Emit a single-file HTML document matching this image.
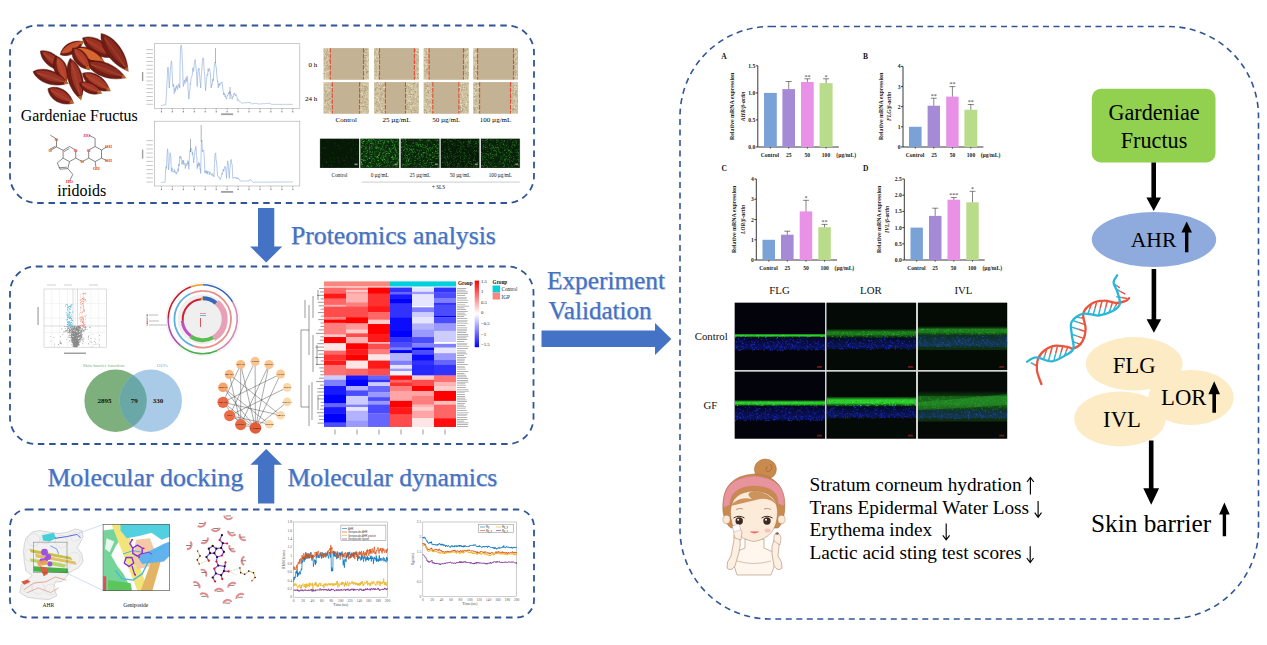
<!DOCTYPE html>
<html><head><meta charset="utf-8">
<style>
html,body{margin:0;padding:0;background:#fff;width:1267px;height:645px;overflow:hidden}
svg{display:block}
text{font-family:"Liberation Serif",serif}
</style></head><body>
<svg width="1267" height="645" viewBox="0 0 1267 645">
<g fill="none" stroke="#2F5597" stroke-width="1.8" stroke-dasharray="6.5 4.8">
<rect x="10" y="25.5" width="524" height="177.5" rx="27"/>
<rect x="10" y="266.5" width="523.5" height="177.5" rx="26"/>
<rect x="10" y="509.5" width="524" height="108" rx="17"/>
</g>
<rect x="680" y="26.5" width="578.5" height="592.5" rx="90" fill="none" stroke="#2F5597" stroke-width="1.6" stroke-dasharray="6 4.5"/>
<g fill="#4472C4">
<path d="M258,208 H274.3 V246.5 H282.3 L266.2,262.5 L250.1,246.5 H258 Z"/>
<path d="M258,503.5 H274.3 V464.8 H282 L266.2,448.9 L250.4,464.8 H258 Z"/>
<path d="M541.5,330.4 H655 V323 L671.4,339 L655,355.1 V347.1 H541.5 Z"/>
</g>
<g fill="#7A8AA8" opacity="0.35">
<text x="291.8" y="245.2" font-size="25.7">Proteomics analysis</text>
<text x="48.199999999999996" y="486.8" font-size="25.85">Molecular docking</text>
<text x="288.40000000000003" y="486.9" font-size="25.6">Molecular dynamics</text>
<text x="547.8" y="289.7" font-size="25.3">Experiment</text>
<text x="549.3" y="320.2" font-size="25.1">Validation</text>
</g><g fill="#4472C4" stroke="#4472C4" stroke-width="0.25">
<text x="291" y="244.2" font-size="25.7">Proteomics analysis</text>
<text x="47.4" y="485.8" font-size="25.85">Molecular docking</text>
<text x="287.6" y="485.9" font-size="25.6">Molecular dynamics</text>
<text x="547" y="288.7" font-size="25.3">Experiment</text>
<text x="548.5" y="319.2" font-size="25.1">Validation</text>
</g>
<g>
<path d="M82.6,37.9 C84.3,50.4 99.2,59.6 113.6,57.2 C109.4,43.1 94.5,33.9 82.6,37.9Z" fill="#6E1C14" stroke="#4A120A" stroke-width="0.5"/>
<path d="M85.1,38.1 C88.0,47.0 101.2,55.2 112.7,55.2 C107.5,45.0 94.3,36.8 85.1,38.1Z" fill="#9A3224"/>
<path d="M86.3,40.2 Q99.5,45.4 110.5,55.2" fill="none" stroke="#D8683A" stroke-width="0.45" opacity="0.6"/>
<path d="M86.3,40.2 Q97.7,48.1 110.5,55.2" fill="none" stroke="#D8683A" stroke-width="0.45" opacity="0.6"/>
<path d="M109.5,57.2 L114.9,57.9 L111.8,53.4Z" fill="#C07030" opacity="0.85"/>
<path d="M101.2,33.6 C99.2,47.4 112.0,65.3 127.9,70.8 C127.8,54.0 115.0,36.1 101.2,33.6Z" fill="#6E1C14" stroke="#4A120A" stroke-width="0.5"/>
<path d="M103.7,35.2 C104.1,45.9 115.5,61.8 127.5,68.3 C125.2,54.8 113.8,38.9 103.7,35.2Z" fill="#8A2C20"/>
<path d="M104.4,38.0 Q116.6,50.7 125.2,67.1" fill="none" stroke="#D8683A" stroke-width="0.45" opacity="0.6"/>
<path d="M104.4,38.0 Q114.0,52.6 125.2,67.1" fill="none" stroke="#D8683A" stroke-width="0.45" opacity="0.6"/>
<path d="M124.0,69.2 L128.7,72.0 L127.6,66.7Z" fill="#C07030" opacity="0.85"/>
<path d="M60.3,54.7 C68.9,58.2 80.0,52.0 83.2,41.6 C72.7,39.1 61.7,45.4 60.3,54.7Z" fill="#6E1C14" stroke="#4A120A" stroke-width="0.5"/>
<path d="M61.2,53.1 C68.0,54.6 77.8,49.0 81.6,41.5 C73.3,41.0 63.4,46.6 61.2,53.1Z" fill="#C2502C"/>
<path d="M63.0,53.1 Q70.8,46.5 80.9,43.0" fill="none" stroke="#D8683A" stroke-width="0.45" opacity="0.6"/>
<path d="M63.0,53.1 Q72.0,48.6 80.9,43.0" fill="none" stroke="#D8683A" stroke-width="0.45" opacity="0.6"/>
<path d="M81.3,45.3 L84.5,40.9 L79.1,41.5Z" fill="#C07030" opacity="0.85"/>
<path d="M75.1,48.5 C77.6,59.6 91.6,66.5 104.3,62.7 C99.5,50.4 85.5,43.6 75.1,48.5Z" fill="#6E1C14" stroke="#4A120A" stroke-width="0.5"/>
<path d="M77.4,48.4 C80.6,56.1 93.1,62.2 103.3,61.1 C98.0,52.3 85.5,46.2 77.4,48.4Z" fill="#D8662E"/>
<path d="M78.6,50.2 Q90.8,53.5 101.4,61.3" fill="none" stroke="#D8683A" stroke-width="0.45" opacity="0.6"/>
<path d="M78.6,50.2 Q89.4,56.2 101.4,61.3" fill="none" stroke="#D8683A" stroke-width="0.45" opacity="0.6"/>
<path d="M100.2,63.2 L105.7,63.4 L102.1,59.2Z" fill="#C07030" opacity="0.85"/>
<path d="M40.4,51.0 C40.8,61.7 52.7,71.2 65.2,70.8 C62.9,58.5 51.0,49.0 40.4,51.0Z" fill="#6E1C14" stroke="#4A120A" stroke-width="0.5"/>
<path d="M42.5,51.4 C44.2,59.2 54.8,67.7 64.6,69.1 C61.1,59.8 50.5,51.3 42.5,51.4Z" fill="#9E3628"/>
<path d="M43.4,53.3 Q54.2,59.2 62.7,68.8" fill="none" stroke="#D8683A" stroke-width="0.45" opacity="0.6"/>
<path d="M43.4,53.3 Q52.4,61.3 62.7,68.8" fill="none" stroke="#D8683A" stroke-width="0.45" opacity="0.6"/>
<path d="M61.1,70.3 L66.4,71.7 L63.9,66.9Z" fill="#C07030" opacity="0.85"/>
<path d="M86.3,62.7 C91.6,74.7 110.4,81.9 125.4,77.6 C117.0,64.5 98.2,57.3 86.3,62.7Z" fill="#6E1C14" stroke="#4A120A" stroke-width="0.5"/>
<path d="M89.0,62.6 C94.6,70.9 111.3,77.3 123.8,75.9 C115.5,66.5 98.8,60.1 89.0,62.6Z" fill="#8E2E22"/>
<path d="M91.0,64.5 Q106.7,67.9 121.5,76.1" fill="none" stroke="#D8683A" stroke-width="0.45" opacity="0.6"/>
<path d="M91.0,64.5 Q105.6,70.8 121.5,76.1" fill="none" stroke="#D8683A" stroke-width="0.45" opacity="0.6"/>
<path d="M121.3,78.4 L126.8,78.2 L122.9,74.3Z" fill="#C07030" opacity="0.85"/>
<path d="M55.9,55.9 C50.1,64.8 54.8,77.9 65.8,83.2 C70.9,72.1 66.1,59.0 55.9,55.9Z" fill="#6E1C14" stroke="#4A120A" stroke-width="0.5"/>
<path d="M57.5,57.2 C54.4,64.4 58.7,76.0 66.3,81.5 C68.6,72.4 64.4,60.7 57.5,57.2Z" fill="#B2422C"/>
<path d="M57.1,59.2 Q63.0,68.8 64.8,80.5" fill="none" stroke="#D8683A" stroke-width="0.45" opacity="0.6"/>
<path d="M57.1,59.2 Q60.3,69.8 64.8,80.5" fill="none" stroke="#D8683A" stroke-width="0.45" opacity="0.6"/>
<path d="M62.6,80.7 L66.4,84.6 L66.7,79.2Z" fill="#C07030" opacity="0.85"/>
<path d="M72.7,47.9 C69.6,57.8 77.6,68.3 89.4,69.6 C91.1,57.8 83.1,47.4 72.7,47.9Z" fill="#6E1C14" stroke="#4A120A" stroke-width="0.5"/>
<path d="M74.5,48.5 C73.6,56.0 80.7,65.3 89.4,67.9 C89.1,58.8 81.9,49.6 74.5,48.5Z" fill="#AE3E2A"/>
<path d="M74.7,50.5 Q82.8,57.3 87.7,67.4" fill="none" stroke="#D8683A" stroke-width="0.45" opacity="0.6"/>
<path d="M74.7,50.5 Q80.5,59.1 87.7,67.4" fill="none" stroke="#D8683A" stroke-width="0.45" opacity="0.6"/>
<path d="M85.5,68.1 L90.3,70.8 L89.0,65.4Z" fill="#C07030" opacity="0.85"/>
<path d="M82.6,73.3 C83.8,84.6 96.9,93.0 109.9,90.7 C106.5,77.9 93.4,69.6 82.6,73.3Z" fill="#6E1C14" stroke="#4A120A" stroke-width="0.5"/>
<path d="M84.8,73.4 C87.2,81.5 98.8,88.9 109.1,88.9 C104.8,79.6 93.1,72.2 84.8,73.4Z" fill="#A63A2A"/>
<path d="M85.9,75.4 Q97.5,80.0 107.2,88.9" fill="none" stroke="#D8683A" stroke-width="0.45" opacity="0.6"/>
<path d="M85.9,75.4 Q95.9,82.5 107.2,88.9" fill="none" stroke="#D8683A" stroke-width="0.45" opacity="0.6"/>
<path d="M105.8,90.6 L111.2,91.5 L108.1,86.9Z" fill="#C07030" opacity="0.85"/>
<path d="M33.0,71.7 C37.8,82.7 54.5,88.2 67.7,83.2 C60.1,71.3 43.4,65.7 33.0,71.7Z" fill="#6E1C14" stroke="#4A120A" stroke-width="0.5"/>
<path d="M35.4,71.4 C40.4,78.9 55.3,83.8 66.3,81.6 C58.8,73.3 43.9,68.4 35.4,71.4Z" fill="#963226"/>
<path d="M37.1,73.1 Q51.1,75.2 64.2,82.1" fill="none" stroke="#D8683A" stroke-width="0.45" opacity="0.6"/>
<path d="M37.1,73.1 Q50.1,78.1 64.2,82.1" fill="none" stroke="#D8683A" stroke-width="0.45" opacity="0.6"/>
<path d="M63.7,84.2 L69.1,83.7 L65.1,80.0Z" fill="#C07030" opacity="0.85"/>
<path d="M70.2,58.4 C63.1,69.8 68.2,89.5 80.7,99.3 C87.0,84.6 81.9,65.0 70.2,58.4Z" fill="#6E1C14" stroke="#4A120A" stroke-width="0.5"/>
<path d="M71.9,60.6 C68.2,70.1 72.7,87.6 81.3,97.0 C84.3,84.6 79.8,67.1 71.9,60.6Z" fill="#9C3426"/>
<path d="M71.4,63.3 Q77.9,78.2 79.7,95.2" fill="none" stroke="#D8683A" stroke-width="0.45" opacity="0.6"/>
<path d="M71.4,63.3 Q74.8,79.0 79.7,95.2" fill="none" stroke="#D8683A" stroke-width="0.45" opacity="0.6"/>
<path d="M77.7,96.5 L81.1,100.8 L82.0,95.4Z" fill="#C07030" opacity="0.85"/>
<path d="M79.5,83.2 C81.4,91.7 91.8,96.5 101.2,93.1 C97.6,83.8 87.2,79.0 79.5,83.2Z" fill="#6E1C14" stroke="#4A120A" stroke-width="0.5"/>
<path d="M81.1,83.1 C83.6,88.9 92.9,93.2 100.5,91.9 C96.5,85.3 87.2,81.1 81.1,83.1Z" fill="#A23628"/>
<path d="M82.1,84.4 Q91.1,86.5 99.0,92.1" fill="none" stroke="#D8683A" stroke-width="0.45" opacity="0.6"/>
<path d="M82.1,84.4 Q90.1,88.6 99.0,92.1" fill="none" stroke="#D8683A" stroke-width="0.45" opacity="0.6"/>
<path d="M97.1,93.7 L102.6,93.8 L98.9,89.7Z" fill="#C07030" opacity="0.85"/>
<path d="M47.9,88.8 C49.1,99.7 61.3,106.6 73.3,103.1 C70.0,91.0 57.8,84.1 47.9,88.8Z" fill="#6E1C14" stroke="#4A120A" stroke-width="0.5"/>
<path d="M49.9,88.7 C52.2,96.4 63.0,102.4 72.5,101.4 C68.4,92.8 57.6,86.7 49.9,88.7Z" fill="#A0342A"/>
<path d="M50.9,90.5 Q61.7,93.9 70.7,101.6" fill="none" stroke="#D8683A" stroke-width="0.45" opacity="0.6"/>
<path d="M50.9,90.5 Q60.2,96.5 70.7,101.6" fill="none" stroke="#D8683A" stroke-width="0.45" opacity="0.6"/>
<path d="M69.2,103.3 L74.6,103.8 L71.3,99.4Z" fill="#C07030" opacity="0.85"/>
</g>
<text x="20.8" y="121.2" font-size="15.9" fill="#000">Gardeniae Fructus</text>
<text x="57.3" y="196.3" font-size="16" fill="#000">iridoids</text>
<g stroke="#555" stroke-width="0.7" fill="none">
<line x1="50.3" y1="135.2" x2="56.5" y2="139"/>
<line x1="56.5" y1="139" x2="56.5" y2="146.9"/>
<line x1="56.5" y1="146.9" x2="50.3" y2="150.3"/>
<line x1="56.5" y1="146.9" x2="63.1" y2="150.3"/>
<line x1="63.1" y1="150.3" x2="69.5" y2="146.5"/>
<line x1="69.5" y1="146.5" x2="75.7" y2="150"/>
<line x1="75.7" y1="150" x2="75.7" y2="158.1"/>
<line x1="75.7" y1="158.1" x2="69.5" y2="161.6"/>
<line x1="69.5" y1="161.6" x2="63.1" y2="158.1"/>
<line x1="63.1" y1="158.1" x2="63.1" y2="150.3"/>
<line x1="63.1" y1="158.1" x2="57.3" y2="162.8"/>
<line x1="57.3" y1="162.8" x2="60" y2="169.2"/>
<line x1="60" y1="169.2" x2="67.8" y2="168.6"/>
<line x1="67.8" y1="168.6" x2="69.5" y2="161.6"/>
<line x1="67.8" y1="168.6" x2="72.8" y2="174.4"/>
<line x1="72.8" y1="174.4" x2="69.5" y2="181"/>
<line x1="75.7" y1="158.1" x2="82.3" y2="161.6"/>
<line x1="82.3" y1="161.6" x2="88.7" y2="158.1"/>
<line x1="88.7" y1="158.1" x2="88.7" y2="150"/>
<line x1="88.7" y1="150" x2="95.1" y2="146.5"/>
<line x1="95.1" y1="146.5" x2="95.1" y2="138.4"/>
<line x1="95.1" y1="138.4" x2="89" y2="135.2"/>
<line x1="95.1" y1="146.5" x2="101.5" y2="150"/>
<line x1="101.5" y1="150" x2="107.5" y2="146.5"/>
<line x1="101.5" y1="150" x2="101.5" y2="158.1"/>
<line x1="101.5" y1="158.1" x2="107.5" y2="161"/>
<line x1="101.5" y1="158.1" x2="95.1" y2="161.6"/>
<line x1="95.1" y1="161.6" x2="88.7" y2="158.1"/>
<line x1="95.1" y1="161.6" x2="96" y2="167.5"/>
<line x1="64" y1="151.6" x2="69.3" y2="148.5"/><line x1="58.8" y1="167.8" x2="66.8" y2="167.2"/><line x1="55.5" y1="146.2" x2="50.1" y2="149.1"/>
</g>
<g fill="#F03030" font-size="4.4" font-weight="bold" style="font-family:'Liberation Sans',sans-serif">
<text x="56.5" y="140.5" text-anchor="middle">O</text>
<text x="50.3" y="151.8" text-anchor="middle">O</text>
<text x="75.7" y="151.5" text-anchor="middle">O</text>
<text x="82.3" y="163.2" text-anchor="middle">O</text>
<text x="88.7" y="151.5" text-anchor="middle">O</text>
<text x="87" y="136.6" text-anchor="middle">HO</text>
<text x="108.5" y="147.6" text-anchor="middle">OH</text>
<text x="108.5" y="162.4" text-anchor="middle">OH</text>
<text x="96.3" y="169.8" text-anchor="middle">OH</text>
<text x="69.5" y="182.6" text-anchor="middle">HO</text>
</g>
<rect x="154.4" y="43.7" width="145.4" height="64.6" fill="#fff" stroke="#a8a8a8" stroke-width="0.6"/>
<polyline points="160.9,105.5 161.3,105.4 161.6,105.4 162.0,105.3 162.3,105.3 162.7,105.2 163.0,105.2 163.4,105.1 163.7,105.1 164.1,105.0 164.4,105.0 164.8,104.9 165.1,104.9 165.5,104.8 165.8,104.8 166.2,97.4 166.5,93.6 166.9,84.6 167.2,79.4 167.6,69.0 167.9,67.1 168.3,67.8 168.6,75.5 169.0,82.3 169.3,88.0 169.7,80.6 170.0,76.2 170.4,70.1 170.7,66.6 171.1,62.5 171.4,60.8 171.8,63.7 172.1,70.9 172.4,78.9 172.8,85.2 173.1,87.0 173.5,84.2 173.8,86.8 174.2,93.6 174.5,91.7 174.9,88.1 175.2,89.5 175.6,91.4 175.9,86.7 176.3,87.8 176.6,85.5 177.0,86.5 177.3,89.3 177.7,89.4 178.0,85.7 178.4,84.6 178.7,83.7 179.1,86.7 179.4,85.3 179.8,88.0 180.1,63.9 180.5,47.6 180.8,47.7 181.2,44.9 181.5,46.3 181.9,51.7 182.2,60.2 182.6,65.9 182.9,75.9 183.3,86.6 183.6,85.1 184.0,82.3 184.3,79.8 184.7,81.7 185.0,83.7 185.4,81.1 185.7,79.0 186.1,77.6 186.4,78.5 186.8,81.8 187.1,76.1 187.5,81.1 187.8,82.2 188.2,89.7 188.5,94.1 188.8,99.2 189.2,96.1 189.5,90.4 189.9,90.0 190.2,83.5 190.6,84.6 190.9,79.5 191.3,77.2 191.6,76.9 192.0,75.7 192.3,75.0 192.7,69.0 193.0,67.7 193.4,71.5 193.7,71.3 194.1,65.5 194.5,62.4 194.8,61.2 195.2,59.6 195.5,62.9 196.0,67.0 196.4,70.8 196.8,77.9 197.2,86.6 197.6,77.2 197.9,74.3 198.3,69.4 198.6,69.9 199.0,68.1 199.3,73.8 199.7,75.0 200.0,81.5 200.4,83.9 200.7,88.0 201.1,77.8 201.4,75.8 201.8,69.2 202.1,64.8 202.5,61.6 202.8,58.0 203.2,57.8 203.5,59.0 203.9,67.1 204.3,71.2 204.8,77.0 205.2,83.9 205.6,90.8 205.9,87.3 206.3,81.1 206.6,79.2 207.0,75.2 207.3,74.3 207.7,75.5 208.1,68.7 208.4,71.4 208.8,70.2 209.1,68.7 209.5,68.5 209.9,71.2 210.3,72.7 210.8,81.9 211.2,88.0 211.5,84.3 211.9,85.4 212.2,84.4 212.6,80.3 212.9,78.8 213.3,81.1 213.6,75.1 214.0,69.7 214.3,66.8 214.7,63.2 215.0,62.1 215.4,62.2 215.7,64.1 216.1,68.1 216.4,67.9 216.8,75.5 217.1,77.8 217.5,81.7 217.8,81.0 218.2,88.0 218.5,86.9 218.9,83.6 219.2,85.4 219.6,83.7 219.9,85.5 220.3,83.0 220.6,82.8 220.9,82.7 221.3,82.9 221.6,83.2 222.0,81.9 222.3,83.2 222.7,88.0 223.0,90.8 223.4,91.7 223.7,95.0 224.1,92.8 224.4,95.0 224.8,94.3 225.1,96.9 225.5,95.5 225.8,97.8 226.2,98.1 226.5,99.2 226.9,96.6 227.2,96.4 227.6,95.0 227.9,95.4 228.3,93.1 228.6,93.8 229.0,92.1 229.3,93.6 229.7,92.3 230.0,91.2 230.4,92.8 230.7,94.4 231.1,94.3 231.4,96.0 231.8,96.6 232.1,99.2 232.5,97.4 232.8,96.5 233.2,97.0 233.5,94.1 233.9,94.3 234.2,93.0 234.6,93.1 234.9,95.0 235.3,95.6 235.6,96.0 236.0,94.2 236.3,95.7 236.7,96.1 237.0,97.1 237.3,99.4 237.7,100.6 238.0,99.3 238.4,100.2 238.7,100.3 239.1,100.9 239.4,101.5 239.8,101.5 240.1,101.8 240.5,102.2 240.8,102.4 241.2,102.6 241.5,103.0 241.9,103.4 242.2,103.3 242.6,103.0 242.9,103.1 243.3,103.1 243.6,102.8 244.0,102.9 244.3,102.9 244.7,103.0 245.0,102.7 245.4,103.0 245.7,102.8 246.1,102.8 246.4,102.4 246.8,102.8 247.1,102.6 247.5,102.6 247.8,102.9 248.2,102.7 248.5,102.2 248.9,102.3 249.2,102.6 249.6,102.6 249.9,102.0 250.3,102.7 250.6,102.7 251.0,103.1 251.3,103.5 251.7,104.1 252.0,104.0 252.4,103.9 252.7,103.7 253.0,103.8 253.4,103.7 253.7,103.5 254.1,103.4 254.4,103.4 254.8,103.5 255.1,103.2 255.5,103.3 255.8,103.4 256.2,103.2 256.5,103.5 256.9,103.6 257.2,103.5 257.6,103.7 257.9,103.8 258.3,103.9 258.6,104.1 259.0,104.0 259.3,104.0 259.7,103.9 260.0,104.0 260.4,103.9 260.7,103.9 261.1,103.8 261.4,103.9 261.8,103.8 262.1,103.8 262.5,103.7 262.8,103.7 263.2,103.7 263.5,103.7 263.9,103.5 264.2,103.7 264.6,103.7 264.9,103.6 265.3,103.7 265.6,103.4 266.0,103.4 266.3,103.6 266.7,103.4 267.0,103.5 267.4,103.3 267.7,103.4 268.1,103.5 268.4,103.3 268.8,103.5 269.1,103.1 269.4,103.1 269.8,103.2 270.1,103.3 270.5,103.4 270.8,103.7 271.2,104.4 271.5,104.4 271.9,104.4 272.2,104.4 272.6,104.4 272.9,104.4 273.3,104.4 273.6,104.4 274.0,104.4 274.3,104.4 274.7,104.4 275.0,104.4 275.4,104.4 275.7,104.4 276.1,104.4 276.4,104.4 276.8,104.4 277.1,104.4 277.5,104.4 277.8,104.4 278.2,104.4 278.5,104.4 278.9,104.4 279.2,104.4 279.6,104.4 279.9,104.4 280.3,104.4 280.6,104.4 281.0,104.4 281.3,104.4 281.7,104.4 282.0,104.4 282.4,104.4 282.7,104.4 283.1,104.4 283.4,104.4 283.8,104.4 284.1,104.4 284.5,104.4 284.8,104.4 285.2,104.4 285.5,104.4 285.8,104.4 286.2,104.4 286.5,104.4 286.9,104.4 287.2,104.4 287.6,104.4 287.9,104.4 288.3,104.4 288.6,104.4 289.0,104.4 289.3,104.4 289.7,104.4 290.0,104.4 290.4,104.4 290.7,104.4 291.1,104.4 291.4,104.4 291.8,104.4 292.1,104.4 292.5,104.4 292.8,104.4" fill="none" stroke="#86A8D8" stroke-width="0.6"/>
<g stroke="#666" stroke-width="0.5">
<line x1="161.4" y1="108.3" x2="161.4" y2="109.8"/>
<line x1="172.3" y1="108.3" x2="172.3" y2="109.8"/>
<line x1="183.3" y1="108.3" x2="183.3" y2="109.8"/>
<line x1="194.2" y1="108.3" x2="194.2" y2="109.8"/>
<line x1="205.2" y1="108.3" x2="205.2" y2="109.8"/>
<line x1="216.2" y1="108.3" x2="216.2" y2="109.8"/>
<line x1="227.1" y1="108.3" x2="227.1" y2="109.8"/>
<line x1="238.1" y1="108.3" x2="238.1" y2="109.8"/>
<line x1="249.0" y1="108.3" x2="249.0" y2="109.8"/>
<line x1="260.0" y1="108.3" x2="260.0" y2="109.8"/>
<line x1="270.9" y1="108.3" x2="270.9" y2="109.8"/>
<line x1="281.9" y1="108.3" x2="281.9" y2="109.8"/>
<line x1="292.8" y1="108.3" x2="292.8" y2="109.8"/>
</g>
<g fill="#777">
<rect x="160.9" y="110.8" width="1" height="1.6"/>
<rect x="171.8" y="110.8" width="1" height="1.6"/>
<rect x="182.8" y="110.8" width="1" height="1.6"/>
<rect x="193.8" y="110.8" width="1" height="1.6"/>
<rect x="204.7" y="110.8" width="1" height="1.6"/>
<rect x="215.7" y="110.8" width="1" height="1.6"/>
<rect x="226.6" y="110.8" width="1" height="1.6"/>
<rect x="237.6" y="110.8" width="1" height="1.6"/>
<rect x="248.5" y="110.8" width="1" height="1.6"/>
<rect x="259.5" y="110.8" width="1" height="1.6"/>
<rect x="270.4" y="110.8" width="1" height="1.6"/>
<rect x="281.4" y="110.8" width="1" height="1.6"/>
<rect x="292.3" y="110.8" width="1" height="1.6"/>
<rect x="146.4" y="49.2" width="6.5" height="0.9" opacity="0.45"/>
<rect x="146.4" y="53.1" width="6.5" height="0.9" opacity="0.45"/>
<rect x="146.4" y="57.0" width="6.5" height="0.9" opacity="0.45"/>
<rect x="146.4" y="61.0" width="6.5" height="0.9" opacity="0.45"/>
<rect x="146.4" y="64.8" width="6.5" height="0.9" opacity="0.45"/>
<rect x="146.4" y="68.8" width="6.5" height="0.9" opacity="0.45"/>
<rect x="146.4" y="72.6" width="6.5" height="0.9" opacity="0.45"/>
<rect x="146.4" y="76.5" width="6.5" height="0.9" opacity="0.45"/>
<rect x="146.4" y="80.5" width="6.5" height="0.9" opacity="0.45"/>
<rect x="146.4" y="84.4" width="6.5" height="0.9" opacity="0.45"/>
<rect x="146.4" y="88.2" width="6.5" height="0.9" opacity="0.45"/>
<rect x="146.4" y="92.1" width="6.5" height="0.9" opacity="0.45"/>
<rect x="146.4" y="96.0" width="6.5" height="0.9" opacity="0.45"/>
<rect x="146.4" y="100.0" width="6.5" height="0.9" opacity="0.45"/>
<rect x="146.4" y="103.8" width="6.5" height="0.9" opacity="0.45"/>
<rect x="221.10000000000002" y="113.3" width="12" height="1.8" opacity="0.7"/>
<rect x="141.9" y="72.0" width="1.4" height="9" opacity="0.7"/>
</g>
<line x1="215.5" y1="48" x2="215.5" y2="63" stroke="#444" stroke-width="0.4"/><line x1="230" y1="87" x2="230" y2="99" stroke="#444" stroke-width="0.4"/>
<rect x="154.4" y="121.2" width="145.4" height="64.8" fill="#fff" stroke="#a8a8a8" stroke-width="0.6"/>
<polyline points="160.9,182.3 161.3,182.3 161.6,182.3 162.0,182.3 162.3,182.3 162.7,182.3 163.0,182.3 163.4,182.3 163.7,182.3 164.1,182.3 164.4,182.3 164.8,182.3 165.1,182.3 165.4,174.2 165.8,168.2 166.1,166.3 166.5,168.6 167.0,155.3 167.5,148.8 167.9,151.4 168.2,162.8 168.6,170.0 169.1,163.4 169.6,161.6 170.0,152.7 170.4,153.3 170.9,158.1 171.4,171.4 171.9,167.6 172.4,168.6 172.8,172.1 173.1,171.3 173.5,171.1 173.8,171.0 174.2,172.5 174.5,169.5 174.9,170.9 175.2,171.6 175.6,173.1 175.9,172.8 176.3,174.2 176.6,172.2 177.0,172.7 177.3,171.4 177.7,170.8 178.0,168.6 178.4,171.4 178.7,163.8 179.1,166.2 179.4,163.0 179.8,156.4 180.1,158.6 180.5,156.1 180.8,156.7 181.2,157.1 181.5,159.4 181.9,164.4 182.2,163.2 182.6,160.2 182.9,160.5 183.3,164.4 183.6,160.5 184.0,164.4 184.3,163.4 184.7,163.8 185.0,164.4 185.4,168.6 185.7,164.5 186.1,163.1 186.4,166.0 186.8,165.5 187.1,164.9 187.5,164.5 187.8,160.5 188.2,164.4 188.5,162.1 188.8,169.3 189.2,160.7 189.5,156.1 190.0,150.1 190.5,151.9 190.9,148.0 191.2,148.2 191.6,149.2 192.0,150.9 192.3,154.7 192.7,152.3 193.0,157.0 193.4,157.6 193.7,163.0 194.1,158.7 194.4,155.2 194.8,152.5 195.1,149.1 195.5,149.1 195.8,146.3 196.2,149.4 196.5,154.7 196.9,158.0 197.2,168.6 197.6,164.2 197.9,166.8 198.3,165.0 198.6,162.5 199.0,165.8 199.3,165.8 199.7,162.9 200.0,169.4 200.4,168.5 200.7,173.5 201.1,154.6 201.4,142.1 201.8,140.0 202.2,146.6 202.5,151.9 202.9,150.1 203.2,150.9 203.6,150.3 203.9,151.9 204.4,160.6 204.9,172.8 205.2,170.7 205.6,172.2 205.9,172.8 206.3,170.6 206.6,173.7 207.0,174.2 207.3,171.0 207.7,173.5 208.0,171.9 208.4,172.1 208.7,171.5 209.1,172.2 209.4,174.8 209.8,172.5 210.1,172.0 210.5,172.7 210.8,173.6 211.2,175.1 211.5,175.3 211.9,174.7 212.2,173.4 212.6,175.6 212.9,175.5 213.3,174.9 213.6,174.9 214.0,177.0 214.3,168.3 214.7,161.1 215.0,154.7 215.4,153.3 215.7,152.9 216.1,160.7 216.4,160.7 216.8,164.9 217.1,168.2 217.5,175.6 217.8,175.5 218.2,176.3 218.5,177.1 218.9,176.8 219.2,177.9 219.6,177.6 219.9,178.6 220.3,179.8 220.6,178.5 220.9,177.5 221.3,177.1 221.6,176.1 222.0,173.1 222.3,174.2 222.7,172.0 223.0,170.8 223.4,169.0 223.7,171.4 224.2,169.3 224.6,166.8 225.0,167.0 225.4,166.5 225.8,169.9 226.2,173.2 226.5,178.4 226.9,170.4 227.3,165.0 227.6,160.9 228.1,163.1 228.5,166.6 228.9,173.9 229.3,178.4 229.7,169.6 230.1,167.6 230.4,162.3 230.9,160.6 231.3,159.4 231.7,163.9 232.1,164.4 232.5,170.7 232.8,178.4 233.2,178.4 233.5,178.3 233.9,177.6 234.2,177.5 234.6,177.2 234.9,177.9 235.3,177.4 235.6,178.1 236.0,178.0 236.3,177.5 236.7,178.8 237.0,177.7 237.3,178.6 237.7,178.4 238.0,177.8 238.4,179.1 238.7,179.0 239.1,178.9 239.4,179.6 239.8,180.4 240.1,180.4 240.5,181.2 240.8,181.2 241.2,181.0 241.5,181.1 241.9,180.9 242.2,181.1 242.6,181.1 242.9,181.1 243.3,181.0 243.6,181.1 244.0,181.0 244.3,180.9 244.7,181.0 245.0,180.9 245.4,181.1 245.7,181.2 246.1,181.0 246.4,181.1 246.8,180.9 247.1,181.0 247.5,181.0 247.8,181.1 248.2,181.1 248.5,180.9 248.9,181.2 249.2,180.5 249.6,180.3 249.9,179.7 250.3,179.8 250.6,179.7 251.0,179.9 251.3,180.4 251.7,181.0 252.0,181.3 252.4,181.6 252.7,182.0 253.0,182.3 253.4,182.3 253.7,182.3 254.1,182.3 254.4,182.3 254.8,182.3 255.1,182.3 255.5,182.3 255.8,182.3 256.2,182.3 256.5,182.3 256.9,182.3 257.2,182.3 257.6,182.2 257.9,182.2 258.3,182.2 258.6,182.2 259.0,182.2 259.3,182.2 259.7,182.2 260.0,182.2 260.4,182.2 260.7,182.2 261.1,182.2 261.4,182.2 261.8,182.2 262.1,182.2 262.5,182.2 262.8,182.2 263.2,182.2 263.5,182.2 263.9,182.2 264.2,182.2 264.6,182.2 264.9,182.2 265.3,182.2 265.6,182.2 266.0,182.2 266.3,182.2 266.7,182.2 267.0,182.1 267.4,182.1 267.7,182.1 268.1,182.1 268.4,182.1 268.8,182.1 269.1,182.1 269.4,182.1 269.8,182.1 270.1,182.1 270.5,182.1 270.8,182.1 271.2,182.1 271.5,182.1 271.9,182.1 272.2,182.1 272.6,182.1 272.9,182.1 273.3,182.1 273.6,182.1 274.0,182.1 274.3,182.1 274.7,182.1 275.0,182.1 275.4,182.1 275.7,182.1 276.1,182.1 276.4,182.0 276.8,182.0 277.1,182.0 277.5,182.0 277.8,182.0 278.2,182.0 278.5,182.0 278.9,182.0 279.2,182.0 279.6,182.0 279.9,182.0 280.3,182.0 280.6,182.0 281.0,182.0 281.3,182.0 281.7,182.0 282.0,182.0 282.4,182.0 282.7,182.0 283.1,182.0 283.4,182.0 283.8,182.0 284.1,182.0 284.5,182.0 284.8,182.0 285.2,182.0 285.5,182.0 285.8,182.0 286.2,181.9 286.5,181.9 286.9,181.9 287.2,181.9 287.6,181.9 287.9,181.9 288.3,181.9 288.6,181.9 289.0,181.9 289.3,181.9 289.7,181.9 290.0,181.9 290.4,181.9 290.7,181.9 291.1,181.9 291.4,181.9 291.8,181.9 292.1,181.9 292.5,181.9 292.8,181.9" fill="none" stroke="#86A8D8" stroke-width="0.6"/>
<g stroke="#666" stroke-width="0.5">
<line x1="161.4" y1="186" x2="161.4" y2="187.5"/>
<line x1="172.3" y1="186" x2="172.3" y2="187.5"/>
<line x1="183.3" y1="186" x2="183.3" y2="187.5"/>
<line x1="194.2" y1="186" x2="194.2" y2="187.5"/>
<line x1="205.2" y1="186" x2="205.2" y2="187.5"/>
<line x1="216.2" y1="186" x2="216.2" y2="187.5"/>
<line x1="227.1" y1="186" x2="227.1" y2="187.5"/>
<line x1="238.1" y1="186" x2="238.1" y2="187.5"/>
<line x1="249.0" y1="186" x2="249.0" y2="187.5"/>
<line x1="260.0" y1="186" x2="260.0" y2="187.5"/>
<line x1="270.9" y1="186" x2="270.9" y2="187.5"/>
<line x1="281.9" y1="186" x2="281.9" y2="187.5"/>
<line x1="292.8" y1="186" x2="292.8" y2="187.5"/>
</g>
<g fill="#777">
<rect x="160.9" y="188.5" width="1" height="1.6"/>
<rect x="171.8" y="188.5" width="1" height="1.6"/>
<rect x="182.8" y="188.5" width="1" height="1.6"/>
<rect x="193.8" y="188.5" width="1" height="1.6"/>
<rect x="204.7" y="188.5" width="1" height="1.6"/>
<rect x="215.7" y="188.5" width="1" height="1.6"/>
<rect x="226.6" y="188.5" width="1" height="1.6"/>
<rect x="237.6" y="188.5" width="1" height="1.6"/>
<rect x="248.5" y="188.5" width="1" height="1.6"/>
<rect x="259.5" y="188.5" width="1" height="1.6"/>
<rect x="270.4" y="188.5" width="1" height="1.6"/>
<rect x="281.4" y="188.5" width="1" height="1.6"/>
<rect x="292.3" y="188.5" width="1" height="1.6"/>
<rect x="146.4" y="140.2" width="6.5" height="0.9" opacity="0.45"/>
<rect x="146.4" y="144.4" width="6.5" height="0.9" opacity="0.45"/>
<rect x="146.4" y="148.5" width="6.5" height="0.9" opacity="0.45"/>
<rect x="146.4" y="152.6" width="6.5" height="0.9" opacity="0.45"/>
<rect x="146.4" y="156.8" width="6.5" height="0.9" opacity="0.45"/>
<rect x="146.4" y="160.9" width="6.5" height="0.9" opacity="0.45"/>
<rect x="146.4" y="165.0" width="6.5" height="0.9" opacity="0.45"/>
<rect x="146.4" y="169.2" width="6.5" height="0.9" opacity="0.45"/>
<rect x="146.4" y="173.3" width="6.5" height="0.9" opacity="0.45"/>
<rect x="146.4" y="177.4" width="6.5" height="0.9" opacity="0.45"/>
<rect x="146.4" y="181.6" width="6.5" height="0.9" opacity="0.45"/>
<rect x="221.10000000000002" y="191" width="12" height="1.8" opacity="0.7"/>
<rect x="141.9" y="149.6" width="1.4" height="9" opacity="0.7"/>
</g>
<line x1="201.2" y1="125" x2="201.2" y2="142" stroke="#444" stroke-width="0.4"/><line x1="190.5" y1="139" x2="190.5" y2="152" stroke="#444" stroke-width="0.4"/>
<rect x="323.5" y="48.2" width="45.3" height="31.4" fill="#CDBF9E"/>
<rect x="330.3" y="48.2" width="33.2" height="31.4" fill="#C3B293"/>
<rect x="323.5" y="82.2" width="45.3" height="31.4" fill="#CDBF9E"/>
<rect x="332.3" y="82.2" width="27.3" height="31.4" fill="#C3B293"/>
<rect x="374.1" y="48.2" width="44.8" height="31.4" fill="#CDBF9E"/>
<rect x="379.5" y="48.2" width="34.9" height="31.4" fill="#C3B293"/>
<rect x="374.1" y="82.2" width="44.8" height="31.4" fill="#CDBF9E"/>
<rect x="385.4" y="82.2" width="20.1" height="31.4" fill="#C3B293"/>
<rect x="423.6" y="48.2" width="45.2" height="31.4" fill="#CDBF9E"/>
<rect x="429.1" y="48.2" width="34.4" height="31.4" fill="#C3B293"/>
<rect x="423.6" y="82.2" width="45.2" height="31.4" fill="#CDBF9E"/>
<rect x="432.8" y="82.2" width="26.1" height="31.4" fill="#C3B293"/>
<rect x="473.2" y="48.2" width="44.8" height="31.4" fill="#CDBF9E"/>
<rect x="477.6" y="48.2" width="35.9" height="31.4" fill="#C3B293"/>
<rect x="473.2" y="82.2" width="44.8" height="31.4" fill="#CDBF9E"/>
<rect x="479.6" y="82.2" width="30.9" height="31.4" fill="#C3B293"/>
<path fill="#E9E1C6"  d="M328.3 63.9h0.9v0.9h-0.9zM324.9 48.3h0.9v0.9h-0.9zM324.9 55.3h0.9v0.9h-0.9zM327.2 49.2h0.9v0.9h-0.9zM324.2 76.6h0.9v0.9h-0.9zM326.8 58.7h0.9v0.9h-0.9zM324.9 72.1h0.9v0.9h-0.9zM326.0 59.4h0.9v0.9h-0.9zM325.8 78.6h0.9v0.9h-0.9zM329.5 63.4h0.9v0.9h-0.9zM326.8 71.1h0.9v0.9h-0.9zM324.6 53.4h0.9v0.9h-0.9zM325.3 51.4h0.9v0.9h-0.9zM328.4 72.0h0.9v0.9h-0.9zM326.4 59.7h0.9v0.9h-0.9zM328.8 53.2h0.9v0.9h-0.9zM328.3 71.9h0.9v0.9h-0.9zM328.5 49.8h0.9v0.9h-0.9zM325.2 61.0h0.9v0.9h-0.9zM329.4 71.0h0.9v0.9h-0.9zM325.0 77.5h0.9v0.9h-0.9zM327.9 49.1h0.9v0.9h-0.9zM328.6 57.6h0.9v0.9h-0.9zM325.2 71.7h0.9v0.9h-0.9zM327.6 77.4h0.9v0.9h-0.9zM327.0 56.1h0.9v0.9h-0.9zM329.3 75.9h0.9v0.9h-0.9zM324.1 51.1h0.9v0.9h-0.9zM327.4 52.1h0.9v0.9h-0.9zM325.4 63.3h0.9v0.9h-0.9zM324.5 53.8h0.9v0.9h-0.9zM327.8 65.0h0.9v0.9h-0.9zM328.2 48.4h0.9v0.9h-0.9zM323.9 71.6h0.9v0.9h-0.9zM325.4 49.5h0.9v0.9h-0.9zM325.4 75.8h0.9v0.9h-0.9zM324.1 66.6h0.9v0.9h-0.9zM327.9 77.8h0.9v0.9h-0.9zM324.1 50.5h0.9v0.9h-0.9zM328.4 71.5h0.9v0.9h-0.9zM326.2 64.0h0.9v0.9h-0.9zM325.9 55.1h0.9v0.9h-0.9zM328.4 70.3h0.9v0.9h-0.9zM324.9 60.0h0.9v0.9h-0.9zM327.3 77.7h0.9v0.9h-0.9zM327.7 69.1h0.9v0.9h-0.9zM323.5 57.8h0.9v0.9h-0.9zM328.0 62.3h0.9v0.9h-0.9zM329.2 69.7h0.9v0.9h-0.9zM325.1 77.3h0.9v0.9h-0.9zM325.0 74.1h0.9v0.9h-0.9zM325.2 53.5h0.9v0.9h-0.9zM327.7 48.8h0.9v0.9h-0.9zM364.6 48.4h0.9v0.9h-0.9zM363.9 57.7h0.9v0.9h-0.9zM367.5 59.5h0.9v0.9h-0.9zM367.1 73.4h0.9v0.9h-0.9zM363.7 53.9h0.9v0.9h-0.9zM363.6 66.0h0.9v0.9h-0.9zM366.2 67.2h0.9v0.9h-0.9zM367.1 58.5h0.9v0.9h-0.9zM367.5 50.4h0.9v0.9h-0.9zM365.8 68.9h0.9v0.9h-0.9zM364.7 50.0h0.9v0.9h-0.9zM366.8 64.3h0.9v0.9h-0.9zM367.2 54.7h0.9v0.9h-0.9zM364.3 69.9h0.9v0.9h-0.9zM367.6 69.0h0.9v0.9h-0.9zM367.0 75.8h0.9v0.9h-0.9zM367.6 77.9h0.9v0.9h-0.9zM364.2 76.7h0.9v0.9h-0.9zM367.5 59.3h0.9v0.9h-0.9zM365.3 53.7h0.9v0.9h-0.9zM367.2 59.3h0.9v0.9h-0.9zM363.6 68.6h0.9v0.9h-0.9zM364.0 76.6h0.9v0.9h-0.9zM367.5 63.9h0.9v0.9h-0.9zM364.6 61.4h0.9v0.9h-0.9zM365.7 56.3h0.9v0.9h-0.9zM366.8 78.6h0.9v0.9h-0.9zM367.2 63.0h0.9v0.9h-0.9zM365.2 73.5h0.9v0.9h-0.9zM366.9 59.7h0.9v0.9h-0.9zM364.2 73.6h0.9v0.9h-0.9zM366.6 57.3h0.9v0.9h-0.9zM364.5 69.2h0.9v0.9h-0.9zM366.4 59.5h0.9v0.9h-0.9zM366.2 61.8h0.9v0.9h-0.9zM366.4 59.4h0.9v0.9h-0.9zM366.9 67.7h0.9v0.9h-0.9zM363.6 67.9h0.9v0.9h-0.9zM324.2 97.2h0.9v0.9h-0.9zM329.9 92.2h0.9v0.9h-0.9zM325.2 83.7h0.9v0.9h-0.9zM325.3 85.6h0.9v0.9h-0.9zM325.1 103.6h0.9v0.9h-0.9zM323.6 91.5h0.9v0.9h-0.9zM329.7 99.9h0.9v0.9h-0.9zM329.7 104.2h0.9v0.9h-0.9zM323.9 91.0h0.9v0.9h-0.9zM324.7 91.6h0.9v0.9h-0.9zM328.8 95.7h0.9v0.9h-0.9zM326.5 108.7h0.9v0.9h-0.9zM329.0 101.4h0.9v0.9h-0.9zM328.0 93.3h0.9v0.9h-0.9zM327.5 91.5h0.9v0.9h-0.9zM325.0 110.1h0.9v0.9h-0.9zM325.1 83.2h0.9v0.9h-0.9zM325.3 102.1h0.9v0.9h-0.9zM329.4 98.4h0.9v0.9h-0.9zM329.0 96.9h0.9v0.9h-0.9zM330.6 108.1h0.9v0.9h-0.9zM331.2 109.1h0.9v0.9h-0.9zM331.5 92.2h0.9v0.9h-0.9zM331.3 87.3h0.9v0.9h-0.9zM328.5 90.6h0.9v0.9h-0.9zM330.1 112.1h0.9v0.9h-0.9zM325.9 86.2h0.9v0.9h-0.9zM324.6 82.3h0.9v0.9h-0.9zM327.1 105.6h0.9v0.9h-0.9zM328.6 85.6h0.9v0.9h-0.9zM330.2 112.2h0.9v0.9h-0.9zM330.3 86.3h0.9v0.9h-0.9zM323.5 92.6h0.9v0.9h-0.9zM326.3 88.7h0.9v0.9h-0.9zM324.3 110.6h0.9v0.9h-0.9zM325.5 88.8h0.9v0.9h-0.9zM329.3 89.7h0.9v0.9h-0.9zM324.2 104.1h0.9v0.9h-0.9zM330.8 87.3h0.9v0.9h-0.9zM323.7 91.7h0.9v0.9h-0.9zM328.6 101.5h0.9v0.9h-0.9zM331.1 111.7h0.9v0.9h-0.9zM324.8 94.8h0.9v0.9h-0.9zM325.6 93.0h0.9v0.9h-0.9zM324.4 98.5h0.9v0.9h-0.9zM324.1 88.4h0.9v0.9h-0.9zM328.6 110.6h0.9v0.9h-0.9zM328.9 112.1h0.9v0.9h-0.9zM325.6 105.2h0.9v0.9h-0.9zM327.8 89.8h0.9v0.9h-0.9zM329.8 89.5h0.9v0.9h-0.9zM325.6 103.4h0.9v0.9h-0.9zM323.6 91.1h0.9v0.9h-0.9zM324.0 93.3h0.9v0.9h-0.9zM326.2 95.3h0.9v0.9h-0.9zM328.9 111.5h0.9v0.9h-0.9zM325.3 105.8h0.9v0.9h-0.9zM327.2 83.5h0.9v0.9h-0.9zM326.2 102.8h0.9v0.9h-0.9zM327.6 87.7h0.9v0.9h-0.9zM326.2 85.7h0.9v0.9h-0.9zM327.7 89.9h0.9v0.9h-0.9zM327.5 92.0h0.9v0.9h-0.9zM363.1 101.9h0.9v0.9h-0.9zM366.3 103.9h0.9v0.9h-0.9zM366.1 93.8h0.9v0.9h-0.9zM367.5 109.9h0.9v0.9h-0.9zM367.2 111.2h0.9v0.9h-0.9zM366.2 112.0h0.9v0.9h-0.9zM361.3 101.4h0.9v0.9h-0.9zM367.7 97.9h0.9v0.9h-0.9zM367.2 105.2h0.9v0.9h-0.9zM367.7 97.3h0.9v0.9h-0.9zM361.5 90.7h0.9v0.9h-0.9zM361.0 104.5h0.9v0.9h-0.9zM364.4 110.6h0.9v0.9h-0.9zM360.4 100.0h0.9v0.9h-0.9zM366.6 89.7h0.9v0.9h-0.9zM362.8 92.8h0.9v0.9h-0.9zM363.6 102.2h0.9v0.9h-0.9zM364.2 100.2h0.9v0.9h-0.9zM360.0 105.0h0.9v0.9h-0.9zM361.0 83.3h0.9v0.9h-0.9zM366.7 94.1h0.9v0.9h-0.9zM366.2 112.1h0.9v0.9h-0.9zM361.4 87.0h0.9v0.9h-0.9zM361.0 98.4h0.9v0.9h-0.9zM361.8 110.3h0.9v0.9h-0.9zM360.7 92.8h0.9v0.9h-0.9zM367.6 91.3h0.9v0.9h-0.9zM361.3 107.3h0.9v0.9h-0.9zM366.7 92.6h0.9v0.9h-0.9zM367.0 90.4h0.9v0.9h-0.9zM364.9 99.9h0.9v0.9h-0.9zM365.0 91.8h0.9v0.9h-0.9zM360.8 108.9h0.9v0.9h-0.9zM367.8 95.2h0.9v0.9h-0.9zM367.5 90.9h0.9v0.9h-0.9zM363.3 103.5h0.9v0.9h-0.9zM366.4 104.3h0.9v0.9h-0.9zM364.7 93.7h0.9v0.9h-0.9zM363.6 112.2h0.9v0.9h-0.9zM364.0 106.4h0.9v0.9h-0.9zM359.8 102.3h0.9v0.9h-0.9zM361.0 104.2h0.9v0.9h-0.9zM360.2 101.0h0.9v0.9h-0.9zM364.8 84.6h0.9v0.9h-0.9zM360.3 109.5h0.9v0.9h-0.9zM367.9 106.3h0.9v0.9h-0.9zM361.1 93.1h0.9v0.9h-0.9zM363.2 112.2h0.9v0.9h-0.9zM367.2 101.7h0.9v0.9h-0.9zM362.5 104.0h0.9v0.9h-0.9zM360.4 108.5h0.9v0.9h-0.9zM360.9 99.1h0.9v0.9h-0.9zM366.4 92.8h0.9v0.9h-0.9zM360.5 92.9h0.9v0.9h-0.9zM364.6 95.9h0.9v0.9h-0.9zM363.4 99.5h0.9v0.9h-0.9zM367.8 93.2h0.9v0.9h-0.9zM362.0 93.6h0.9v0.9h-0.9zM366.8 84.4h0.9v0.9h-0.9zM364.6 96.9h0.9v0.9h-0.9zM363.7 84.1h0.9v0.9h-0.9zM363.3 105.7h0.9v0.9h-0.9zM363.1 102.2h0.9v0.9h-0.9zM366.3 112.4h0.9v0.9h-0.9zM367.6 95.8h0.9v0.9h-0.9zM366.4 91.4h0.9v0.9h-0.9zM362.4 83.5h0.9v0.9h-0.9zM360.4 107.1h0.9v0.9h-0.9zM364.7 110.6h0.9v0.9h-0.9zM378.6 52.2h0.9v0.9h-0.9zM377.9 55.8h0.9v0.9h-0.9zM376.3 78.0h0.9v0.9h-0.9zM378.0 63.2h0.9v0.9h-0.9zM376.7 74.2h0.9v0.9h-0.9zM377.9 61.9h0.9v0.9h-0.9zM375.8 55.2h0.9v0.9h-0.9zM375.4 56.5h0.9v0.9h-0.9zM376.6 78.2h0.9v0.9h-0.9zM375.2 75.6h0.9v0.9h-0.9zM377.2 70.3h0.9v0.9h-0.9zM377.3 62.5h0.9v0.9h-0.9zM376.5 51.6h0.9v0.9h-0.9zM374.3 64.0h0.9v0.9h-0.9zM375.4 55.0h0.9v0.9h-0.9zM374.3 70.1h0.9v0.9h-0.9zM377.8 60.6h0.9v0.9h-0.9zM376.9 65.6h0.9v0.9h-0.9zM376.8 51.0h0.9v0.9h-0.9zM375.7 55.0h0.9v0.9h-0.9zM375.9 77.0h0.9v0.9h-0.9zM374.7 64.9h0.9v0.9h-0.9zM377.0 55.3h0.9v0.9h-0.9zM378.5 61.9h0.9v0.9h-0.9zM376.4 77.7h0.9v0.9h-0.9zM377.6 72.1h0.9v0.9h-0.9zM376.9 52.7h0.9v0.9h-0.9zM374.1 72.7h0.9v0.9h-0.9zM378.2 66.8h0.9v0.9h-0.9zM378.2 68.6h0.9v0.9h-0.9zM377.6 54.4h0.9v0.9h-0.9zM374.5 58.5h0.9v0.9h-0.9zM375.5 72.5h0.9v0.9h-0.9zM375.2 57.1h0.9v0.9h-0.9zM376.9 76.5h0.9v0.9h-0.9zM374.5 73.4h0.9v0.9h-0.9zM377.9 60.9h0.9v0.9h-0.9zM377.7 56.0h0.9v0.9h-0.9zM375.7 58.7h0.9v0.9h-0.9zM377.9 49.7h0.9v0.9h-0.9zM374.4 55.9h0.9v0.9h-0.9zM377.3 59.1h0.9v0.9h-0.9zM377.3 75.7h0.9v0.9h-0.9zM377.6 62.0h0.9v0.9h-0.9zM376.6 51.2h0.9v0.9h-0.9zM374.4 76.9h0.9v0.9h-0.9zM376.3 73.3h0.9v0.9h-0.9zM417.4 77.7h0.9v0.9h-0.9zM414.6 63.6h0.9v0.9h-0.9zM418.0 57.1h0.9v0.9h-0.9zM415.7 76.1h0.9v0.9h-0.9zM417.9 67.4h0.9v0.9h-0.9zM418.0 77.0h0.9v0.9h-0.9zM414.8 51.4h0.9v0.9h-0.9zM414.9 76.7h0.9v0.9h-0.9zM416.3 74.3h0.9v0.9h-0.9zM418.1 53.7h0.9v0.9h-0.9zM417.3 61.8h0.9v0.9h-0.9zM416.9 72.5h0.9v0.9h-0.9zM415.8 52.2h0.9v0.9h-0.9zM417.8 74.0h0.9v0.9h-0.9zM416.1 52.2h0.9v0.9h-0.9zM417.4 54.0h0.9v0.9h-0.9zM414.6 62.1h0.9v0.9h-0.9zM415.0 67.7h0.9v0.9h-0.9zM415.8 75.0h0.9v0.9h-0.9zM415.4 66.3h0.9v0.9h-0.9zM416.5 77.1h0.9v0.9h-0.9zM417.0 53.0h0.9v0.9h-0.9zM417.5 65.9h0.9v0.9h-0.9zM417.6 70.6h0.9v0.9h-0.9zM417.9 64.7h0.9v0.9h-0.9zM416.2 50.0h0.9v0.9h-0.9zM417.8 72.0h0.9v0.9h-0.9zM416.5 49.0h0.9v0.9h-0.9zM415.9 49.8h0.9v0.9h-0.9zM416.3 53.1h0.9v0.9h-0.9zM382.5 106.6h0.9v0.9h-0.9zM374.6 87.4h0.9v0.9h-0.9zM377.6 100.5h0.9v0.9h-0.9zM384.6 103.7h0.9v0.9h-0.9zM381.4 106.7h0.9v0.9h-0.9zM380.8 108.6h0.9v0.9h-0.9zM382.8 95.8h0.9v0.9h-0.9zM377.4 97.1h0.9v0.9h-0.9zM375.6 98.9h0.9v0.9h-0.9zM384.5 88.4h0.9v0.9h-0.9zM374.8 103.8h0.9v0.9h-0.9zM376.4 84.3h0.9v0.9h-0.9zM381.9 101.6h0.9v0.9h-0.9zM379.6 93.2h0.9v0.9h-0.9zM378.7 82.9h0.9v0.9h-0.9zM377.5 84.1h0.9v0.9h-0.9zM376.9 89.3h0.9v0.9h-0.9zM376.2 97.7h0.9v0.9h-0.9zM383.6 85.3h0.9v0.9h-0.9zM380.3 91.9h0.9v0.9h-0.9zM374.6 109.5h0.9v0.9h-0.9zM374.8 91.1h0.9v0.9h-0.9zM379.8 83.7h0.9v0.9h-0.9zM377.1 107.5h0.9v0.9h-0.9zM377.0 93.4h0.9v0.9h-0.9zM381.4 107.6h0.9v0.9h-0.9zM377.1 103.2h0.9v0.9h-0.9zM374.6 96.0h0.9v0.9h-0.9zM378.2 99.4h0.9v0.9h-0.9zM383.1 106.5h0.9v0.9h-0.9zM382.9 110.5h0.9v0.9h-0.9zM383.6 88.9h0.9v0.9h-0.9zM378.4 102.0h0.9v0.9h-0.9zM382.8 87.0h0.9v0.9h-0.9zM380.5 111.9h0.9v0.9h-0.9zM375.3 85.2h0.9v0.9h-0.9zM381.2 90.2h0.9v0.9h-0.9zM383.8 112.6h0.9v0.9h-0.9zM376.0 96.5h0.9v0.9h-0.9zM379.2 107.2h0.9v0.9h-0.9zM374.9 85.8h0.9v0.9h-0.9zM378.5 109.9h0.9v0.9h-0.9zM382.9 105.2h0.9v0.9h-0.9zM378.6 86.9h0.9v0.9h-0.9zM375.1 99.4h0.9v0.9h-0.9zM383.9 86.8h0.9v0.9h-0.9zM379.0 83.2h0.9v0.9h-0.9zM377.5 95.0h0.9v0.9h-0.9zM374.6 101.5h0.9v0.9h-0.9zM379.9 83.2h0.9v0.9h-0.9zM379.3 94.1h0.9v0.9h-0.9zM375.5 105.4h0.9v0.9h-0.9zM378.2 112.0h0.9v0.9h-0.9zM380.7 107.6h0.9v0.9h-0.9zM374.6 103.4h0.9v0.9h-0.9zM376.4 97.3h0.9v0.9h-0.9zM376.9 88.4h0.9v0.9h-0.9zM378.7 110.4h0.9v0.9h-0.9zM379.9 82.9h0.9v0.9h-0.9zM374.9 106.8h0.9v0.9h-0.9zM379.2 102.3h0.9v0.9h-0.9zM382.0 98.7h0.9v0.9h-0.9zM382.5 111.0h0.9v0.9h-0.9zM376.8 112.6h0.9v0.9h-0.9zM378.0 98.9h0.9v0.9h-0.9zM378.9 90.6h0.9v0.9h-0.9zM381.4 101.3h0.9v0.9h-0.9zM375.2 93.2h0.9v0.9h-0.9zM381.7 96.2h0.9v0.9h-0.9zM377.6 97.0h0.9v0.9h-0.9zM379.3 101.3h0.9v0.9h-0.9zM380.3 104.6h0.9v0.9h-0.9zM383.7 105.7h0.9v0.9h-0.9zM380.1 106.8h0.9v0.9h-0.9zM377.1 97.5h0.9v0.9h-0.9zM374.5 106.6h0.9v0.9h-0.9zM381.1 83.0h0.9v0.9h-0.9zM378.8 83.7h0.9v0.9h-0.9zM377.0 86.1h0.9v0.9h-0.9zM381.1 111.5h0.9v0.9h-0.9zM379.0 111.8h0.9v0.9h-0.9zM377.7 91.2h0.9v0.9h-0.9zM378.6 97.7h0.9v0.9h-0.9zM379.4 110.6h0.9v0.9h-0.9zM410.8 87.8h0.9v0.9h-0.9zM414.7 97.3h0.9v0.9h-0.9zM413.7 110.9h0.9v0.9h-0.9zM406.7 105.7h0.9v0.9h-0.9zM417.3 107.9h0.9v0.9h-0.9zM417.0 98.8h0.9v0.9h-0.9zM413.2 105.4h0.9v0.9h-0.9zM413.5 90.0h0.9v0.9h-0.9zM406.5 87.7h0.9v0.9h-0.9zM410.3 87.7h0.9v0.9h-0.9zM410.3 107.7h0.9v0.9h-0.9zM406.2 84.3h0.9v0.9h-0.9zM415.3 95.6h0.9v0.9h-0.9zM407.2 100.7h0.9v0.9h-0.9zM405.6 111.8h0.9v0.9h-0.9zM410.1 100.6h0.9v0.9h-0.9zM411.5 110.3h0.9v0.9h-0.9zM405.6 84.9h0.9v0.9h-0.9zM408.3 89.3h0.9v0.9h-0.9zM410.0 97.5h0.9v0.9h-0.9zM413.1 104.5h0.9v0.9h-0.9zM405.7 91.9h0.9v0.9h-0.9zM407.6 99.7h0.9v0.9h-0.9zM413.9 88.4h0.9v0.9h-0.9zM417.4 105.2h0.9v0.9h-0.9zM415.4 95.6h0.9v0.9h-0.9zM405.8 82.6h0.9v0.9h-0.9zM411.0 95.6h0.9v0.9h-0.9zM417.2 105.4h0.9v0.9h-0.9zM411.3 87.6h0.9v0.9h-0.9zM408.7 101.4h0.9v0.9h-0.9zM412.9 90.4h0.9v0.9h-0.9zM411.2 91.2h0.9v0.9h-0.9zM410.3 105.1h0.9v0.9h-0.9zM406.6 103.3h0.9v0.9h-0.9zM415.6 82.9h0.9v0.9h-0.9zM408.0 85.5h0.9v0.9h-0.9zM407.7 90.9h0.9v0.9h-0.9zM405.7 94.5h0.9v0.9h-0.9zM409.5 86.0h0.9v0.9h-0.9zM408.1 104.7h0.9v0.9h-0.9zM406.5 99.1h0.9v0.9h-0.9zM414.8 105.0h0.9v0.9h-0.9zM412.5 100.9h0.9v0.9h-0.9zM411.0 91.9h0.9v0.9h-0.9zM409.1 92.1h0.9v0.9h-0.9zM406.6 108.7h0.9v0.9h-0.9zM417.6 89.7h0.9v0.9h-0.9zM415.3 94.1h0.9v0.9h-0.9zM411.6 85.3h0.9v0.9h-0.9zM418.0 110.4h0.9v0.9h-0.9zM416.2 93.9h0.9v0.9h-0.9zM406.3 102.0h0.9v0.9h-0.9zM409.9 106.1h0.9v0.9h-0.9zM407.9 94.8h0.9v0.9h-0.9zM415.8 88.5h0.9v0.9h-0.9zM415.3 96.4h0.9v0.9h-0.9zM407.4 93.0h0.9v0.9h-0.9zM415.3 112.7h0.9v0.9h-0.9zM411.8 105.4h0.9v0.9h-0.9zM408.3 108.5h0.9v0.9h-0.9zM411.6 92.8h0.9v0.9h-0.9zM415.6 109.3h0.9v0.9h-0.9zM411.2 107.9h0.9v0.9h-0.9zM411.2 111.8h0.9v0.9h-0.9zM411.0 95.2h0.9v0.9h-0.9zM415.2 85.5h0.9v0.9h-0.9zM405.7 103.6h0.9v0.9h-0.9zM413.5 89.0h0.9v0.9h-0.9zM416.3 90.7h0.9v0.9h-0.9zM417.2 108.6h0.9v0.9h-0.9zM414.1 101.1h0.9v0.9h-0.9zM409.2 94.9h0.9v0.9h-0.9zM405.5 92.0h0.9v0.9h-0.9zM406.8 110.6h0.9v0.9h-0.9zM409.6 101.2h0.9v0.9h-0.9zM408.4 100.2h0.9v0.9h-0.9zM413.9 99.2h0.9v0.9h-0.9zM408.1 84.6h0.9v0.9h-0.9zM414.5 92.3h0.9v0.9h-0.9zM415.3 90.3h0.9v0.9h-0.9zM417.0 102.7h0.9v0.9h-0.9zM410.2 111.9h0.9v0.9h-0.9zM414.7 99.2h0.9v0.9h-0.9zM410.2 86.2h0.9v0.9h-0.9zM411.9 86.2h0.9v0.9h-0.9zM411.4 84.9h0.9v0.9h-0.9zM409.2 109.9h0.9v0.9h-0.9zM415.7 101.9h0.9v0.9h-0.9zM413.0 84.2h0.9v0.9h-0.9zM415.9 91.9h0.9v0.9h-0.9zM408.8 84.2h0.9v0.9h-0.9zM406.2 88.9h0.9v0.9h-0.9zM417.2 89.4h0.9v0.9h-0.9zM414.7 102.5h0.9v0.9h-0.9zM411.8 104.2h0.9v0.9h-0.9zM415.7 95.7h0.9v0.9h-0.9zM415.5 100.1h0.9v0.9h-0.9zM411.6 102.5h0.9v0.9h-0.9zM410.2 106.6h0.9v0.9h-0.9zM405.7 89.0h0.9v0.9h-0.9zM409.0 98.2h0.9v0.9h-0.9zM427.4 54.5h0.9v0.9h-0.9zM424.2 62.1h0.9v0.9h-0.9zM426.3 66.2h0.9v0.9h-0.9zM426.0 75.7h0.9v0.9h-0.9zM427.4 74.0h0.9v0.9h-0.9zM423.7 52.9h0.9v0.9h-0.9zM427.7 62.5h0.9v0.9h-0.9zM426.0 54.6h0.9v0.9h-0.9zM423.8 75.6h0.9v0.9h-0.9zM426.7 51.6h0.9v0.9h-0.9zM424.6 51.8h0.9v0.9h-0.9zM426.9 56.9h0.9v0.9h-0.9zM424.0 57.7h0.9v0.9h-0.9zM424.3 78.6h0.9v0.9h-0.9zM427.5 49.9h0.9v0.9h-0.9zM425.4 64.2h0.9v0.9h-0.9zM425.2 67.8h0.9v0.9h-0.9zM424.5 58.5h0.9v0.9h-0.9zM424.9 62.7h0.9v0.9h-0.9zM424.3 64.8h0.9v0.9h-0.9zM424.1 55.1h0.9v0.9h-0.9zM427.0 49.7h0.9v0.9h-0.9zM426.3 74.1h0.9v0.9h-0.9zM427.3 58.5h0.9v0.9h-0.9zM426.1 69.4h0.9v0.9h-0.9zM425.0 60.3h0.9v0.9h-0.9zM426.0 64.1h0.9v0.9h-0.9zM427.1 70.8h0.9v0.9h-0.9zM424.1 52.4h0.9v0.9h-0.9zM425.6 69.6h0.9v0.9h-0.9zM424.8 63.4h0.9v0.9h-0.9zM427.8 60.8h0.9v0.9h-0.9zM425.0 76.6h0.9v0.9h-0.9zM424.8 56.3h0.9v0.9h-0.9zM426.7 48.4h0.9v0.9h-0.9zM425.2 53.9h0.9v0.9h-0.9zM425.2 49.0h0.9v0.9h-0.9zM425.6 67.1h0.9v0.9h-0.9zM426.6 77.0h0.9v0.9h-0.9zM426.3 76.0h0.9v0.9h-0.9zM424.4 51.8h0.9v0.9h-0.9zM427.8 75.2h0.9v0.9h-0.9zM427.0 57.1h0.9v0.9h-0.9zM426.5 56.6h0.9v0.9h-0.9zM464.3 56.9h0.9v0.9h-0.9zM466.8 67.9h0.9v0.9h-0.9zM466.9 55.8h0.9v0.9h-0.9zM467.1 55.0h0.9v0.9h-0.9zM464.5 65.4h0.9v0.9h-0.9zM467.3 51.1h0.9v0.9h-0.9zM465.7 52.0h0.9v0.9h-0.9zM464.2 76.7h0.9v0.9h-0.9zM467.7 51.0h0.9v0.9h-0.9zM466.4 70.3h0.9v0.9h-0.9zM465.8 58.2h0.9v0.9h-0.9zM467.9 78.6h0.9v0.9h-0.9zM465.3 65.6h0.9v0.9h-0.9zM463.6 57.8h0.9v0.9h-0.9zM464.3 76.8h0.9v0.9h-0.9zM467.0 63.0h0.9v0.9h-0.9zM467.0 65.6h0.9v0.9h-0.9zM463.9 75.1h0.9v0.9h-0.9zM467.6 68.0h0.9v0.9h-0.9zM465.4 60.5h0.9v0.9h-0.9zM466.6 67.8h0.9v0.9h-0.9zM465.7 59.1h0.9v0.9h-0.9zM466.7 62.6h0.9v0.9h-0.9zM466.3 58.1h0.9v0.9h-0.9zM464.8 53.8h0.9v0.9h-0.9zM466.9 59.9h0.9v0.9h-0.9zM466.6 56.1h0.9v0.9h-0.9zM464.0 57.0h0.9v0.9h-0.9zM465.7 68.9h0.9v0.9h-0.9zM465.6 72.4h0.9v0.9h-0.9zM464.1 77.2h0.9v0.9h-0.9zM468.0 71.1h0.9v0.9h-0.9zM464.8 56.5h0.9v0.9h-0.9zM464.5 53.4h0.9v0.9h-0.9zM466.8 58.7h0.9v0.9h-0.9zM463.6 77.2h0.9v0.9h-0.9zM464.5 60.3h0.9v0.9h-0.9zM427.3 97.5h0.9v0.9h-0.9zM428.1 110.2h0.9v0.9h-0.9zM427.8 87.0h0.9v0.9h-0.9zM427.2 86.4h0.9v0.9h-0.9zM430.2 96.9h0.9v0.9h-0.9zM431.9 97.5h0.9v0.9h-0.9zM429.6 83.3h0.9v0.9h-0.9zM425.3 97.8h0.9v0.9h-0.9zM430.1 105.6h0.9v0.9h-0.9zM431.3 97.0h0.9v0.9h-0.9zM424.4 94.7h0.9v0.9h-0.9zM429.6 107.6h0.9v0.9h-0.9zM428.0 98.4h0.9v0.9h-0.9zM427.4 111.8h0.9v0.9h-0.9zM428.8 112.2h0.9v0.9h-0.9zM432.0 98.5h0.9v0.9h-0.9zM428.1 102.0h0.9v0.9h-0.9zM429.5 104.6h0.9v0.9h-0.9zM426.1 103.5h0.9v0.9h-0.9zM431.2 104.6h0.9v0.9h-0.9zM425.6 103.2h0.9v0.9h-0.9zM423.9 110.4h0.9v0.9h-0.9zM424.3 105.2h0.9v0.9h-0.9zM424.8 108.7h0.9v0.9h-0.9zM429.4 97.5h0.9v0.9h-0.9zM425.6 99.2h0.9v0.9h-0.9zM431.8 110.6h0.9v0.9h-0.9zM424.8 97.7h0.9v0.9h-0.9zM426.7 88.1h0.9v0.9h-0.9zM427.8 84.6h0.9v0.9h-0.9zM424.2 99.3h0.9v0.9h-0.9zM431.3 109.2h0.9v0.9h-0.9zM430.9 89.9h0.9v0.9h-0.9zM429.6 91.4h0.9v0.9h-0.9zM426.0 96.7h0.9v0.9h-0.9zM429.9 102.9h0.9v0.9h-0.9zM427.0 93.4h0.9v0.9h-0.9zM426.2 104.1h0.9v0.9h-0.9zM427.4 97.8h0.9v0.9h-0.9zM424.4 106.7h0.9v0.9h-0.9zM428.8 108.2h0.9v0.9h-0.9zM431.9 85.7h0.9v0.9h-0.9zM426.0 108.6h0.9v0.9h-0.9zM431.8 107.0h0.9v0.9h-0.9zM427.3 88.1h0.9v0.9h-0.9zM430.5 93.2h0.9v0.9h-0.9zM427.0 94.5h0.9v0.9h-0.9zM425.5 111.9h0.9v0.9h-0.9zM429.4 104.5h0.9v0.9h-0.9zM430.1 109.4h0.9v0.9h-0.9zM429.4 88.9h0.9v0.9h-0.9zM426.7 111.2h0.9v0.9h-0.9zM427.3 109.1h0.9v0.9h-0.9zM424.8 101.4h0.9v0.9h-0.9zM424.3 103.0h0.9v0.9h-0.9zM429.2 109.9h0.9v0.9h-0.9zM431.6 102.2h0.9v0.9h-0.9zM425.8 90.6h0.9v0.9h-0.9zM429.8 94.3h0.9v0.9h-0.9zM428.9 92.6h0.9v0.9h-0.9zM429.7 103.8h0.9v0.9h-0.9zM426.2 89.8h0.9v0.9h-0.9zM427.5 82.5h0.9v0.9h-0.9zM426.3 110.1h0.9v0.9h-0.9zM427.2 97.9h0.9v0.9h-0.9zM426.6 106.2h0.9v0.9h-0.9zM427.3 83.2h0.9v0.9h-0.9zM429.7 107.2h0.9v0.9h-0.9zM431.3 100.4h0.9v0.9h-0.9zM427.6 102.0h0.9v0.9h-0.9zM425.4 106.8h0.9v0.9h-0.9zM427.5 98.3h0.9v0.9h-0.9zM426.0 83.4h0.9v0.9h-0.9zM462.4 104.1h0.9v0.9h-0.9zM463.4 105.5h0.9v0.9h-0.9zM460.8 103.6h0.9v0.9h-0.9zM465.3 98.3h0.9v0.9h-0.9zM467.5 88.5h0.9v0.9h-0.9zM460.9 105.5h0.9v0.9h-0.9zM463.4 108.0h0.9v0.9h-0.9zM460.5 88.3h0.9v0.9h-0.9zM459.9 104.0h0.9v0.9h-0.9zM462.2 90.0h0.9v0.9h-0.9zM461.2 112.0h0.9v0.9h-0.9zM465.3 82.5h0.9v0.9h-0.9zM459.6 109.9h0.9v0.9h-0.9zM465.8 93.7h0.9v0.9h-0.9zM465.7 111.3h0.9v0.9h-0.9zM462.1 94.5h0.9v0.9h-0.9zM461.3 100.8h0.9v0.9h-0.9zM461.0 82.6h0.9v0.9h-0.9zM464.9 86.3h0.9v0.9h-0.9zM461.9 83.4h0.9v0.9h-0.9zM467.2 84.8h0.9v0.9h-0.9zM461.9 110.2h0.9v0.9h-0.9zM459.2 92.9h0.9v0.9h-0.9zM459.4 92.2h0.9v0.9h-0.9zM462.8 111.4h0.9v0.9h-0.9zM461.7 104.0h0.9v0.9h-0.9zM461.7 89.6h0.9v0.9h-0.9zM466.6 103.1h0.9v0.9h-0.9zM467.9 88.7h0.9v0.9h-0.9zM462.3 87.5h0.9v0.9h-0.9zM461.0 109.2h0.9v0.9h-0.9zM463.1 106.9h0.9v0.9h-0.9zM463.9 106.5h0.9v0.9h-0.9zM466.5 102.2h0.9v0.9h-0.9zM466.5 90.8h0.9v0.9h-0.9zM459.3 86.1h0.9v0.9h-0.9zM459.1 86.7h0.9v0.9h-0.9zM460.4 97.0h0.9v0.9h-0.9zM460.1 101.4h0.9v0.9h-0.9zM465.4 88.5h0.9v0.9h-0.9zM460.4 99.8h0.9v0.9h-0.9zM464.4 107.3h0.9v0.9h-0.9zM463.3 87.9h0.9v0.9h-0.9zM465.4 90.5h0.9v0.9h-0.9zM466.4 92.2h0.9v0.9h-0.9zM464.8 108.7h0.9v0.9h-0.9zM461.7 106.5h0.9v0.9h-0.9zM461.7 112.5h0.9v0.9h-0.9zM461.6 83.7h0.9v0.9h-0.9zM463.3 96.6h0.9v0.9h-0.9zM467.4 82.3h0.9v0.9h-0.9zM459.9 89.8h0.9v0.9h-0.9zM464.7 104.4h0.9v0.9h-0.9zM467.3 96.7h0.9v0.9h-0.9zM465.8 102.6h0.9v0.9h-0.9zM465.6 95.8h0.9v0.9h-0.9zM465.2 103.6h0.9v0.9h-0.9zM462.9 82.9h0.9v0.9h-0.9zM461.8 92.3h0.9v0.9h-0.9zM465.4 95.3h0.9v0.9h-0.9zM465.4 100.6h0.9v0.9h-0.9zM459.3 83.2h0.9v0.9h-0.9zM459.5 112.6h0.9v0.9h-0.9zM464.0 91.3h0.9v0.9h-0.9zM466.8 99.2h0.9v0.9h-0.9zM463.7 107.6h0.9v0.9h-0.9zM461.5 92.5h0.9v0.9h-0.9zM460.7 91.7h0.9v0.9h-0.9zM465.8 82.4h0.9v0.9h-0.9zM460.0 108.2h0.9v0.9h-0.9zM463.0 96.7h0.9v0.9h-0.9zM459.4 112.4h0.9v0.9h-0.9zM467.8 86.8h0.9v0.9h-0.9zM462.9 86.5h0.9v0.9h-0.9zM461.3 85.5h0.9v0.9h-0.9zM459.2 90.7h0.9v0.9h-0.9zM466.1 104.4h0.9v0.9h-0.9zM459.8 87.6h0.9v0.9h-0.9zM464.7 112.7h0.9v0.9h-0.9zM466.0 95.4h0.9v0.9h-0.9zM462.2 97.2h0.9v0.9h-0.9zM476.4 62.7h0.9v0.9h-0.9zM474.5 58.4h0.9v0.9h-0.9zM476.8 77.8h0.9v0.9h-0.9zM476.5 66.2h0.9v0.9h-0.9zM474.4 48.9h0.9v0.9h-0.9zM475.5 65.9h0.9v0.9h-0.9zM473.5 49.3h0.9v0.9h-0.9zM475.5 55.7h0.9v0.9h-0.9zM473.4 61.9h0.9v0.9h-0.9zM475.7 65.6h0.9v0.9h-0.9zM473.6 56.9h0.9v0.9h-0.9zM473.4 52.7h0.9v0.9h-0.9zM475.9 52.6h0.9v0.9h-0.9zM473.6 78.4h0.9v0.9h-0.9zM475.0 53.0h0.9v0.9h-0.9zM475.2 54.0h0.9v0.9h-0.9zM474.6 56.8h0.9v0.9h-0.9zM475.1 73.1h0.9v0.9h-0.9zM476.7 77.8h0.9v0.9h-0.9zM474.4 75.2h0.9v0.9h-0.9zM475.2 69.8h0.9v0.9h-0.9zM476.4 73.6h0.9v0.9h-0.9zM474.7 56.7h0.9v0.9h-0.9zM475.5 71.8h0.9v0.9h-0.9zM473.8 62.1h0.9v0.9h-0.9zM474.3 66.8h0.9v0.9h-0.9zM473.6 63.5h0.9v0.9h-0.9zM474.8 50.6h0.9v0.9h-0.9zM473.7 58.7h0.9v0.9h-0.9zM474.0 54.6h0.9v0.9h-0.9zM475.7 61.5h0.9v0.9h-0.9zM475.7 59.5h0.9v0.9h-0.9zM476.8 72.7h0.9v0.9h-0.9zM475.0 48.4h0.9v0.9h-0.9zM473.9 53.4h0.9v0.9h-0.9zM476.3 75.8h0.9v0.9h-0.9zM473.6 48.8h0.9v0.9h-0.9zM476.7 69.4h0.9v0.9h-0.9zM517.0 48.4h0.9v0.9h-0.9zM516.8 65.5h0.9v0.9h-0.9zM513.9 56.0h0.9v0.9h-0.9zM513.7 60.0h0.9v0.9h-0.9zM516.0 75.3h0.9v0.9h-0.9zM515.4 56.6h0.9v0.9h-0.9zM516.2 60.8h0.9v0.9h-0.9zM516.1 75.9h0.9v0.9h-0.9zM517.1 49.4h0.9v0.9h-0.9zM513.8 68.6h0.9v0.9h-0.9zM515.8 71.3h0.9v0.9h-0.9zM516.5 65.5h0.9v0.9h-0.9zM515.9 51.0h0.9v0.9h-0.9zM515.4 58.2h0.9v0.9h-0.9zM514.8 49.7h0.9v0.9h-0.9zM514.2 68.3h0.9v0.9h-0.9zM513.7 48.3h0.9v0.9h-0.9zM515.1 65.5h0.9v0.9h-0.9zM513.9 58.6h0.9v0.9h-0.9zM516.5 76.8h0.9v0.9h-0.9zM516.2 66.0h0.9v0.9h-0.9zM513.6 49.0h0.9v0.9h-0.9zM515.4 57.8h0.9v0.9h-0.9zM516.5 68.9h0.9v0.9h-0.9zM516.4 72.6h0.9v0.9h-0.9zM514.1 75.7h0.9v0.9h-0.9zM516.9 72.1h0.9v0.9h-0.9zM514.8 51.6h0.9v0.9h-0.9zM516.9 52.9h0.9v0.9h-0.9zM516.2 68.0h0.9v0.9h-0.9zM515.9 63.3h0.9v0.9h-0.9zM515.9 54.6h0.9v0.9h-0.9zM515.2 56.3h0.9v0.9h-0.9zM473.9 92.4h0.9v0.9h-0.9zM477.2 109.7h0.9v0.9h-0.9zM478.7 97.4h0.9v0.9h-0.9zM475.2 105.6h0.9v0.9h-0.9zM476.2 99.2h0.9v0.9h-0.9zM476.7 93.7h0.9v0.9h-0.9zM477.8 85.1h0.9v0.9h-0.9zM476.9 92.0h0.9v0.9h-0.9zM477.8 112.7h0.9v0.9h-0.9zM473.5 95.7h0.9v0.9h-0.9zM478.0 86.8h0.9v0.9h-0.9zM477.3 87.1h0.9v0.9h-0.9zM475.8 92.5h0.9v0.9h-0.9zM474.4 98.6h0.9v0.9h-0.9zM478.3 110.0h0.9v0.9h-0.9zM474.5 97.3h0.9v0.9h-0.9zM476.5 87.9h0.9v0.9h-0.9zM478.5 85.4h0.9v0.9h-0.9zM476.7 108.4h0.9v0.9h-0.9zM475.5 91.6h0.9v0.9h-0.9zM473.4 104.1h0.9v0.9h-0.9zM474.5 91.1h0.9v0.9h-0.9zM478.0 108.7h0.9v0.9h-0.9zM473.6 96.6h0.9v0.9h-0.9zM474.7 87.8h0.9v0.9h-0.9zM473.8 94.6h0.9v0.9h-0.9zM474.0 86.8h0.9v0.9h-0.9zM476.6 101.3h0.9v0.9h-0.9zM476.1 105.2h0.9v0.9h-0.9zM473.8 106.5h0.9v0.9h-0.9zM473.7 97.9h0.9v0.9h-0.9zM473.9 90.2h0.9v0.9h-0.9zM474.0 98.6h0.9v0.9h-0.9zM474.7 93.8h0.9v0.9h-0.9zM477.0 111.2h0.9v0.9h-0.9zM475.0 85.6h0.9v0.9h-0.9zM477.3 82.7h0.9v0.9h-0.9zM477.1 105.6h0.9v0.9h-0.9zM476.2 108.1h0.9v0.9h-0.9zM473.3 83.4h0.9v0.9h-0.9zM474.1 94.5h0.9v0.9h-0.9zM478.7 99.5h0.9v0.9h-0.9zM477.6 110.7h0.9v0.9h-0.9zM475.0 96.0h0.9v0.9h-0.9zM475.1 92.6h0.9v0.9h-0.9zM476.1 100.1h0.9v0.9h-0.9zM477.6 99.5h0.9v0.9h-0.9zM475.6 107.2h0.9v0.9h-0.9zM473.5 88.9h0.9v0.9h-0.9zM473.6 91.5h0.9v0.9h-0.9zM474.2 105.5h0.9v0.9h-0.9zM513.7 90.0h0.9v0.9h-0.9zM515.4 102.3h0.9v0.9h-0.9zM513.7 109.8h0.9v0.9h-0.9zM510.5 90.2h0.9v0.9h-0.9zM512.9 100.1h0.9v0.9h-0.9zM516.3 89.1h0.9v0.9h-0.9zM516.7 103.3h0.9v0.9h-0.9zM511.4 100.8h0.9v0.9h-0.9zM514.4 85.3h0.9v0.9h-0.9zM515.4 107.7h0.9v0.9h-0.9zM514.7 97.7h0.9v0.9h-0.9zM511.2 92.5h0.9v0.9h-0.9zM516.5 86.8h0.9v0.9h-0.9zM516.9 93.2h0.9v0.9h-0.9zM513.8 96.3h0.9v0.9h-0.9zM515.5 87.0h0.9v0.9h-0.9zM513.2 109.7h0.9v0.9h-0.9zM513.9 107.0h0.9v0.9h-0.9zM515.2 111.7h0.9v0.9h-0.9zM515.8 83.8h0.9v0.9h-0.9zM514.9 104.7h0.9v0.9h-0.9zM514.0 86.9h0.9v0.9h-0.9zM511.5 103.8h0.9v0.9h-0.9zM516.0 96.6h0.9v0.9h-0.9zM511.2 112.6h0.9v0.9h-0.9zM513.9 91.8h0.9v0.9h-0.9zM511.8 96.2h0.9v0.9h-0.9zM512.4 104.0h0.9v0.9h-0.9zM514.4 83.1h0.9v0.9h-0.9zM513.6 86.4h0.9v0.9h-0.9zM514.2 96.7h0.9v0.9h-0.9zM512.5 85.9h0.9v0.9h-0.9zM514.5 97.7h0.9v0.9h-0.9zM512.8 82.3h0.9v0.9h-0.9zM516.5 103.4h0.9v0.9h-0.9zM511.0 106.1h0.9v0.9h-0.9zM515.7 98.6h0.9v0.9h-0.9zM516.7 83.8h0.9v0.9h-0.9zM516.4 100.1h0.9v0.9h-0.9zM515.7 107.2h0.9v0.9h-0.9zM513.4 91.2h0.9v0.9h-0.9zM515.7 87.4h0.9v0.9h-0.9zM513.5 99.5h0.9v0.9h-0.9zM511.6 83.4h0.9v0.9h-0.9zM514.5 108.4h0.9v0.9h-0.9zM513.3 97.4h0.9v0.9h-0.9zM511.8 101.2h0.9v0.9h-0.9zM511.5 84.0h0.9v0.9h-0.9zM515.4 89.2h0.9v0.9h-0.9zM513.9 106.1h0.9v0.9h-0.9zM515.7 102.0h0.9v0.9h-0.9zM511.1 92.5h0.9v0.9h-0.9zM510.7 90.8h0.9v0.9h-0.9zM515.4 86.1h0.9v0.9h-0.9zM515.8 96.3h0.9v0.9h-0.9zM511.5 91.5h0.9v0.9h-0.9zM516.4 97.6h0.9v0.9h-0.9zM512.0 94.1h0.9v0.9h-0.9zM510.8 111.8h0.9v0.9h-0.9zM516.1 96.6h0.9v0.9h-0.9z"/>
<path fill="#A99A7A"  d="M324.5 69.3h0.9v0.9h-0.9zM326.4 54.8h0.9v0.9h-0.9zM327.0 50.3h0.9v0.9h-0.9zM329.5 70.8h0.9v0.9h-0.9zM326.5 51.7h0.9v0.9h-0.9zM325.7 52.9h0.9v0.9h-0.9zM324.6 49.3h0.9v0.9h-0.9zM329.3 75.6h0.9v0.9h-0.9zM328.1 66.0h0.9v0.9h-0.9zM324.2 62.8h0.9v0.9h-0.9zM324.7 76.4h0.9v0.9h-0.9zM323.7 51.1h0.9v0.9h-0.9zM327.2 65.2h0.9v0.9h-0.9zM329.1 58.8h0.9v0.9h-0.9zM327.6 68.9h0.9v0.9h-0.9zM329.2 60.7h0.9v0.9h-0.9zM329.3 66.3h0.9v0.9h-0.9zM323.9 58.5h0.9v0.9h-0.9zM328.5 72.5h0.9v0.9h-0.9zM327.1 61.2h0.9v0.9h-0.9zM327.1 67.9h0.9v0.9h-0.9zM326.2 52.5h0.9v0.9h-0.9zM327.8 74.9h0.9v0.9h-0.9zM327.8 55.9h0.9v0.9h-0.9zM326.5 65.0h0.9v0.9h-0.9zM327.7 64.3h0.9v0.9h-0.9zM323.9 73.1h0.9v0.9h-0.9zM325.6 57.9h0.9v0.9h-0.9zM327.2 48.8h0.9v0.9h-0.9zM326.1 55.8h0.9v0.9h-0.9zM326.4 63.3h0.9v0.9h-0.9zM328.8 72.1h0.9v0.9h-0.9zM328.1 68.6h0.9v0.9h-0.9zM329.0 60.0h0.9v0.9h-0.9zM328.4 77.7h0.9v0.9h-0.9zM325.8 52.6h0.9v0.9h-0.9zM324.0 57.5h0.9v0.9h-0.9zM325.5 67.8h0.9v0.9h-0.9zM327.6 54.3h0.9v0.9h-0.9zM325.2 59.8h0.9v0.9h-0.9zM326.3 61.6h0.9v0.9h-0.9zM325.1 54.0h0.9v0.9h-0.9zM323.7 73.0h0.9v0.9h-0.9zM363.7 66.8h0.9v0.9h-0.9zM366.0 55.1h0.9v0.9h-0.9zM367.3 76.5h0.9v0.9h-0.9zM367.5 71.1h0.9v0.9h-0.9zM364.3 50.0h0.9v0.9h-0.9zM365.1 57.3h0.9v0.9h-0.9zM365.7 69.0h0.9v0.9h-0.9zM364.2 51.4h0.9v0.9h-0.9zM365.9 60.7h0.9v0.9h-0.9zM365.1 64.5h0.9v0.9h-0.9zM364.2 74.2h0.9v0.9h-0.9zM367.7 76.9h0.9v0.9h-0.9zM363.6 59.0h0.9v0.9h-0.9zM366.2 71.3h0.9v0.9h-0.9zM367.5 54.5h0.9v0.9h-0.9zM366.0 71.9h0.9v0.9h-0.9zM363.6 61.1h0.9v0.9h-0.9zM364.6 61.2h0.9v0.9h-0.9zM367.0 71.2h0.9v0.9h-0.9zM365.6 49.3h0.9v0.9h-0.9zM366.1 72.8h0.9v0.9h-0.9zM365.3 48.3h0.9v0.9h-0.9zM366.1 65.8h0.9v0.9h-0.9zM364.4 55.2h0.9v0.9h-0.9zM365.6 60.1h0.9v0.9h-0.9zM366.2 69.4h0.9v0.9h-0.9zM367.0 72.5h0.9v0.9h-0.9zM364.4 74.1h0.9v0.9h-0.9zM363.8 57.6h0.9v0.9h-0.9zM364.4 63.4h0.9v0.9h-0.9zM364.1 50.0h0.9v0.9h-0.9zM365.4 52.0h0.9v0.9h-0.9zM366.4 48.8h0.9v0.9h-0.9zM367.8 59.6h0.9v0.9h-0.9zM365.8 55.0h0.9v0.9h-0.9zM364.5 66.2h0.9v0.9h-0.9zM324.7 101.3h0.9v0.9h-0.9zM324.4 94.6h0.9v0.9h-0.9zM324.2 89.6h0.9v0.9h-0.9zM324.3 88.4h0.9v0.9h-0.9zM330.0 98.1h0.9v0.9h-0.9zM330.8 93.1h0.9v0.9h-0.9zM323.8 97.5h0.9v0.9h-0.9zM330.9 84.6h0.9v0.9h-0.9zM324.8 92.6h0.9v0.9h-0.9zM328.7 94.1h0.9v0.9h-0.9zM326.1 106.5h0.9v0.9h-0.9zM330.4 92.5h0.9v0.9h-0.9zM325.7 100.4h0.9v0.9h-0.9zM328.9 105.8h0.9v0.9h-0.9zM329.9 100.9h0.9v0.9h-0.9zM329.8 108.9h0.9v0.9h-0.9zM329.1 97.9h0.9v0.9h-0.9zM328.7 95.4h0.9v0.9h-0.9zM325.9 95.8h0.9v0.9h-0.9zM326.8 94.2h0.9v0.9h-0.9zM324.4 92.9h0.9v0.9h-0.9zM328.5 91.8h0.9v0.9h-0.9zM331.0 93.0h0.9v0.9h-0.9zM330.0 90.7h0.9v0.9h-0.9zM329.9 87.5h0.9v0.9h-0.9zM327.9 108.2h0.9v0.9h-0.9zM328.5 87.4h0.9v0.9h-0.9zM329.8 108.4h0.9v0.9h-0.9zM325.9 95.5h0.9v0.9h-0.9zM331.5 84.8h0.9v0.9h-0.9zM330.8 96.3h0.9v0.9h-0.9zM329.8 87.9h0.9v0.9h-0.9zM331.4 109.1h0.9v0.9h-0.9zM324.5 106.8h0.9v0.9h-0.9zM328.1 93.3h0.9v0.9h-0.9zM326.7 95.7h0.9v0.9h-0.9zM325.0 91.3h0.9v0.9h-0.9zM325.3 84.3h0.9v0.9h-0.9zM326.2 91.1h0.9v0.9h-0.9zM328.8 96.7h0.9v0.9h-0.9zM329.0 91.9h0.9v0.9h-0.9zM329.5 98.6h0.9v0.9h-0.9zM330.7 85.1h0.9v0.9h-0.9zM330.4 101.9h0.9v0.9h-0.9zM324.4 91.2h0.9v0.9h-0.9zM325.1 98.7h0.9v0.9h-0.9zM327.6 99.2h0.9v0.9h-0.9zM326.9 103.1h0.9v0.9h-0.9zM325.1 102.7h0.9v0.9h-0.9zM331.0 101.5h0.9v0.9h-0.9zM327.4 100.2h0.9v0.9h-0.9zM325.0 92.4h0.9v0.9h-0.9zM328.3 104.3h0.9v0.9h-0.9zM324.2 111.5h0.9v0.9h-0.9zM327.3 108.5h0.9v0.9h-0.9zM324.8 94.3h0.9v0.9h-0.9zM325.0 100.1h0.9v0.9h-0.9zM327.1 94.6h0.9v0.9h-0.9zM328.7 99.0h0.9v0.9h-0.9zM327.3 84.8h0.9v0.9h-0.9zM326.7 105.2h0.9v0.9h-0.9zM362.9 102.3h0.9v0.9h-0.9zM366.0 109.3h0.9v0.9h-0.9zM363.6 90.5h0.9v0.9h-0.9zM363.2 106.1h0.9v0.9h-0.9zM362.6 106.3h0.9v0.9h-0.9zM362.0 95.9h0.9v0.9h-0.9zM360.4 90.6h0.9v0.9h-0.9zM361.5 90.1h0.9v0.9h-0.9zM360.8 98.9h0.9v0.9h-0.9zM366.4 94.4h0.9v0.9h-0.9zM364.6 100.5h0.9v0.9h-0.9zM367.9 110.4h0.9v0.9h-0.9zM364.1 86.1h0.9v0.9h-0.9zM365.5 103.9h0.9v0.9h-0.9zM364.5 90.5h0.9v0.9h-0.9zM365.6 86.2h0.9v0.9h-0.9zM365.4 106.1h0.9v0.9h-0.9zM362.5 96.7h0.9v0.9h-0.9zM361.7 97.1h0.9v0.9h-0.9zM366.8 89.7h0.9v0.9h-0.9zM365.0 101.8h0.9v0.9h-0.9zM361.8 83.4h0.9v0.9h-0.9zM365.1 89.0h0.9v0.9h-0.9zM364.9 88.4h0.9v0.9h-0.9zM366.8 91.8h0.9v0.9h-0.9zM359.7 100.7h0.9v0.9h-0.9zM366.3 87.0h0.9v0.9h-0.9zM363.4 98.3h0.9v0.9h-0.9zM364.0 95.5h0.9v0.9h-0.9zM360.0 96.9h0.9v0.9h-0.9zM361.7 96.6h0.9v0.9h-0.9zM360.2 92.4h0.9v0.9h-0.9zM362.5 87.6h0.9v0.9h-0.9zM366.4 97.9h0.9v0.9h-0.9zM367.0 106.9h0.9v0.9h-0.9zM366.8 99.1h0.9v0.9h-0.9zM362.8 99.7h0.9v0.9h-0.9zM365.3 106.6h0.9v0.9h-0.9zM362.1 85.7h0.9v0.9h-0.9zM361.3 103.5h0.9v0.9h-0.9zM364.7 86.3h0.9v0.9h-0.9zM367.2 88.3h0.9v0.9h-0.9zM366.7 112.6h0.9v0.9h-0.9zM365.0 92.8h0.9v0.9h-0.9zM362.2 101.3h0.9v0.9h-0.9zM365.6 90.1h0.9v0.9h-0.9zM363.4 91.5h0.9v0.9h-0.9zM360.3 102.0h0.9v0.9h-0.9zM363.6 105.5h0.9v0.9h-0.9zM366.8 93.4h0.9v0.9h-0.9zM366.9 104.3h0.9v0.9h-0.9zM365.7 86.2h0.9v0.9h-0.9zM364.2 88.2h0.9v0.9h-0.9zM364.1 102.2h0.9v0.9h-0.9zM363.4 110.4h0.9v0.9h-0.9zM361.3 102.8h0.9v0.9h-0.9zM360.2 82.3h0.9v0.9h-0.9zM361.4 106.3h0.9v0.9h-0.9zM363.3 93.1h0.9v0.9h-0.9zM367.5 111.2h0.9v0.9h-0.9zM374.7 54.4h0.9v0.9h-0.9zM377.9 52.5h0.9v0.9h-0.9zM375.8 70.5h0.9v0.9h-0.9zM378.5 66.3h0.9v0.9h-0.9zM374.9 59.5h0.9v0.9h-0.9zM375.9 48.5h0.9v0.9h-0.9zM374.7 68.4h0.9v0.9h-0.9zM374.2 71.4h0.9v0.9h-0.9zM374.2 52.1h0.9v0.9h-0.9zM376.8 57.5h0.9v0.9h-0.9zM378.3 53.0h0.9v0.9h-0.9zM377.4 61.1h0.9v0.9h-0.9zM376.5 61.1h0.9v0.9h-0.9zM378.6 51.3h0.9v0.9h-0.9zM376.5 57.3h0.9v0.9h-0.9zM376.5 55.2h0.9v0.9h-0.9zM375.1 74.4h0.9v0.9h-0.9zM378.5 66.2h0.9v0.9h-0.9zM376.9 58.7h0.9v0.9h-0.9zM376.6 74.7h0.9v0.9h-0.9zM378.3 76.4h0.9v0.9h-0.9zM378.2 53.9h0.9v0.9h-0.9zM376.3 66.7h0.9v0.9h-0.9zM378.1 75.2h0.9v0.9h-0.9zM374.2 62.2h0.9v0.9h-0.9zM374.4 60.7h0.9v0.9h-0.9zM374.4 52.4h0.9v0.9h-0.9zM375.9 72.5h0.9v0.9h-0.9zM375.0 64.6h0.9v0.9h-0.9zM417.6 61.2h0.9v0.9h-0.9zM415.0 61.8h0.9v0.9h-0.9zM416.1 53.9h0.9v0.9h-0.9zM417.5 52.0h0.9v0.9h-0.9zM418.0 77.8h0.9v0.9h-0.9zM415.2 50.9h0.9v0.9h-0.9zM414.9 50.1h0.9v0.9h-0.9zM417.9 56.5h0.9v0.9h-0.9zM414.9 77.4h0.9v0.9h-0.9zM415.0 53.7h0.9v0.9h-0.9zM416.5 59.6h0.9v0.9h-0.9zM415.0 75.6h0.9v0.9h-0.9zM415.8 66.7h0.9v0.9h-0.9zM415.4 49.1h0.9v0.9h-0.9zM415.2 70.2h0.9v0.9h-0.9zM417.5 59.0h0.9v0.9h-0.9zM415.7 62.8h0.9v0.9h-0.9zM418.1 68.7h0.9v0.9h-0.9zM415.1 61.6h0.9v0.9h-0.9zM414.7 65.7h0.9v0.9h-0.9zM414.5 54.4h0.9v0.9h-0.9zM417.7 73.3h0.9v0.9h-0.9zM414.8 58.4h0.9v0.9h-0.9zM417.1 69.2h0.9v0.9h-0.9zM416.6 51.6h0.9v0.9h-0.9zM415.6 61.8h0.9v0.9h-0.9zM417.0 67.6h0.9v0.9h-0.9zM416.4 54.5h0.9v0.9h-0.9zM417.0 74.6h0.9v0.9h-0.9zM416.8 73.6h0.9v0.9h-0.9zM417.2 77.0h0.9v0.9h-0.9zM414.6 76.5h0.9v0.9h-0.9zM414.7 62.2h0.9v0.9h-0.9zM378.8 103.8h0.9v0.9h-0.9zM377.1 87.3h0.9v0.9h-0.9zM381.5 87.4h0.9v0.9h-0.9zM380.1 88.0h0.9v0.9h-0.9zM381.6 112.6h0.9v0.9h-0.9zM379.1 107.6h0.9v0.9h-0.9zM376.4 101.7h0.9v0.9h-0.9zM382.0 111.5h0.9v0.9h-0.9zM379.6 88.9h0.9v0.9h-0.9zM375.4 87.5h0.9v0.9h-0.9zM379.3 98.8h0.9v0.9h-0.9zM380.1 108.8h0.9v0.9h-0.9zM376.7 87.6h0.9v0.9h-0.9zM380.5 106.8h0.9v0.9h-0.9zM380.4 89.1h0.9v0.9h-0.9zM375.5 85.6h0.9v0.9h-0.9zM375.0 111.9h0.9v0.9h-0.9zM381.9 85.6h0.9v0.9h-0.9zM380.2 98.3h0.9v0.9h-0.9zM375.0 93.5h0.9v0.9h-0.9zM380.9 98.6h0.9v0.9h-0.9zM376.6 94.2h0.9v0.9h-0.9zM379.1 109.7h0.9v0.9h-0.9zM382.0 93.4h0.9v0.9h-0.9zM374.9 90.3h0.9v0.9h-0.9zM381.1 95.5h0.9v0.9h-0.9zM379.9 93.6h0.9v0.9h-0.9zM380.9 111.8h0.9v0.9h-0.9zM376.7 93.5h0.9v0.9h-0.9zM384.6 90.3h0.9v0.9h-0.9zM379.1 85.0h0.9v0.9h-0.9zM376.1 83.5h0.9v0.9h-0.9zM379.0 105.3h0.9v0.9h-0.9zM378.1 84.4h0.9v0.9h-0.9zM380.7 110.7h0.9v0.9h-0.9zM382.7 90.0h0.9v0.9h-0.9zM380.2 82.9h0.9v0.9h-0.9zM382.3 100.6h0.9v0.9h-0.9zM379.5 95.4h0.9v0.9h-0.9zM375.9 110.1h0.9v0.9h-0.9zM379.3 96.9h0.9v0.9h-0.9zM383.7 84.4h0.9v0.9h-0.9zM379.5 88.6h0.9v0.9h-0.9zM376.3 102.6h0.9v0.9h-0.9zM374.9 103.1h0.9v0.9h-0.9zM384.5 83.5h0.9v0.9h-0.9zM383.1 85.3h0.9v0.9h-0.9zM375.2 89.3h0.9v0.9h-0.9zM382.7 105.8h0.9v0.9h-0.9zM382.7 108.0h0.9v0.9h-0.9zM376.4 102.3h0.9v0.9h-0.9zM380.7 92.0h0.9v0.9h-0.9zM384.2 105.3h0.9v0.9h-0.9zM382.5 105.6h0.9v0.9h-0.9zM383.9 90.4h0.9v0.9h-0.9zM383.8 99.4h0.9v0.9h-0.9zM376.4 98.3h0.9v0.9h-0.9zM374.6 97.6h0.9v0.9h-0.9zM383.2 98.7h0.9v0.9h-0.9zM378.0 84.4h0.9v0.9h-0.9zM379.8 100.9h0.9v0.9h-0.9zM384.3 91.4h0.9v0.9h-0.9zM381.8 103.2h0.9v0.9h-0.9zM377.4 93.0h0.9v0.9h-0.9zM383.4 99.2h0.9v0.9h-0.9zM378.0 102.4h0.9v0.9h-0.9zM377.4 106.3h0.9v0.9h-0.9zM375.2 88.3h0.9v0.9h-0.9zM375.6 101.4h0.9v0.9h-0.9zM382.6 106.0h0.9v0.9h-0.9zM375.5 104.3h0.9v0.9h-0.9zM376.7 110.3h0.9v0.9h-0.9zM382.4 110.2h0.9v0.9h-0.9zM377.3 82.2h0.9v0.9h-0.9zM381.0 94.1h0.9v0.9h-0.9zM415.6 99.7h0.9v0.9h-0.9zM412.7 97.7h0.9v0.9h-0.9zM413.6 94.4h0.9v0.9h-0.9zM414.7 91.1h0.9v0.9h-0.9zM405.5 99.6h0.9v0.9h-0.9zM407.2 106.1h0.9v0.9h-0.9zM416.5 107.8h0.9v0.9h-0.9zM409.8 109.7h0.9v0.9h-0.9zM410.1 88.7h0.9v0.9h-0.9zM415.9 98.5h0.9v0.9h-0.9zM412.5 103.9h0.9v0.9h-0.9zM406.1 104.3h0.9v0.9h-0.9zM414.8 102.8h0.9v0.9h-0.9zM413.7 109.4h0.9v0.9h-0.9zM414.1 111.8h0.9v0.9h-0.9zM414.2 99.6h0.9v0.9h-0.9zM411.3 88.9h0.9v0.9h-0.9zM409.7 90.4h0.9v0.9h-0.9zM405.7 87.9h0.9v0.9h-0.9zM414.0 107.7h0.9v0.9h-0.9zM413.6 90.5h0.9v0.9h-0.9zM406.4 109.0h0.9v0.9h-0.9zM406.6 107.6h0.9v0.9h-0.9zM416.3 101.6h0.9v0.9h-0.9zM411.2 112.3h0.9v0.9h-0.9zM412.0 102.5h0.9v0.9h-0.9zM415.1 91.5h0.9v0.9h-0.9zM414.2 98.4h0.9v0.9h-0.9zM408.2 88.5h0.9v0.9h-0.9zM413.0 89.0h0.9v0.9h-0.9zM406.1 94.6h0.9v0.9h-0.9zM408.3 108.8h0.9v0.9h-0.9zM407.0 102.4h0.9v0.9h-0.9zM410.3 104.2h0.9v0.9h-0.9zM416.8 95.8h0.9v0.9h-0.9zM405.6 108.6h0.9v0.9h-0.9zM415.4 112.2h0.9v0.9h-0.9zM413.0 85.6h0.9v0.9h-0.9zM409.9 93.6h0.9v0.9h-0.9zM412.8 83.5h0.9v0.9h-0.9zM406.3 100.2h0.9v0.9h-0.9zM408.7 103.5h0.9v0.9h-0.9zM407.9 93.7h0.9v0.9h-0.9zM411.4 99.3h0.9v0.9h-0.9zM416.8 86.0h0.9v0.9h-0.9zM417.6 100.8h0.9v0.9h-0.9zM410.9 111.6h0.9v0.9h-0.9zM409.2 91.9h0.9v0.9h-0.9zM409.2 102.0h0.9v0.9h-0.9zM412.5 108.4h0.9v0.9h-0.9zM415.5 92.5h0.9v0.9h-0.9zM416.8 84.5h0.9v0.9h-0.9zM411.3 94.0h0.9v0.9h-0.9zM415.7 109.9h0.9v0.9h-0.9zM414.2 110.2h0.9v0.9h-0.9zM406.4 94.4h0.9v0.9h-0.9zM405.8 85.6h0.9v0.9h-0.9zM414.1 82.8h0.9v0.9h-0.9zM413.2 93.9h0.9v0.9h-0.9zM406.7 86.5h0.9v0.9h-0.9zM408.0 86.1h0.9v0.9h-0.9zM409.2 90.5h0.9v0.9h-0.9zM416.4 101.7h0.9v0.9h-0.9zM413.1 83.1h0.9v0.9h-0.9zM417.5 109.2h0.9v0.9h-0.9zM407.1 104.0h0.9v0.9h-0.9zM408.6 91.1h0.9v0.9h-0.9zM408.5 86.9h0.9v0.9h-0.9zM405.9 108.4h0.9v0.9h-0.9zM408.2 106.4h0.9v0.9h-0.9zM406.2 87.8h0.9v0.9h-0.9zM409.7 93.9h0.9v0.9h-0.9zM412.8 101.6h0.9v0.9h-0.9zM405.9 102.7h0.9v0.9h-0.9zM413.5 101.7h0.9v0.9h-0.9zM414.4 83.4h0.9v0.9h-0.9zM416.9 111.7h0.9v0.9h-0.9zM410.3 96.9h0.9v0.9h-0.9zM410.1 96.5h0.9v0.9h-0.9zM411.2 104.3h0.9v0.9h-0.9zM416.8 90.7h0.9v0.9h-0.9zM417.9 96.4h0.9v0.9h-0.9zM410.9 102.4h0.9v0.9h-0.9zM415.1 110.3h0.9v0.9h-0.9zM410.2 87.5h0.9v0.9h-0.9zM411.0 111.5h0.9v0.9h-0.9zM411.0 110.3h0.9v0.9h-0.9zM427.2 61.7h0.9v0.9h-0.9zM426.8 59.3h0.9v0.9h-0.9zM425.6 52.0h0.9v0.9h-0.9zM425.1 56.9h0.9v0.9h-0.9zM425.6 51.5h0.9v0.9h-0.9zM425.5 60.0h0.9v0.9h-0.9zM426.4 72.4h0.9v0.9h-0.9zM426.2 54.1h0.9v0.9h-0.9zM427.7 56.8h0.9v0.9h-0.9zM426.3 48.3h0.9v0.9h-0.9zM428.2 53.8h0.9v0.9h-0.9zM426.5 71.1h0.9v0.9h-0.9zM427.8 53.7h0.9v0.9h-0.9zM424.2 57.2h0.9v0.9h-0.9zM423.8 64.5h0.9v0.9h-0.9zM427.6 59.4h0.9v0.9h-0.9zM425.4 76.3h0.9v0.9h-0.9zM426.8 70.0h0.9v0.9h-0.9zM424.8 69.7h0.9v0.9h-0.9zM424.2 59.4h0.9v0.9h-0.9zM424.6 70.9h0.9v0.9h-0.9zM424.8 65.2h0.9v0.9h-0.9zM428.0 55.7h0.9v0.9h-0.9zM428.2 61.6h0.9v0.9h-0.9zM424.6 75.3h0.9v0.9h-0.9zM425.7 57.2h0.9v0.9h-0.9zM427.4 69.2h0.9v0.9h-0.9zM426.6 73.8h0.9v0.9h-0.9zM426.1 69.4h0.9v0.9h-0.9zM425.5 51.6h0.9v0.9h-0.9zM426.8 67.9h0.9v0.9h-0.9zM426.1 69.0h0.9v0.9h-0.9zM424.6 48.6h0.9v0.9h-0.9zM466.8 48.3h0.9v0.9h-0.9zM464.9 64.7h0.9v0.9h-0.9zM465.5 73.0h0.9v0.9h-0.9zM465.4 66.8h0.9v0.9h-0.9zM464.5 50.4h0.9v0.9h-0.9zM467.4 67.5h0.9v0.9h-0.9zM465.1 54.4h0.9v0.9h-0.9zM464.3 50.2h0.9v0.9h-0.9zM463.9 50.1h0.9v0.9h-0.9zM467.1 77.6h0.9v0.9h-0.9zM465.3 49.2h0.9v0.9h-0.9zM467.9 65.7h0.9v0.9h-0.9zM467.0 55.1h0.9v0.9h-0.9zM464.7 66.6h0.9v0.9h-0.9zM467.4 62.9h0.9v0.9h-0.9zM466.3 66.2h0.9v0.9h-0.9zM465.1 56.5h0.9v0.9h-0.9zM463.8 54.6h0.9v0.9h-0.9zM465.5 49.7h0.9v0.9h-0.9zM464.6 75.6h0.9v0.9h-0.9zM464.8 72.7h0.9v0.9h-0.9zM467.5 62.5h0.9v0.9h-0.9zM466.1 56.4h0.9v0.9h-0.9zM468.0 74.5h0.9v0.9h-0.9zM467.8 71.9h0.9v0.9h-0.9zM466.9 48.9h0.9v0.9h-0.9zM464.6 57.6h0.9v0.9h-0.9zM465.3 65.8h0.9v0.9h-0.9zM464.2 70.7h0.9v0.9h-0.9zM466.9 74.4h0.9v0.9h-0.9zM465.4 67.7h0.9v0.9h-0.9zM466.6 71.8h0.9v0.9h-0.9zM467.3 61.9h0.9v0.9h-0.9zM463.7 48.6h0.9v0.9h-0.9zM466.6 55.4h0.9v0.9h-0.9zM464.4 50.3h0.9v0.9h-0.9zM466.1 73.2h0.9v0.9h-0.9zM424.7 84.1h0.9v0.9h-0.9zM425.7 110.2h0.9v0.9h-0.9zM426.4 95.1h0.9v0.9h-0.9zM430.3 92.2h0.9v0.9h-0.9zM426.0 86.2h0.9v0.9h-0.9zM426.7 111.7h0.9v0.9h-0.9zM427.7 92.9h0.9v0.9h-0.9zM427.0 99.4h0.9v0.9h-0.9zM430.2 107.4h0.9v0.9h-0.9zM428.2 92.1h0.9v0.9h-0.9zM427.4 102.6h0.9v0.9h-0.9zM426.1 112.3h0.9v0.9h-0.9zM431.4 89.0h0.9v0.9h-0.9zM431.6 98.5h0.9v0.9h-0.9zM425.4 83.8h0.9v0.9h-0.9zM430.1 108.8h0.9v0.9h-0.9zM425.8 88.1h0.9v0.9h-0.9zM428.1 85.9h0.9v0.9h-0.9zM426.9 103.9h0.9v0.9h-0.9zM431.4 82.3h0.9v0.9h-0.9zM429.3 111.0h0.9v0.9h-0.9zM431.9 111.8h0.9v0.9h-0.9zM424.8 98.3h0.9v0.9h-0.9zM426.0 106.7h0.9v0.9h-0.9zM424.3 110.0h0.9v0.9h-0.9zM426.0 111.9h0.9v0.9h-0.9zM430.8 94.0h0.9v0.9h-0.9zM424.1 94.4h0.9v0.9h-0.9zM425.9 99.5h0.9v0.9h-0.9zM427.1 90.6h0.9v0.9h-0.9zM431.8 103.4h0.9v0.9h-0.9zM424.1 111.9h0.9v0.9h-0.9zM424.1 109.1h0.9v0.9h-0.9zM427.5 85.3h0.9v0.9h-0.9zM423.8 106.2h0.9v0.9h-0.9zM426.7 92.2h0.9v0.9h-0.9zM424.4 89.7h0.9v0.9h-0.9zM426.0 101.7h0.9v0.9h-0.9zM429.3 106.1h0.9v0.9h-0.9zM424.8 85.9h0.9v0.9h-0.9zM430.4 101.8h0.9v0.9h-0.9zM429.0 83.4h0.9v0.9h-0.9zM424.6 87.7h0.9v0.9h-0.9zM425.6 109.8h0.9v0.9h-0.9zM427.3 86.1h0.9v0.9h-0.9zM429.8 110.2h0.9v0.9h-0.9zM427.4 99.3h0.9v0.9h-0.9zM424.6 99.9h0.9v0.9h-0.9zM428.5 102.7h0.9v0.9h-0.9zM427.2 84.5h0.9v0.9h-0.9zM427.0 82.3h0.9v0.9h-0.9zM428.0 91.0h0.9v0.9h-0.9zM428.5 101.3h0.9v0.9h-0.9zM430.6 102.7h0.9v0.9h-0.9zM429.8 90.1h0.9v0.9h-0.9zM428.2 102.7h0.9v0.9h-0.9zM465.6 107.6h0.9v0.9h-0.9zM462.0 84.0h0.9v0.9h-0.9zM467.5 102.2h0.9v0.9h-0.9zM459.2 108.2h0.9v0.9h-0.9zM467.5 83.0h0.9v0.9h-0.9zM459.6 111.8h0.9v0.9h-0.9zM465.0 97.1h0.9v0.9h-0.9zM462.5 89.5h0.9v0.9h-0.9zM461.0 88.8h0.9v0.9h-0.9zM461.4 86.2h0.9v0.9h-0.9zM460.5 92.5h0.9v0.9h-0.9zM467.6 95.2h0.9v0.9h-0.9zM466.5 90.2h0.9v0.9h-0.9zM459.7 97.6h0.9v0.9h-0.9zM459.1 88.3h0.9v0.9h-0.9zM464.2 90.4h0.9v0.9h-0.9zM462.0 100.1h0.9v0.9h-0.9zM462.6 108.9h0.9v0.9h-0.9zM465.6 82.7h0.9v0.9h-0.9zM463.9 87.0h0.9v0.9h-0.9zM462.6 111.6h0.9v0.9h-0.9zM461.1 90.3h0.9v0.9h-0.9zM467.3 101.4h0.9v0.9h-0.9zM465.9 88.5h0.9v0.9h-0.9zM460.8 111.1h0.9v0.9h-0.9zM462.5 108.1h0.9v0.9h-0.9zM459.8 85.0h0.9v0.9h-0.9zM461.8 86.8h0.9v0.9h-0.9zM465.7 92.4h0.9v0.9h-0.9zM460.1 108.5h0.9v0.9h-0.9zM464.1 104.1h0.9v0.9h-0.9zM462.2 88.9h0.9v0.9h-0.9zM464.3 107.4h0.9v0.9h-0.9zM460.6 112.2h0.9v0.9h-0.9zM466.6 88.7h0.9v0.9h-0.9zM463.1 106.3h0.9v0.9h-0.9zM462.1 110.0h0.9v0.9h-0.9zM464.2 106.3h0.9v0.9h-0.9zM463.1 97.9h0.9v0.9h-0.9zM465.6 94.3h0.9v0.9h-0.9zM461.4 101.7h0.9v0.9h-0.9zM462.7 104.2h0.9v0.9h-0.9zM467.0 94.8h0.9v0.9h-0.9zM459.2 88.0h0.9v0.9h-0.9zM462.3 100.0h0.9v0.9h-0.9zM465.7 86.4h0.9v0.9h-0.9zM465.8 98.9h0.9v0.9h-0.9zM464.6 84.1h0.9v0.9h-0.9zM466.7 110.0h0.9v0.9h-0.9zM461.5 102.9h0.9v0.9h-0.9zM466.3 106.9h0.9v0.9h-0.9zM459.9 93.7h0.9v0.9h-0.9zM460.0 110.5h0.9v0.9h-0.9zM460.1 107.0h0.9v0.9h-0.9zM461.2 96.9h0.9v0.9h-0.9zM462.0 105.5h0.9v0.9h-0.9zM467.3 95.6h0.9v0.9h-0.9zM462.0 110.2h0.9v0.9h-0.9zM475.5 56.7h0.9v0.9h-0.9zM473.7 57.6h0.9v0.9h-0.9zM475.4 60.6h0.9v0.9h-0.9zM476.2 70.8h0.9v0.9h-0.9zM474.2 68.3h0.9v0.9h-0.9zM474.1 66.1h0.9v0.9h-0.9zM474.9 50.2h0.9v0.9h-0.9zM474.1 66.8h0.9v0.9h-0.9zM473.3 52.7h0.9v0.9h-0.9zM473.5 56.7h0.9v0.9h-0.9zM475.0 75.3h0.9v0.9h-0.9zM473.6 72.6h0.9v0.9h-0.9zM475.9 72.3h0.9v0.9h-0.9zM475.3 71.1h0.9v0.9h-0.9zM473.9 76.0h0.9v0.9h-0.9zM475.5 49.7h0.9v0.9h-0.9zM476.7 51.6h0.9v0.9h-0.9zM476.4 60.1h0.9v0.9h-0.9zM473.7 58.2h0.9v0.9h-0.9zM474.4 77.9h0.9v0.9h-0.9zM473.3 68.7h0.9v0.9h-0.9zM476.0 51.3h0.9v0.9h-0.9zM475.5 48.8h0.9v0.9h-0.9zM476.3 77.5h0.9v0.9h-0.9zM514.5 64.4h0.9v0.9h-0.9zM514.7 53.5h0.9v0.9h-0.9zM515.9 70.7h0.9v0.9h-0.9zM516.7 56.8h0.9v0.9h-0.9zM516.3 71.9h0.9v0.9h-0.9zM517.0 74.6h0.9v0.9h-0.9zM515.7 50.2h0.9v0.9h-0.9zM514.7 69.9h0.9v0.9h-0.9zM514.4 65.7h0.9v0.9h-0.9zM514.5 70.9h0.9v0.9h-0.9zM515.1 48.8h0.9v0.9h-0.9zM514.1 55.9h0.9v0.9h-0.9zM515.0 72.6h0.9v0.9h-0.9zM516.9 50.8h0.9v0.9h-0.9zM515.2 59.1h0.9v0.9h-0.9zM513.9 68.3h0.9v0.9h-0.9zM514.4 49.5h0.9v0.9h-0.9zM515.3 58.2h0.9v0.9h-0.9zM514.3 77.7h0.9v0.9h-0.9zM513.9 62.0h0.9v0.9h-0.9zM515.0 74.5h0.9v0.9h-0.9zM513.9 66.4h0.9v0.9h-0.9zM513.5 66.9h0.9v0.9h-0.9zM516.9 52.7h0.9v0.9h-0.9zM516.0 71.9h0.9v0.9h-0.9zM515.7 49.2h0.9v0.9h-0.9zM514.4 54.2h0.9v0.9h-0.9zM515.6 63.6h0.9v0.9h-0.9zM513.8 53.9h0.9v0.9h-0.9zM515.8 62.9h0.9v0.9h-0.9zM474.1 96.5h0.9v0.9h-0.9zM474.7 88.5h0.9v0.9h-0.9zM474.5 84.6h0.9v0.9h-0.9zM474.8 99.3h0.9v0.9h-0.9zM473.4 106.9h0.9v0.9h-0.9zM473.7 88.2h0.9v0.9h-0.9zM474.8 91.1h0.9v0.9h-0.9zM476.4 101.1h0.9v0.9h-0.9zM475.8 84.0h0.9v0.9h-0.9zM473.7 112.3h0.9v0.9h-0.9zM474.4 108.1h0.9v0.9h-0.9zM476.6 92.7h0.9v0.9h-0.9zM473.8 84.4h0.9v0.9h-0.9zM476.5 90.2h0.9v0.9h-0.9zM473.7 108.8h0.9v0.9h-0.9zM478.6 95.1h0.9v0.9h-0.9zM474.1 96.1h0.9v0.9h-0.9zM475.2 95.8h0.9v0.9h-0.9zM478.0 83.9h0.9v0.9h-0.9zM474.7 107.5h0.9v0.9h-0.9zM478.4 98.7h0.9v0.9h-0.9zM473.6 96.6h0.9v0.9h-0.9zM473.9 93.2h0.9v0.9h-0.9zM476.8 107.2h0.9v0.9h-0.9zM476.9 107.7h0.9v0.9h-0.9zM476.1 99.4h0.9v0.9h-0.9zM478.2 108.6h0.9v0.9h-0.9zM475.1 90.7h0.9v0.9h-0.9zM476.4 83.1h0.9v0.9h-0.9zM475.7 100.0h0.9v0.9h-0.9zM476.6 95.7h0.9v0.9h-0.9zM474.2 110.1h0.9v0.9h-0.9zM474.2 109.3h0.9v0.9h-0.9zM478.1 89.5h0.9v0.9h-0.9zM475.0 104.4h0.9v0.9h-0.9zM477.8 83.4h0.9v0.9h-0.9zM473.5 107.0h0.9v0.9h-0.9zM473.9 93.2h0.9v0.9h-0.9zM476.2 89.5h0.9v0.9h-0.9zM512.0 101.4h0.9v0.9h-0.9zM511.0 83.3h0.9v0.9h-0.9zM515.2 93.8h0.9v0.9h-0.9zM511.4 90.2h0.9v0.9h-0.9zM510.6 100.7h0.9v0.9h-0.9zM512.5 100.1h0.9v0.9h-0.9zM516.9 100.4h0.9v0.9h-0.9zM516.1 93.5h0.9v0.9h-0.9zM511.1 100.2h0.9v0.9h-0.9zM512.0 103.3h0.9v0.9h-0.9zM515.9 90.3h0.9v0.9h-0.9zM513.1 90.9h0.9v0.9h-0.9zM512.3 108.9h0.9v0.9h-0.9zM514.2 100.5h0.9v0.9h-0.9zM513.3 109.3h0.9v0.9h-0.9zM512.4 96.7h0.9v0.9h-0.9zM511.5 86.3h0.9v0.9h-0.9zM513.0 90.3h0.9v0.9h-0.9zM515.5 106.0h0.9v0.9h-0.9zM515.1 105.7h0.9v0.9h-0.9zM510.5 92.5h0.9v0.9h-0.9zM513.7 93.0h0.9v0.9h-0.9zM514.6 109.4h0.9v0.9h-0.9zM511.7 86.2h0.9v0.9h-0.9zM511.9 92.9h0.9v0.9h-0.9zM510.5 96.4h0.9v0.9h-0.9zM513.7 84.9h0.9v0.9h-0.9zM512.0 109.6h0.9v0.9h-0.9zM516.3 96.7h0.9v0.9h-0.9zM513.0 86.5h0.9v0.9h-0.9zM515.9 85.3h0.9v0.9h-0.9zM512.2 93.8h0.9v0.9h-0.9zM515.7 95.6h0.9v0.9h-0.9zM516.0 85.7h0.9v0.9h-0.9zM511.1 90.3h0.9v0.9h-0.9zM510.7 97.5h0.9v0.9h-0.9zM512.4 82.8h0.9v0.9h-0.9zM512.1 96.7h0.9v0.9h-0.9zM515.3 91.9h0.9v0.9h-0.9zM514.2 109.0h0.9v0.9h-0.9zM511.1 83.3h0.9v0.9h-0.9zM513.4 95.6h0.9v0.9h-0.9zM513.2 108.1h0.9v0.9h-0.9zM516.9 101.7h0.9v0.9h-0.9zM511.7 86.3h0.9v0.9h-0.9z"/>
<g stroke="#E24A38" stroke-width="1.1" stroke-dasharray="4.5 1.2"><line x1="330.3" y1="48.2" x2="330.3" y2="79.6"/><line x1="363.5" y1="48.2" x2="363.5" y2="79.6"/></g>
<g stroke="#E24A38" stroke-width="1.1" stroke-dasharray="4.5 1.2"><line x1="332.3" y1="82.2" x2="332.3" y2="113.6"/><line x1="359.6" y1="82.2" x2="359.6" y2="113.6"/></g>
<g stroke="#E24A38" stroke-width="1.1" stroke-dasharray="4.5 1.2"><line x1="379.5" y1="48.2" x2="379.5" y2="79.6"/><line x1="414.4" y1="48.2" x2="414.4" y2="79.6"/></g>
<g stroke="#E24A38" stroke-width="1.1" stroke-dasharray="4.5 1.2"><line x1="385.4" y1="82.2" x2="385.4" y2="113.6"/><line x1="405.5" y1="82.2" x2="405.5" y2="113.6"/></g>
<g stroke="#E24A38" stroke-width="1.1" stroke-dasharray="4.5 1.2"><line x1="429.1" y1="48.2" x2="429.1" y2="79.6"/><line x1="463.5" y1="48.2" x2="463.5" y2="79.6"/></g>
<g stroke="#E24A38" stroke-width="1.1" stroke-dasharray="4.5 1.2"><line x1="432.8" y1="82.2" x2="432.8" y2="113.6"/><line x1="458.9" y1="82.2" x2="458.9" y2="113.6"/></g>
<g stroke="#E24A38" stroke-width="1.1" stroke-dasharray="4.5 1.2"><line x1="477.6" y1="48.2" x2="477.6" y2="79.6"/><line x1="513.5" y1="48.2" x2="513.5" y2="79.6"/></g>
<g stroke="#E24A38" stroke-width="1.1" stroke-dasharray="4.5 1.2"><line x1="479.6" y1="82.2" x2="479.6" y2="113.6"/><line x1="510.5" y1="82.2" x2="510.5" y2="113.6"/></g>
<g font-size="7" fill="#000" text-anchor="end"><text x="317.2" y="66.5">0 h</text><text x="317.2" y="100.8">24 h</text></g>
<g font-size="7" fill="#000" text-anchor="middle">
<text x="346.2" y="121.8">Control</text>
<text x="396.5" y="121.8">25 µg/mL</text>
<text x="446.2" y="121.8">50 µg/mL</text>
<text x="495.6" y="121.8">100 µg/mL</text>
</g>
<rect x="319.5" y="138.7" width="200.8" height="29.200000000000017" fill="#d8d8d8"/>
<rect x="320.1" y="138.7" width="38.9" height="29.2" fill="#061806"/>
<rect x="360.4" y="138.7" width="38.7" height="29.2" fill="#0B2A0B"/>
<rect x="400.8" y="138.7" width="38.6" height="29.2" fill="#0A240A"/>
<rect x="440.8" y="138.7" width="38.5" height="29.2" fill="#071A07"/>
<rect x="481" y="138.7" width="38.8" height="29.2" fill="#092009"/>
<path fill="#1A4C1A"  d="M343.7 159.6h0.8v0.8h-0.8zM355.8 159.6h0.8v0.8h-0.8zM321.2 151.8h0.8v0.8h-0.8zM344.7 164.1h0.8v0.8h-0.8zM337.9 145.7h0.8v0.8h-0.8zM341.9 139.1h0.8v0.8h-0.8zM330.7 164.5h0.8v0.8h-0.8zM326.1 161.2h0.8v0.8h-0.8zM343.5 142.3h0.8v0.8h-0.8zM353.1 144.6h0.8v0.8h-0.8zM357.3 163.3h0.8v0.8h-0.8zM356.5 153.9h0.8v0.8h-0.8zM327.9 165.2h0.8v0.8h-0.8zM356.7 163.9h0.8v0.8h-0.8zM333.8 143.4h0.8v0.8h-0.8zM322.6 147.2h0.8v0.8h-0.8zM320.2 157.8h0.8v0.8h-0.8zM331.8 161.8h0.8v0.8h-0.8zM332.1 152.3h0.8v0.8h-0.8zM322.3 166.2h0.8v0.8h-0.8zM348.5 162.5h0.8v0.8h-0.8zM350.0 149.0h0.8v0.8h-0.8zM320.4 140.0h0.8v0.8h-0.8zM356.3 144.2h0.8v0.8h-0.8zM355.3 165.3h0.8v0.8h-0.8zM333.5 153.5h0.8v0.8h-0.8zM324.2 159.8h0.8v0.8h-0.8zM352.7 139.7h0.8v0.8h-0.8zM323.6 148.3h0.8v0.8h-0.8zM354.9 148.3h0.8v0.8h-0.8zM340.8 147.5h0.8v0.8h-0.8zM326.8 140.9h0.8v0.8h-0.8zM346.2 166.8h0.8v0.8h-0.8zM321.9 166.5h0.8v0.8h-0.8zM335.5 145.4h0.8v0.8h-0.8zM351.4 151.5h0.8v0.8h-0.8zM322.2 164.5h0.8v0.8h-0.8zM338.8 162.3h0.8v0.8h-0.8zM347.8 165.5h0.8v0.8h-0.8zM350.0 141.7h0.8v0.8h-0.8zM325.8 162.5h0.8v0.8h-0.8zM337.3 166.9h0.8v0.8h-0.8zM357.1 151.5h0.8v0.8h-0.8zM347.7 152.2h0.8v0.8h-0.8zM335.4 142.8h0.8v0.8h-0.8zM357.6 165.8h0.8v0.8h-0.8zM339.0 148.2h0.8v0.8h-0.8zM330.4 160.8h0.8v0.8h-0.8zM333.8 160.9h0.8v0.8h-0.8zM346.4 157.4h0.8v0.8h-0.8zM333.9 158.6h0.8v0.8h-0.8zM338.5 160.4h0.8v0.8h-0.8zM331.2 165.4h0.8v0.8h-0.8zM342.1 139.0h0.8v0.8h-0.8zM329.6 157.6h0.8v0.8h-0.8zM351.1 157.0h0.8v0.8h-0.8zM333.3 156.9h0.8v0.8h-0.8zM351.5 148.6h0.8v0.8h-0.8zM353.1 158.1h0.8v0.8h-0.8zM356.4 153.3h0.8v0.8h-0.8zM326.4 162.3h0.8v0.8h-0.8zM338.2 158.2h0.8v0.8h-0.8zM347.8 143.5h0.8v0.8h-0.8zM342.1 157.5h0.8v0.8h-0.8zM343.7 160.5h0.8v0.8h-0.8zM347.4 139.5h0.8v0.8h-0.8zM336.8 157.0h0.8v0.8h-0.8zM346.1 156.5h0.8v0.8h-0.8zM338.0 145.1h0.8v0.8h-0.8zM325.2 147.6h0.8v0.8h-0.8zM369.4 164.2h0.8v0.8h-0.8zM361.8 156.0h0.8v0.8h-0.8zM373.6 163.9h0.8v0.8h-0.8zM374.6 150.9h0.8v0.8h-0.8zM360.9 153.7h0.8v0.8h-0.8zM395.7 160.7h0.8v0.8h-0.8zM388.5 155.4h0.8v0.8h-0.8zM393.9 154.1h0.8v0.8h-0.8zM389.8 164.4h0.8v0.8h-0.8zM391.0 140.6h0.8v0.8h-0.8zM398.0 158.5h0.8v0.8h-0.8zM396.3 158.8h0.8v0.8h-0.8zM371.4 164.6h0.8v0.8h-0.8zM383.4 150.4h0.8v0.8h-0.8zM383.9 139.9h0.8v0.8h-0.8zM374.7 140.7h0.8v0.8h-0.8zM370.3 154.3h0.8v0.8h-0.8zM388.7 153.3h0.8v0.8h-0.8zM363.6 157.5h0.8v0.8h-0.8zM365.1 155.5h0.8v0.8h-0.8zM386.1 145.0h0.8v0.8h-0.8zM373.5 149.6h0.8v0.8h-0.8zM375.3 141.4h0.8v0.8h-0.8zM378.5 160.1h0.8v0.8h-0.8zM376.6 151.8h0.8v0.8h-0.8zM374.9 163.5h0.8v0.8h-0.8zM370.0 146.5h0.8v0.8h-0.8zM378.2 165.4h0.8v0.8h-0.8zM387.9 143.3h0.8v0.8h-0.8zM361.3 145.2h0.8v0.8h-0.8zM388.0 158.9h0.8v0.8h-0.8zM378.9 165.1h0.8v0.8h-0.8zM371.9 140.1h0.8v0.8h-0.8zM375.6 153.7h0.8v0.8h-0.8zM372.2 142.4h0.8v0.8h-0.8zM382.2 145.6h0.8v0.8h-0.8zM386.8 140.1h0.8v0.8h-0.8zM371.2 149.2h0.8v0.8h-0.8zM387.8 158.5h0.8v0.8h-0.8zM391.0 149.5h0.8v0.8h-0.8zM362.9 143.5h0.8v0.8h-0.8zM385.9 146.8h0.8v0.8h-0.8zM389.2 154.4h0.8v0.8h-0.8zM391.6 159.2h0.8v0.8h-0.8zM397.0 155.5h0.8v0.8h-0.8zM391.1 150.5h0.8v0.8h-0.8zM368.5 146.5h0.8v0.8h-0.8zM369.5 148.6h0.8v0.8h-0.8zM383.7 150.0h0.8v0.8h-0.8zM391.8 152.5h0.8v0.8h-0.8zM372.0 164.9h0.8v0.8h-0.8zM380.9 149.8h0.8v0.8h-0.8zM383.2 166.0h0.8v0.8h-0.8zM383.1 143.9h0.8v0.8h-0.8zM378.4 141.5h0.8v0.8h-0.8zM366.3 141.3h0.8v0.8h-0.8zM384.0 165.9h0.8v0.8h-0.8zM364.3 140.5h0.8v0.8h-0.8zM380.9 149.3h0.8v0.8h-0.8zM369.4 157.5h0.8v0.8h-0.8zM374.0 139.2h0.8v0.8h-0.8zM377.1 152.0h0.8v0.8h-0.8zM388.9 163.8h0.8v0.8h-0.8zM385.5 142.2h0.8v0.8h-0.8zM394.2 163.7h0.8v0.8h-0.8zM383.0 142.5h0.8v0.8h-0.8zM395.1 165.1h0.8v0.8h-0.8zM367.4 150.8h0.8v0.8h-0.8zM386.9 141.2h0.8v0.8h-0.8zM369.5 154.7h0.8v0.8h-0.8zM381.0 159.3h0.8v0.8h-0.8zM378.5 158.6h0.8v0.8h-0.8zM383.4 161.1h0.8v0.8h-0.8zM365.8 166.0h0.8v0.8h-0.8zM375.1 156.4h0.8v0.8h-0.8zM394.2 143.7h0.8v0.8h-0.8zM379.0 163.3h0.8v0.8h-0.8zM383.4 156.0h0.8v0.8h-0.8zM396.2 141.8h0.8v0.8h-0.8zM386.2 141.3h0.8v0.8h-0.8zM370.2 147.1h0.8v0.8h-0.8zM378.0 143.1h0.8v0.8h-0.8zM370.3 165.4h0.8v0.8h-0.8zM363.7 148.6h0.8v0.8h-0.8zM394.8 142.8h0.8v0.8h-0.8zM384.6 165.7h0.8v0.8h-0.8zM389.4 148.2h0.8v0.8h-0.8zM384.4 159.1h0.8v0.8h-0.8zM375.8 148.0h0.8v0.8h-0.8zM394.2 153.0h0.8v0.8h-0.8zM376.1 145.1h0.8v0.8h-0.8zM381.7 146.9h0.8v0.8h-0.8zM364.7 153.9h0.8v0.8h-0.8zM380.3 142.6h0.8v0.8h-0.8zM371.1 159.7h0.8v0.8h-0.8zM365.4 143.4h0.8v0.8h-0.8zM366.6 158.4h0.8v0.8h-0.8zM362.4 159.0h0.8v0.8h-0.8zM376.0 166.2h0.8v0.8h-0.8zM383.6 161.1h0.8v0.8h-0.8zM389.5 162.3h0.8v0.8h-0.8zM380.6 152.2h0.8v0.8h-0.8zM374.9 156.9h0.8v0.8h-0.8zM377.2 158.0h0.8v0.8h-0.8zM370.2 162.4h0.8v0.8h-0.8zM364.2 149.1h0.8v0.8h-0.8zM377.4 150.2h0.8v0.8h-0.8zM367.6 147.9h0.8v0.8h-0.8zM386.1 160.4h0.8v0.8h-0.8zM365.8 146.8h0.8v0.8h-0.8zM366.0 150.7h0.8v0.8h-0.8zM363.4 142.9h0.8v0.8h-0.8zM372.1 157.8h0.8v0.8h-0.8zM394.9 156.6h0.8v0.8h-0.8zM363.1 157.7h0.8v0.8h-0.8zM395.5 146.9h0.8v0.8h-0.8zM373.4 165.4h0.8v0.8h-0.8zM393.3 140.3h0.8v0.8h-0.8zM383.1 155.4h0.8v0.8h-0.8zM377.2 159.4h0.8v0.8h-0.8zM371.1 157.2h0.8v0.8h-0.8zM362.1 152.8h0.8v0.8h-0.8zM380.2 140.0h0.8v0.8h-0.8zM397.7 160.9h0.8v0.8h-0.8zM377.6 139.6h0.8v0.8h-0.8zM369.7 140.5h0.8v0.8h-0.8zM391.9 160.8h0.8v0.8h-0.8zM366.8 146.3h0.8v0.8h-0.8zM382.0 146.7h0.8v0.8h-0.8zM370.2 151.6h0.8v0.8h-0.8zM368.2 164.7h0.8v0.8h-0.8zM386.4 140.9h0.8v0.8h-0.8zM378.0 154.1h0.8v0.8h-0.8zM383.1 156.9h0.8v0.8h-0.8zM377.2 154.5h0.8v0.8h-0.8zM364.3 164.9h0.8v0.8h-0.8zM379.2 147.0h0.8v0.8h-0.8zM386.6 156.3h0.8v0.8h-0.8zM390.7 162.1h0.8v0.8h-0.8zM372.4 152.8h0.8v0.8h-0.8zM367.6 164.9h0.8v0.8h-0.8zM371.7 161.6h0.8v0.8h-0.8zM378.4 148.0h0.8v0.8h-0.8zM374.1 138.7h0.8v0.8h-0.8zM395.9 148.7h0.8v0.8h-0.8zM364.8 153.5h0.8v0.8h-0.8zM365.8 160.8h0.8v0.8h-0.8zM394.7 164.3h0.8v0.8h-0.8zM369.6 150.6h0.8v0.8h-0.8zM380.1 149.0h0.8v0.8h-0.8zM391.9 155.4h0.8v0.8h-0.8zM419.0 163.7h0.8v0.8h-0.8zM435.0 157.9h0.8v0.8h-0.8zM413.9 148.4h0.8v0.8h-0.8zM402.0 163.5h0.8v0.8h-0.8zM416.9 144.2h0.8v0.8h-0.8zM402.5 151.6h0.8v0.8h-0.8zM424.8 148.8h0.8v0.8h-0.8zM430.5 158.8h0.8v0.8h-0.8zM416.5 143.1h0.8v0.8h-0.8zM426.6 148.0h0.8v0.8h-0.8zM434.9 158.5h0.8v0.8h-0.8zM423.7 158.7h0.8v0.8h-0.8zM428.5 147.8h0.8v0.8h-0.8zM410.7 140.8h0.8v0.8h-0.8zM422.5 141.9h0.8v0.8h-0.8zM428.3 148.6h0.8v0.8h-0.8zM422.6 147.2h0.8v0.8h-0.8zM424.4 150.2h0.8v0.8h-0.8zM426.5 149.6h0.8v0.8h-0.8zM420.8 165.1h0.8v0.8h-0.8zM413.6 149.7h0.8v0.8h-0.8zM434.8 155.4h0.8v0.8h-0.8zM410.5 152.6h0.8v0.8h-0.8zM421.8 157.8h0.8v0.8h-0.8zM431.7 141.4h0.8v0.8h-0.8zM433.4 162.2h0.8v0.8h-0.8zM427.2 149.3h0.8v0.8h-0.8zM437.6 143.7h0.8v0.8h-0.8zM416.9 163.9h0.8v0.8h-0.8zM411.7 145.9h0.8v0.8h-0.8zM405.1 151.1h0.8v0.8h-0.8zM416.9 139.6h0.8v0.8h-0.8zM421.5 155.6h0.8v0.8h-0.8zM431.9 154.4h0.8v0.8h-0.8zM404.6 145.8h0.8v0.8h-0.8zM406.2 159.7h0.8v0.8h-0.8zM407.1 156.2h0.8v0.8h-0.8zM428.1 159.3h0.8v0.8h-0.8zM424.5 141.0h0.8v0.8h-0.8zM422.5 161.0h0.8v0.8h-0.8zM406.8 149.8h0.8v0.8h-0.8zM432.2 156.8h0.8v0.8h-0.8zM406.3 157.9h0.8v0.8h-0.8zM419.3 151.4h0.8v0.8h-0.8zM407.4 165.7h0.8v0.8h-0.8zM427.3 143.0h0.8v0.8h-0.8zM427.5 165.1h0.8v0.8h-0.8zM426.1 166.5h0.8v0.8h-0.8zM421.2 154.1h0.8v0.8h-0.8zM412.0 143.5h0.8v0.8h-0.8zM432.8 145.6h0.8v0.8h-0.8zM419.5 142.4h0.8v0.8h-0.8zM415.7 142.1h0.8v0.8h-0.8zM437.0 157.6h0.8v0.8h-0.8zM402.2 146.7h0.8v0.8h-0.8zM417.4 163.3h0.8v0.8h-0.8zM406.3 161.9h0.8v0.8h-0.8zM438.3 145.6h0.8v0.8h-0.8zM419.5 165.7h0.8v0.8h-0.8zM408.2 152.5h0.8v0.8h-0.8zM408.5 165.5h0.8v0.8h-0.8zM413.7 158.3h0.8v0.8h-0.8zM418.5 146.9h0.8v0.8h-0.8zM417.2 145.4h0.8v0.8h-0.8zM413.3 142.2h0.8v0.8h-0.8zM436.4 147.6h0.8v0.8h-0.8zM408.2 152.3h0.8v0.8h-0.8zM416.0 155.1h0.8v0.8h-0.8zM413.9 156.7h0.8v0.8h-0.8zM419.0 152.6h0.8v0.8h-0.8zM437.1 144.2h0.8v0.8h-0.8zM406.0 161.1h0.8v0.8h-0.8zM418.6 153.7h0.8v0.8h-0.8zM435.4 139.7h0.8v0.8h-0.8zM422.7 164.7h0.8v0.8h-0.8zM411.8 146.2h0.8v0.8h-0.8zM413.3 143.0h0.8v0.8h-0.8zM431.7 162.3h0.8v0.8h-0.8zM412.3 146.1h0.8v0.8h-0.8zM411.6 153.9h0.8v0.8h-0.8zM415.4 151.8h0.8v0.8h-0.8zM429.9 147.1h0.8v0.8h-0.8zM424.9 159.5h0.8v0.8h-0.8zM416.1 142.4h0.8v0.8h-0.8zM437.2 150.2h0.8v0.8h-0.8zM413.6 149.0h0.8v0.8h-0.8zM407.1 147.2h0.8v0.8h-0.8zM433.7 153.7h0.8v0.8h-0.8zM412.1 163.9h0.8v0.8h-0.8zM428.6 152.7h0.8v0.8h-0.8zM419.3 150.8h0.8v0.8h-0.8zM413.6 156.0h0.8v0.8h-0.8zM408.0 146.9h0.8v0.8h-0.8zM412.1 154.0h0.8v0.8h-0.8zM405.3 163.9h0.8v0.8h-0.8zM413.4 152.8h0.8v0.8h-0.8zM411.8 154.6h0.8v0.8h-0.8zM436.0 153.1h0.8v0.8h-0.8zM437.8 156.2h0.8v0.8h-0.8zM433.8 147.6h0.8v0.8h-0.8zM418.7 144.3h0.8v0.8h-0.8zM422.9 162.0h0.8v0.8h-0.8zM412.5 162.5h0.8v0.8h-0.8zM430.1 150.3h0.8v0.8h-0.8zM437.0 142.9h0.8v0.8h-0.8zM401.9 148.6h0.8v0.8h-0.8zM406.6 165.2h0.8v0.8h-0.8zM427.7 144.7h0.8v0.8h-0.8zM418.0 145.7h0.8v0.8h-0.8zM424.9 147.6h0.8v0.8h-0.8zM407.6 148.3h0.8v0.8h-0.8zM408.5 163.0h0.8v0.8h-0.8zM418.4 159.7h0.8v0.8h-0.8zM423.5 161.6h0.8v0.8h-0.8zM429.4 140.5h0.8v0.8h-0.8zM435.2 146.8h0.8v0.8h-0.8zM436.1 139.3h0.8v0.8h-0.8zM430.6 151.2h0.8v0.8h-0.8zM410.5 160.6h0.8v0.8h-0.8zM404.4 156.5h0.8v0.8h-0.8zM406.4 144.9h0.8v0.8h-0.8zM427.1 145.4h0.8v0.8h-0.8zM413.2 163.5h0.8v0.8h-0.8zM410.5 151.5h0.8v0.8h-0.8zM407.3 148.6h0.8v0.8h-0.8zM426.8 160.9h0.8v0.8h-0.8zM413.3 156.0h0.8v0.8h-0.8zM437.8 141.7h0.8v0.8h-0.8zM425.8 166.6h0.8v0.8h-0.8zM446.2 153.0h0.8v0.8h-0.8zM442.8 150.6h0.8v0.8h-0.8zM461.3 153.3h0.8v0.8h-0.8zM448.2 158.1h0.8v0.8h-0.8zM457.7 162.6h0.8v0.8h-0.8zM449.6 155.8h0.8v0.8h-0.8zM462.8 141.1h0.8v0.8h-0.8zM455.2 155.8h0.8v0.8h-0.8zM460.9 146.2h0.8v0.8h-0.8zM476.7 163.7h0.8v0.8h-0.8zM445.3 163.1h0.8v0.8h-0.8zM450.5 140.8h0.8v0.8h-0.8zM477.2 144.0h0.8v0.8h-0.8zM451.9 141.2h0.8v0.8h-0.8zM447.2 156.2h0.8v0.8h-0.8zM442.4 144.0h0.8v0.8h-0.8zM454.3 160.1h0.8v0.8h-0.8zM469.0 142.1h0.8v0.8h-0.8zM454.4 145.5h0.8v0.8h-0.8zM442.1 150.8h0.8v0.8h-0.8zM448.4 147.8h0.8v0.8h-0.8zM453.3 155.8h0.8v0.8h-0.8zM462.2 144.8h0.8v0.8h-0.8zM472.2 152.4h0.8v0.8h-0.8zM455.0 143.7h0.8v0.8h-0.8zM447.1 139.2h0.8v0.8h-0.8zM454.8 156.7h0.8v0.8h-0.8zM448.3 157.8h0.8v0.8h-0.8zM446.7 166.8h0.8v0.8h-0.8zM464.7 139.4h0.8v0.8h-0.8zM460.4 152.1h0.8v0.8h-0.8zM454.1 141.9h0.8v0.8h-0.8zM465.9 159.7h0.8v0.8h-0.8zM458.9 166.0h0.8v0.8h-0.8zM460.4 139.5h0.8v0.8h-0.8zM448.1 144.0h0.8v0.8h-0.8zM459.2 154.5h0.8v0.8h-0.8zM473.3 159.4h0.8v0.8h-0.8zM441.6 138.7h0.8v0.8h-0.8zM468.0 139.6h0.8v0.8h-0.8zM460.2 149.2h0.8v0.8h-0.8zM449.5 142.7h0.8v0.8h-0.8zM448.6 141.0h0.8v0.8h-0.8zM449.5 154.0h0.8v0.8h-0.8zM447.9 138.9h0.8v0.8h-0.8zM473.9 156.6h0.8v0.8h-0.8zM442.3 142.5h0.8v0.8h-0.8zM453.3 154.3h0.8v0.8h-0.8zM447.6 143.5h0.8v0.8h-0.8zM458.5 142.1h0.8v0.8h-0.8zM467.7 139.3h0.8v0.8h-0.8zM470.8 149.7h0.8v0.8h-0.8zM461.1 144.2h0.8v0.8h-0.8zM475.7 146.8h0.8v0.8h-0.8zM466.0 165.0h0.8v0.8h-0.8zM462.9 157.4h0.8v0.8h-0.8zM444.6 148.1h0.8v0.8h-0.8zM470.1 148.5h0.8v0.8h-0.8zM447.4 142.1h0.8v0.8h-0.8zM473.0 166.5h0.8v0.8h-0.8zM447.4 164.0h0.8v0.8h-0.8zM460.1 162.5h0.8v0.8h-0.8zM450.9 157.1h0.8v0.8h-0.8zM442.2 154.6h0.8v0.8h-0.8zM464.7 148.6h0.8v0.8h-0.8zM468.1 156.4h0.8v0.8h-0.8zM456.8 165.7h0.8v0.8h-0.8zM445.0 149.7h0.8v0.8h-0.8zM462.1 153.8h0.8v0.8h-0.8zM451.0 141.0h0.8v0.8h-0.8zM460.0 156.2h0.8v0.8h-0.8zM467.8 162.3h0.8v0.8h-0.8zM456.9 151.6h0.8v0.8h-0.8zM473.4 165.6h0.8v0.8h-0.8zM464.0 162.6h0.8v0.8h-0.8zM459.7 166.0h0.8v0.8h-0.8zM464.2 149.3h0.8v0.8h-0.8zM452.1 165.9h0.8v0.8h-0.8zM458.6 163.1h0.8v0.8h-0.8zM476.1 151.0h0.8v0.8h-0.8zM477.1 166.7h0.8v0.8h-0.8zM473.0 160.2h0.8v0.8h-0.8zM450.9 151.1h0.8v0.8h-0.8zM468.3 142.0h0.8v0.8h-0.8zM464.2 146.0h0.8v0.8h-0.8zM443.7 160.3h0.8v0.8h-0.8zM442.8 161.9h0.8v0.8h-0.8zM447.1 154.6h0.8v0.8h-0.8zM448.7 150.5h0.8v0.8h-0.8zM475.8 142.9h0.8v0.8h-0.8zM459.4 141.3h0.8v0.8h-0.8zM469.5 142.6h0.8v0.8h-0.8zM457.3 151.9h0.8v0.8h-0.8zM449.1 162.2h0.8v0.8h-0.8zM473.3 151.1h0.8v0.8h-0.8zM452.7 164.3h0.8v0.8h-0.8zM473.5 162.7h0.8v0.8h-0.8zM448.5 156.5h0.8v0.8h-0.8zM444.7 158.1h0.8v0.8h-0.8zM462.4 159.1h0.8v0.8h-0.8zM474.2 139.5h0.8v0.8h-0.8zM453.9 163.6h0.8v0.8h-0.8zM453.1 143.2h0.8v0.8h-0.8zM474.1 150.2h0.8v0.8h-0.8zM468.8 143.9h0.8v0.8h-0.8zM471.5 143.0h0.8v0.8h-0.8zM456.8 158.9h0.8v0.8h-0.8zM454.0 158.2h0.8v0.8h-0.8zM467.5 141.1h0.8v0.8h-0.8zM467.7 144.8h0.8v0.8h-0.8zM477.0 162.7h0.8v0.8h-0.8zM450.0 152.8h0.8v0.8h-0.8zM465.8 141.2h0.8v0.8h-0.8zM444.2 142.2h0.8v0.8h-0.8zM461.1 161.0h0.8v0.8h-0.8zM453.3 147.8h0.8v0.8h-0.8zM459.4 160.3h0.8v0.8h-0.8zM475.7 140.8h0.8v0.8h-0.8zM478.1 140.5h0.8v0.8h-0.8zM443.4 157.2h0.8v0.8h-0.8zM467.9 146.7h0.8v0.8h-0.8zM441.1 150.9h0.8v0.8h-0.8zM458.9 150.8h0.8v0.8h-0.8zM463.6 159.6h0.8v0.8h-0.8zM445.5 158.5h0.8v0.8h-0.8zM469.2 154.3h0.8v0.8h-0.8zM470.2 163.3h0.8v0.8h-0.8zM466.4 157.9h0.8v0.8h-0.8zM451.2 155.7h0.8v0.8h-0.8zM473.7 155.5h0.8v0.8h-0.8zM444.8 146.3h0.8v0.8h-0.8zM464.0 161.1h0.8v0.8h-0.8zM457.7 145.3h0.8v0.8h-0.8zM464.1 160.9h0.8v0.8h-0.8zM447.4 146.8h0.8v0.8h-0.8zM452.5 158.0h0.8v0.8h-0.8zM474.9 150.8h0.8v0.8h-0.8zM483.7 164.4h0.8v0.8h-0.8zM487.2 149.3h0.8v0.8h-0.8zM509.6 161.7h0.8v0.8h-0.8zM496.7 163.0h0.8v0.8h-0.8zM500.9 163.5h0.8v0.8h-0.8zM504.2 149.4h0.8v0.8h-0.8zM505.9 153.2h0.8v0.8h-0.8zM492.5 139.4h0.8v0.8h-0.8zM488.7 162.4h0.8v0.8h-0.8zM518.7 153.2h0.8v0.8h-0.8zM482.7 152.9h0.8v0.8h-0.8zM496.2 153.6h0.8v0.8h-0.8zM499.2 144.7h0.8v0.8h-0.8zM518.1 139.9h0.8v0.8h-0.8zM506.6 157.7h0.8v0.8h-0.8zM497.8 149.1h0.8v0.8h-0.8zM507.8 149.9h0.8v0.8h-0.8zM503.9 147.5h0.8v0.8h-0.8zM518.7 159.9h0.8v0.8h-0.8zM512.3 160.8h0.8v0.8h-0.8zM491.7 144.2h0.8v0.8h-0.8zM504.9 166.2h0.8v0.8h-0.8zM501.7 166.1h0.8v0.8h-0.8zM503.1 163.1h0.8v0.8h-0.8zM482.1 156.6h0.8v0.8h-0.8zM486.9 143.1h0.8v0.8h-0.8zM504.0 160.6h0.8v0.8h-0.8zM488.2 161.9h0.8v0.8h-0.8zM503.0 141.2h0.8v0.8h-0.8zM506.3 145.4h0.8v0.8h-0.8zM496.0 139.3h0.8v0.8h-0.8zM512.2 166.2h0.8v0.8h-0.8zM503.6 139.9h0.8v0.8h-0.8zM486.2 155.2h0.8v0.8h-0.8zM484.7 145.4h0.8v0.8h-0.8zM498.4 148.0h0.8v0.8h-0.8zM487.1 166.7h0.8v0.8h-0.8zM509.7 159.7h0.8v0.8h-0.8zM518.7 158.4h0.8v0.8h-0.8zM491.9 154.0h0.8v0.8h-0.8zM507.1 163.9h0.8v0.8h-0.8zM514.0 144.9h0.8v0.8h-0.8zM505.9 145.6h0.8v0.8h-0.8zM490.2 139.3h0.8v0.8h-0.8zM503.6 160.8h0.8v0.8h-0.8zM486.3 147.1h0.8v0.8h-0.8zM494.3 159.8h0.8v0.8h-0.8zM503.3 166.1h0.8v0.8h-0.8zM501.7 144.3h0.8v0.8h-0.8zM498.3 148.6h0.8v0.8h-0.8zM498.6 165.8h0.8v0.8h-0.8zM482.5 145.8h0.8v0.8h-0.8zM491.0 156.6h0.8v0.8h-0.8zM503.2 143.6h0.8v0.8h-0.8zM510.1 166.6h0.8v0.8h-0.8zM515.1 139.9h0.8v0.8h-0.8zM512.7 151.9h0.8v0.8h-0.8zM510.2 138.7h0.8v0.8h-0.8zM504.0 155.5h0.8v0.8h-0.8zM494.3 156.2h0.8v0.8h-0.8zM497.9 149.8h0.8v0.8h-0.8zM495.7 149.3h0.8v0.8h-0.8zM503.4 154.1h0.8v0.8h-0.8zM496.8 144.5h0.8v0.8h-0.8zM514.8 143.3h0.8v0.8h-0.8zM489.7 138.8h0.8v0.8h-0.8zM504.2 158.5h0.8v0.8h-0.8zM506.9 160.0h0.8v0.8h-0.8zM518.1 144.1h0.8v0.8h-0.8zM499.1 148.8h0.8v0.8h-0.8zM498.3 156.7h0.8v0.8h-0.8zM504.4 147.6h0.8v0.8h-0.8zM502.4 157.6h0.8v0.8h-0.8zM492.1 166.1h0.8v0.8h-0.8zM514.0 139.5h0.8v0.8h-0.8zM507.4 143.6h0.8v0.8h-0.8zM492.4 158.5h0.8v0.8h-0.8zM491.8 149.7h0.8v0.8h-0.8zM509.0 162.3h0.8v0.8h-0.8zM509.9 152.3h0.8v0.8h-0.8zM506.3 158.6h0.8v0.8h-0.8zM508.0 165.6h0.8v0.8h-0.8zM493.8 139.4h0.8v0.8h-0.8zM514.9 159.4h0.8v0.8h-0.8zM500.3 155.6h0.8v0.8h-0.8zM510.8 150.1h0.8v0.8h-0.8zM507.1 144.7h0.8v0.8h-0.8zM518.4 143.6h0.8v0.8h-0.8zM508.5 152.7h0.8v0.8h-0.8zM486.0 156.4h0.8v0.8h-0.8zM514.0 145.0h0.8v0.8h-0.8zM496.5 151.1h0.8v0.8h-0.8zM485.9 159.0h0.8v0.8h-0.8zM507.4 155.8h0.8v0.8h-0.8zM497.7 150.4h0.8v0.8h-0.8zM483.2 148.5h0.8v0.8h-0.8zM485.1 156.7h0.8v0.8h-0.8zM516.6 164.4h0.8v0.8h-0.8zM515.1 140.2h0.8v0.8h-0.8zM497.6 152.4h0.8v0.8h-0.8zM516.0 159.8h0.8v0.8h-0.8zM502.6 153.3h0.8v0.8h-0.8zM516.6 163.5h0.8v0.8h-0.8zM483.6 165.3h0.8v0.8h-0.8zM492.7 148.4h0.8v0.8h-0.8zM494.5 144.7h0.8v0.8h-0.8zM498.2 162.9h0.8v0.8h-0.8zM483.1 166.5h0.8v0.8h-0.8zM482.6 144.9h0.8v0.8h-0.8zM512.5 166.0h0.8v0.8h-0.8zM498.9 142.4h0.8v0.8h-0.8zM506.9 155.8h0.8v0.8h-0.8zM486.2 139.2h0.8v0.8h-0.8zM484.6 156.3h0.8v0.8h-0.8zM499.1 152.3h0.8v0.8h-0.8zM512.0 161.4h0.8v0.8h-0.8zM515.8 141.2h0.8v0.8h-0.8zM496.3 141.6h0.8v0.8h-0.8zM511.1 160.1h0.8v0.8h-0.8zM487.1 139.1h0.8v0.8h-0.8zM504.2 146.3h0.8v0.8h-0.8zM498.9 142.3h0.8v0.8h-0.8zM499.8 159.1h0.8v0.8h-0.8zM507.0 147.7h0.8v0.8h-0.8zM509.1 153.1h0.8v0.8h-0.8zM495.5 164.6h0.8v0.8h-0.8zM499.2 163.2h0.8v0.8h-0.8zM501.5 146.4h0.8v0.8h-0.8zM511.3 151.2h0.8v0.8h-0.8zM493.8 147.9h0.8v0.8h-0.8zM492.5 152.0h0.8v0.8h-0.8zM485.9 164.3h0.8v0.8h-0.8zM481.6 160.1h0.8v0.8h-0.8zM504.0 159.1h0.8v0.8h-0.8zM512.0 143.9h0.8v0.8h-0.8zM512.5 145.4h0.8v0.8h-0.8zM511.2 166.3h0.8v0.8h-0.8zM485.2 145.0h0.8v0.8h-0.8zM483.4 140.1h0.8v0.8h-0.8zM509.4 164.8h0.8v0.8h-0.8zM498.1 149.5h0.8v0.8h-0.8zM502.1 162.7h0.8v0.8h-0.8zM518.8 156.7h0.8v0.8h-0.8zM485.8 144.3h0.8v0.8h-0.8zM513.9 144.0h0.8v0.8h-0.8zM499.8 151.7h0.8v0.8h-0.8zM513.2 160.0h0.8v0.8h-0.8zM513.0 140.6h0.8v0.8h-0.8zM504.2 163.6h0.8v0.8h-0.8z"/>
<path fill="#247424"  d="M367.7 139.7h0.8v0.8h-0.8zM375.7 146.6h0.8v0.8h-0.8zM364.7 162.1h0.8v0.8h-0.8zM396.5 161.8h0.8v0.8h-0.8zM391.0 156.8h0.8v0.8h-0.8zM371.4 166.1h0.8v0.8h-0.8zM370.2 166.4h0.8v0.8h-0.8zM378.9 146.8h0.8v0.8h-0.8zM365.0 156.2h0.8v0.8h-0.8zM371.5 155.8h0.8v0.8h-0.8zM364.9 160.1h0.8v0.8h-0.8zM380.5 148.2h0.8v0.8h-0.8zM380.4 151.8h0.8v0.8h-0.8zM387.1 156.5h0.8v0.8h-0.8zM394.8 149.6h0.8v0.8h-0.8zM392.5 144.2h0.8v0.8h-0.8zM386.6 150.9h0.8v0.8h-0.8zM378.4 154.2h0.8v0.8h-0.8zM365.5 150.9h0.8v0.8h-0.8zM366.1 156.5h0.8v0.8h-0.8zM393.5 152.2h0.8v0.8h-0.8zM365.7 156.3h0.8v0.8h-0.8zM376.7 162.7h0.8v0.8h-0.8zM366.2 143.2h0.8v0.8h-0.8zM371.2 145.3h0.8v0.8h-0.8zM361.6 164.8h0.8v0.8h-0.8zM375.5 166.2h0.8v0.8h-0.8zM372.2 151.9h0.8v0.8h-0.8zM375.9 140.0h0.8v0.8h-0.8zM397.7 153.3h0.8v0.8h-0.8zM369.6 140.1h0.8v0.8h-0.8zM362.7 145.9h0.8v0.8h-0.8zM397.0 143.8h0.8v0.8h-0.8zM372.2 141.7h0.8v0.8h-0.8zM368.5 139.2h0.8v0.8h-0.8zM378.7 154.8h0.8v0.8h-0.8zM368.8 142.0h0.8v0.8h-0.8zM369.6 141.1h0.8v0.8h-0.8zM389.0 154.9h0.8v0.8h-0.8zM362.3 142.4h0.8v0.8h-0.8zM369.1 150.8h0.8v0.8h-0.8zM377.8 150.9h0.8v0.8h-0.8zM389.3 165.1h0.8v0.8h-0.8zM378.6 163.6h0.8v0.8h-0.8zM383.9 161.3h0.8v0.8h-0.8zM367.4 149.7h0.8v0.8h-0.8zM361.4 147.5h0.8v0.8h-0.8zM378.3 158.5h0.8v0.8h-0.8zM386.5 157.6h0.8v0.8h-0.8zM386.0 153.4h0.8v0.8h-0.8zM363.3 141.2h0.8v0.8h-0.8zM383.4 144.6h0.8v0.8h-0.8zM381.3 158.9h0.8v0.8h-0.8zM393.8 144.7h0.8v0.8h-0.8zM376.1 150.7h0.8v0.8h-0.8zM394.5 147.2h0.8v0.8h-0.8zM387.9 140.4h0.8v0.8h-0.8zM391.9 165.7h0.8v0.8h-0.8zM388.4 141.1h0.8v0.8h-0.8zM371.6 142.0h0.8v0.8h-0.8zM374.8 146.9h0.8v0.8h-0.8zM380.0 140.1h0.8v0.8h-0.8zM370.6 141.4h0.8v0.8h-0.8zM397.5 154.0h0.8v0.8h-0.8zM395.6 141.3h0.8v0.8h-0.8zM377.7 149.5h0.8v0.8h-0.8zM379.5 140.2h0.8v0.8h-0.8zM397.9 144.8h0.8v0.8h-0.8zM370.6 151.9h0.8v0.8h-0.8zM377.7 140.8h0.8v0.8h-0.8zM384.7 149.3h0.8v0.8h-0.8zM389.5 150.5h0.8v0.8h-0.8zM379.3 139.8h0.8v0.8h-0.8zM373.4 139.3h0.8v0.8h-0.8zM365.6 148.6h0.8v0.8h-0.8zM381.7 144.5h0.8v0.8h-0.8zM362.7 141.2h0.8v0.8h-0.8zM370.3 163.4h0.8v0.8h-0.8zM367.0 142.6h0.8v0.8h-0.8zM381.3 157.4h0.8v0.8h-0.8zM390.0 162.3h0.8v0.8h-0.8zM364.5 146.0h0.8v0.8h-0.8zM362.3 166.1h0.8v0.8h-0.8zM362.8 158.9h0.8v0.8h-0.8zM393.2 140.5h0.8v0.8h-0.8zM397.6 154.0h0.8v0.8h-0.8zM376.5 144.6h0.8v0.8h-0.8zM395.8 151.8h0.8v0.8h-0.8zM395.0 154.9h0.8v0.8h-0.8zM382.3 145.8h0.8v0.8h-0.8zM395.1 146.7h0.8v0.8h-0.8zM393.5 142.4h0.8v0.8h-0.8zM360.4 165.3h0.8v0.8h-0.8zM392.6 157.3h0.8v0.8h-0.8zM392.0 157.8h0.8v0.8h-0.8zM382.3 159.7h0.8v0.8h-0.8zM364.4 151.6h0.8v0.8h-0.8zM390.7 152.1h0.8v0.8h-0.8zM368.0 140.6h0.8v0.8h-0.8zM368.7 138.8h0.8v0.8h-0.8zM371.7 159.3h0.8v0.8h-0.8zM386.4 144.8h0.8v0.8h-0.8zM393.7 158.8h0.8v0.8h-0.8zM380.5 162.4h0.8v0.8h-0.8zM364.0 155.8h0.8v0.8h-0.8zM378.4 161.4h0.8v0.8h-0.8zM395.0 155.8h0.8v0.8h-0.8zM366.8 150.7h0.8v0.8h-0.8zM391.4 145.2h0.8v0.8h-0.8zM391.2 140.7h0.8v0.8h-0.8zM364.0 159.3h0.8v0.8h-0.8zM379.7 151.9h0.8v0.8h-0.8zM366.1 146.5h0.8v0.8h-0.8zM371.3 141.3h0.8v0.8h-0.8zM372.8 158.0h0.8v0.8h-0.8zM379.3 148.5h0.8v0.8h-0.8zM392.3 154.8h0.8v0.8h-0.8zM385.2 156.0h0.8v0.8h-0.8zM376.5 142.4h0.8v0.8h-0.8zM393.5 147.3h0.8v0.8h-0.8zM377.6 143.3h0.8v0.8h-0.8zM367.1 152.1h0.8v0.8h-0.8zM387.8 151.6h0.8v0.8h-0.8zM376.9 156.0h0.8v0.8h-0.8zM385.2 145.6h0.8v0.8h-0.8zM389.8 147.3h0.8v0.8h-0.8zM367.6 166.5h0.8v0.8h-0.8zM367.0 159.0h0.8v0.8h-0.8zM394.8 154.4h0.8v0.8h-0.8zM363.4 145.7h0.8v0.8h-0.8zM388.5 155.4h0.8v0.8h-0.8zM392.6 161.0h0.8v0.8h-0.8zM369.0 138.9h0.8v0.8h-0.8zM388.4 148.5h0.8v0.8h-0.8zM380.1 162.4h0.8v0.8h-0.8zM372.2 146.6h0.8v0.8h-0.8zM370.6 143.3h0.8v0.8h-0.8zM394.7 140.9h0.8v0.8h-0.8zM377.1 146.0h0.8v0.8h-0.8zM387.6 152.2h0.8v0.8h-0.8zM372.9 158.0h0.8v0.8h-0.8zM368.9 152.6h0.8v0.8h-0.8zM387.6 160.3h0.8v0.8h-0.8zM392.8 142.8h0.8v0.8h-0.8zM371.5 156.4h0.8v0.8h-0.8zM377.0 160.3h0.8v0.8h-0.8zM362.0 163.9h0.8v0.8h-0.8zM360.6 147.4h0.8v0.8h-0.8zM397.6 154.3h0.8v0.8h-0.8zM363.5 150.7h0.8v0.8h-0.8zM361.5 142.1h0.8v0.8h-0.8zM360.8 157.7h0.8v0.8h-0.8zM369.2 147.5h0.8v0.8h-0.8zM368.3 162.7h0.8v0.8h-0.8zM385.4 140.1h0.8v0.8h-0.8zM369.2 140.5h0.8v0.8h-0.8zM403.6 146.6h0.8v0.8h-0.8zM409.3 153.3h0.8v0.8h-0.8zM436.5 148.5h0.8v0.8h-0.8zM411.3 160.7h0.8v0.8h-0.8zM412.2 155.8h0.8v0.8h-0.8zM419.1 157.9h0.8v0.8h-0.8zM435.8 156.2h0.8v0.8h-0.8zM438.0 143.9h0.8v0.8h-0.8zM432.1 146.8h0.8v0.8h-0.8zM413.2 166.3h0.8v0.8h-0.8zM418.5 154.5h0.8v0.8h-0.8zM419.5 150.6h0.8v0.8h-0.8zM414.8 160.1h0.8v0.8h-0.8zM405.4 165.6h0.8v0.8h-0.8zM429.0 154.1h0.8v0.8h-0.8zM411.1 138.8h0.8v0.8h-0.8zM409.4 159.3h0.8v0.8h-0.8zM423.5 152.8h0.8v0.8h-0.8zM419.5 160.0h0.8v0.8h-0.8zM423.7 165.7h0.8v0.8h-0.8zM406.4 144.4h0.8v0.8h-0.8zM402.6 138.7h0.8v0.8h-0.8zM422.5 156.7h0.8v0.8h-0.8zM429.6 158.7h0.8v0.8h-0.8zM428.2 149.6h0.8v0.8h-0.8zM426.5 146.4h0.8v0.8h-0.8zM408.5 144.9h0.8v0.8h-0.8zM435.3 146.1h0.8v0.8h-0.8zM427.0 143.9h0.8v0.8h-0.8zM407.1 145.7h0.8v0.8h-0.8zM407.0 157.9h0.8v0.8h-0.8zM418.5 163.6h0.8v0.8h-0.8zM416.5 149.1h0.8v0.8h-0.8zM402.4 140.8h0.8v0.8h-0.8zM416.7 149.4h0.8v0.8h-0.8zM410.2 149.3h0.8v0.8h-0.8zM416.6 164.8h0.8v0.8h-0.8zM411.3 148.4h0.8v0.8h-0.8zM423.3 149.5h0.8v0.8h-0.8zM421.7 143.7h0.8v0.8h-0.8zM419.5 144.3h0.8v0.8h-0.8zM409.8 156.5h0.8v0.8h-0.8zM412.0 152.0h0.8v0.8h-0.8zM424.4 163.5h0.8v0.8h-0.8zM406.2 159.5h0.8v0.8h-0.8zM408.6 158.6h0.8v0.8h-0.8zM425.7 142.4h0.8v0.8h-0.8zM438.1 164.7h0.8v0.8h-0.8zM430.2 158.9h0.8v0.8h-0.8zM424.6 164.8h0.8v0.8h-0.8zM404.8 158.0h0.8v0.8h-0.8zM430.2 159.2h0.8v0.8h-0.8zM419.3 149.9h0.8v0.8h-0.8zM436.2 140.7h0.8v0.8h-0.8zM415.1 151.9h0.8v0.8h-0.8zM410.2 161.2h0.8v0.8h-0.8zM407.7 161.3h0.8v0.8h-0.8zM409.3 163.9h0.8v0.8h-0.8zM410.8 158.0h0.8v0.8h-0.8zM414.7 157.6h0.8v0.8h-0.8zM427.2 159.9h0.8v0.8h-0.8zM404.7 139.2h0.8v0.8h-0.8zM428.1 151.5h0.8v0.8h-0.8zM420.1 148.9h0.8v0.8h-0.8zM422.3 162.4h0.8v0.8h-0.8zM409.3 162.9h0.8v0.8h-0.8zM423.7 159.9h0.8v0.8h-0.8zM420.6 139.6h0.8v0.8h-0.8zM438.2 156.4h0.8v0.8h-0.8zM417.9 156.5h0.8v0.8h-0.8zM431.4 162.2h0.8v0.8h-0.8zM401.7 143.7h0.8v0.8h-0.8zM427.5 148.7h0.8v0.8h-0.8zM430.2 154.6h0.8v0.8h-0.8zM400.9 146.2h0.8v0.8h-0.8zM433.5 156.6h0.8v0.8h-0.8zM406.5 161.8h0.8v0.8h-0.8zM428.8 154.5h0.8v0.8h-0.8zM405.2 154.1h0.8v0.8h-0.8zM416.6 142.1h0.8v0.8h-0.8zM419.9 140.3h0.8v0.8h-0.8zM432.6 143.7h0.8v0.8h-0.8zM410.1 163.1h0.8v0.8h-0.8zM425.8 165.1h0.8v0.8h-0.8zM411.0 144.7h0.8v0.8h-0.8zM419.0 139.6h0.8v0.8h-0.8zM436.9 153.1h0.8v0.8h-0.8zM418.0 158.4h0.8v0.8h-0.8zM408.7 145.3h0.8v0.8h-0.8zM427.2 139.8h0.8v0.8h-0.8zM420.7 154.3h0.8v0.8h-0.8zM413.2 139.9h0.8v0.8h-0.8zM401.8 156.7h0.8v0.8h-0.8zM432.5 153.3h0.8v0.8h-0.8zM418.5 141.0h0.8v0.8h-0.8zM416.9 143.9h0.8v0.8h-0.8zM422.2 166.0h0.8v0.8h-0.8zM432.6 162.2h0.8v0.8h-0.8zM401.8 159.4h0.8v0.8h-0.8zM401.9 145.9h0.8v0.8h-0.8zM434.5 165.0h0.8v0.8h-0.8zM422.1 146.6h0.8v0.8h-0.8zM427.6 150.5h0.8v0.8h-0.8zM413.8 163.7h0.8v0.8h-0.8zM422.9 164.5h0.8v0.8h-0.8zM408.6 139.6h0.8v0.8h-0.8zM430.0 140.7h0.8v0.8h-0.8zM428.9 164.2h0.8v0.8h-0.8zM432.6 156.4h0.8v0.8h-0.8zM430.8 162.6h0.8v0.8h-0.8zM430.9 148.0h0.8v0.8h-0.8zM434.8 146.0h0.8v0.8h-0.8zM422.1 140.2h0.8v0.8h-0.8zM430.8 163.8h0.8v0.8h-0.8zM426.4 161.6h0.8v0.8h-0.8zM409.4 154.1h0.8v0.8h-0.8zM417.2 158.8h0.8v0.8h-0.8zM421.9 144.0h0.8v0.8h-0.8zM422.5 152.1h0.8v0.8h-0.8zM433.4 161.8h0.8v0.8h-0.8zM430.5 153.4h0.8v0.8h-0.8zM419.8 142.4h0.8v0.8h-0.8zM405.9 148.1h0.8v0.8h-0.8zM431.9 147.6h0.8v0.8h-0.8zM433.6 154.7h0.8v0.8h-0.8zM414.0 160.1h0.8v0.8h-0.8zM436.1 158.1h0.8v0.8h-0.8zM428.9 157.5h0.8v0.8h-0.8zM430.3 154.3h0.8v0.8h-0.8zM433.7 144.1h0.8v0.8h-0.8zM410.6 152.3h0.8v0.8h-0.8zM424.5 147.0h0.8v0.8h-0.8zM437.6 150.1h0.8v0.8h-0.8zM404.6 152.9h0.8v0.8h-0.8zM430.6 166.2h0.8v0.8h-0.8zM432.5 164.8h0.8v0.8h-0.8zM404.1 155.1h0.8v0.8h-0.8zM401.1 150.0h0.8v0.8h-0.8zM433.5 145.9h0.8v0.8h-0.8zM432.3 157.3h0.8v0.8h-0.8zM448.4 164.1h0.8v0.8h-0.8zM447.0 156.2h0.8v0.8h-0.8zM476.0 166.4h0.8v0.8h-0.8zM469.0 141.0h0.8v0.8h-0.8zM463.9 156.8h0.8v0.8h-0.8zM473.4 159.3h0.8v0.8h-0.8zM468.1 161.4h0.8v0.8h-0.8zM450.0 160.8h0.8v0.8h-0.8zM464.8 155.7h0.8v0.8h-0.8zM474.8 143.0h0.8v0.8h-0.8zM460.1 161.3h0.8v0.8h-0.8zM462.3 155.4h0.8v0.8h-0.8zM459.8 141.5h0.8v0.8h-0.8zM470.6 140.7h0.8v0.8h-0.8zM441.0 158.0h0.8v0.8h-0.8zM464.2 153.8h0.8v0.8h-0.8zM446.8 139.8h0.8v0.8h-0.8zM460.0 145.8h0.8v0.8h-0.8zM448.7 165.8h0.8v0.8h-0.8zM473.2 141.4h0.8v0.8h-0.8zM465.3 155.0h0.8v0.8h-0.8zM457.5 165.6h0.8v0.8h-0.8zM476.5 142.7h0.8v0.8h-0.8zM467.1 143.9h0.8v0.8h-0.8zM466.3 163.6h0.8v0.8h-0.8zM451.2 162.3h0.8v0.8h-0.8zM448.4 145.9h0.8v0.8h-0.8zM456.7 156.1h0.8v0.8h-0.8zM476.8 162.0h0.8v0.8h-0.8zM473.5 159.5h0.8v0.8h-0.8zM475.5 146.3h0.8v0.8h-0.8zM449.7 148.3h0.8v0.8h-0.8zM473.6 144.5h0.8v0.8h-0.8zM446.9 165.1h0.8v0.8h-0.8zM465.8 149.8h0.8v0.8h-0.8zM469.4 163.1h0.8v0.8h-0.8zM465.5 165.1h0.8v0.8h-0.8zM477.4 145.8h0.8v0.8h-0.8zM469.0 154.8h0.8v0.8h-0.8zM474.2 149.9h0.8v0.8h-0.8zM457.4 163.5h0.8v0.8h-0.8zM476.2 143.2h0.8v0.8h-0.8zM460.9 142.9h0.8v0.8h-0.8zM445.8 161.0h0.8v0.8h-0.8zM474.2 157.7h0.8v0.8h-0.8zM455.2 139.2h0.8v0.8h-0.8zM445.2 156.4h0.8v0.8h-0.8zM444.9 164.6h0.8v0.8h-0.8zM476.0 165.6h0.8v0.8h-0.8zM460.9 165.5h0.8v0.8h-0.8zM444.7 149.7h0.8v0.8h-0.8zM458.0 163.5h0.8v0.8h-0.8zM471.6 146.0h0.8v0.8h-0.8zM451.3 155.2h0.8v0.8h-0.8zM470.7 145.3h0.8v0.8h-0.8zM459.8 148.0h0.8v0.8h-0.8zM451.6 143.4h0.8v0.8h-0.8zM446.6 162.1h0.8v0.8h-0.8zM460.0 156.6h0.8v0.8h-0.8zM449.7 163.1h0.8v0.8h-0.8zM467.8 140.6h0.8v0.8h-0.8zM449.8 151.1h0.8v0.8h-0.8zM467.0 166.0h0.8v0.8h-0.8zM456.9 166.8h0.8v0.8h-0.8zM457.3 152.0h0.8v0.8h-0.8zM444.7 156.9h0.8v0.8h-0.8zM458.6 155.2h0.8v0.8h-0.8zM464.1 158.1h0.8v0.8h-0.8zM468.3 151.6h0.8v0.8h-0.8zM476.3 141.0h0.8v0.8h-0.8zM447.1 163.5h0.8v0.8h-0.8zM447.2 161.8h0.8v0.8h-0.8zM473.3 159.8h0.8v0.8h-0.8zM470.0 142.6h0.8v0.8h-0.8zM461.0 149.5h0.8v0.8h-0.8zM457.9 139.9h0.8v0.8h-0.8zM456.2 150.5h0.8v0.8h-0.8zM470.0 140.5h0.8v0.8h-0.8zM443.9 156.8h0.8v0.8h-0.8zM464.6 166.5h0.8v0.8h-0.8zM463.7 151.9h0.8v0.8h-0.8zM470.4 161.2h0.8v0.8h-0.8zM444.5 154.9h0.8v0.8h-0.8zM448.1 149.2h0.8v0.8h-0.8zM456.3 160.5h0.8v0.8h-0.8zM472.5 163.9h0.8v0.8h-0.8zM463.7 141.4h0.8v0.8h-0.8zM460.4 146.8h0.8v0.8h-0.8zM441.6 155.7h0.8v0.8h-0.8zM442.2 162.3h0.8v0.8h-0.8zM463.1 145.6h0.8v0.8h-0.8zM449.1 166.9h0.8v0.8h-0.8zM474.9 154.1h0.8v0.8h-0.8zM449.6 140.3h0.8v0.8h-0.8zM443.8 162.3h0.8v0.8h-0.8zM477.8 141.9h0.8v0.8h-0.8zM443.9 141.8h0.8v0.8h-0.8zM446.1 159.5h0.8v0.8h-0.8zM458.9 150.6h0.8v0.8h-0.8zM464.7 166.5h0.8v0.8h-0.8zM457.5 140.0h0.8v0.8h-0.8zM469.1 142.6h0.8v0.8h-0.8zM443.9 151.9h0.8v0.8h-0.8zM467.5 162.7h0.8v0.8h-0.8zM468.8 145.7h0.8v0.8h-0.8zM475.0 143.6h0.8v0.8h-0.8zM476.3 150.5h0.8v0.8h-0.8zM443.5 140.9h0.8v0.8h-0.8zM460.5 151.6h0.8v0.8h-0.8zM450.8 152.8h0.8v0.8h-0.8zM457.7 148.4h0.8v0.8h-0.8zM477.6 138.7h0.8v0.8h-0.8zM454.6 152.9h0.8v0.8h-0.8zM450.4 140.6h0.8v0.8h-0.8zM477.8 151.5h0.8v0.8h-0.8zM460.1 157.9h0.8v0.8h-0.8zM469.6 157.0h0.8v0.8h-0.8zM467.5 145.8h0.8v0.8h-0.8zM463.7 152.8h0.8v0.8h-0.8zM453.7 145.5h0.8v0.8h-0.8zM448.7 148.8h0.8v0.8h-0.8zM444.9 140.9h0.8v0.8h-0.8zM446.8 153.2h0.8v0.8h-0.8zM476.0 150.0h0.8v0.8h-0.8zM452.3 144.1h0.8v0.8h-0.8zM475.2 141.5h0.8v0.8h-0.8zM462.4 147.4h0.8v0.8h-0.8zM453.0 158.8h0.8v0.8h-0.8zM453.5 139.3h0.8v0.8h-0.8zM473.8 165.6h0.8v0.8h-0.8zM453.5 161.3h0.8v0.8h-0.8zM478.0 148.3h0.8v0.8h-0.8zM471.1 164.3h0.8v0.8h-0.8zM469.7 161.2h0.8v0.8h-0.8zM469.0 158.2h0.8v0.8h-0.8zM474.7 160.1h0.8v0.8h-0.8zM474.9 141.2h0.8v0.8h-0.8zM467.7 142.6h0.8v0.8h-0.8zM466.3 156.3h0.8v0.8h-0.8zM472.8 147.7h0.8v0.8h-0.8zM474.1 152.7h0.8v0.8h-0.8zM470.4 155.4h0.8v0.8h-0.8zM477.9 140.7h0.8v0.8h-0.8zM470.5 166.1h0.8v0.8h-0.8zM474.8 150.7h0.8v0.8h-0.8zM457.6 145.2h0.8v0.8h-0.8zM454.3 155.9h0.8v0.8h-0.8zM453.7 165.0h0.8v0.8h-0.8zM465.3 166.8h0.8v0.8h-0.8zM474.3 146.8h0.8v0.8h-0.8zM477.6 161.8h0.8v0.8h-0.8zM468.0 141.2h0.8v0.8h-0.8zM471.0 163.4h0.8v0.8h-0.8zM467.7 160.7h0.8v0.8h-0.8zM454.7 157.5h0.8v0.8h-0.8zM460.0 141.9h0.8v0.8h-0.8zM463.0 142.6h0.8v0.8h-0.8zM470.3 139.6h0.8v0.8h-0.8zM458.6 164.0h0.8v0.8h-0.8zM468.5 158.4h0.8v0.8h-0.8zM447.1 157.3h0.8v0.8h-0.8zM463.5 161.2h0.8v0.8h-0.8zM448.6 165.4h0.8v0.8h-0.8zM483.8 155.5h0.8v0.8h-0.8zM482.5 148.3h0.8v0.8h-0.8zM500.1 163.7h0.8v0.8h-0.8zM484.7 161.8h0.8v0.8h-0.8zM499.1 161.2h0.8v0.8h-0.8zM493.0 150.4h0.8v0.8h-0.8zM512.7 141.5h0.8v0.8h-0.8zM518.4 160.9h0.8v0.8h-0.8zM498.6 151.1h0.8v0.8h-0.8zM511.1 145.8h0.8v0.8h-0.8zM500.1 143.4h0.8v0.8h-0.8zM495.8 154.4h0.8v0.8h-0.8zM492.7 140.7h0.8v0.8h-0.8zM492.8 166.6h0.8v0.8h-0.8zM500.3 147.3h0.8v0.8h-0.8zM512.3 161.0h0.8v0.8h-0.8zM515.5 140.5h0.8v0.8h-0.8zM482.2 140.1h0.8v0.8h-0.8zM514.5 163.9h0.8v0.8h-0.8zM500.5 158.3h0.8v0.8h-0.8zM487.6 154.1h0.8v0.8h-0.8zM499.7 152.5h0.8v0.8h-0.8zM481.9 165.0h0.8v0.8h-0.8zM514.8 149.8h0.8v0.8h-0.8zM507.5 164.0h0.8v0.8h-0.8zM482.6 162.2h0.8v0.8h-0.8zM481.3 154.3h0.8v0.8h-0.8zM484.8 162.2h0.8v0.8h-0.8zM506.2 157.8h0.8v0.8h-0.8zM503.8 140.4h0.8v0.8h-0.8zM487.4 151.1h0.8v0.8h-0.8zM517.4 152.2h0.8v0.8h-0.8zM508.3 146.7h0.8v0.8h-0.8zM509.7 151.9h0.8v0.8h-0.8zM497.1 139.6h0.8v0.8h-0.8zM490.6 164.6h0.8v0.8h-0.8zM491.6 162.3h0.8v0.8h-0.8zM505.0 159.5h0.8v0.8h-0.8zM489.2 163.2h0.8v0.8h-0.8zM507.5 140.5h0.8v0.8h-0.8zM515.7 152.1h0.8v0.8h-0.8zM507.0 148.8h0.8v0.8h-0.8zM511.4 146.7h0.8v0.8h-0.8zM492.6 154.0h0.8v0.8h-0.8zM496.2 165.9h0.8v0.8h-0.8zM509.1 159.6h0.8v0.8h-0.8zM510.9 164.6h0.8v0.8h-0.8zM487.2 146.7h0.8v0.8h-0.8zM490.3 157.9h0.8v0.8h-0.8zM490.3 155.5h0.8v0.8h-0.8zM491.0 147.8h0.8v0.8h-0.8zM500.9 156.8h0.8v0.8h-0.8zM485.9 159.1h0.8v0.8h-0.8zM494.0 148.4h0.8v0.8h-0.8zM484.9 157.0h0.8v0.8h-0.8zM502.9 143.2h0.8v0.8h-0.8zM486.5 153.1h0.8v0.8h-0.8zM494.8 150.6h0.8v0.8h-0.8zM489.9 152.9h0.8v0.8h-0.8zM491.6 145.6h0.8v0.8h-0.8zM505.0 155.7h0.8v0.8h-0.8zM495.4 146.0h0.8v0.8h-0.8zM509.1 153.9h0.8v0.8h-0.8zM517.6 155.2h0.8v0.8h-0.8zM488.8 166.6h0.8v0.8h-0.8zM509.8 156.7h0.8v0.8h-0.8zM489.6 146.5h0.8v0.8h-0.8zM504.6 144.6h0.8v0.8h-0.8zM514.4 163.8h0.8v0.8h-0.8zM516.0 142.6h0.8v0.8h-0.8zM494.6 155.5h0.8v0.8h-0.8zM497.8 164.7h0.8v0.8h-0.8zM495.9 151.5h0.8v0.8h-0.8zM492.4 145.3h0.8v0.8h-0.8zM512.1 166.2h0.8v0.8h-0.8zM506.6 163.4h0.8v0.8h-0.8zM485.4 160.8h0.8v0.8h-0.8zM491.6 162.7h0.8v0.8h-0.8zM496.0 141.9h0.8v0.8h-0.8zM490.6 157.1h0.8v0.8h-0.8zM495.3 147.1h0.8v0.8h-0.8zM483.9 157.1h0.8v0.8h-0.8zM490.4 144.4h0.8v0.8h-0.8zM488.4 157.5h0.8v0.8h-0.8zM516.3 149.0h0.8v0.8h-0.8zM517.7 157.2h0.8v0.8h-0.8zM516.3 155.1h0.8v0.8h-0.8zM508.1 148.9h0.8v0.8h-0.8zM504.0 165.1h0.8v0.8h-0.8zM485.8 140.1h0.8v0.8h-0.8zM495.1 154.2h0.8v0.8h-0.8zM497.4 155.8h0.8v0.8h-0.8zM485.0 140.2h0.8v0.8h-0.8zM498.7 162.2h0.8v0.8h-0.8zM501.5 142.1h0.8v0.8h-0.8zM488.4 153.7h0.8v0.8h-0.8zM500.4 156.4h0.8v0.8h-0.8zM513.9 158.5h0.8v0.8h-0.8zM501.6 158.8h0.8v0.8h-0.8zM504.2 158.8h0.8v0.8h-0.8zM482.6 146.7h0.8v0.8h-0.8zM508.1 150.1h0.8v0.8h-0.8zM513.2 156.1h0.8v0.8h-0.8zM517.8 153.0h0.8v0.8h-0.8zM505.9 145.1h0.8v0.8h-0.8zM490.2 153.5h0.8v0.8h-0.8zM518.4 154.6h0.8v0.8h-0.8zM511.1 157.0h0.8v0.8h-0.8zM486.7 154.0h0.8v0.8h-0.8zM503.8 163.6h0.8v0.8h-0.8zM509.5 139.4h0.8v0.8h-0.8zM496.4 140.1h0.8v0.8h-0.8zM492.4 156.1h0.8v0.8h-0.8zM487.5 159.8h0.8v0.8h-0.8zM492.4 155.9h0.8v0.8h-0.8zM501.4 140.1h0.8v0.8h-0.8zM482.6 159.3h0.8v0.8h-0.8zM482.7 142.2h0.8v0.8h-0.8zM500.3 152.1h0.8v0.8h-0.8zM482.5 153.1h0.8v0.8h-0.8zM505.6 156.0h0.8v0.8h-0.8zM484.9 148.9h0.8v0.8h-0.8zM518.3 152.7h0.8v0.8h-0.8zM505.9 156.2h0.8v0.8h-0.8zM484.5 140.4h0.8v0.8h-0.8zM495.8 152.8h0.8v0.8h-0.8zM487.1 141.1h0.8v0.8h-0.8zM517.6 144.7h0.8v0.8h-0.8zM494.1 165.8h0.8v0.8h-0.8zM512.0 147.4h0.8v0.8h-0.8zM503.7 141.0h0.8v0.8h-0.8zM513.7 141.7h0.8v0.8h-0.8zM518.2 152.3h0.8v0.8h-0.8zM505.6 148.4h0.8v0.8h-0.8zM496.3 155.1h0.8v0.8h-0.8zM491.7 154.3h0.8v0.8h-0.8zM489.8 143.2h0.8v0.8h-0.8zM503.2 162.3h0.8v0.8h-0.8zM492.8 160.4h0.8v0.8h-0.8zM490.9 149.2h0.8v0.8h-0.8zM483.0 144.2h0.8v0.8h-0.8zM490.1 162.0h0.8v0.8h-0.8zM492.1 156.0h0.8v0.8h-0.8zM501.8 156.7h0.8v0.8h-0.8zM513.8 165.0h0.8v0.8h-0.8zM494.1 148.2h0.8v0.8h-0.8zM510.4 155.3h0.8v0.8h-0.8zM510.4 148.8h0.8v0.8h-0.8zM510.0 151.9h0.8v0.8h-0.8zM481.6 156.1h0.8v0.8h-0.8zM507.3 141.7h0.8v0.8h-0.8z"/>
<path fill="#30A030"  d="M374.7 156.0h0.8v0.8h-0.8zM381.0 148.3h0.8v0.8h-0.8zM365.8 155.5h0.8v0.8h-0.8zM396.5 166.0h0.8v0.8h-0.8zM364.5 154.7h0.8v0.8h-0.8zM396.6 164.5h0.8v0.8h-0.8zM371.4 160.7h0.8v0.8h-0.8zM384.7 155.7h0.8v0.8h-0.8zM389.7 150.8h0.8v0.8h-0.8zM372.9 143.0h0.8v0.8h-0.8zM391.3 161.0h0.8v0.8h-0.8zM392.1 144.9h0.8v0.8h-0.8zM374.5 140.3h0.8v0.8h-0.8zM394.7 154.3h0.8v0.8h-0.8zM369.2 149.2h0.8v0.8h-0.8zM367.2 158.8h0.8v0.8h-0.8zM390.4 139.5h0.8v0.8h-0.8zM397.1 157.5h0.8v0.8h-0.8zM369.3 148.1h0.8v0.8h-0.8zM391.7 157.0h0.8v0.8h-0.8zM382.7 154.9h0.8v0.8h-0.8zM378.1 163.8h0.8v0.8h-0.8zM395.8 158.1h0.8v0.8h-0.8zM385.6 146.9h0.8v0.8h-0.8zM360.6 140.4h0.8v0.8h-0.8zM372.0 151.4h0.8v0.8h-0.8zM363.7 160.5h0.8v0.8h-0.8zM376.3 147.6h0.8v0.8h-0.8zM381.4 164.0h0.8v0.8h-0.8zM392.8 165.5h0.8v0.8h-0.8zM372.9 139.1h0.8v0.8h-0.8zM380.4 143.5h0.8v0.8h-0.8zM377.2 165.2h0.8v0.8h-0.8zM397.3 139.6h0.8v0.8h-0.8zM381.6 148.8h0.8v0.8h-0.8zM366.8 141.5h0.8v0.8h-0.8zM394.3 144.3h0.8v0.8h-0.8zM360.8 153.1h0.8v0.8h-0.8zM390.5 148.9h0.8v0.8h-0.8zM382.3 160.1h0.8v0.8h-0.8zM387.4 140.7h0.8v0.8h-0.8zM386.3 162.3h0.8v0.8h-0.8zM375.1 143.7h0.8v0.8h-0.8zM394.3 164.4h0.8v0.8h-0.8zM375.0 141.8h0.8v0.8h-0.8zM366.7 156.5h0.8v0.8h-0.8zM368.9 140.5h0.8v0.8h-0.8zM391.7 163.5h0.8v0.8h-0.8zM361.5 142.0h0.8v0.8h-0.8zM382.8 156.9h0.8v0.8h-0.8zM383.6 141.7h0.8v0.8h-0.8zM388.2 161.7h0.8v0.8h-0.8zM374.5 151.6h0.8v0.8h-0.8zM382.9 149.3h0.8v0.8h-0.8zM363.1 160.1h0.8v0.8h-0.8zM386.7 160.9h0.8v0.8h-0.8zM391.0 138.8h0.8v0.8h-0.8zM370.9 165.6h0.8v0.8h-0.8zM389.7 151.0h0.8v0.8h-0.8zM394.4 156.9h0.8v0.8h-0.8zM361.8 139.4h0.8v0.8h-0.8zM376.0 163.4h0.8v0.8h-0.8zM388.8 149.2h0.8v0.8h-0.8zM374.4 153.6h0.8v0.8h-0.8zM363.3 151.4h0.8v0.8h-0.8zM371.7 154.3h0.8v0.8h-0.8zM370.8 160.8h0.8v0.8h-0.8zM370.3 162.1h0.8v0.8h-0.8zM362.4 159.6h0.8v0.8h-0.8zM360.8 139.9h0.8v0.8h-0.8zM382.6 142.0h0.8v0.8h-0.8zM387.6 140.7h0.8v0.8h-0.8zM392.2 142.1h0.8v0.8h-0.8zM376.4 156.2h0.8v0.8h-0.8zM386.3 151.3h0.8v0.8h-0.8zM393.9 146.2h0.8v0.8h-0.8zM384.2 162.5h0.8v0.8h-0.8zM367.2 165.3h0.8v0.8h-0.8zM378.0 141.6h0.8v0.8h-0.8zM395.0 149.5h0.8v0.8h-0.8zM395.0 147.9h0.8v0.8h-0.8zM378.1 160.1h0.8v0.8h-0.8zM365.5 144.4h0.8v0.8h-0.8zM389.2 148.2h0.8v0.8h-0.8zM385.1 160.0h0.8v0.8h-0.8zM388.0 152.9h0.8v0.8h-0.8zM379.0 138.7h0.8v0.8h-0.8zM369.4 162.1h0.8v0.8h-0.8zM370.7 139.0h0.8v0.8h-0.8zM376.8 147.3h0.8v0.8h-0.8zM374.5 155.5h0.8v0.8h-0.8zM362.5 139.1h0.8v0.8h-0.8zM361.3 161.1h0.8v0.8h-0.8zM383.9 162.2h0.8v0.8h-0.8zM387.4 162.7h0.8v0.8h-0.8zM377.6 160.3h0.8v0.8h-0.8zM392.8 158.0h0.8v0.8h-0.8zM393.2 164.6h0.8v0.8h-0.8zM376.1 157.3h0.8v0.8h-0.8zM362.6 155.7h0.8v0.8h-0.8zM368.7 157.5h0.8v0.8h-0.8zM372.5 162.9h0.8v0.8h-0.8zM380.0 141.0h0.8v0.8h-0.8zM373.3 144.6h0.8v0.8h-0.8zM371.2 146.2h0.8v0.8h-0.8zM362.9 141.0h0.8v0.8h-0.8zM398.0 142.4h0.8v0.8h-0.8zM375.6 145.9h0.8v0.8h-0.8zM371.2 139.7h0.8v0.8h-0.8zM392.5 159.3h0.8v0.8h-0.8zM375.2 147.6h0.8v0.8h-0.8zM366.0 139.0h0.8v0.8h-0.8zM369.0 144.5h0.8v0.8h-0.8zM382.4 146.6h0.8v0.8h-0.8zM382.7 158.6h0.8v0.8h-0.8zM378.8 163.3h0.8v0.8h-0.8zM381.5 155.8h0.8v0.8h-0.8zM378.7 142.9h0.8v0.8h-0.8zM389.4 165.7h0.8v0.8h-0.8zM362.1 152.9h0.8v0.8h-0.8zM383.6 156.0h0.8v0.8h-0.8zM395.3 158.7h0.8v0.8h-0.8zM386.9 145.2h0.8v0.8h-0.8zM383.8 140.4h0.8v0.8h-0.8zM395.8 151.2h0.8v0.8h-0.8zM397.8 147.8h0.8v0.8h-0.8zM396.5 141.1h0.8v0.8h-0.8zM385.0 153.9h0.8v0.8h-0.8zM388.9 148.1h0.8v0.8h-0.8zM380.4 157.5h0.8v0.8h-0.8zM379.0 152.6h0.8v0.8h-0.8zM366.0 147.6h0.8v0.8h-0.8zM387.4 159.5h0.8v0.8h-0.8zM378.3 147.4h0.8v0.8h-0.8zM369.4 166.8h0.8v0.8h-0.8zM380.1 157.7h0.8v0.8h-0.8zM382.2 146.9h0.8v0.8h-0.8zM407.6 151.3h0.8v0.8h-0.8zM434.7 152.6h0.8v0.8h-0.8zM405.8 165.4h0.8v0.8h-0.8zM437.7 147.8h0.8v0.8h-0.8zM432.3 165.1h0.8v0.8h-0.8zM410.8 150.3h0.8v0.8h-0.8zM423.2 159.9h0.8v0.8h-0.8zM408.2 159.6h0.8v0.8h-0.8zM423.9 152.1h0.8v0.8h-0.8zM405.0 139.7h0.8v0.8h-0.8zM407.2 163.6h0.8v0.8h-0.8zM436.4 151.1h0.8v0.8h-0.8zM401.8 139.3h0.8v0.8h-0.8zM414.3 151.0h0.8v0.8h-0.8zM425.0 146.8h0.8v0.8h-0.8zM422.7 155.6h0.8v0.8h-0.8zM424.1 162.8h0.8v0.8h-0.8zM431.5 159.8h0.8v0.8h-0.8zM415.4 142.4h0.8v0.8h-0.8zM408.9 157.5h0.8v0.8h-0.8zM430.5 155.3h0.8v0.8h-0.8zM421.4 155.8h0.8v0.8h-0.8zM407.2 148.8h0.8v0.8h-0.8zM425.5 152.5h0.8v0.8h-0.8zM413.1 148.6h0.8v0.8h-0.8zM426.3 150.7h0.8v0.8h-0.8zM401.8 153.8h0.8v0.8h-0.8zM433.9 144.1h0.8v0.8h-0.8zM425.8 156.8h0.8v0.8h-0.8zM426.5 140.7h0.8v0.8h-0.8zM406.3 144.1h0.8v0.8h-0.8zM409.9 149.1h0.8v0.8h-0.8zM408.0 164.2h0.8v0.8h-0.8zM426.4 146.2h0.8v0.8h-0.8zM422.7 153.6h0.8v0.8h-0.8zM434.4 155.9h0.8v0.8h-0.8zM411.0 149.0h0.8v0.8h-0.8zM418.2 144.6h0.8v0.8h-0.8zM404.8 147.6h0.8v0.8h-0.8zM414.4 162.3h0.8v0.8h-0.8zM420.4 145.9h0.8v0.8h-0.8zM410.8 162.8h0.8v0.8h-0.8zM435.8 145.1h0.8v0.8h-0.8zM421.1 146.0h0.8v0.8h-0.8zM414.6 163.6h0.8v0.8h-0.8zM401.0 151.9h0.8v0.8h-0.8zM436.6 158.1h0.8v0.8h-0.8zM423.5 166.9h0.8v0.8h-0.8zM418.1 152.7h0.8v0.8h-0.8zM425.8 152.5h0.8v0.8h-0.8zM438.4 166.8h0.8v0.8h-0.8zM432.1 157.0h0.8v0.8h-0.8zM435.1 151.0h0.8v0.8h-0.8zM425.5 163.2h0.8v0.8h-0.8zM421.0 154.5h0.8v0.8h-0.8zM410.0 145.7h0.8v0.8h-0.8zM408.1 160.6h0.8v0.8h-0.8zM438.3 155.5h0.8v0.8h-0.8zM403.2 158.5h0.8v0.8h-0.8zM403.6 142.8h0.8v0.8h-0.8zM418.2 145.3h0.8v0.8h-0.8zM413.0 151.9h0.8v0.8h-0.8zM430.9 142.5h0.8v0.8h-0.8zM431.6 148.4h0.8v0.8h-0.8zM433.1 156.5h0.8v0.8h-0.8zM420.9 165.9h0.8v0.8h-0.8zM430.2 149.6h0.8v0.8h-0.8zM405.5 163.4h0.8v0.8h-0.8zM416.4 145.5h0.8v0.8h-0.8zM423.5 147.2h0.8v0.8h-0.8zM429.4 148.3h0.8v0.8h-0.8zM416.7 158.2h0.8v0.8h-0.8zM406.5 149.1h0.8v0.8h-0.8zM402.3 165.5h0.8v0.8h-0.8zM404.5 144.4h0.8v0.8h-0.8zM419.9 159.8h0.8v0.8h-0.8zM406.0 159.8h0.8v0.8h-0.8zM412.2 149.6h0.8v0.8h-0.8zM411.9 151.2h0.8v0.8h-0.8zM405.7 165.3h0.8v0.8h-0.8zM417.3 143.5h0.8v0.8h-0.8zM430.2 166.8h0.8v0.8h-0.8zM409.0 147.9h0.8v0.8h-0.8zM419.2 164.2h0.8v0.8h-0.8zM430.2 159.2h0.8v0.8h-0.8zM406.9 157.3h0.8v0.8h-0.8zM403.5 140.8h0.8v0.8h-0.8zM426.5 154.6h0.8v0.8h-0.8zM415.6 166.1h0.8v0.8h-0.8zM402.9 164.2h0.8v0.8h-0.8zM429.4 147.0h0.8v0.8h-0.8zM437.4 140.3h0.8v0.8h-0.8zM401.1 147.1h0.8v0.8h-0.8zM418.8 156.0h0.8v0.8h-0.8zM426.7 153.0h0.8v0.8h-0.8zM419.9 144.1h0.8v0.8h-0.8zM426.5 150.7h0.8v0.8h-0.8zM405.6 151.7h0.8v0.8h-0.8zM431.3 162.5h0.8v0.8h-0.8zM412.7 142.6h0.8v0.8h-0.8zM430.8 161.9h0.8v0.8h-0.8zM428.9 162.2h0.8v0.8h-0.8zM426.9 148.1h0.8v0.8h-0.8zM424.8 144.9h0.8v0.8h-0.8zM432.1 152.1h0.8v0.8h-0.8zM418.2 145.4h0.8v0.8h-0.8zM413.7 145.5h0.8v0.8h-0.8zM415.1 156.1h0.8v0.8h-0.8zM419.8 162.2h0.8v0.8h-0.8zM415.8 144.0h0.8v0.8h-0.8zM426.6 156.9h0.8v0.8h-0.8zM423.0 152.3h0.8v0.8h-0.8zM406.0 155.3h0.8v0.8h-0.8zM417.8 153.7h0.8v0.8h-0.8zM404.9 142.5h0.8v0.8h-0.8zM404.3 149.2h0.8v0.8h-0.8zM403.1 150.1h0.8v0.8h-0.8zM403.9 164.4h0.8v0.8h-0.8zM405.8 141.0h0.8v0.8h-0.8zM405.8 160.9h0.8v0.8h-0.8zM427.8 140.7h0.8v0.8h-0.8zM421.3 153.7h0.8v0.8h-0.8zM420.4 145.5h0.8v0.8h-0.8zM408.9 150.0h0.8v0.8h-0.8zM426.5 162.4h0.8v0.8h-0.8zM432.0 156.9h0.8v0.8h-0.8zM422.2 144.4h0.8v0.8h-0.8zM406.9 154.9h0.8v0.8h-0.8zM434.6 139.8h0.8v0.8h-0.8zM407.7 159.9h0.8v0.8h-0.8zM401.1 142.1h0.8v0.8h-0.8zM402.4 164.7h0.8v0.8h-0.8zM429.0 155.0h0.8v0.8h-0.8zM417.5 150.0h0.8v0.8h-0.8zM428.5 140.1h0.8v0.8h-0.8zM404.3 149.5h0.8v0.8h-0.8zM427.0 159.9h0.8v0.8h-0.8zM407.9 159.3h0.8v0.8h-0.8zM437.6 166.7h0.8v0.8h-0.8zM419.8 163.9h0.8v0.8h-0.8zM419.7 156.9h0.8v0.8h-0.8zM436.5 147.5h0.8v0.8h-0.8zM412.9 148.5h0.8v0.8h-0.8zM437.5 153.0h0.8v0.8h-0.8zM419.4 139.0h0.8v0.8h-0.8zM403.8 146.5h0.8v0.8h-0.8zM408.2 154.0h0.8v0.8h-0.8zM404.8 139.0h0.8v0.8h-0.8zM437.0 139.8h0.8v0.8h-0.8zM422.6 144.6h0.8v0.8h-0.8zM405.2 156.8h0.8v0.8h-0.8zM428.6 139.6h0.8v0.8h-0.8zM422.2 144.5h0.8v0.8h-0.8zM420.9 149.7h0.8v0.8h-0.8zM402.2 164.7h0.8v0.8h-0.8zM437.6 152.0h0.8v0.8h-0.8zM419.9 139.7h0.8v0.8h-0.8zM427.8 158.4h0.8v0.8h-0.8zM435.2 150.4h0.8v0.8h-0.8zM403.4 164.0h0.8v0.8h-0.8zM437.1 148.3h0.8v0.8h-0.8zM483.6 146.0h0.8v0.8h-0.8zM504.2 149.9h0.8v0.8h-0.8zM517.6 159.2h0.8v0.8h-0.8zM481.3 152.2h0.8v0.8h-0.8zM495.3 150.2h0.8v0.8h-0.8zM504.8 149.6h0.8v0.8h-0.8zM481.4 165.5h0.8v0.8h-0.8zM514.0 144.8h0.8v0.8h-0.8zM481.8 164.9h0.8v0.8h-0.8zM508.4 154.9h0.8v0.8h-0.8zM490.4 164.4h0.8v0.8h-0.8zM516.4 141.0h0.8v0.8h-0.8zM503.2 144.0h0.8v0.8h-0.8zM485.3 147.1h0.8v0.8h-0.8zM489.1 144.6h0.8v0.8h-0.8zM486.8 139.3h0.8v0.8h-0.8zM512.5 144.4h0.8v0.8h-0.8zM487.2 166.6h0.8v0.8h-0.8zM518.1 159.2h0.8v0.8h-0.8zM491.8 147.4h0.8v0.8h-0.8zM493.8 154.7h0.8v0.8h-0.8zM484.9 153.0h0.8v0.8h-0.8zM496.8 144.5h0.8v0.8h-0.8zM509.1 157.1h0.8v0.8h-0.8zM494.3 162.8h0.8v0.8h-0.8zM502.4 151.7h0.8v0.8h-0.8zM484.2 163.5h0.8v0.8h-0.8zM518.3 160.5h0.8v0.8h-0.8zM518.5 148.8h0.8v0.8h-0.8zM507.8 159.2h0.8v0.8h-0.8zM507.9 150.7h0.8v0.8h-0.8zM506.3 152.3h0.8v0.8h-0.8zM496.5 147.6h0.8v0.8h-0.8zM489.9 153.6h0.8v0.8h-0.8zM499.8 160.7h0.8v0.8h-0.8zM492.9 147.1h0.8v0.8h-0.8zM482.7 155.8h0.8v0.8h-0.8zM502.4 147.4h0.8v0.8h-0.8zM493.3 158.3h0.8v0.8h-0.8zM488.1 155.4h0.8v0.8h-0.8zM516.7 150.7h0.8v0.8h-0.8zM486.7 166.8h0.8v0.8h-0.8zM503.9 153.9h0.8v0.8h-0.8zM493.7 150.0h0.8v0.8h-0.8zM509.1 150.1h0.8v0.8h-0.8zM499.7 145.5h0.8v0.8h-0.8zM489.7 148.2h0.8v0.8h-0.8zM483.5 146.5h0.8v0.8h-0.8zM491.3 157.7h0.8v0.8h-0.8zM504.2 140.7h0.8v0.8h-0.8zM490.6 151.7h0.8v0.8h-0.8zM497.7 140.7h0.8v0.8h-0.8zM514.8 144.8h0.8v0.8h-0.8zM485.6 142.0h0.8v0.8h-0.8zM510.3 151.3h0.8v0.8h-0.8zM493.0 146.5h0.8v0.8h-0.8zM497.9 146.9h0.8v0.8h-0.8zM487.9 161.6h0.8v0.8h-0.8zM503.8 159.8h0.8v0.8h-0.8zM482.4 159.4h0.8v0.8h-0.8zM509.3 161.0h0.8v0.8h-0.8zM518.3 165.3h0.8v0.8h-0.8zM481.9 157.9h0.8v0.8h-0.8zM490.4 139.8h0.8v0.8h-0.8zM511.4 152.0h0.8v0.8h-0.8zM496.3 153.8h0.8v0.8h-0.8zM483.1 165.9h0.8v0.8h-0.8zM510.6 139.0h0.8v0.8h-0.8zM512.1 142.5h0.8v0.8h-0.8zM502.3 162.7h0.8v0.8h-0.8zM513.1 158.4h0.8v0.8h-0.8zM497.2 147.2h0.8v0.8h-0.8zM503.5 166.1h0.8v0.8h-0.8zM508.4 166.7h0.8v0.8h-0.8zM485.7 165.0h0.8v0.8h-0.8zM505.0 160.7h0.8v0.8h-0.8zM495.3 166.2h0.8v0.8h-0.8zM484.2 163.7h0.8v0.8h-0.8zM502.8 155.4h0.8v0.8h-0.8zM505.0 158.8h0.8v0.8h-0.8z"/>
<path fill="#44D044"  d="M365.7 156.5h0.8v0.8h-0.8zM376.1 147.7h0.8v0.8h-0.8zM370.5 143.1h0.8v0.8h-0.8zM369.9 151.5h0.8v0.8h-0.8zM391.7 140.6h0.8v0.8h-0.8zM361.4 159.1h0.8v0.8h-0.8zM382.1 159.6h0.8v0.8h-0.8zM383.0 152.5h0.8v0.8h-0.8zM362.4 143.0h0.8v0.8h-0.8zM368.0 139.8h0.8v0.8h-0.8zM369.5 157.7h0.8v0.8h-0.8zM384.7 150.8h0.8v0.8h-0.8zM363.9 140.7h0.8v0.8h-0.8zM395.1 155.6h0.8v0.8h-0.8zM384.0 159.2h0.8v0.8h-0.8zM391.2 157.2h0.8v0.8h-0.8zM364.9 147.6h0.8v0.8h-0.8zM397.4 162.4h0.8v0.8h-0.8zM372.6 158.0h0.8v0.8h-0.8zM397.4 161.7h0.8v0.8h-0.8zM385.7 165.7h0.8v0.8h-0.8zM394.2 145.4h0.8v0.8h-0.8zM370.5 156.2h0.8v0.8h-0.8zM392.5 156.9h0.8v0.8h-0.8zM369.0 158.3h0.8v0.8h-0.8zM387.3 164.8h0.8v0.8h-0.8zM379.1 165.8h0.8v0.8h-0.8zM373.8 159.5h0.8v0.8h-0.8zM371.6 148.2h0.8v0.8h-0.8zM362.4 144.9h0.8v0.8h-0.8zM394.9 149.4h0.8v0.8h-0.8zM389.8 150.6h0.8v0.8h-0.8zM361.1 162.1h0.8v0.8h-0.8zM366.1 153.3h0.8v0.8h-0.8zM378.4 155.1h0.8v0.8h-0.8zM377.4 157.2h0.8v0.8h-0.8zM395.7 165.5h0.8v0.8h-0.8zM371.8 143.4h0.8v0.8h-0.8zM380.3 149.7h0.8v0.8h-0.8zM377.8 157.0h0.8v0.8h-0.8zM389.0 153.2h0.8v0.8h-0.8zM379.0 153.8h0.8v0.8h-0.8zM379.7 165.0h0.8v0.8h-0.8zM370.7 154.2h0.8v0.8h-0.8zM387.9 141.6h0.8v0.8h-0.8zM377.2 156.2h0.8v0.8h-0.8zM384.5 152.5h0.8v0.8h-0.8zM368.0 166.2h0.8v0.8h-0.8zM361.2 163.6h0.8v0.8h-0.8zM366.7 165.6h0.8v0.8h-0.8zM360.6 154.2h0.8v0.8h-0.8zM391.8 147.9h0.8v0.8h-0.8zM377.8 141.5h0.8v0.8h-0.8zM364.5 160.0h0.8v0.8h-0.8zM386.5 153.1h0.8v0.8h-0.8zM392.1 156.2h0.8v0.8h-0.8zM384.0 141.8h0.8v0.8h-0.8zM374.4 160.8h0.8v0.8h-0.8zM395.8 149.7h0.8v0.8h-0.8zM366.9 150.3h0.8v0.8h-0.8zM382.3 152.9h0.8v0.8h-0.8zM383.5 143.3h0.8v0.8h-0.8zM397.9 159.6h0.8v0.8h-0.8zM360.8 147.3h0.8v0.8h-0.8zM396.5 152.4h0.8v0.8h-0.8zM369.0 146.6h0.8v0.8h-0.8zM383.6 158.4h0.8v0.8h-0.8zM376.5 164.5h0.8v0.8h-0.8zM393.0 158.8h0.8v0.8h-0.8zM381.6 140.1h0.8v0.8h-0.8zM385.6 154.7h0.8v0.8h-0.8zM393.3 147.6h0.8v0.8h-0.8zM360.5 146.0h0.8v0.8h-0.8zM377.5 147.5h0.8v0.8h-0.8zM363.0 141.1h0.8v0.8h-0.8zM362.1 163.8h0.8v0.8h-0.8z"/>
<g font-size="5.2" fill="#111" text-anchor="middle">
<text x="339.5" y="176.6">Control</text>
<text x="379.7" y="176.6">0 µg/mL</text>
<text x="420.1" y="176.6">25 µg/mL</text>
<text x="460" y="176.6">50 µg/mL</text>
<text x="500.4" y="176.6">100 µg/mL</text>
<text x="438.5" y="188.9">+ SLS</text></g>
<line x1="361.7" y1="182.1" x2="519.8" y2="182.1" stroke="#999" stroke-width="0.5"/>
<g fill="#888"><rect x="354.5" y="163.5" width="3" height="1.6"/><rect x="394.6" y="163.5" width="3" height="1.6"/><rect x="434.9" y="163.5" width="3" height="1.6"/><rect x="474.8" y="163.5" width="3" height="1.6"/><rect x="515.3" y="163.5" width="3" height="1.6"/></g>
<rect x="44" y="289" width="62.599999999999994" height="58.19999999999999" fill="#fff" stroke="#bbb" stroke-width="0.5"/>
<g stroke="#e4e4e4" stroke-width="0.4">
<line x1="51.8" y1="289" x2="51.8" y2="347.2"/>
<line x1="59.6" y1="289" x2="59.6" y2="347.2"/>
<line x1="67.5" y1="289" x2="67.5" y2="347.2"/>
<line x1="75.3" y1="289" x2="75.3" y2="347.2"/>
<line x1="83.1" y1="289" x2="83.1" y2="347.2"/>
<line x1="90.9" y1="289" x2="90.9" y2="347.2"/>
<line x1="98.8" y1="289" x2="98.8" y2="347.2"/>
<line x1="44" y1="303.6" x2="106.6" y2="303.6"/>
<line x1="44" y1="318.1" x2="106.6" y2="318.1"/>
<line x1="44" y1="332.6" x2="106.6" y2="332.6"/>
</g>
<g stroke="#aaa" stroke-width="0.4"><line x1="73" y1="289" x2="73" y2="347"/><line x1="77.5" y1="289" x2="77.5" y2="347"/><line x1="44" y1="326" x2="106.6" y2="326"/></g>
<path fill="#8a8a8a"  d="M73.8 343.3h0.8v0.8h-0.8zM74.4 335.6h0.8v0.8h-0.8zM75.7 335.1h0.8v0.8h-0.8zM75.5 329.8h0.8v0.8h-0.8zM75.7 342.9h0.8v0.8h-0.8zM83.5 338.6h0.8v0.8h-0.8zM68.9 329.9h0.8v0.8h-0.8zM75.4 344.7h0.8v0.8h-0.8zM78.0 334.9h0.8v0.8h-0.8zM71.7 332.3h0.8v0.8h-0.8zM80.7 334.0h0.8v0.8h-0.8zM77.3 335.9h0.8v0.8h-0.8zM78.6 342.1h0.8v0.8h-0.8zM76.2 338.6h0.8v0.8h-0.8zM79.6 332.8h0.8v0.8h-0.8zM69.7 327.6h0.8v0.8h-0.8zM75.9 340.2h0.8v0.8h-0.8zM70.0 327.2h0.8v0.8h-0.8zM77.3 328.7h0.8v0.8h-0.8zM75.6 343.6h0.8v0.8h-0.8zM68.4 326.4h0.8v0.8h-0.8zM76.2 342.1h0.8v0.8h-0.8zM73.3 337.8h0.8v0.8h-0.8zM77.1 336.0h0.8v0.8h-0.8zM79.1 336.1h0.8v0.8h-0.8zM70.9 327.4h0.8v0.8h-0.8zM82.1 329.3h0.8v0.8h-0.8zM75.1 344.5h0.8v0.8h-0.8zM85.0 329.2h0.8v0.8h-0.8zM73.8 336.4h0.8v0.8h-0.8zM76.9 333.0h0.8v0.8h-0.8zM80.8 336.3h0.8v0.8h-0.8zM78.2 342.4h0.8v0.8h-0.8zM79.3 325.8h0.8v0.8h-0.8zM75.5 345.6h0.8v0.8h-0.8zM74.1 344.7h0.8v0.8h-0.8zM75.6 342.2h0.8v0.8h-0.8zM73.5 346.1h0.8v0.8h-0.8zM80.2 335.3h0.8v0.8h-0.8zM76.0 341.5h0.8v0.8h-0.8zM80.8 328.7h0.8v0.8h-0.8zM74.4 325.5h0.8v0.8h-0.8zM77.3 341.9h0.8v0.8h-0.8zM75.7 346.3h0.8v0.8h-0.8zM73.7 344.0h0.8v0.8h-0.8zM76.1 344.6h0.8v0.8h-0.8zM75.7 346.2h0.8v0.8h-0.8zM71.9 326.6h0.8v0.8h-0.8zM71.3 328.3h0.8v0.8h-0.8zM77.3 337.5h0.8v0.8h-0.8zM71.6 334.7h0.8v0.8h-0.8zM72.8 335.2h0.8v0.8h-0.8zM69.8 327.1h0.8v0.8h-0.8zM75.0 332.8h0.8v0.8h-0.8zM73.9 343.3h0.8v0.8h-0.8zM82.5 337.5h0.8v0.8h-0.8zM78.2 336.9h0.8v0.8h-0.8zM75.4 336.2h0.8v0.8h-0.8zM74.4 346.4h0.8v0.8h-0.8zM74.4 346.0h0.8v0.8h-0.8zM70.3 335.0h0.8v0.8h-0.8zM75.8 341.1h0.8v0.8h-0.8zM75.1 333.1h0.8v0.8h-0.8zM75.0 346.0h0.8v0.8h-0.8zM77.9 333.9h0.8v0.8h-0.8zM74.8 338.9h0.8v0.8h-0.8zM73.9 335.9h0.8v0.8h-0.8zM76.7 341.9h0.8v0.8h-0.8zM73.8 340.8h0.8v0.8h-0.8zM74.2 340.6h0.8v0.8h-0.8zM80.5 331.5h0.8v0.8h-0.8zM76.1 332.4h0.8v0.8h-0.8zM75.8 341.9h0.8v0.8h-0.8zM77.8 343.2h0.8v0.8h-0.8zM73.4 344.1h0.8v0.8h-0.8zM75.8 345.4h0.8v0.8h-0.8zM73.5 341.7h0.8v0.8h-0.8zM79.1 339.3h0.8v0.8h-0.8zM77.2 329.4h0.8v0.8h-0.8zM77.9 334.5h0.8v0.8h-0.8zM71.9 328.6h0.8v0.8h-0.8zM75.4 345.2h0.8v0.8h-0.8zM77.1 337.3h0.8v0.8h-0.8zM82.8 329.8h0.8v0.8h-0.8zM74.8 344.2h0.8v0.8h-0.8zM81.3 334.7h0.8v0.8h-0.8zM73.9 330.6h0.8v0.8h-0.8zM75.9 342.3h0.8v0.8h-0.8zM74.7 330.9h0.8v0.8h-0.8zM77.3 339.8h0.8v0.8h-0.8zM70.9 339.7h0.8v0.8h-0.8zM76.6 344.6h0.8v0.8h-0.8zM76.7 346.5h0.8v0.8h-0.8zM71.3 325.9h0.8v0.8h-0.8zM80.3 339.4h0.8v0.8h-0.8zM74.2 343.5h0.8v0.8h-0.8zM78.2 332.2h0.8v0.8h-0.8zM71.7 337.5h0.8v0.8h-0.8zM74.5 342.3h0.8v0.8h-0.8zM75.7 345.9h0.8v0.8h-0.8zM73.9 336.0h0.8v0.8h-0.8zM76.7 346.1h0.8v0.8h-0.8zM71.4 328.1h0.8v0.8h-0.8zM64.9 328.3h0.8v0.8h-0.8zM74.5 328.2h0.8v0.8h-0.8zM74.9 332.2h0.8v0.8h-0.8zM74.6 344.4h0.8v0.8h-0.8zM79.1 337.4h0.8v0.8h-0.8zM78.1 339.8h0.8v0.8h-0.8zM74.2 341.3h0.8v0.8h-0.8zM76.3 343.0h0.8v0.8h-0.8zM71.6 331.2h0.8v0.8h-0.8zM76.0 341.1h0.8v0.8h-0.8zM80.3 330.4h0.8v0.8h-0.8zM75.9 344.4h0.8v0.8h-0.8zM65.8 330.6h0.8v0.8h-0.8zM81.4 330.2h0.8v0.8h-0.8zM75.5 329.2h0.8v0.8h-0.8zM75.1 346.1h0.8v0.8h-0.8zM77.4 337.4h0.8v0.8h-0.8zM71.3 339.6h0.8v0.8h-0.8zM75.4 346.5h0.8v0.8h-0.8zM75.5 346.0h0.8v0.8h-0.8zM75.5 345.9h0.8v0.8h-0.8zM76.6 326.2h0.8v0.8h-0.8zM74.3 337.9h0.8v0.8h-0.8zM74.5 341.8h0.8v0.8h-0.8zM78.1 334.6h0.8v0.8h-0.8zM73.9 336.0h0.8v0.8h-0.8zM76.1 341.6h0.8v0.8h-0.8zM73.6 345.1h0.8v0.8h-0.8zM74.1 340.5h0.8v0.8h-0.8zM75.6 345.7h0.8v0.8h-0.8zM78.0 335.6h0.8v0.8h-0.8zM69.7 331.2h0.8v0.8h-0.8zM79.3 335.2h0.8v0.8h-0.8zM73.3 339.5h0.8v0.8h-0.8zM78.3 333.2h0.8v0.8h-0.8zM74.3 339.7h0.8v0.8h-0.8zM73.6 343.1h0.8v0.8h-0.8zM74.8 337.2h0.8v0.8h-0.8zM74.4 339.6h0.8v0.8h-0.8zM79.1 339.6h0.8v0.8h-0.8zM71.9 340.6h0.8v0.8h-0.8zM76.2 328.2h0.8v0.8h-0.8zM73.3 338.8h0.8v0.8h-0.8zM75.8 345.1h0.8v0.8h-0.8zM68.7 328.5h0.8v0.8h-0.8zM71.8 331.0h0.8v0.8h-0.8zM71.0 336.5h0.8v0.8h-0.8zM75.1 345.4h0.8v0.8h-0.8zM75.1 344.8h0.8v0.8h-0.8zM76.9 331.4h0.8v0.8h-0.8zM75.3 345.5h0.8v0.8h-0.8zM75.6 328.7h0.8v0.8h-0.8zM76.1 329.7h0.8v0.8h-0.8zM76.1 345.1h0.8v0.8h-0.8zM69.6 329.9h0.8v0.8h-0.8zM67.0 326.8h0.8v0.8h-0.8zM74.5 346.2h0.8v0.8h-0.8zM68.7 331.6h0.8v0.8h-0.8zM75.1 345.4h0.8v0.8h-0.8zM76.5 332.1h0.8v0.8h-0.8zM74.9 341.6h0.8v0.8h-0.8zM76.3 336.5h0.8v0.8h-0.8zM74.4 344.2h0.8v0.8h-0.8zM73.3 343.0h0.8v0.8h-0.8zM72.8 340.2h0.8v0.8h-0.8zM73.7 340.8h0.8v0.8h-0.8zM76.5 339.7h0.8v0.8h-0.8zM72.7 345.7h0.8v0.8h-0.8zM75.2 339.9h0.8v0.8h-0.8zM78.5 332.1h0.8v0.8h-0.8zM80.4 331.9h0.8v0.8h-0.8zM71.1 333.9h0.8v0.8h-0.8zM74.8 334.7h0.8v0.8h-0.8zM76.5 328.3h0.8v0.8h-0.8zM76.6 332.1h0.8v0.8h-0.8zM69.9 327.7h0.8v0.8h-0.8zM74.8 332.8h0.8v0.8h-0.8zM75.1 344.1h0.8v0.8h-0.8zM77.3 336.0h0.8v0.8h-0.8zM75.5 341.8h0.8v0.8h-0.8zM83.1 326.8h0.8v0.8h-0.8zM74.7 342.2h0.8v0.8h-0.8zM70.6 329.4h0.8v0.8h-0.8zM75.0 336.0h0.8v0.8h-0.8zM75.7 346.3h0.8v0.8h-0.8zM74.0 338.4h0.8v0.8h-0.8zM76.0 340.9h0.8v0.8h-0.8zM75.4 341.7h0.8v0.8h-0.8zM72.2 325.7h0.8v0.8h-0.8zM72.9 338.4h0.8v0.8h-0.8zM72.3 329.9h0.8v0.8h-0.8zM70.5 330.2h0.8v0.8h-0.8zM73.7 332.8h0.8v0.8h-0.8zM69.1 329.3h0.8v0.8h-0.8zM80.2 326.6h0.8v0.8h-0.8zM75.4 338.7h0.8v0.8h-0.8zM78.0 332.9h0.8v0.8h-0.8zM82.0 333.9h0.8v0.8h-0.8zM74.4 343.2h0.8v0.8h-0.8zM75.2 344.1h0.8v0.8h-0.8zM77.6 333.2h0.8v0.8h-0.8zM78.1 329.3h0.8v0.8h-0.8zM73.1 329.1h0.8v0.8h-0.8zM72.6 341.9h0.8v0.8h-0.8zM75.9 345.6h0.8v0.8h-0.8zM75.6 345.5h0.8v0.8h-0.8zM73.8 341.0h0.8v0.8h-0.8zM75.0 336.1h0.8v0.8h-0.8zM75.0 341.4h0.8v0.8h-0.8zM73.6 339.4h0.8v0.8h-0.8zM75.4 336.0h0.8v0.8h-0.8zM70.1 326.7h0.8v0.8h-0.8zM76.0 345.2h0.8v0.8h-0.8zM74.8 342.6h0.8v0.8h-0.8zM73.2 328.5h0.8v0.8h-0.8zM84.8 328.0h0.8v0.8h-0.8zM78.0 340.6h0.8v0.8h-0.8zM75.4 331.5h0.8v0.8h-0.8zM72.2 333.9h0.8v0.8h-0.8zM76.1 334.4h0.8v0.8h-0.8zM72.2 331.9h0.8v0.8h-0.8zM72.2 326.5h0.8v0.8h-0.8zM74.1 345.3h0.8v0.8h-0.8zM72.7 338.1h0.8v0.8h-0.8zM79.8 333.8h0.8v0.8h-0.8zM77.0 336.5h0.8v0.8h-0.8zM79.6 335.0h0.8v0.8h-0.8zM76.6 344.3h0.8v0.8h-0.8zM74.2 345.1h0.8v0.8h-0.8zM78.1 327.3h0.8v0.8h-0.8zM77.9 332.8h0.8v0.8h-0.8zM70.9 335.8h0.8v0.8h-0.8zM74.0 338.9h0.8v0.8h-0.8zM75.5 341.9h0.8v0.8h-0.8zM76.5 332.9h0.8v0.8h-0.8zM68.8 331.9h0.8v0.8h-0.8zM74.3 341.0h0.8v0.8h-0.8zM72.8 342.7h0.8v0.8h-0.8zM76.3 346.2h0.8v0.8h-0.8zM75.3 337.9h0.8v0.8h-0.8zM78.6 341.1h0.8v0.8h-0.8zM73.3 341.5h0.8v0.8h-0.8zM78.1 331.5h0.8v0.8h-0.8zM75.7 341.1h0.8v0.8h-0.8zM74.6 342.7h0.8v0.8h-0.8zM76.5 345.5h0.8v0.8h-0.8zM79.6 332.6h0.8v0.8h-0.8zM75.7 344.2h0.8v0.8h-0.8zM79.0 332.2h0.8v0.8h-0.8zM75.2 330.4h0.8v0.8h-0.8zM73.7 344.8h0.8v0.8h-0.8zM76.1 340.2h0.8v0.8h-0.8zM78.7 336.4h0.8v0.8h-0.8zM75.2 343.9h0.8v0.8h-0.8zM76.6 346.3h0.8v0.8h-0.8zM83.3 330.7h0.8v0.8h-0.8zM71.9 340.5h0.8v0.8h-0.8zM71.6 336.8h0.8v0.8h-0.8zM71.4 326.1h0.8v0.8h-0.8zM73.0 333.6h0.8v0.8h-0.8zM80.1 338.3h0.8v0.8h-0.8zM75.2 335.7h0.8v0.8h-0.8zM74.9 331.5h0.8v0.8h-0.8zM70.9 334.2h0.8v0.8h-0.8zM75.4 338.8h0.8v0.8h-0.8zM74.8 344.0h0.8v0.8h-0.8zM75.1 338.0h0.8v0.8h-0.8zM71.0 334.6h0.8v0.8h-0.8zM77.5 326.6h0.8v0.8h-0.8zM80.8 328.4h0.8v0.8h-0.8zM79.6 335.1h0.8v0.8h-0.8zM74.8 346.1h0.8v0.8h-0.8zM75.7 345.7h0.8v0.8h-0.8zM77.5 337.1h0.8v0.8h-0.8zM73.4 329.0h0.8v0.8h-0.8zM80.0 333.4h0.8v0.8h-0.8zM79.9 335.7h0.8v0.8h-0.8zM73.4 327.5h0.8v0.8h-0.8zM72.1 341.3h0.8v0.8h-0.8zM83.0 330.6h0.8v0.8h-0.8zM73.2 339.3h0.8v0.8h-0.8zM73.3 331.9h0.8v0.8h-0.8zM75.2 346.2h0.8v0.8h-0.8zM75.4 345.7h0.8v0.8h-0.8zM76.7 338.0h0.8v0.8h-0.8zM71.4 333.3h0.8v0.8h-0.8zM74.4 334.5h0.8v0.8h-0.8zM72.3 342.0h0.8v0.8h-0.8zM76.0 340.1h0.8v0.8h-0.8zM76.8 344.2h0.8v0.8h-0.8zM73.3 340.8h0.8v0.8h-0.8zM72.5 340.7h0.8v0.8h-0.8zM74.8 343.5h0.8v0.8h-0.8zM75.5 346.5h0.8v0.8h-0.8zM77.1 344.8h0.8v0.8h-0.8zM75.8 338.8h0.8v0.8h-0.8zM76.0 344.4h0.8v0.8h-0.8zM75.5 340.0h0.8v0.8h-0.8zM75.4 345.3h0.8v0.8h-0.8zM74.8 344.4h0.8v0.8h-0.8zM75.2 346.3h0.8v0.8h-0.8zM72.1 339.1h0.8v0.8h-0.8zM75.9 346.1h0.8v0.8h-0.8zM74.8 340.1h0.8v0.8h-0.8zM75.9 326.4h0.8v0.8h-0.8zM76.5 343.6h0.8v0.8h-0.8zM76.0 344.5h0.8v0.8h-0.8zM74.2 335.2h0.8v0.8h-0.8zM75.6 346.1h0.8v0.8h-0.8zM74.1 332.6h0.8v0.8h-0.8zM79.5 338.7h0.8v0.8h-0.8zM74.0 327.3h0.8v0.8h-0.8zM76.3 342.7h0.8v0.8h-0.8zM72.4 330.4h0.8v0.8h-0.8zM74.6 345.5h0.8v0.8h-0.8zM80.0 333.7h0.8v0.8h-0.8zM75.0 346.5h0.8v0.8h-0.8zM75.6 346.3h0.8v0.8h-0.8zM75.5 346.2h0.8v0.8h-0.8zM74.2 346.0h0.8v0.8h-0.8zM72.8 343.9h0.8v0.8h-0.8zM65.7 326.2h0.8v0.8h-0.8zM76.5 327.7h0.8v0.8h-0.8zM79.5 327.1h0.8v0.8h-0.8zM75.8 335.5h0.8v0.8h-0.8zM78.9 326.9h0.8v0.8h-0.8zM77.2 329.5h0.8v0.8h-0.8zM74.5 345.2h0.8v0.8h-0.8zM77.3 333.8h0.8v0.8h-0.8zM79.0 327.4h0.8v0.8h-0.8zM80.9 332.5h0.8v0.8h-0.8zM65.6 329.9h0.8v0.8h-0.8zM73.7 340.9h0.8v0.8h-0.8zM75.7 339.8h0.8v0.8h-0.8zM79.6 338.4h0.8v0.8h-0.8zM76.4 342.7h0.8v0.8h-0.8zM79.7 335.6h0.8v0.8h-0.8zM71.9 333.0h0.8v0.8h-0.8zM76.1 344.7h0.8v0.8h-0.8zM79.4 333.0h0.8v0.8h-0.8zM75.9 331.8h0.8v0.8h-0.8zM77.4 333.8h0.8v0.8h-0.8zM77.1 329.7h0.8v0.8h-0.8zM80.2 334.7h0.8v0.8h-0.8zM71.8 339.1h0.8v0.8h-0.8zM74.7 328.3h0.8v0.8h-0.8zM73.4 340.7h0.8v0.8h-0.8zM73.4 345.8h0.8v0.8h-0.8zM76.7 345.4h0.8v0.8h-0.8zM76.2 336.4h0.8v0.8h-0.8zM76.1 334.5h0.8v0.8h-0.8zM76.0 343.2h0.8v0.8h-0.8zM75.8 334.6h0.8v0.8h-0.8zM77.4 336.0h0.8v0.8h-0.8zM75.5 326.4h0.8v0.8h-0.8zM73.8 343.6h0.8v0.8h-0.8zM73.5 331.3h0.8v0.8h-0.8zM76.2 335.6h0.8v0.8h-0.8zM73.7 344.1h0.8v0.8h-0.8zM77.3 344.3h0.8v0.8h-0.8zM76.1 345.3h0.8v0.8h-0.8zM75.7 346.3h0.8v0.8h-0.8zM74.5 328.4h0.8v0.8h-0.8zM74.5 345.6h0.8v0.8h-0.8zM75.9 330.0h0.8v0.8h-0.8zM71.7 335.3h0.8v0.8h-0.8zM69.0 328.9h0.8v0.8h-0.8zM73.5 341.2h0.8v0.8h-0.8zM74.5 345.3h0.8v0.8h-0.8zM68.4 329.9h0.8v0.8h-0.8zM73.8 343.8h0.8v0.8h-0.8zM70.7 337.1h0.8v0.8h-0.8zM75.5 345.7h0.8v0.8h-0.8zM74.5 341.2h0.8v0.8h-0.8zM75.3 336.8h0.8v0.8h-0.8zM70.2 332.4h0.8v0.8h-0.8zM77.4 335.6h0.8v0.8h-0.8zM72.5 343.7h0.8v0.8h-0.8zM80.2 341.4h0.8v0.8h-0.8zM76.6 339.5h0.8v0.8h-0.8zM75.6 344.5h0.8v0.8h-0.8zM73.7 327.4h0.8v0.8h-0.8zM64.3 325.9h0.8v0.8h-0.8zM78.9 335.4h0.8v0.8h-0.8zM74.0 339.7h0.8v0.8h-0.8zM85.5 326.9h0.8v0.8h-0.8zM71.6 338.3h0.8v0.8h-0.8zM63.3 331.5h0.8v0.8h-0.8zM84.7 327.6h0.8v0.8h-0.8zM76.2 342.3h0.8v0.8h-0.8zM74.9 345.5h0.8v0.8h-0.8zM73.9 332.7h0.8v0.8h-0.8zM79.1 334.8h0.8v0.8h-0.8zM75.2 346.2h0.8v0.8h-0.8zM73.3 339.4h0.8v0.8h-0.8zM75.0 341.2h0.8v0.8h-0.8zM72.4 342.3h0.8v0.8h-0.8zM74.9 345.4h0.8v0.8h-0.8zM76.1 345.7h0.8v0.8h-0.8zM75.3 344.7h0.8v0.8h-0.8zM66.9 326.1h0.8v0.8h-0.8zM78.9 326.1h0.8v0.8h-0.8zM74.4 344.5h0.8v0.8h-0.8zM73.1 341.9h0.8v0.8h-0.8zM76.0 337.0h0.8v0.8h-0.8zM76.2 340.9h0.8v0.8h-0.8zM73.6 338.8h0.8v0.8h-0.8zM76.6 328.5h0.8v0.8h-0.8zM74.0 343.2h0.8v0.8h-0.8zM77.5 330.6h0.8v0.8h-0.8zM75.3 337.3h0.8v0.8h-0.8zM75.7 337.2h0.8v0.8h-0.8zM75.6 343.8h0.8v0.8h-0.8zM64.0 331.5h0.8v0.8h-0.8zM77.7 331.2h0.8v0.8h-0.8zM78.5 326.1h0.8v0.8h-0.8zM75.3 346.4h0.8v0.8h-0.8zM74.8 339.4h0.8v0.8h-0.8zM76.0 336.9h0.8v0.8h-0.8zM74.9 345.5h0.8v0.8h-0.8zM78.2 330.7h0.8v0.8h-0.8zM75.2 339.7h0.8v0.8h-0.8zM75.9 339.5h0.8v0.8h-0.8zM71.9 335.0h0.8v0.8h-0.8zM66.7 330.6h0.8v0.8h-0.8zM76.9 343.1h0.8v0.8h-0.8zM80.6 331.1h0.8v0.8h-0.8zM76.9 337.8h0.8v0.8h-0.8zM73.4 342.5h0.8v0.8h-0.8zM76.9 344.4h0.8v0.8h-0.8zM75.9 328.3h0.8v0.8h-0.8zM68.1 328.0h0.8v0.8h-0.8zM76.7 327.4h0.8v0.8h-0.8zM71.6 330.4h0.8v0.8h-0.8zM73.5 337.6h0.8v0.8h-0.8zM76.0 344.4h0.8v0.8h-0.8zM82.7 325.7h0.8v0.8h-0.8zM72.9 336.9h0.8v0.8h-0.8zM76.4 339.0h0.8v0.8h-0.8zM64.8 330.7h0.8v0.8h-0.8zM76.1 344.6h0.8v0.8h-0.8zM73.4 341.8h0.8v0.8h-0.8zM74.5 329.5h0.8v0.8h-0.8zM80.8 330.1h0.8v0.8h-0.8zM74.7 346.3h0.8v0.8h-0.8zM71.8 336.3h0.8v0.8h-0.8zM74.6 342.5h0.8v0.8h-0.8zM76.7 333.1h0.8v0.8h-0.8zM74.3 334.1h0.8v0.8h-0.8zM70.9 340.7h0.8v0.8h-0.8zM74.2 326.6h0.8v0.8h-0.8zM77.8 334.7h0.8v0.8h-0.8zM77.9 344.2h0.8v0.8h-0.8zM76.1 340.5h0.8v0.8h-0.8zM74.0 342.7h0.8v0.8h-0.8zM79.4 326.9h0.8v0.8h-0.8zM74.5 340.3h0.8v0.8h-0.8zM76.1 342.5h0.8v0.8h-0.8zM78.2 326.0h0.8v0.8h-0.8zM75.3 345.7h0.8v0.8h-0.8zM75.8 345.7h0.8v0.8h-0.8zM75.0 337.4h0.8v0.8h-0.8zM68.8 335.0h0.8v0.8h-0.8zM78.8 330.3h0.8v0.8h-0.8zM75.3 326.6h0.8v0.8h-0.8zM75.1 345.8h0.8v0.8h-0.8zM77.0 342.7h0.8v0.8h-0.8zM77.2 336.9h0.8v0.8h-0.8zM76.3 326.7h0.8v0.8h-0.8zM75.8 344.8h0.8v0.8h-0.8zM73.3 325.7h0.8v0.8h-0.8zM74.0 333.9h0.8v0.8h-0.8zM74.8 346.0h0.8v0.8h-0.8zM76.4 331.8h0.8v0.8h-0.8zM77.8 330.2h0.8v0.8h-0.8zM86.7 328.9h0.8v0.8h-0.8zM77.4 337.2h0.8v0.8h-0.8zM76.8 340.5h0.8v0.8h-0.8zM78.5 325.8h0.8v0.8h-0.8zM75.8 342.5h0.8v0.8h-0.8zM75.6 345.1h0.8v0.8h-0.8zM75.9 341.1h0.8v0.8h-0.8zM74.9 344.0h0.8v0.8h-0.8zM89.5 327.1h0.8v0.8h-0.8zM75.1 343.1h0.8v0.8h-0.8zM77.4 341.0h0.8v0.8h-0.8zM73.9 333.2h0.8v0.8h-0.8zM76.8 341.9h0.8v0.8h-0.8zM75.7 332.1h0.8v0.8h-0.8zM71.0 331.2h0.8v0.8h-0.8zM73.9 337.1h0.8v0.8h-0.8zM70.8 339.2h0.8v0.8h-0.8zM74.7 343.9h0.8v0.8h-0.8zM80.8 335.8h0.8v0.8h-0.8zM74.2 344.2h0.8v0.8h-0.8zM76.9 326.5h0.8v0.8h-0.8zM74.4 342.7h0.8v0.8h-0.8zM78.7 343.9h0.8v0.8h-0.8zM77.2 339.9h0.8v0.8h-0.8zM75.8 328.9h0.8v0.8h-0.8zM75.7 329.0h0.8v0.8h-0.8zM81.7 330.9h0.8v0.8h-0.8zM75.0 337.4h0.8v0.8h-0.8zM79.5 331.6h0.8v0.8h-0.8zM76.8 339.3h0.8v0.8h-0.8zM74.4 344.8h0.8v0.8h-0.8zM73.8 337.8h0.8v0.8h-0.8zM74.4 340.7h0.8v0.8h-0.8zM77.9 335.7h0.8v0.8h-0.8zM85.0 326.0h0.8v0.8h-0.8zM71.7 329.9h0.8v0.8h-0.8zM76.5 342.4h0.8v0.8h-0.8zM75.1 345.1h0.8v0.8h-0.8zM74.9 338.0h0.8v0.8h-0.8zM72.1 334.6h0.8v0.8h-0.8zM77.0 342.4h0.8v0.8h-0.8zM74.6 338.5h0.8v0.8h-0.8zM81.1 337.3h0.8v0.8h-0.8zM69.4 337.3h0.8v0.8h-0.8zM74.5 339.2h0.8v0.8h-0.8zM74.6 339.6h0.8v0.8h-0.8zM75.5 329.6h0.8v0.8h-0.8zM73.6 329.4h0.8v0.8h-0.8zM77.2 340.4h0.8v0.8h-0.8zM75.0 343.7h0.8v0.8h-0.8zM77.5 336.9h0.8v0.8h-0.8zM71.9 329.0h0.8v0.8h-0.8zM73.1 333.0h0.8v0.8h-0.8zM76.9 337.9h0.8v0.8h-0.8zM73.0 340.1h0.8v0.8h-0.8zM80.1 328.8h0.8v0.8h-0.8zM76.5 336.1h0.8v0.8h-0.8zM76.3 340.7h0.8v0.8h-0.8zM76.1 335.3h0.8v0.8h-0.8zM75.8 341.7h0.8v0.8h-0.8zM77.2 342.4h0.8v0.8h-0.8zM76.3 327.6h0.8v0.8h-0.8zM74.8 337.2h0.8v0.8h-0.8zM66.8 329.8h0.8v0.8h-0.8zM68.2 327.8h0.8v0.8h-0.8zM75.8 345.2h0.8v0.8h-0.8zM71.3 328.7h0.8v0.8h-0.8zM79.0 328.4h0.8v0.8h-0.8zM76.4 342.4h0.8v0.8h-0.8zM80.7 335.7h0.8v0.8h-0.8zM76.1 345.7h0.8v0.8h-0.8zM75.3 346.5h0.8v0.8h-0.8zM76.6 330.0h0.8v0.8h-0.8zM76.8 340.4h0.8v0.8h-0.8zM71.7 337.7h0.8v0.8h-0.8zM77.2 334.3h0.8v0.8h-0.8zM80.6 339.4h0.8v0.8h-0.8zM81.1 333.5h0.8v0.8h-0.8zM73.7 345.7h0.8v0.8h-0.8zM78.5 325.7h0.8v0.8h-0.8zM76.2 345.9h0.8v0.8h-0.8zM75.4 339.7h0.8v0.8h-0.8zM77.2 328.3h0.8v0.8h-0.8zM73.4 339.7h0.8v0.8h-0.8zM76.8 336.1h0.8v0.8h-0.8zM74.2 340.3h0.8v0.8h-0.8zM75.1 345.6h0.8v0.8h-0.8zM74.3 327.3h0.8v0.8h-0.8zM74.1 337.4h0.8v0.8h-0.8zM74.9 343.4h0.8v0.8h-0.8zM77.2 338.7h0.8v0.8h-0.8zM73.6 342.4h0.8v0.8h-0.8zM71.7 326.0h0.8v0.8h-0.8zM73.8 343.9h0.8v0.8h-0.8zM75.9 342.1h0.8v0.8h-0.8zM74.3 337.3h0.8v0.8h-0.8zM71.8 335.2h0.8v0.8h-0.8zM81.9 327.9h0.8v0.8h-0.8zM75.0 329.3h0.8v0.8h-0.8zM74.6 346.0h0.8v0.8h-0.8zM74.6 339.4h0.8v0.8h-0.8zM78.1 328.9h0.8v0.8h-0.8zM76.7 343.6h0.8v0.8h-0.8zM73.0 345.2h0.8v0.8h-0.8zM72.5 327.8h0.8v0.8h-0.8zM75.7 344.1h0.8v0.8h-0.8zM74.4 346.2h0.8v0.8h-0.8zM75.2 329.5h0.8v0.8h-0.8zM79.4 329.9h0.8v0.8h-0.8zM76.0 340.3h0.8v0.8h-0.8zM75.2 344.3h0.8v0.8h-0.8zM78.1 333.4h0.8v0.8h-0.8zM76.2 341.3h0.8v0.8h-0.8zM76.3 339.2h0.8v0.8h-0.8zM75.3 336.5h0.8v0.8h-0.8zM77.4 343.6h0.8v0.8h-0.8zM73.5 334.0h0.8v0.8h-0.8zM73.6 332.0h0.8v0.8h-0.8zM72.4 340.2h0.8v0.8h-0.8zM74.1 335.0h0.8v0.8h-0.8zM79.1 339.2h0.8v0.8h-0.8zM78.0 329.2h0.8v0.8h-0.8zM73.4 338.2h0.8v0.8h-0.8zM73.4 328.2h0.8v0.8h-0.8zM76.4 333.6h0.8v0.8h-0.8zM85.0 325.9h0.8v0.8h-0.8zM77.4 341.2h0.8v0.8h-0.8zM75.2 344.3h0.8v0.8h-0.8zM71.9 332.9h0.8v0.8h-0.8zM79.5 336.1h0.8v0.8h-0.8zM73.3 345.3h0.8v0.8h-0.8zM74.3 338.5h0.8v0.8h-0.8zM77.2 337.1h0.8v0.8h-0.8zM73.0 338.1h0.8v0.8h-0.8zM76.1 336.1h0.8v0.8h-0.8zM74.6 345.5h0.8v0.8h-0.8zM71.9 331.8h0.8v0.8h-0.8zM73.9 328.4h0.8v0.8h-0.8zM61.4 328.6h0.8v0.8h-0.8zM71.7 329.9h0.8v0.8h-0.8zM75.0 332.1h0.8v0.8h-0.8zM75.7 333.8h0.8v0.8h-0.8zM72.6 332.4h0.8v0.8h-0.8zM78.0 336.5h0.8v0.8h-0.8zM74.6 343.0h0.8v0.8h-0.8zM72.6 340.4h0.8v0.8h-0.8zM74.4 345.3h0.8v0.8h-0.8zM74.1 332.7h0.8v0.8h-0.8zM74.6 344.4h0.8v0.8h-0.8zM76.1 339.9h0.8v0.8h-0.8zM76.0 336.2h0.8v0.8h-0.8zM75.7 338.4h0.8v0.8h-0.8zM74.4 343.9h0.8v0.8h-0.8zM75.2 345.4h0.8v0.8h-0.8zM80.3 337.1h0.8v0.8h-0.8zM72.6 337.6h0.8v0.8h-0.8zM76.8 340.2h0.8v0.8h-0.8zM75.8 341.8h0.8v0.8h-0.8zM84.4 327.1h0.8v0.8h-0.8zM79.4 338.5h0.8v0.8h-0.8zM74.7 339.4h0.8v0.8h-0.8zM78.5 344.1h0.8v0.8h-0.8zM73.2 336.4h0.8v0.8h-0.8zM75.1 343.5h0.8v0.8h-0.8zM77.4 325.9h0.8v0.8h-0.8zM67.5 328.1h0.8v0.8h-0.8zM74.7 345.5h0.8v0.8h-0.8zM72.9 343.5h0.8v0.8h-0.8zM77.4 338.9h0.8v0.8h-0.8zM74.6 331.7h0.8v0.8h-0.8zM74.7 344.5h0.8v0.8h-0.8zM73.3 337.8h0.8v0.8h-0.8zM77.5 340.7h0.8v0.8h-0.8zM72.0 337.9h0.8v0.8h-0.8zM69.3 333.6h0.8v0.8h-0.8zM76.4 342.9h0.8v0.8h-0.8zM72.7 337.0h0.8v0.8h-0.8zM74.8 346.1h0.8v0.8h-0.8zM74.7 344.4h0.8v0.8h-0.8zM73.0 331.8h0.8v0.8h-0.8zM80.2 337.9h0.8v0.8h-0.8zM73.0 332.6h0.8v0.8h-0.8zM77.7 340.7h0.8v0.8h-0.8zM76.6 332.2h0.8v0.8h-0.8zM76.1 327.6h0.8v0.8h-0.8zM78.2 326.0h0.8v0.8h-0.8zM68.8 332.3h0.8v0.8h-0.8zM75.4 344.7h0.8v0.8h-0.8zM73.3 337.0h0.8v0.8h-0.8zM73.8 344.5h0.8v0.8h-0.8zM73.6 344.9h0.8v0.8h-0.8zM73.6 344.9h0.8v0.8h-0.8zM76.4 346.5h0.8v0.8h-0.8zM77.1 340.3h0.8v0.8h-0.8zM78.6 338.9h0.8v0.8h-0.8zM75.1 342.8h0.8v0.8h-0.8zM78.2 333.3h0.8v0.8h-0.8zM75.2 333.3h0.8v0.8h-0.8zM76.6 344.4h0.8v0.8h-0.8zM75.7 341.6h0.8v0.8h-0.8zM82.9 326.3h0.8v0.8h-0.8zM77.5 340.4h0.8v0.8h-0.8zM69.2 330.6h0.8v0.8h-0.8zM76.1 341.6h0.8v0.8h-0.8zM72.8 343.5h0.8v0.8h-0.8zM76.2 341.2h0.8v0.8h-0.8zM74.6 343.4h0.8v0.8h-0.8zM75.6 341.8h0.8v0.8h-0.8zM71.3 336.3h0.8v0.8h-0.8zM74.6 342.3h0.8v0.8h-0.8zM75.9 346.3h0.8v0.8h-0.8zM75.4 344.0h0.8v0.8h-0.8zM74.7 336.4h0.8v0.8h-0.8zM80.6 335.7h0.8v0.8h-0.8zM74.8 334.2h0.8v0.8h-0.8zM72.4 339.6h0.8v0.8h-0.8zM78.1 341.9h0.8v0.8h-0.8zM77.0 338.0h0.8v0.8h-0.8zM76.4 345.5h0.8v0.8h-0.8zM73.3 335.1h0.8v0.8h-0.8zM81.7 339.3h0.8v0.8h-0.8zM78.6 344.4h0.8v0.8h-0.8zM76.2 340.8h0.8v0.8h-0.8zM75.2 338.0h0.8v0.8h-0.8zM75.3 338.4h0.8v0.8h-0.8zM80.3 339.8h0.8v0.8h-0.8zM75.1 346.4h0.8v0.8h-0.8zM75.3 333.1h0.8v0.8h-0.8zM76.4 329.0h0.8v0.8h-0.8zM74.6 333.9h0.8v0.8h-0.8zM73.7 342.0h0.8v0.8h-0.8zM75.5 342.0h0.8v0.8h-0.8zM74.9 345.0h0.8v0.8h-0.8zM73.6 326.5h0.8v0.8h-0.8zM75.7 346.1h0.8v0.8h-0.8zM75.1 345.7h0.8v0.8h-0.8zM68.5 332.2h0.8v0.8h-0.8zM74.3 337.8h0.8v0.8h-0.8zM79.5 335.0h0.8v0.8h-0.8zM77.2 337.7h0.8v0.8h-0.8zM77.2 326.5h0.8v0.8h-0.8zM75.3 333.9h0.8v0.8h-0.8zM68.2 327.5h0.8v0.8h-0.8zM77.4 336.6h0.8v0.8h-0.8zM72.4 340.3h0.8v0.8h-0.8zM75.4 346.3h0.8v0.8h-0.8zM75.1 342.0h0.8v0.8h-0.8zM73.2 338.6h0.8v0.8h-0.8zM73.8 342.9h0.8v0.8h-0.8zM79.7 332.2h0.8v0.8h-0.8zM71.7 326.7h0.8v0.8h-0.8zM75.4 341.4h0.8v0.8h-0.8zM75.3 346.0h0.8v0.8h-0.8zM79.5 335.4h0.8v0.8h-0.8zM75.5 343.2h0.8v0.8h-0.8zM75.7 344.3h0.8v0.8h-0.8zM75.0 337.9h0.8v0.8h-0.8zM81.4 336.5h0.8v0.8h-0.8zM74.7 341.3h0.8v0.8h-0.8zM75.7 332.5h0.8v0.8h-0.8zM71.0 332.0h0.8v0.8h-0.8zM77.2 342.6h0.8v0.8h-0.8zM75.3 343.6h0.8v0.8h-0.8zM77.3 335.6h0.8v0.8h-0.8zM75.0 334.7h0.8v0.8h-0.8zM73.3 331.6h0.8v0.8h-0.8zM73.0 338.4h0.8v0.8h-0.8zM77.1 339.4h0.8v0.8h-0.8zM73.7 343.9h0.8v0.8h-0.8zM78.6 332.9h0.8v0.8h-0.8zM78.8 327.8h0.8v0.8h-0.8zM83.7 330.8h0.8v0.8h-0.8zM77.2 333.0h0.8v0.8h-0.8zM74.9 331.4h0.8v0.8h-0.8zM79.9 328.2h0.8v0.8h-0.8zM80.0 326.9h0.8v0.8h-0.8zM77.5 342.2h0.8v0.8h-0.8zM71.2 339.4h0.8v0.8h-0.8zM75.7 344.8h0.8v0.8h-0.8zM79.4 339.7h0.8v0.8h-0.8zM71.3 341.8h0.8v0.8h-0.8zM76.4 343.0h0.8v0.8h-0.8zM75.8 346.4h0.8v0.8h-0.8zM74.6 340.4h0.8v0.8h-0.8zM74.8 326.2h0.8v0.8h-0.8zM77.2 328.5h0.8v0.8h-0.8zM75.8 343.1h0.8v0.8h-0.8zM78.6 343.4h0.8v0.8h-0.8zM73.1 328.2h0.8v0.8h-0.8zM76.2 343.6h0.8v0.8h-0.8zM72.5 337.0h0.8v0.8h-0.8zM74.2 337.8h0.8v0.8h-0.8zM77.3 342.1h0.8v0.8h-0.8zM67.2 332.0h0.8v0.8h-0.8zM78.2 330.3h0.8v0.8h-0.8zM75.6 343.8h0.8v0.8h-0.8zM77.7 344.6h0.8v0.8h-0.8zM73.1 327.8h0.8v0.8h-0.8zM77.5 336.7h0.8v0.8h-0.8zM75.8 346.0h0.8v0.8h-0.8zM74.8 328.1h0.8v0.8h-0.8zM79.4 327.0h0.8v0.8h-0.8zM76.2 343.9h0.8v0.8h-0.8zM73.8 334.1h0.8v0.8h-0.8zM76.0 345.4h0.8v0.8h-0.8zM74.0 341.2h0.8v0.8h-0.8zM73.0 334.4h0.8v0.8h-0.8zM74.8 345.1h0.8v0.8h-0.8zM81.3 336.3h0.8v0.8h-0.8zM75.8 341.3h0.8v0.8h-0.8zM74.9 344.4h0.8v0.8h-0.8zM76.0 341.8h0.8v0.8h-0.8zM73.0 337.0h0.8v0.8h-0.8zM76.0 342.3h0.8v0.8h-0.8zM75.7 338.3h0.8v0.8h-0.8zM70.9 331.6h0.8v0.8h-0.8zM76.3 338.4h0.8v0.8h-0.8zM77.1 329.6h0.8v0.8h-0.8zM72.9 338.4h0.8v0.8h-0.8zM78.9 329.6h0.8v0.8h-0.8zM73.9 340.6h0.8v0.8h-0.8zM75.8 346.4h0.8v0.8h-0.8zM71.8 337.0h0.8v0.8h-0.8zM75.6 339.0h0.8v0.8h-0.8zM74.9 338.6h0.8v0.8h-0.8zM71.8 326.0h0.8v0.8h-0.8zM75.6 345.2h0.8v0.8h-0.8zM73.2 330.9h0.8v0.8h-0.8zM76.9 342.8h0.8v0.8h-0.8zM77.9 329.8h0.8v0.8h-0.8zM84.3 329.6h0.8v0.8h-0.8zM73.5 346.0h0.8v0.8h-0.8zM77.9 340.6h0.8v0.8h-0.8zM77.7 339.0h0.8v0.8h-0.8zM79.4 332.2h0.8v0.8h-0.8zM62.4 333.9h0.8v0.8h-0.8zM73.4 328.8h0.8v0.8h-0.8zM74.6 328.4h0.8v0.8h-0.8zM76.8 345.6h0.8v0.8h-0.8zM76.8 342.5h0.8v0.8h-0.8zM77.6 334.2h0.8v0.8h-0.8zM75.7 332.9h0.8v0.8h-0.8zM73.3 346.2h0.8v0.8h-0.8zM75.0 343.7h0.8v0.8h-0.8zM75.0 333.2h0.8v0.8h-0.8zM69.5 331.6h0.8v0.8h-0.8zM77.6 333.3h0.8v0.8h-0.8zM75.4 337.2h0.8v0.8h-0.8zM76.6 326.3h0.8v0.8h-0.8zM76.6 345.0h0.8v0.8h-0.8zM70.0 329.6h0.8v0.8h-0.8zM76.7 334.0h0.8v0.8h-0.8zM74.9 344.9h0.8v0.8h-0.8zM67.0 329.3h0.8v0.8h-0.8zM75.3 342.5h0.8v0.8h-0.8zM78.1 328.2h0.8v0.8h-0.8zM73.0 339.3h0.8v0.8h-0.8zM78.1 333.3h0.8v0.8h-0.8zM73.6 341.8h0.8v0.8h-0.8zM81.3 331.4h0.8v0.8h-0.8zM78.7 342.2h0.8v0.8h-0.8zM79.2 332.6h0.8v0.8h-0.8zM68.6 335.8h0.8v0.8h-0.8zM78.5 339.5h0.8v0.8h-0.8zM76.2 343.6h0.8v0.8h-0.8zM76.9 335.7h0.8v0.8h-0.8zM78.0 340.8h0.8v0.8h-0.8zM74.0 338.9h0.8v0.8h-0.8zM71.3 334.3h0.8v0.8h-0.8zM73.0 338.1h0.8v0.8h-0.8zM70.0 337.5h0.8v0.8h-0.8zM75.3 344.0h0.8v0.8h-0.8zM72.8 331.2h0.8v0.8h-0.8zM76.9 345.8h0.8v0.8h-0.8zM71.4 338.3h0.8v0.8h-0.8zM75.9 343.9h0.8v0.8h-0.8zM76.6 342.8h0.8v0.8h-0.8zM78.1 336.2h0.8v0.8h-0.8zM75.4 346.5h0.8v0.8h-0.8zM78.3 326.7h0.8v0.8h-0.8zM73.3 339.0h0.8v0.8h-0.8zM74.0 334.3h0.8v0.8h-0.8zM75.1 330.5h0.8v0.8h-0.8zM75.1 339.3h0.8v0.8h-0.8zM79.6 338.2h0.8v0.8h-0.8zM76.1 341.7h0.8v0.8h-0.8zM73.6 342.2h0.8v0.8h-0.8zM72.7 338.1h0.8v0.8h-0.8zM71.0 329.3h0.8v0.8h-0.8zM75.1 345.9h0.8v0.8h-0.8zM72.8 336.8h0.8v0.8h-0.8zM77.0 341.2h0.8v0.8h-0.8zM75.6 346.5h0.8v0.8h-0.8zM75.3 345.5h0.8v0.8h-0.8zM72.2 329.5h0.8v0.8h-0.8zM73.8 333.0h0.8v0.8h-0.8zM80.4 334.9h0.8v0.8h-0.8zM76.1 343.4h0.8v0.8h-0.8zM78.0 325.6h0.8v0.8h-0.8zM76.2 343.1h0.8v0.8h-0.8zM77.8 329.2h0.8v0.8h-0.8zM73.8 344.7h0.8v0.8h-0.8zM75.0 339.5h0.8v0.8h-0.8zM73.6 327.6h0.8v0.8h-0.8zM81.6 329.7h0.8v0.8h-0.8zM73.1 335.3h0.8v0.8h-0.8zM74.7 326.2h0.8v0.8h-0.8zM76.1 345.1h0.8v0.8h-0.8zM75.4 344.2h0.8v0.8h-0.8zM73.5 332.2h0.8v0.8h-0.8zM77.8 340.2h0.8v0.8h-0.8zM70.9 333.6h0.8v0.8h-0.8zM78.6 329.6h0.8v0.8h-0.8zM75.6 340.8h0.8v0.8h-0.8zM72.9 339.5h0.8v0.8h-0.8zM68.1 332.3h0.8v0.8h-0.8zM73.6 327.4h0.8v0.8h-0.8zM72.8 337.8h0.8v0.8h-0.8zM76.7 332.1h0.8v0.8h-0.8zM73.5 341.0h0.8v0.8h-0.8zM76.1 335.3h0.8v0.8h-0.8zM76.7 346.5h0.8v0.8h-0.8zM82.4 339.8h0.7v0.7h-0.7zM59.8 340.8h0.7v0.7h-0.7zM73.7 345.5h0.7v0.7h-0.7zM94.2 341.0h0.7v0.7h-0.7zM93.6 344.6h0.7v0.7h-0.7zM58.3 343.9h0.7v0.7h-0.7zM91.7 345.9h0.7v0.7h-0.7zM88.0 338.7h0.7v0.7h-0.7zM60.3 341.8h0.7v0.7h-0.7zM60.5 343.1h0.7v0.7h-0.7zM78.7 343.9h0.7v0.7h-0.7zM67.8 337.6h0.7v0.7h-0.7zM95.2 342.0h0.7v0.7h-0.7zM68.9 340.7h0.7v0.7h-0.7zM71.8 341.7h0.7v0.7h-0.7zM75.8 337.4h0.7v0.7h-0.7zM99.0 344.6h0.7v0.7h-0.7zM87.9 337.3h0.7v0.7h-0.7zM59.7 342.8h0.7v0.7h-0.7zM91.1 341.8h0.7v0.7h-0.7zM60.7 342.6h0.7v0.7h-0.7zM76.2 338.5h0.7v0.7h-0.7zM79.4 339.4h0.7v0.7h-0.7zM82.4 343.0h0.7v0.7h-0.7zM99.1 335.3h0.7v0.7h-0.7zM78.6 345.3h0.7v0.7h-0.7zM82.9 341.0h0.7v0.7h-0.7zM92.6 334.4h0.7v0.7h-0.7zM89.6 341.5h0.7v0.7h-0.7zM79.2 337.7h0.7v0.7h-0.7zM81.0 335.5h0.7v0.7h-0.7zM76.3 337.1h0.7v0.7h-0.7zM96.6 343.7h0.7v0.7h-0.7zM73.6 343.1h0.7v0.7h-0.7zM69.2 340.3h0.7v0.7h-0.7zM58.1 344.3h0.7v0.7h-0.7zM88.2 343.1h0.7v0.7h-0.7zM54.2 343.8h0.7v0.7h-0.7zM50.6 340.8h0.7v0.7h-0.7zM74.4 334.7h0.7v0.7h-0.7zM71.1 344.6h0.7v0.7h-0.7zM81.2 337.8h0.7v0.7h-0.7zM90.7 338.3h0.7v0.7h-0.7zM94.9 338.8h0.7v0.7h-0.7zM53.9 345.7h0.7v0.7h-0.7zM53.6 337.0h0.7v0.7h-0.7zM88.6 335.4h0.7v0.7h-0.7zM77.2 344.3h0.7v0.7h-0.7zM79.5 338.2h0.7v0.7h-0.7zM87.9 343.9h0.7v0.7h-0.7zM79.0 341.5h0.7v0.7h-0.7zM66.1 338.9h0.7v0.7h-0.7zM99.6 345.7h0.7v0.7h-0.7zM50.1 336.4h0.7v0.7h-0.7zM61.3 343.5h0.7v0.7h-0.7zM60.0 336.0h0.7v0.7h-0.7zM88.3 336.0h0.7v0.7h-0.7zM98.9 339.5h0.7v0.7h-0.7zM94.9 343.8h0.7v0.7h-0.7zM60.4 343.4h0.7v0.7h-0.7z"/>
<path fill="#52B6D8"  d="M71.7 320.1h0.8v0.8h-0.8zM70.0 309.3h0.8v0.8h-0.8zM71.1 318.2h0.8v0.8h-0.8zM68.2 325.7h0.8v0.8h-0.8zM71.0 324.4h0.8v0.8h-0.8zM67.1 308.6h0.8v0.8h-0.8zM72.1 319.9h0.8v0.8h-0.8zM67.2 305.0h0.8v0.8h-0.8zM70.9 305.4h0.8v0.8h-0.8zM70.5 320.3h0.8v0.8h-0.8zM70.5 325.4h0.8v0.8h-0.8zM67.2 309.7h0.8v0.8h-0.8zM68.3 325.2h0.8v0.8h-0.8zM71.9 325.6h0.8v0.8h-0.8zM66.6 315.0h0.8v0.8h-0.8zM70.5 324.6h0.8v0.8h-0.8zM70.1 317.1h0.8v0.8h-0.8zM67.8 313.9h0.8v0.8h-0.8zM67.6 317.6h0.8v0.8h-0.8zM67.1 319.1h0.8v0.8h-0.8zM66.7 313.0h0.8v0.8h-0.8zM68.4 321.0h0.8v0.8h-0.8zM67.1 304.5h0.8v0.8h-0.8zM69.2 311.9h0.8v0.8h-0.8zM71.3 319.0h0.8v0.8h-0.8zM70.8 324.6h0.8v0.8h-0.8zM69.4 312.1h0.8v0.8h-0.8zM70.5 324.2h0.8v0.8h-0.8zM68.8 306.3h0.8v0.8h-0.8zM69.3 325.3h0.8v0.8h-0.8zM67.1 321.4h0.8v0.8h-0.8zM68.4 322.2h0.8v0.8h-0.8zM67.0 324.0h0.8v0.8h-0.8zM68.5 325.5h0.8v0.8h-0.8zM67.7 308.8h0.8v0.8h-0.8zM70.5 324.7h0.8v0.8h-0.8zM70.0 323.3h0.8v0.8h-0.8zM67.9 321.6h0.8v0.8h-0.8zM67.1 322.1h0.8v0.8h-0.8zM69.5 308.0h0.8v0.8h-0.8zM68.8 325.0h0.8v0.8h-0.8zM67.1 324.2h0.8v0.8h-0.8zM69.6 324.0h0.8v0.8h-0.8zM70.5 304.7h0.8v0.8h-0.8zM69.2 325.5h0.8v0.8h-0.8zM68.0 325.8h0.8v0.8h-0.8zM66.4 319.6h0.8v0.8h-0.8zM68.7 313.5h0.8v0.8h-0.8zM70.6 306.8h0.8v0.8h-0.8zM70.8 321.7h0.8v0.8h-0.8zM69.7 322.3h0.8v0.8h-0.8zM69.3 317.7h0.8v0.8h-0.8zM70.5 307.3h0.8v0.8h-0.8zM71.5 304.1h0.8v0.8h-0.8zM68.6 322.7h0.8v0.8h-0.8zM70.8 325.4h0.8v0.8h-0.8zM68.3 322.9h0.8v0.8h-0.8zM69.1 318.1h0.8v0.8h-0.8zM71.8 323.7h0.8v0.8h-0.8zM66.1 319.5h0.8v0.8h-0.8zM70.4 318.1h0.8v0.8h-0.8zM69.3 315.7h0.8v0.8h-0.8zM69.4 309.0h0.8v0.8h-0.8zM69.9 325.9h0.8v0.8h-0.8zM68.6 323.2h0.8v0.8h-0.8zM71.7 325.5h0.8v0.8h-0.8zM71.1 314.4h0.8v0.8h-0.8zM69.8 325.9h0.8v0.8h-0.8zM69.9 315.7h0.8v0.8h-0.8zM71.0 318.2h0.8v0.8h-0.8zM69.7 322.7h0.8v0.8h-0.8zM70.5 318.1h0.8v0.8h-0.8zM69.2 306.0h0.8v0.8h-0.8zM66.9 307.0h0.8v0.8h-0.8zM66.4 314.4h0.8v0.8h-0.8zM68.0 316.0h0.8v0.8h-0.8zM68.6 313.2h0.8v0.8h-0.8zM69.7 322.8h0.8v0.8h-0.8zM69.1 308.0h0.8v0.8h-0.8zM71.3 322.5h0.8v0.8h-0.8zM69.3 325.4h0.8v0.8h-0.8zM70.7 322.0h0.8v0.8h-0.8zM69.2 322.3h0.8v0.8h-0.8zM68.8 310.9h0.8v0.8h-0.8zM68.2 306.2h0.8v0.8h-0.8zM68.3 310.8h0.8v0.8h-0.8zM69.1 314.4h0.8v0.8h-0.8zM65.8 304.1h0.8v0.8h-0.8zM65.1 305.6h0.8v0.8h-0.8zM70.7 306.7h0.8v0.8h-0.8zM70.7 316.0h0.8v0.8h-0.8zM69.4 316.0h0.8v0.8h-0.8zM67.2 314.9h0.8v0.8h-0.8zM68.3 315.0h0.8v0.8h-0.8zM70.3 312.4h0.8v0.8h-0.8zM67.4 316.0h0.8v0.8h-0.8zM70.3 305.9h0.8v0.8h-0.8zM68.6 312.4h0.8v0.8h-0.8zM67.8 323.9h0.8v0.8h-0.8zM65.9 312.2h0.8v0.8h-0.8zM69.1 320.9h0.8v0.8h-0.8zM72.1 311.6h0.8v0.8h-0.8zM69.0 324.2h0.8v0.8h-0.8zM69.0 317.9h0.8v0.8h-0.8zM68.6 317.1h0.8v0.8h-0.8zM68.2 307.2h0.8v0.8h-0.8zM68.5 322.9h0.8v0.8h-0.8zM67.0 317.2h0.8v0.8h-0.8zM70.1 305.5h0.8v0.8h-0.8zM67.2 306.7h0.8v0.8h-0.8z"/>
<path fill="#F0907A"  d="M81.6 304.5h0.8v0.8h-0.8zM83.3 324.6h0.8v0.8h-0.8zM83.3 306.8h0.8v0.8h-0.8zM79.7 299.6h0.8v0.8h-0.8zM84.6 324.1h0.8v0.8h-0.8zM83.7 297.4h0.8v0.8h-0.8zM79.9 320.4h0.8v0.8h-0.8zM83.2 296.7h0.8v0.8h-0.8zM85.6 300.6h0.8v0.8h-0.8zM82.9 320.8h0.8v0.8h-0.8zM83.0 293.3h0.8v0.8h-0.8zM83.2 304.7h0.8v0.8h-0.8zM82.2 325.1h0.8v0.8h-0.8zM85.1 319.5h0.8v0.8h-0.8zM80.6 304.0h0.8v0.8h-0.8zM82.0 303.0h0.8v0.8h-0.8zM81.1 320.2h0.8v0.8h-0.8zM85.4 293.7h0.8v0.8h-0.8zM82.4 321.9h0.8v0.8h-0.8zM82.0 300.8h0.8v0.8h-0.8zM83.2 326.0h0.8v0.8h-0.8zM82.2 315.7h0.8v0.8h-0.8zM83.2 318.8h0.8v0.8h-0.8zM81.9 293.4h0.8v0.8h-0.8zM85.2 299.0h0.8v0.8h-0.8zM81.9 312.3h0.8v0.8h-0.8zM81.1 301.1h0.8v0.8h-0.8zM82.0 311.5h0.8v0.8h-0.8zM82.7 326.0h0.8v0.8h-0.8zM82.4 322.4h0.8v0.8h-0.8zM83.6 300.9h0.8v0.8h-0.8zM83.4 309.0h0.8v0.8h-0.8zM83.5 325.6h0.8v0.8h-0.8zM79.8 324.9h0.8v0.8h-0.8zM80.4 296.5h0.8v0.8h-0.8zM82.4 324.9h0.8v0.8h-0.8zM84.1 310.3h0.8v0.8h-0.8zM82.6 320.6h0.8v0.8h-0.8zM79.5 316.6h0.8v0.8h-0.8zM82.9 322.4h0.8v0.8h-0.8zM81.7 311.5h0.8v0.8h-0.8zM83.3 309.9h0.8v0.8h-0.8zM80.8 299.3h0.8v0.8h-0.8zM85.3 292.5h0.8v0.8h-0.8zM84.8 325.9h0.8v0.8h-0.8zM82.7 317.9h0.8v0.8h-0.8zM81.9 298.1h0.8v0.8h-0.8zM80.0 309.8h0.8v0.8h-0.8zM83.6 293.0h0.8v0.8h-0.8zM83.6 299.2h0.8v0.8h-0.8zM79.0 314.2h0.8v0.8h-0.8zM80.4 321.4h0.8v0.8h-0.8zM81.6 298.3h0.8v0.8h-0.8zM83.4 325.8h0.8v0.8h-0.8zM81.2 324.8h0.8v0.8h-0.8zM83.4 308.4h0.8v0.8h-0.8zM80.4 325.2h0.8v0.8h-0.8zM82.5 320.2h0.8v0.8h-0.8zM82.7 321.4h0.8v0.8h-0.8zM80.4 302.0h0.8v0.8h-0.8zM82.3 321.5h0.8v0.8h-0.8zM80.6 308.0h0.8v0.8h-0.8zM83.0 293.8h0.8v0.8h-0.8zM81.0 316.5h0.8v0.8h-0.8zM82.8 319.1h0.8v0.8h-0.8zM85.7 314.7h0.8v0.8h-0.8zM82.2 321.7h0.8v0.8h-0.8zM83.1 306.1h0.8v0.8h-0.8zM80.6 307.2h0.8v0.8h-0.8zM80.3 299.6h0.8v0.8h-0.8zM80.0 317.3h0.8v0.8h-0.8zM83.9 308.9h0.8v0.8h-0.8zM82.6 317.5h0.8v0.8h-0.8zM83.8 293.0h0.8v0.8h-0.8zM81.2 318.8h0.8v0.8h-0.8zM83.5 298.5h0.8v0.8h-0.8zM83.7 323.7h0.8v0.8h-0.8zM80.8 313.5h0.8v0.8h-0.8zM82.5 303.1h0.8v0.8h-0.8zM81.1 320.2h0.8v0.8h-0.8zM83.6 311.1h0.8v0.8h-0.8zM82.3 298.6h0.8v0.8h-0.8zM83.2 308.4h0.8v0.8h-0.8zM79.8 294.5h0.8v0.8h-0.8zM83.0 301.6h0.8v0.8h-0.8zM80.2 311.9h0.8v0.8h-0.8zM79.4 325.4h0.8v0.8h-0.8zM80.3 302.6h0.8v0.8h-0.8zM84.7 299.7h0.8v0.8h-0.8zM79.2 318.5h0.8v0.8h-0.8zM81.5 324.4h0.8v0.8h-0.8zM82.7 320.2h0.8v0.8h-0.8zM82.2 326.0h0.8v0.8h-0.8zM80.0 318.8h0.8v0.8h-0.8zM81.6 317.1h0.8v0.8h-0.8zM83.4 300.5h0.8v0.8h-0.8zM84.5 324.6h0.8v0.8h-0.8zM84.7 323.9h0.8v0.8h-0.8zM80.4 306.6h0.8v0.8h-0.8zM84.5 315.6h0.8v0.8h-0.8zM81.4 321.8h0.8v0.8h-0.8zM82.2 318.3h0.8v0.8h-0.8zM82.9 317.4h0.8v0.8h-0.8zM84.6 322.2h0.8v0.8h-0.8zM80.8 319.0h0.8v0.8h-0.8zM85.1 316.5h0.8v0.8h-0.8zM84.5 292.9h0.8v0.8h-0.8zM83.2 299.1h0.8v0.8h-0.8zM82.0 322.1h0.8v0.8h-0.8zM83.0 323.1h0.8v0.8h-0.8z"/>
<g fill="#c4c4c4"><rect x="47" y="284.6" width="9" height="0.8"/><rect x="64" y="284.6" width="8" height="0.8"/><rect x="89" y="284.6" width="9" height="0.8"/><rect x="64" y="352.6" width="22" height="1.2" fill="#8a8a8a"/><rect x="37.5" y="307" width="1.1" height="18" fill="#999"/></g>
<circle cx="202.7" cy="319.2" r="25" fill="#EFEFEF"/>
<path d="M202.70,284.70 A34.5,34.5 0 0 1 232.58,301.95" fill="none" stroke="#3A66B8" stroke-width="1.6"/>
<path d="M232.58,301.95 A34.5,34.5 0 0 1 217.28,350.47" fill="none" stroke="#D48AB0" stroke-width="1.6"/>
<path d="M217.28,350.47 A34.5,34.5 0 0 1 180.52,345.63" fill="none" stroke="#4CAF50" stroke-width="1.6"/>
<path d="M180.52,345.63 A34.5,34.5 0 0 1 168.22,318.00" fill="none" stroke="#B44CB4" stroke-width="1.6"/>
<path d="M168.22,318.00 A34.5,34.5 0 0 1 190.90,286.78" fill="none" stroke="#C81E2A" stroke-width="1.6"/>
<path d="M190.90,286.78 A34.5,34.5 0 0 1 202.70,284.70" fill="none" stroke="#E8A020" stroke-width="1.6"/>
<circle cx="202.7" cy="319.2" r="36.6" fill="none" stroke="#ccc" stroke-width="0.3"/>
<path d="M202.70,290.90 A28.3,28.3 0 1 1 193.02,345.79" fill="none" stroke="#E89088" stroke-width="1.8"/>
<path d="M193.02,345.79 A28.3,28.3 0 0 1 190.74,293.55" fill="none" stroke="#5AB0E0" stroke-width="1.8"/>
<path d="M190.74,293.55 A28.3,28.3 0 0 1 202.70,290.90" fill="none" stroke="#E89088" stroke-width="1.8"/>
<path d="M202.70,298.20 A21.0,21.0 0 0 1 216.20,303.11" fill="none" stroke="#3A66B8" stroke-width="4"/>
<path d="M216.84,302.35 A22.0,22.0 0 0 1 213.70,338.25" fill="none" stroke="#E8A0B8" stroke-width="6"/>
<path d="M213.20,337.39 A21.0,21.0 0 0 1 190.65,336.40" fill="none" stroke="#5DBB55" stroke-width="4"/>
<path d="M190.94,335.99 A20.5,20.5 0 0 1 182.28,320.99" fill="none" stroke="#C050C0" stroke-width="3"/>
<path d="M182.78,320.94 A20.0,20.0 0 0 1 200.96,299.28" fill="none" stroke="#D02030" stroke-width="2"/>
<path d="M200.91,298.78 A20.5,20.5 0 0 1 202.70,298.70" fill="none" stroke="#E8A020" stroke-width="3"/>
<g fill="#E88" opacity="0.9"><rect x="200" y="313" width="6" height="1"/><rect x="200" y="315" width="6" height="1" fill="#5AB0E0"/><rect x="200" y="318" width="1" height="9" fill="#D44"/></g>
<g><rect x="146.5" y="314.5" width="1.5" height="1.2" fill="#3A66B8"/><rect x="146.5" y="316.5" width="1.5" height="1.2" fill="#D48AB0"/><rect x="146.5" y="318.5" width="1.5" height="1.2" fill="#4CAF50"/><rect x="146.5" y="320.5" width="1.5" height="1.2" fill="#B44CB4"/><rect x="146.5" y="322.5" width="1.5" height="1.2" fill="#C81E2A"/><rect x="146.5" y="324.5" width="1.5" height="1.2" fill="#E8A020"/>
<rect x="149" y="314.6" width="9" height="0.8" fill="#aaa"/><rect x="149" y="320.6" width="10" height="0.8" fill="#aaa"/><rect x="149" y="324.6" width="18" height="0.8" fill="#aaa"/></g>
<circle cx="115.6" cy="400.8" r="31.2" fill="#7DB07D"/>
<circle cx="150.8" cy="400.8" r="31.2" fill="#AACBE8"/>
<clipPath id="vc"><circle cx="115.6" cy="400.8" r="31.2"/></clipPath>
<circle cx="150.8" cy="400.8" r="31.2" fill="#6AA8A8" clip-path="url(#vc)"/>
<g font-size="7" font-weight="bold" text-anchor="middle" fill="#111"><text x="104.5" y="403">2895</text><text x="134.2" y="403">79</text><text x="158.1" y="403">330</text></g>
<g font-size="5" text-anchor="middle" style="font-family:'Liberation Sans',sans-serif"><text x="103.6" y="367" fill="#7DB07D">Skin barrier function</text><text x="162.3" y="367" fill="#8DB8E0">DEPs</text></g>
<g stroke="#444" stroke-width="0.45">
<line x1="255.1" y1="361.4" x2="255.4" y2="427.8"/>
<line x1="255.1" y1="361.4" x2="229.6" y2="415.6"/>
<line x1="240.7" y1="364.6" x2="240.7" y2="424.6"/>
<line x1="240.7" y1="364.6" x2="223" y2="402.3"/>
<line x1="269" y1="364.6" x2="255.4" y2="427.8"/>
<line x1="269" y1="364.6" x2="240.7" y2="424.6"/>
<line x1="280.6" y1="374" x2="223" y2="402.3"/>
<line x1="280.6" y1="374" x2="255.4" y2="427.8"/>
<line x1="287.2" y1="387.4" x2="229.6" y2="415.6"/>
<line x1="287.2" y1="401.9" x2="255.4" y2="427.8"/>
<line x1="280.6" y1="415.3" x2="223" y2="402.3"/>
<line x1="269.3" y1="424.2" x2="223" y2="387.4"/>
<line x1="229.3" y1="374.4" x2="240.7" y2="424.6"/>
<line x1="229.3" y1="374.4" x2="280.6" y2="415.3"/>
<line x1="223" y1="387.4" x2="255.4" y2="427.8"/>
<line x1="223" y1="402.3" x2="240.7" y2="424.6"/>
<line x1="223" y1="402.3" x2="255.4" y2="427.8"/>
<line x1="229.6" y1="415.6" x2="255.4" y2="427.8"/>
<line x1="240.7" y1="424.6" x2="255.4" y2="427.8"/>
<line x1="240.7" y1="364.6" x2="255.4" y2="427.8"/>
<line x1="229.6" y1="415.6" x2="269.3" y2="424.2"/>
</g>
<circle cx="255.1" cy="361.4" r="4.6" fill="#FCC590"/>
<circle cx="269" cy="364.6" r="4.6" fill="#FCC590"/>
<circle cx="280.6" cy="374" r="4.5" fill="#FDCA95"/>
<circle cx="287.2" cy="387.4" r="4.3" fill="#FED8A8"/>
<circle cx="287.2" cy="401.9" r="4.3" fill="#FED8A8"/>
<circle cx="280.6" cy="415.3" r="4.3" fill="#FED8A8"/>
<circle cx="269.3" cy="424.2" r="4.3" fill="#FED8A8"/>
<circle cx="255.4" cy="427.8" r="5.9" fill="#E65C38"/>
<circle cx="240.7" cy="424.6" r="5.6" fill="#EA6A44"/>
<circle cx="229.6" cy="415.6" r="5.6" fill="#EC6C46"/>
<circle cx="223" cy="402.3" r="5.6" fill="#EC6A45"/>
<circle cx="223" cy="387.4" r="4.9" fill="#F8A46C"/>
<circle cx="229.3" cy="374.4" r="4.6" fill="#FBB57E"/>
<circle cx="240.7" cy="364.6" r="4.6" fill="#FCBE85"/>
<g font-size="2.6" font-weight="bold" text-anchor="middle" fill="#222" style="font-family:'Liberation Sans',sans-serif">
<text x="255.1" y="362.2">EZH2</text>
<text x="269" y="365.40000000000003">INPP4A</text>
<text x="280.6" y="374.8">SOX9</text>
<text x="287.2" y="388.2">PHL2</text>
<text x="287.2" y="402.7">HGACA</text>
<text x="280.6" y="416.1">EBLN1</text>
<text x="269.3" y="425.0">PTPN6</text>
<text x="255.4" y="428.6">CASGMP</text>
<text x="240.7" y="425.40000000000003">NFKBIA</text>
<text x="229.6" y="416.40000000000003">JUN</text>
<text x="223" y="403.1">TRAF6</text>
<text x="223" y="388.2">MRVI1</text>
<text x="229.3" y="375.2">BRAT1</text>
<text x="240.7" y="365.40000000000003">BCL10</text>
</g>
<rect x="324" y="287.50" width="22" height="6.44" fill="rgb(255,102,102)"/>
<rect x="324" y="293.64" width="22" height="5.26" fill="rgb(255,25,25)"/>
<rect x="324" y="298.60" width="22" height="6.50" fill="rgb(255,102,102)"/>
<rect x="324" y="304.80" width="22" height="2.16" fill="rgb(255,178,178)"/>
<rect x="324" y="306.66" width="22" height="10.84" fill="rgb(255,76,76)"/>
<rect x="324" y="317.20" width="22" height="2.78" fill="rgb(255,127,127)"/>
<rect x="324" y="319.68" width="22" height="3.40" fill="rgb(255,0,0)"/>
<rect x="324" y="322.78" width="22" height="12.08" fill="rgb(255,127,127)"/>
<rect x="324" y="334.56" width="22" height="2.78" fill="rgb(255,204,204)"/>
<rect x="324" y="337.04" width="22" height="6.50" fill="rgb(255,0,0)"/>
<rect x="324" y="343.24" width="22" height="7.74" fill="rgb(255,229,229)"/>
<rect x="324" y="350.68" width="22" height="4.02" fill="rgb(255,102,102)"/>
<rect x="324" y="354.40" width="22" height="5.88" fill="rgb(255,50,50)"/>
<rect x="324" y="360.00" width="22" height="0.88" fill="rgb(255,102,102)"/>
<rect x="324" y="360.58" width="22" height="4.64" fill="rgb(255,25,25)"/>
<rect x="324" y="364.92" width="22" height="10.84" fill="rgb(255,114,114)"/>
<rect x="324" y="375.46" width="22" height="4.64" fill="rgb(204,204,255)"/>
<rect x="324" y="379.80" width="22" height="6.50" fill="rgb(127,127,255)"/>
<rect x="324" y="386.00" width="22" height="8.98" fill="rgb(25,25,255)"/>
<rect x="324" y="394.68" width="22" height="8.98" fill="rgb(0,0,255)"/>
<rect x="324" y="403.36" width="22" height="4.02" fill="rgb(102,102,255)"/>
<rect x="324" y="407.08" width="22" height="6.50" fill="rgb(25,25,255)"/>
<rect x="324" y="413.28" width="22" height="9.60" fill="rgb(0,0,255)"/>
<rect x="324" y="422.58" width="22" height="4.39" fill="rgb(76,76,255)"/>
<rect x="346" y="287.50" width="22" height="2.72" fill="rgb(255,127,127)"/>
<rect x="346" y="289.92" width="22" height="2.16" fill="rgb(255,204,204)"/>
<rect x="346" y="291.78" width="22" height="2.16" fill="rgb(255,153,153)"/>
<rect x="346" y="293.64" width="22" height="8.98" fill="rgb(255,178,178)"/>
<rect x="346" y="302.32" width="22" height="4.64" fill="rgb(255,127,127)"/>
<rect x="346" y="306.66" width="22" height="10.84" fill="rgb(255,76,76)"/>
<rect x="346" y="317.20" width="22" height="6.50" fill="rgb(255,0,0)"/>
<rect x="346" y="323.40" width="22" height="6.50" fill="rgb(255,153,153)"/>
<rect x="346" y="329.60" width="22" height="4.02" fill="rgb(255,204,204)"/>
<rect x="346" y="333.32" width="22" height="4.02" fill="rgb(255,76,76)"/>
<rect x="346" y="337.04" width="22" height="6.50" fill="rgb(255,178,178)"/>
<rect x="346" y="343.24" width="22" height="6.50" fill="rgb(255,0,0)"/>
<rect x="346" y="349.44" width="22" height="5.26" fill="rgb(255,25,25)"/>
<rect x="346" y="354.40" width="22" height="5.88" fill="rgb(255,0,0)"/>
<rect x="346" y="360.00" width="22" height="0.88" fill="rgb(255,0,0)"/>
<rect x="346" y="360.58" width="22" height="8.36" fill="rgb(255,229,229)"/>
<rect x="346" y="368.64" width="22" height="7.12" fill="rgb(255,102,102)"/>
<rect x="346" y="375.46" width="22" height="4.64" fill="rgb(25,25,255)"/>
<rect x="346" y="379.80" width="22" height="6.50" fill="rgb(0,0,255)"/>
<rect x="346" y="386.00" width="22" height="4.64" fill="rgb(178,178,255)"/>
<rect x="346" y="390.34" width="22" height="5.88" fill="rgb(76,76,255)"/>
<rect x="346" y="395.92" width="22" height="8.98" fill="rgb(204,204,255)"/>
<rect x="346" y="404.60" width="22" height="2.78" fill="rgb(127,127,255)"/>
<rect x="346" y="407.08" width="22" height="4.02" fill="rgb(229,229,255)"/>
<rect x="346" y="410.80" width="22" height="10.22" fill="rgb(178,178,255)"/>
<rect x="346" y="420.72" width="22" height="6.25" fill="rgb(153,153,255)"/>
<rect x="368" y="287.50" width="22" height="6.44" fill="rgb(255,0,0)"/>
<rect x="368" y="293.64" width="22" height="12.70" fill="rgb(255,50,50)"/>
<rect x="368" y="306.04" width="22" height="6.50" fill="rgb(255,25,25)"/>
<rect x="368" y="312.24" width="22" height="7.74" fill="rgb(255,102,102)"/>
<rect x="368" y="319.68" width="22" height="4.64" fill="rgb(255,204,204)"/>
<rect x="368" y="324.02" width="22" height="10.84" fill="rgb(255,0,0)"/>
<rect x="368" y="334.56" width="22" height="7.74" fill="rgb(255,25,25)"/>
<rect x="368" y="342.00" width="22" height="2.16" fill="rgb(255,178,178)"/>
<rect x="368" y="343.86" width="22" height="5.88" fill="rgb(255,76,76)"/>
<rect x="368" y="349.44" width="22" height="5.26" fill="rgb(255,127,127)"/>
<rect x="368" y="354.40" width="22" height="5.88" fill="rgb(255,229,229)"/>
<rect x="368" y="360.00" width="22" height="0.88" fill="rgb(255,229,229)"/>
<rect x="368" y="360.58" width="22" height="8.36" fill="rgb(255,25,25)"/>
<rect x="368" y="368.64" width="22" height="7.12" fill="rgb(255,76,76)"/>
<rect x="368" y="375.46" width="22" height="4.64" fill="rgb(102,102,255)"/>
<rect x="368" y="379.80" width="22" height="2.78" fill="rgb(50,50,255)"/>
<rect x="368" y="382.28" width="22" height="4.02" fill="rgb(204,204,255)"/>
<rect x="368" y="386.00" width="22" height="6.50" fill="rgb(102,102,255)"/>
<rect x="368" y="392.20" width="22" height="5.26" fill="rgb(153,153,255)"/>
<rect x="368" y="397.16" width="22" height="4.02" fill="rgb(76,76,255)"/>
<rect x="368" y="400.88" width="22" height="4.02" fill="rgb(153,153,255)"/>
<rect x="368" y="404.60" width="22" height="8.98" fill="rgb(76,76,255)"/>
<rect x="368" y="413.28" width="22" height="13.69" fill="rgb(102,102,255)"/>
<rect x="390" y="287.50" width="22" height="5.20" fill="rgb(50,50,255)"/>
<rect x="390" y="292.40" width="22" height="2.16" fill="rgb(102,102,255)"/>
<rect x="390" y="294.26" width="22" height="4.64" fill="rgb(25,25,255)"/>
<rect x="390" y="298.60" width="22" height="5.26" fill="rgb(0,0,255)"/>
<rect x="390" y="303.56" width="22" height="13.94" fill="rgb(50,50,255)"/>
<rect x="390" y="317.20" width="22" height="13.94" fill="rgb(12,12,255)"/>
<rect x="390" y="330.84" width="22" height="6.50" fill="rgb(0,0,255)"/>
<rect x="390" y="337.04" width="22" height="5.26" fill="rgb(50,50,255)"/>
<rect x="390" y="342.00" width="22" height="5.88" fill="rgb(76,76,255)"/>
<rect x="390" y="347.58" width="22" height="2.78" fill="rgb(127,127,255)"/>
<rect x="390" y="350.06" width="22" height="3.40" fill="rgb(0,0,255)"/>
<rect x="390" y="353.16" width="22" height="7.12" fill="rgb(178,178,255)"/>
<rect x="390" y="360.00" width="22" height="0.88" fill="rgb(191,191,255)"/>
<rect x="390" y="360.58" width="22" height="4.64" fill="rgb(127,127,255)"/>
<rect x="390" y="364.92" width="22" height="4.02" fill="rgb(229,229,255)"/>
<rect x="390" y="368.64" width="22" height="2.78" fill="rgb(153,153,255)"/>
<rect x="390" y="371.12" width="22" height="4.64" fill="rgb(242,242,255)"/>
<rect x="390" y="375.46" width="22" height="4.64" fill="rgb(255,12,12)"/>
<rect x="390" y="379.80" width="22" height="2.78" fill="rgb(255,102,102)"/>
<rect x="390" y="382.28" width="22" height="4.02" fill="rgb(255,50,50)"/>
<rect x="390" y="386.00" width="22" height="5.26" fill="rgb(255,127,127)"/>
<rect x="390" y="390.96" width="22" height="10.22" fill="rgb(255,165,165)"/>
<rect x="390" y="400.88" width="22" height="6.50" fill="rgb(255,0,0)"/>
<rect x="390" y="407.08" width="22" height="7.74" fill="rgb(255,25,25)"/>
<rect x="390" y="414.52" width="22" height="12.45" fill="rgb(255,76,76)"/>
<rect x="412" y="287.50" width="22" height="4.58" fill="rgb(229,229,255)"/>
<rect x="412" y="291.78" width="22" height="2.78" fill="rgb(153,153,255)"/>
<rect x="412" y="294.26" width="22" height="12.08" fill="rgb(229,229,255)"/>
<rect x="412" y="306.04" width="22" height="1.54" fill="rgb(255,255,255)"/>
<rect x="412" y="307.28" width="22" height="5.26" fill="rgb(127,127,255)"/>
<rect x="412" y="312.24" width="22" height="5.26" fill="rgb(204,204,255)"/>
<rect x="412" y="317.20" width="22" height="6.50" fill="rgb(229,229,255)"/>
<rect x="412" y="323.40" width="22" height="6.50" fill="rgb(178,178,255)"/>
<rect x="412" y="329.60" width="22" height="7.74" fill="rgb(153,153,255)"/>
<rect x="412" y="337.04" width="22" height="6.50" fill="rgb(76,76,255)"/>
<rect x="412" y="343.24" width="22" height="4.64" fill="rgb(127,127,255)"/>
<rect x="412" y="347.58" width="22" height="2.78" fill="rgb(0,0,255)"/>
<rect x="412" y="350.06" width="22" height="4.64" fill="rgb(76,76,255)"/>
<rect x="412" y="354.40" width="22" height="5.88" fill="rgb(12,12,255)"/>
<rect x="412" y="360.00" width="22" height="0.88" fill="rgb(0,0,255)"/>
<rect x="412" y="360.58" width="22" height="4.64" fill="rgb(50,50,255)"/>
<rect x="412" y="364.92" width="22" height="10.84" fill="rgb(38,38,255)"/>
<rect x="412" y="375.46" width="22" height="4.64" fill="rgb(255,204,204)"/>
<rect x="412" y="379.80" width="22" height="6.50" fill="rgb(255,76,76)"/>
<rect x="412" y="386.00" width="22" height="5.26" fill="rgb(255,0,0)"/>
<rect x="412" y="390.96" width="22" height="5.26" fill="rgb(255,165,165)"/>
<rect x="412" y="395.92" width="22" height="8.98" fill="rgb(255,127,127)"/>
<rect x="412" y="404.60" width="22" height="2.78" fill="rgb(255,178,178)"/>
<rect x="412" y="407.08" width="22" height="4.02" fill="rgb(255,204,204)"/>
<rect x="412" y="410.80" width="22" height="7.74" fill="rgb(255,165,165)"/>
<rect x="412" y="418.24" width="22" height="8.73" fill="rgb(255,229,229)"/>
<rect x="434" y="287.50" width="22" height="5.20" fill="rgb(50,50,255)"/>
<rect x="434" y="292.40" width="22" height="5.88" fill="rgb(76,76,255)"/>
<rect x="434" y="297.98" width="22" height="5.26" fill="rgb(127,127,255)"/>
<rect x="434" y="302.94" width="22" height="2.16" fill="rgb(50,50,255)"/>
<rect x="434" y="304.80" width="22" height="11.46" fill="rgb(76,76,255)"/>
<rect x="434" y="315.96" width="22" height="1.54" fill="rgb(0,0,255)"/>
<rect x="434" y="317.20" width="22" height="6.50" fill="rgb(76,76,255)"/>
<rect x="434" y="323.40" width="22" height="7.74" fill="rgb(153,153,255)"/>
<rect x="434" y="330.84" width="22" height="4.02" fill="rgb(204,204,255)"/>
<rect x="434" y="334.56" width="22" height="7.74" fill="rgb(204,204,255)"/>
<rect x="434" y="342.00" width="22" height="2.16" fill="rgb(255,255,255)"/>
<rect x="434" y="343.86" width="22" height="4.02" fill="rgb(127,127,255)"/>
<rect x="434" y="347.58" width="22" height="5.88" fill="rgb(229,229,255)"/>
<rect x="434" y="353.16" width="22" height="7.12" fill="rgb(153,153,255)"/>
<rect x="434" y="360.00" width="22" height="5.22" fill="rgb(102,102,255)"/>
<rect x="434" y="364.92" width="22" height="10.84" fill="rgb(50,50,255)"/>
<rect x="434" y="375.46" width="22" height="7.12" fill="rgb(255,114,114)"/>
<rect x="434" y="382.28" width="22" height="4.02" fill="rgb(255,178,178)"/>
<rect x="434" y="386.00" width="22" height="5.26" fill="rgb(255,204,204)"/>
<rect x="434" y="390.96" width="22" height="10.22" fill="rgb(255,0,0)"/>
<rect x="434" y="400.88" width="22" height="4.02" fill="rgb(255,191,191)"/>
<rect x="434" y="404.60" width="22" height="13.94" fill="rgb(255,102,102)"/>
<rect x="434" y="418.24" width="22" height="8.73" fill="rgb(255,12,12)"/>
<rect x="324" y="281.4" width="66" height="5.1" fill="#F8877E"/><rect x="390" y="281.4" width="66" height="5.1" fill="#00D0DC"/>
<path d="M324,288.5 H319.1 M324,291.9 H320.1 M324,295.4 H317.1 M324,298.9 H320.6 M324,302.3 H317.8 M324,305.8 H318.8 M324,309.2 H320.7 M324,312.6 H318.0 M324,316.1 H320.8 M324,319.6 H318.4 M324,323.0 H320.6 M324,326.4 H320.5 M324,329.9 H318.5 M324,333.4 H316.0 M324,336.8 H320.3 M324,340.2 H319.7 M324,343.7 H317.2 M324,347.1 H315.3 M324,350.6 H317.5 M324,354.1 H318.6 M324,357.5 H315.1 M324,360.9 H320.7 M324,364.4 H315.8 M324,367.9 H319.3 M324,371.3 H320.1 M324,374.8 H320.3 M324,378.2 H319.1 M324,381.6 H316.1 M324,385.1 H319.9 M324,388.6 H317.5 M324,392.0 H317.2 M324,395.4 H318.8 M324,398.9 H317.7 M324,402.4 H320.6 M324,405.8 H320.6 M324,409.2 H319.8 M324,412.7 H316.9 M324,416.1 H318.4 M324,419.6 H319.1 M324,423.1 H317.5 M309,305 V355 M309,330 H301 V407 M301,407 H309 M309,385 V426 M305,300 V318 M313,296 V318 M313,335 V372 M312,382 V420 M318,290 V300 M317,345 V365 M318,395 V410" fill="none" stroke="#333" stroke-width="0.5"/>
<path fill="#9a9a9a"  d="M457.0 288.0h9.3v0.7h-9.3zM457.0 289.8h8.5v0.7h-8.5zM457.0 291.5h11v0.7h-11zM457.0 293.3h10.5v0.7h-10.5zM457.0 295.1h8.2v0.7h-8.2zM457.0 296.9h9.9v0.7h-9.9zM457.0 298.6h9.6v0.7h-9.6zM457.0 300.4h11.4v0.7h-11.4zM457.0 302.2h10.6v0.7h-10.6zM457.0 303.9h8.4v0.7h-8.4zM457.0 305.7h11.9v0.7h-11.9zM457.0 307.5h7.6v0.7h-7.6zM457.0 309.2h9.1v0.7h-9.1zM457.0 311.0h10.8v0.7h-10.8zM457.0 312.8h7.8v0.7h-7.8zM457.0 314.6h9.4v0.7h-9.4zM457.0 316.3h7.2v0.7h-7.2zM457.0 318.1h10.3v0.7h-10.3zM457.0 319.9h10.8v0.7h-10.8zM457.0 321.6h9.9v0.7h-9.9zM457.0 323.4h11.4v0.7h-11.4zM457.0 325.2h8.6v0.7h-8.6zM457.0 326.9h10.5v0.7h-10.5zM457.0 328.7h10v0.7h-10zM457.0 330.5h9.9v0.7h-9.9zM457.0 332.2h9.3v0.7h-9.3zM457.0 334.0h11.2v0.7h-11.2zM457.0 335.8h11.7v0.7h-11.7zM457.0 337.6h9.4v0.7h-9.4zM457.0 339.3h10.3v0.7h-10.3zM457.0 341.1h7.3v0.7h-7.3zM457.0 342.9h10.5v0.7h-10.5zM457.0 344.6h10.2v0.7h-10.2zM457.0 346.4h12v0.7h-12zM457.0 348.2h11.1v0.7h-11.1zM457.0 349.9h8.4v0.7h-8.4zM457.0 351.7h8.9v0.7h-8.9zM457.0 353.5h10.3v0.7h-10.3zM457.0 355.3h7.1v0.7h-7.1zM457.0 357.0h9.3v0.7h-9.3zM457.0 358.8h7.8v0.7h-7.8zM457.0 360.6h7.6v0.7h-7.6zM457.0 362.3h7.3v0.7h-7.3zM457.0 364.1h10.8v0.7h-10.8zM457.0 365.9h7.6v0.7h-7.6zM457.0 367.6h8.2v0.7h-8.2zM457.0 369.4h9v0.7h-9zM457.0 371.2h11.4v0.7h-11.4zM457.0 373.0h7.4v0.7h-7.4zM457.0 374.7h9.2v0.7h-9.2zM457.0 376.5h9.7v0.7h-9.7zM457.0 378.3h11.4v0.7h-11.4zM457.0 380.0h11.1v0.7h-11.1zM457.0 381.8h11.3v0.7h-11.3zM457.0 383.6h8.4v0.7h-8.4zM457.0 385.4h9.1v0.7h-9.1zM457.0 387.1h8.8v0.7h-8.8zM457.0 388.9h11.4v0.7h-11.4zM457.0 390.7h11.8v0.7h-11.8zM457.0 392.4h7.8v0.7h-7.8zM457.0 394.2h7.9v0.7h-7.9zM457.0 396.0h8.2v0.7h-8.2zM457.0 397.7h8.2v0.7h-8.2zM457.0 399.5h9.4v0.7h-9.4zM457.0 401.3h9.9v0.7h-9.9zM457.0 403.1h8.3v0.7h-8.3zM457.0 404.8h7v0.7h-7zM457.0 406.6h9.1v0.7h-9.1zM457.0 408.4h8.8v0.7h-8.8zM457.0 410.1h9.8v0.7h-9.8zM457.0 411.9h11.8v0.7h-11.8zM457.0 413.7h10.5v0.7h-10.5zM457.0 415.4h9.6v0.7h-9.6zM457.0 417.2h10.1v0.7h-10.1zM457.0 419.0h10.4v0.7h-10.4zM457.0 420.8h7.3v0.7h-7.3zM457.0 422.5h11.5v0.7h-11.5zM457.0 424.3h10.9v0.7h-10.9zM457.0 426.1h11.4v0.7h-11.4z"/>
<g fill="#999"><rect x="334.5" y="429.5" width="1" height="5"/><rect x="356.5" y="429.5" width="1" height="5"/><rect x="378.5" y="429.5" width="1" height="5"/><rect x="400.5" y="429.5" width="1" height="5"/><rect x="422.5" y="429.5" width="1" height="5"/><rect x="444.5" y="429.5" width="1" height="5"/></g>
<defs><linearGradient id="hl" x1="0" y1="0" x2="0" y2="1"><stop offset="0" stop-color="#f00"/><stop offset="0.5" stop-color="#fff"/><stop offset="1" stop-color="#00f"/></linearGradient></defs>
<rect x="474.7" y="280.6" width="4.3" height="66.6" fill="url(#hl)"/>
<g font-size="4.8" fill="#222">
<text x="481" y="282.5">1.5</text>
<text x="481" y="293.1">1</text>
<text x="481" y="303.7">0.5</text>
<text x="481" y="314.3">0</text>
<text x="481" y="324.9">−0.5</text>
<text x="481" y="335.5">−1</text>
<text x="481" y="346.1">−1.5</text>
</g>
<text x="458" y="285" font-size="5.2" font-weight="bold" fill="#111">Group</text>
<text x="492.6" y="283.5" font-size="5.2" font-weight="bold" fill="#111">Group</text>
<rect x="492.6" y="285.5" width="7.5" height="7" fill="#00D0DC"/><rect x="492.6" y="292.5" width="7.5" height="7" fill="#F8877E"/>
<text x="501.5" y="291.3" font-size="5.2" fill="#222">Control</text><text x="501.5" y="298.5" font-size="5.2" fill="#222">IGP</text>
<polygon points="25.9,538.3 32.1,532.1 39.8,530.5 49.1,532.1 58.4,533.6 67.7,532.1 75.5,529.0 81.7,530.5 83.2,536.7 80.1,542.9 77.0,547.6 81.7,553.8 83.2,561.5 78.6,567.7 69.3,572.4 66.2,577.0 61.5,581.7 55.3,581.7 53.8,587.9 56.9,595.7 49.1,599.5 38.3,598.8 27.4,597.2 19.7,592.6 21.2,584.8 29.0,578.6 32.1,575.5 25.9,570.8 24.3,561.5 23.5,552.2 24.3,544.5" fill="#F1F1F1" stroke="#BDBDBD" stroke-width="0.6" stroke-linejoin="round"/>
<g fill="none" stroke="#D6D6D6" stroke-width="0.5">
<circle cx="33.6" cy="539.8" r="6.2"/>
<circle cx="46.0" cy="538.3" r="5.4"/>
<circle cx="61.5" cy="541.4" r="6.2"/>
<circle cx="75.5" cy="536.7" r="4.7"/>
<circle cx="30.5" cy="555.3" r="6.2"/>
<circle cx="73.9" cy="558.4" r="6.2"/>
<circle cx="38.3" cy="587.9" r="6.2"/>
<circle cx="50.7" cy="589.5" r="5.4"/>
<circle cx="27.4" cy="587.9" r="4.7"/>
<circle cx="64.6" cy="566.2" r="5.4"/>
</g>
<polygon points="42.1,535.2 53.8,532.8 56.1,538.3 49.1,541.4 42.9,540.6" fill="#45CFD8" />
<polyline points="55.3,538.3 66.2,536.7 77.0,534.4 80.1,537.5" fill="none" stroke="#5068E0" stroke-width="1.0" stroke-linejoin="round" stroke-linecap="round" />
<polyline points="50.7,546.0 56.9,549.1 58.4,553.8" fill="none" stroke="#6080E8" stroke-width="0.8" stroke-linejoin="round" stroke-linecap="round" />
<polygon points="29.7,549.1 70.8,556.9 72.4,560.0 30.5,552.2" fill="#C8C048" />
<polygon points="35.2,553.8 75.5,561.5 76.3,564.6 35.9,557.2" fill="#E0C060" />
<polygon points="29.7,558.4 52.2,561.5 66.2,564.6 64.6,567.7 30.5,561.5" fill="#A8D048" opacity="0.8"/>
<polygon points="33.6,566.2 55.3,567.7 67.7,568.5 68.5,573.2 53.8,572.4 33.6,571.6" fill="#48B048" />
<circle cx="44.5" cy="552.2" r="3.4" fill="#A050E0"/>
<circle cx="48.3" cy="556.9" r="2.8" fill="#A050E0"/>
<circle cx="42.1" cy="560.8" r="2.6" fill="#A050E0"/>
<circle cx="49.9" cy="563.9" r="2.5" fill="#A050E0"/>
<circle cx="46.0" cy="559.2" r="2.3" fill="#A050E0"/>
<polygon points="39.8,566.2 48.3,568.5 47.6,573.9 43.7,576.3 41.4,570.8" fill="#E05A40" />
<polygon points="36.7,561.5 46.0,560.0 47.6,564.6 38.3,566.2" fill="#F0A050" opacity="0.9"/>
<polyline points="24.3,589.5 33.6,583.2 46.0,581.7 55.3,577.0 66.2,580.1" fill="none" stroke="#E07858" stroke-width="0.6" stroke-linejoin="round" stroke-linecap="round" />
<polyline points="27.4,592.6 38.3,587.9 50.7,592.6 58.4,587.9" fill="none" stroke="#E88868" stroke-width="0.6" stroke-linejoin="round" stroke-linecap="round" />
<polygon points="21.2,581.7 27.4,579.4 30.5,581.7 24.3,584.8" fill="#D85A40" />
<rect x="33.3" y="542.1" width="33.7" height="30.2" fill="none" stroke="#555" stroke-width="0.4"/>
<g stroke="#8FA8E0" stroke-width="0.4"><line x1="77.8" y1="533.6" x2="103" y2="524.5"/><line x1="68.5" y1="574" x2="103" y2="590.5"/></g>
<clipPath id="zb"><rect x="103.1" y="524.3" width="66.5" height="66.40000000000009"/></clipPath>
<g clip-path="url(#zb)">
<rect x="103.1" y="524.3" width="66.5" height="66.40000000000009" fill="#fff"/>
<polygon points="103.4,530.5 114.3,529.0 122.0,536.7 115.8,546.0 111.2,555.3 117.4,566.2 123.6,573.9 129.8,586.4 123.6,591.0 103.4,591.0" fill="#74D49A" />
<polygon points="106.5,538.3 114.3,541.4 109.6,552.2 105.0,549.1" fill="#fff" opacity="0.85"/>
<polygon points="108.1,580.1 130.6,583.2 132.1,591.0 108.1,591.0" fill="#5CC65C" />
<polygon points="111.2,523.5 124.4,523.5 148.4,591.0 137.5,591.0" fill="#F0E47A" />
<polygon points="136.0,539.8 149.9,538.3 155.4,552.2 149.9,566.2 137.5,569.3 132.9,558.4" fill="#F4C9A6" />
<polygon points="140.6,591.0 155.4,549.9 163.1,553.0 152.3,591.0" fill="#E2B464" />
<polygon points="137.5,556.9 163.9,543.7 170.1,541.4 170.1,555.3 163.9,561.5 142.2,563.9" fill="#62B2F0" />
<polygon points="120.5,523.5 170.1,523.5 170.1,536.7 161.6,539.8 151.5,532.8 139.1,535.9 126.7,538.3 120.5,530.5" fill="#52D0E0" />
<polygon points="103.4,576.3 106.2,576.3 106.2,591.0 103.4,591.0" fill="#E05050" />
<polyline points="115.8,570.8 122.0,578.6 132.9,580.1 142.2,573.9 148.4,561.5 154.6,552.2 163.9,546.0" fill="none" stroke="#48B8E0" stroke-width="1.3" stroke-linejoin="round" stroke-linecap="round" />
<polyline points="123.6,553.8 132.9,550.7 142.2,552.2" fill="none" stroke="#48B8E0" stroke-width="1.0" stroke-linejoin="round" stroke-linecap="round" />
<polyline points="137.5,556.1 132.8,553.4 132.8,548.0 137.5,545.2 142.2,548.0 142.2,553.4 137.5,556.1" fill="none" stroke="#7E30E0" stroke-width="1.4" stroke-linejoin="round" stroke-linecap="round" />
<polyline points="129.0,566.5 124.3,563.1 126.1,557.5 131.9,557.5 133.7,563.1 129.0,566.5" fill="none" stroke="#7E30E0" stroke-width="1.4" stroke-linejoin="round" stroke-linecap="round" />
<polyline points="132.9,548.3 129.8,543.7 132.1,539.8" fill="none" stroke="#7E30E0" stroke-width="1.3" stroke-linejoin="round" stroke-linecap="round" />
<polyline points="132.1,566.2 134.4,573.9 135.2,574.7" fill="none" stroke="#7E30E0" stroke-width="1.3" stroke-linejoin="round" stroke-linecap="round" />
<polyline points="142.2,553.8 148.4,552.2 151.5,553.8" fill="none" stroke="#7E30E0" stroke-width="1.0" stroke-linejoin="round" stroke-linecap="round" />
<circle cx="132.1" cy="539.8" r="0.9" fill="#E02020"/>
<circle cx="135.2" cy="574.7" r="0.9" fill="#E02020"/>
<circle cx="143.7" cy="548.3" r="0.9" fill="#E02020"/>
<circle cx="139.1" cy="556.9" r="0.9" fill="#E02020"/>
</g>
<rect x="103.1" y="524.3" width="66.5" height="66.40000000000009" fill="none" stroke="#444" stroke-width="0.6"/>
<g font-size="5.5" text-anchor="middle" fill="#111"><text x="48.3" y="606.5">AHR</text><text x="135.7" y="606.5">Geniposide</text></g>
<path d="M-4.2,-2 A4.6,4.6 0 0 0 4.2,-2" transform="translate(227.9,518.4) rotate(11)" stroke="#E48A8A" stroke-width="1.9" fill="none"/>
<path d="M-4.2,-2 A4.6,4.6 0 0 0 4.2,-2" transform="translate(202.4,525.6) rotate(-27)" stroke="#E48A8A" stroke-width="1.9" fill="none"/>
<path d="M-4.2,-2 A4.6,4.6 0 0 0 4.2,-2" transform="translate(215.9,530.4) rotate(-8)" stroke="#E48A8A" stroke-width="1.9" fill="none"/>
<path d="M-4.2,-2 A4.6,4.6 0 0 0 4.2,-2" transform="translate(231.1,534.4) rotate(24)" stroke="#E48A8A" stroke-width="1.9" fill="none"/>
<path d="M-4.2,-2 A4.6,4.6 0 0 0 4.2,-2" transform="translate(241.5,538.4) rotate(45)" stroke="#E48A8A" stroke-width="1.9" fill="none"/>
<path d="M-4.2,-2 A4.6,4.6 0 0 0 4.2,-2" transform="translate(205.6,541.6) rotate(-38)" stroke="#E48A8A" stroke-width="1.9" fill="none"/>
<path d="M-4.2,-2 A4.6,4.6 0 0 0 4.2,-2" transform="translate(190.4,546.3) rotate(-65)" stroke="#E48A8A" stroke-width="1.9" fill="none"/>
<path d="M-4.2,-2 A4.6,4.6 0 0 0 4.2,-2" transform="translate(231.1,549.5) rotate(47)" stroke="#E48A8A" stroke-width="1.9" fill="none"/>
<path d="M-4.2,-2 A4.6,4.6 0 0 0 4.2,-2" transform="translate(242.3,560.7) rotate(-268)" stroke="#E48A8A" stroke-width="1.9" fill="none"/>
<path d="M-4.2,-2 A4.6,4.6 0 0 0 4.2,-2" transform="translate(204.8,571.9) rotate(-128)" stroke="#E48A8A" stroke-width="1.9" fill="none"/>
<path d="M-4.2,-2 A4.6,4.6 0 0 0 4.2,-2" transform="translate(197.6,583.9) rotate(-137)" stroke="#E48A8A" stroke-width="1.9" fill="none"/>
<path d="M-4.2,-2 A4.6,4.6 0 0 0 4.2,-2" transform="translate(231.1,583.9) rotate(-205)" stroke="#E48A8A" stroke-width="1.9" fill="none"/>
<path d="M-4.2,-2 A4.6,4.6 0 0 0 4.2,-2" transform="translate(219.1,589.5) rotate(-178)" stroke="#E48A8A" stroke-width="1.9" fill="none"/>
<path d="M-4.2,-2 A4.6,4.6 0 0 0 4.2,-2" transform="translate(239.1,595.1) rotate(-209)" stroke="#E48A8A" stroke-width="1.9" fill="none"/>
<path d="M-4.2,-2 A4.6,4.6 0 0 0 4.2,-2" transform="translate(204.8,594.3) rotate(-156)" stroke="#E48A8A" stroke-width="1.9" fill="none"/>
<path d="M-4.2,-2 A4.6,4.6 0 0 0 4.2,-2" transform="translate(227.1,600.7) rotate(-190)" stroke="#E48A8A" stroke-width="1.9" fill="none"/>
<g stroke="#9050E0" stroke-width="1.2">
<line x1="221.9" y1="535.2" x2="219.6" y2="540.0"/>
<line x1="219.6" y1="540.0" x2="222.8" y2="543.2"/>
<line x1="222.8" y1="543.2" x2="227.1" y2="543.5"/>
<line x1="222.8" y1="543.2" x2="221.2" y2="547.9"/>
<line x1="221.2" y1="547.9" x2="223.9" y2="551.9"/>
<line x1="223.9" y1="551.9" x2="221.9" y2="555.5"/>
<line x1="221.9" y1="555.5" x2="217.1" y2="557.0"/>
<line x1="217.1" y1="557.0" x2="214.3" y2="553.2"/>
<line x1="214.3" y1="553.2" x2="216.4" y2="548.7"/>
<line x1="216.4" y1="548.7" x2="221.2" y2="547.9"/>
<line x1="216.4" y1="548.7" x2="212.7" y2="545.9"/>
<line x1="212.7" y1="545.9" x2="208.8" y2="548.7"/>
<line x1="208.8" y1="548.7" x2="210.0" y2="553.2"/>
<line x1="210.0" y1="553.2" x2="214.3" y2="553.2"/>
<line x1="210.0" y1="553.2" x2="206.4" y2="557.0"/>
<line x1="206.4" y1="557.0" x2="208.8" y2="560.7"/>
<line x1="217.1" y1="557.0" x2="216.4" y2="561.5"/>
<line x1="216.4" y1="561.5" x2="218.3" y2="565.5"/>
<line x1="218.3" y1="565.5" x2="214.3" y2="568.7"/>
<line x1="214.3" y1="568.7" x2="215.9" y2="573.5"/>
<line x1="215.9" y1="573.5" x2="212.7" y2="577.5"/>
<line x1="212.7" y1="577.5" x2="215.1" y2="581.5"/>
<line x1="215.9" y1="573.5" x2="221.2" y2="575.1"/>
<line x1="221.2" y1="575.1" x2="222.3" y2="579.1"/>
<line x1="221.2" y1="575.1" x2="223.9" y2="571.1"/>
<line x1="223.9" y1="571.1" x2="228.7" y2="571.4"/>
<line x1="223.9" y1="571.1" x2="224.7" y2="566.3"/>
<line x1="224.7" y1="566.3" x2="218.3" y2="565.5"/>
<line x1="224.7" y1="566.3" x2="225.5" y2="562.3"/>
</g>
<circle cx="221.9" cy="535.2" r="1.1" fill="#111"/>
<circle cx="219.6" cy="540.0" r="1.1" fill="#E01818"/>
<circle cx="222.8" cy="543.2" r="1.1" fill="#111"/>
<circle cx="227.1" cy="543.5" r="1.1" fill="#E01818"/>
<circle cx="221.2" cy="547.9" r="1.1" fill="#111"/>
<circle cx="223.9" cy="551.9" r="1.1" fill="#111"/>
<circle cx="221.9" cy="555.5" r="1.1" fill="#E01818"/>
<circle cx="217.1" cy="557.0" r="1.1" fill="#111"/>
<circle cx="214.3" cy="553.2" r="1.1" fill="#111"/>
<circle cx="216.4" cy="548.7" r="1.1" fill="#111"/>
<circle cx="212.7" cy="545.9" r="1.1" fill="#111"/>
<circle cx="208.8" cy="548.7" r="1.1" fill="#111"/>
<circle cx="210.0" cy="553.2" r="1.1" fill="#111"/>
<circle cx="206.4" cy="557.0" r="1.1" fill="#111"/>
<circle cx="208.8" cy="560.7" r="1.1" fill="#E01818"/>
<circle cx="216.4" cy="561.5" r="1.1" fill="#E01818"/>
<circle cx="218.3" cy="565.5" r="1.1" fill="#111"/>
<circle cx="214.3" cy="568.7" r="1.1" fill="#E01818"/>
<circle cx="215.9" cy="573.5" r="1.1" fill="#111"/>
<circle cx="212.7" cy="577.5" r="1.1" fill="#111"/>
<circle cx="215.1" cy="581.5" r="1.1" fill="#E01818"/>
<circle cx="221.2" cy="575.1" r="1.1" fill="#111"/>
<circle cx="222.3" cy="579.1" r="1.1" fill="#E01818"/>
<circle cx="223.9" cy="571.1" r="1.1" fill="#111"/>
<circle cx="228.7" cy="571.4" r="1.1" fill="#E01818"/>
<circle cx="224.7" cy="566.3" r="1.1" fill="#111"/>
<circle cx="225.5" cy="562.3" r="1.1" fill="#E01818"/>
<polyline points="197.6,551.1 200.0,555.9 197.3,559.9 199.2,563.9" stroke="#E0A040" stroke-width="0.8" fill="none"/>
<circle cx="197.6" cy="551.1" r="0.8" fill="#2040E0"/>
<circle cx="200.0" cy="555.9" r="0.8" fill="#111"/>
<circle cx="197.3" cy="559.9" r="0.8" fill="#111"/>
<circle cx="199.2" cy="563.9" r="0.8" fill="#E02020"/>
<polyline points="239.9,567.9 240.7,572.7 244.7,574.3 248.7,571.1 253.5,572.7 255.1,577.5 251.9,580.7" stroke="#E0A040" stroke-width="0.8" fill="none"/>
<circle cx="239.9" cy="567.9" r="0.8" fill="#2040E0"/>
<circle cx="240.7" cy="572.7" r="0.8" fill="#111"/>
<circle cx="244.7" cy="574.3" r="0.8" fill="#111"/>
<circle cx="248.7" cy="571.1" r="0.8" fill="#111"/>
<circle cx="253.5" cy="572.7" r="0.8" fill="#111"/>
<circle cx="255.1" cy="577.5" r="0.8" fill="#111"/>
<circle cx="251.9" cy="580.7" r="0.8" fill="#E02020"/>
<g stroke="#60B060" stroke-width="0.4" stroke-dasharray="1 0.6"><line x1="199.3" y1="563.9" x2="208.7" y2="560"/><line x1="229.6" y1="571.2" x2="240" y2="568"/><line x1="229.6" y1="571.2" x2="236.4" y2="575.3"/></g>
<g fill="#666">
<rect x="225.9" y="515.5" width="5" height="0.8"/>
<rect x="198.8" y="523.1" width="5" height="0.8"/>
<rect x="213.2" y="528.2" width="5" height="0.8"/>
<rect x="229.3" y="532.4" width="5" height="0.8"/>
<rect x="240.3" y="536.7" width="5" height="0.8"/>
<rect x="202.2" y="540.1" width="5" height="0.8"/>
<rect x="186.1" y="545.1" width="5" height="0.8"/>
<rect x="229.3" y="548.5" width="5" height="0.8"/>
<rect x="241.1" y="560.4" width="5" height="0.8"/>
<rect x="201.3" y="572.2" width="5" height="0.8"/>
<rect x="193.7" y="584.9" width="5" height="0.8"/>
<rect x="229.3" y="584.9" width="5" height="0.8"/>
<rect x="216.6" y="590.8" width="5" height="0.8"/>
<rect x="237.8" y="596.8" width="5" height="0.8"/>
<rect x="201.3" y="595.9" width="5" height="0.8"/>
<rect x="225.1" y="602.7" width="5" height="0.8"/>
</g>
<rect x="293.6" y="522" width="93.89999999999998" height="75.20000000000005" fill="#fff" stroke="#999" stroke-width="0.5"/>
<polyline points="293.6,582.2 293.8,577.2 294.1,577.9 294.3,579.0 294.5,579.4 294.8,576.8 295.0,577.4 295.2,578.0 295.5,574.6 295.7,573.2 296.0,571.5 296.2,573.3 296.4,571.8 296.7,571.1 296.9,573.2 297.1,569.8 297.4,577.0 297.6,572.5 297.8,574.7 298.1,575.8 298.3,573.4 298.5,574.2 298.8,572.8 299.0,574.5 299.2,573.8 299.5,571.7 299.7,571.4 300.0,572.1 300.2,574.4 300.4,572.1 300.7,571.7 300.9,570.2 301.1,570.4 301.4,568.6 301.6,569.9 301.8,569.6 302.1,560.1 302.3,562.8 302.5,562.3 302.8,562.0 303.0,557.1 303.2,559.1 303.5,558.2 303.7,557.7 304.0,559.1 304.2,561.8 304.4,557.8 304.7,558.8 304.9,556.8 305.1,559.8 305.4,557.0 305.6,553.6 305.8,552.1 306.1,556.7 306.3,558.4 306.5,556.5 306.8,554.4 307.0,554.8 307.2,554.6 307.5,557.0 307.7,554.9 308.0,553.1 308.2,555.4 308.4,558.1 308.7,557.8 308.9,554.8 309.1,558.5 309.4,556.7 309.6,557.7 309.8,556.5 310.1,556.2 310.3,555.7 310.5,552.7 310.8,553.7 311.0,552.3 311.3,554.6 311.5,556.0 311.7,554.9 312.0,560.6 312.2,557.3 312.4,555.8 312.7,557.9 312.9,555.4 313.1,556.5 313.4,566.7 313.6,563.8 313.8,564.3 314.1,563.6 314.3,562.6 314.5,559.7 314.8,560.8 315.0,561.4 315.3,560.9 315.5,564.8 315.7,560.4 316.0,563.3 316.2,555.2 316.4,557.4 316.7,558.0 316.9,557.1 317.1,552.4 317.4,553.1 317.6,555.7 317.8,556.1 318.1,557.8 318.3,556.3 318.5,556.8 318.8,554.6 319.0,557.7 319.3,556.8 319.5,557.5 319.7,557.5 320.0,554.8 320.2,555.0 320.4,554.2 320.7,552.7 320.9,552.3 321.1,556.9 321.4,554.9 321.6,558.6 321.8,556.6 322.1,552.2 322.3,554.7 322.5,555.9 322.8,555.3 323.0,555.3 323.3,555.3 323.5,556.8 323.7,553.9 324.0,553.2 324.2,555.0 324.4,554.7 324.7,553.9 324.9,553.0 325.1,553.8 325.4,553.6 325.6,555.3 325.8,557.4 326.1,557.0 326.3,554.1 326.5,553.1 326.8,554.3 327.0,556.1 327.3,555.1 327.5,552.2 327.7,551.7 328.0,555.4 328.2,555.5 328.4,558.2 328.7,558.5 328.9,556.2 329.1,555.6 329.4,553.7 329.6,552.4 329.8,552.8 330.1,552.0 330.3,555.3 330.5,557.5 330.8,555.2 331.0,550.3 331.3,567.6 331.5,571.3 331.7,570.0 332.0,567.4 332.2,571.1 332.4,568.9 332.7,570.8 332.9,567.9 333.1,553.2 333.4,554.1 333.6,551.2 333.8,554.7 334.1,556.5 334.3,552.3 334.5,556.0 334.8,551.5 335.0,554.1 335.3,556.9 335.5,555.9 335.7,555.4 336.0,555.0 336.2,555.6 336.4,553.5 336.7,559.1 336.9,557.8 337.1,556.7 337.4,552.5 337.6,558.1 337.8,557.0 338.1,558.1 338.3,557.6 338.5,555.0 338.8,554.5 339.0,552.4 339.3,555.5 339.5,554.9 339.7,553.0 340.0,552.9 340.2,555.2 340.4,553.2 340.7,556.4 340.9,552.4 341.1,554.1 341.4,555.2 341.6,554.8 341.8,553.6 342.1,551.5 342.3,554.3 342.6,555.7 342.8,554.4 343.0,563.0 343.3,565.3 343.5,561.4 343.7,562.3 344.0,559.8 344.2,563.0 344.4,567.6 344.7,563.2 344.9,561.9 345.1,558.8 345.4,559.7 345.6,560.4 345.8,560.1 346.1,561.8 346.3,555.3 346.6,557.9 346.8,555.3 347.0,556.9 347.3,556.8 347.5,554.6 347.7,553.4 348.0,556.6 348.2,552.1 348.4,555.4 348.7,553.8 348.9,553.1 349.1,554.2 349.4,554.7 349.6,551.8 349.8,552.5 350.1,553.6 350.3,558.2 350.6,557.8 350.8,554.1 351.0,554.6 351.3,556.9 351.5,557.2 351.7,556.6 352.0,554.5 352.2,554.4 352.4,553.2 352.7,556.2 352.9,553.8 353.1,555.8 353.4,556.1 353.6,552.4 353.8,554.2 354.1,555.3 354.3,555.8 354.6,556.3 354.8,552.8 355.0,551.9 355.3,552.8 355.5,554.2 355.7,553.0 356.0,554.7 356.2,554.3 356.4,554.3 356.7,554.9 356.9,552.1 357.1,554.3 357.4,554.7 357.6,560.9 357.8,556.1 358.1,556.5 358.3,558.8 358.6,558.8 358.8,556.6 359.0,555.8 359.3,556.1 359.5,557.6 359.7,558.3 360.0,557.0 360.2,558.3 360.4,560.3 360.7,560.5 360.9,559.6 361.1,558.4 361.4,554.4 361.6,559.8 361.8,558.2 362.1,558.8 362.3,558.2 362.6,556.0 362.8,555.5 363.0,557.9 363.3,559.5 363.5,561.6 363.7,559.9 364.0,556.8 364.2,558.6 364.4,557.4 364.7,556.9 364.9,557.4 365.1,556.2 365.4,558.1 365.6,560.1 365.8,561.4 366.1,558.0 366.3,559.2 366.6,559.5 366.8,557.4 367.0,559.8 367.3,555.8 367.5,556.5 367.7,559.0 368.0,560.0 368.2,557.2 368.4,560.4 368.7,560.6 368.9,559.4 369.1,558.6 369.4,558.7 369.6,558.0 369.8,559.2 370.1,559.1 370.3,556.5 370.6,556.8 370.8,558.9 371.0,555.6 371.3,561.4 371.5,559.5 371.7,557.8 372.0,556.6 372.2,557.8 372.4,559.1 372.7,557.8 372.9,558.8 373.1,557.9 373.4,563.8 373.6,559.8 373.9,560.6 374.1,557.6 374.3,557.0 374.6,556.8 374.8,558.8 375.0,558.0 375.3,559.1 375.5,558.5 375.7,558.9 376.0,560.5 376.2,555.6 376.4,556.3 376.7,561.8 376.9,558.1 377.1,561.2 377.4,560.0 377.6,560.3 377.9,560.3 378.1,558.9 378.3,559.4 378.6,561.7 378.8,559.8 379.0,558.4 379.3,555.3 379.5,558.3 379.7,560.9 380.0,560.2 380.2,558.0 380.4,560.2 380.7,560.6 380.9,558.4 381.1,558.6 381.4,558.3 381.6,559.8 381.9,560.7 382.1,560.0 382.3,559.5 382.6,559.7 382.8,558.3 383.0,557.6 383.3,557.3 383.5,557.4 383.7,559.9 384.0,561.3 384.2,558.1 384.4,558.5 384.7,558.5 384.9,560.8 385.1,559.9 385.4,560.4 385.6,560.9 385.9,560.7 386.1,562.3 386.3,559.8 386.6,556.9 386.8,559.5 387.0,558.8 387.3,560.8 387.5,558.2" fill="none" stroke="#0072BD" stroke-width="0.7"/>
<polyline points="293.6,566.1 293.8,569.4 294.1,568.6 294.3,568.4 294.5,567.0 294.8,570.0 295.0,569.2 295.2,569.2 295.5,569.5 295.7,569.0 296.0,568.0 296.2,567.1 296.4,567.5 296.7,565.2 296.9,565.8 297.1,570.2 297.4,564.2 297.6,564.5 297.8,564.9 298.1,563.1 298.3,562.4 298.5,562.1 298.8,563.3 299.0,561.8 299.2,563.9 299.5,559.4 299.7,562.1 300.0,561.1 300.2,560.1 300.4,559.2 300.7,559.4 300.9,558.0 301.1,564.1 301.4,560.4 301.6,558.9 301.8,558.6 302.1,555.0 302.3,557.7 302.5,556.9 302.8,559.6 303.0,556.5 303.2,558.8 303.5,559.4 303.7,553.1 304.0,553.6 304.2,555.0 304.4,555.2 304.7,558.0 304.9,558.3 305.1,555.9 305.4,559.4 305.6,556.6 305.8,559.0 306.1,556.7 306.3,558.0 306.5,553.6 306.8,553.3 307.0,555.8 307.2,559.0 307.5,558.2 307.7,556.7 308.0,557.8 308.2,556.0 308.4,554.2 308.7,555.3 308.9,556.3 309.1,554.6 309.4,555.9 309.6,554.4 309.8,555.8 310.1,553.0 310.3,555.3 310.5,557.4 310.8,556.2 311.0,557.0 311.3,557.8 311.5,556.7 311.7,554.8 312.0,559.1 312.2,557.0 312.4,556.4 312.7,556.2 312.9,554.6 313.1,557.6 313.4,555.3 313.6,556.0 313.8,555.6 314.1,556.1 314.3,556.4 314.5,556.9 314.8,555.4 315.0,552.0 315.3,552.6 315.5,553.2 315.7,553.9 316.0,555.9 316.2,554.7 316.4,551.8 316.7,556.5 316.9,554.6 317.1,553.6 317.4,554.5 317.6,553.9 317.8,552.7 318.1,550.9 318.3,551.8 318.5,551.5 318.8,553.6 319.0,553.5 319.3,554.6 319.5,554.8 319.7,556.1 320.0,554.6 320.2,552.8 320.4,554.9 320.7,554.9 320.9,554.3 321.1,555.1 321.4,553.8 321.6,554.5 321.8,557.2 322.1,557.9 322.3,555.1 322.5,554.3 322.8,553.3 323.0,554.3 323.3,554.8 323.5,557.9 323.7,554.0 324.0,556.5 324.2,554.1 324.4,556.7 324.7,556.6 324.9,555.1 325.1,555.4 325.4,555.9 325.6,553.2 325.8,552.5 326.1,552.6 326.3,553.7 326.5,554.8 326.8,554.4 327.0,554.3 327.3,553.2 327.5,551.4 327.7,552.2 328.0,553.4 328.2,553.3 328.4,550.0 328.7,550.6 328.9,550.5 329.1,550.3 329.4,549.5 329.6,549.9 329.8,548.2 330.1,548.0 330.3,554.0 330.5,551.4 330.8,545.1 331.0,549.9 331.3,549.3 331.5,547.7 331.7,549.0 332.0,547.4 332.2,551.4 332.4,552.8 332.7,551.7 332.9,552.4 333.1,553.3 333.4,551.0 333.6,550.8 333.8,551.4 334.1,552.4 334.3,551.7 334.5,552.3 334.8,553.6 335.0,552.2 335.3,552.0 335.5,552.6 335.7,551.9 336.0,556.8 336.2,556.2 336.4,556.6 336.7,553.6 336.9,553.9 337.1,551.4 337.4,551.4 337.6,554.6 337.8,557.0 338.1,555.2 338.3,555.8 338.5,555.8 338.8,557.3 339.0,555.1 339.3,555.0 339.5,554.6 339.7,554.6 340.0,556.6 340.2,559.6 340.4,557.3 340.7,557.2 340.9,556.9 341.1,554.3 341.4,555.2 341.6,552.8 341.8,554.2 342.1,553.8 342.3,554.0 342.6,553.6 342.8,556.9 343.0,554.1 343.3,554.8 343.5,556.8 343.7,554.9 344.0,554.7 344.2,553.0 344.4,553.4 344.7,554.1 344.9,557.7 345.1,553.4 345.4,552.2 345.6,553.0 345.8,553.8 346.1,552.8 346.3,556.0 346.6,554.4 346.8,555.0 347.0,557.0 347.3,555.3 347.5,554.8 347.7,552.4 348.0,552.8 348.2,557.2 348.4,559.3 348.7,556.9 348.9,556.3 349.1,557.3 349.4,558.5 349.6,556.8 349.8,557.8 350.1,557.4 350.3,554.7 350.6,554.8 350.8,556.5 351.0,557.7 351.3,556.5 351.5,552.9 351.7,555.4 352.0,552.5 352.2,555.7 352.4,555.9 352.7,554.4 352.9,556.4 353.1,555.7 353.4,557.8 353.6,555.1 353.8,553.4 354.1,555.8 354.3,555.2 354.6,556.0 354.8,559.2 355.0,552.2 355.3,553.2 355.5,553.3 355.7,554.0 356.0,554.6 356.2,551.2 356.4,557.0 356.7,556.5 356.9,556.5 357.1,556.1 357.4,554.5 357.6,556.3 357.8,558.0 358.1,558.2 358.3,555.6 358.6,553.9 358.8,553.5 359.0,552.1 359.3,555.1 359.5,551.5 359.7,551.5 360.0,552.9 360.2,554.3 360.4,552.1 360.7,553.9 360.9,553.9 361.1,555.0 361.4,550.8 361.6,552.3 361.8,553.6 362.1,553.5 362.3,553.5 362.6,552.9 362.8,555.7 363.0,555.7 363.3,552.9 363.5,551.0 363.7,553.8 364.0,552.8 364.2,553.6 364.4,556.7 364.7,554.5 364.9,555.0 365.1,551.9 365.4,552.6 365.6,552.5 365.8,554.9 366.1,553.0 366.3,555.8 366.6,553.1 366.8,550.2 367.0,553.5 367.3,551.2 367.5,549.4 367.7,551.5 368.0,550.0 368.2,551.2 368.4,552.5 368.7,555.5 368.9,555.0 369.1,555.4 369.4,549.1 369.6,550.4 369.8,551.6 370.1,553.9 370.3,549.6 370.6,552.9 370.8,549.6 371.0,549.1 371.3,550.6 371.5,552.3 371.7,551.8 372.0,553.8 372.2,551.2 372.4,548.5 372.7,548.8 372.9,548.7 373.1,551.5 373.4,550.8 373.6,552.8 373.9,552.5 374.1,550.4 374.3,546.7 374.6,549.4 374.8,550.4 375.0,554.0 375.3,551.7 375.5,552.7 375.7,553.9 376.0,554.4 376.2,551.8 376.4,551.8 376.7,550.0 376.9,550.8 377.1,550.7 377.4,548.2 377.6,548.4 377.9,548.5 378.1,547.4 378.3,549.0 378.6,551.6 378.8,552.2 379.0,553.6 379.3,550.9 379.5,551.2 379.7,549.8 380.0,548.7 380.2,551.0 380.4,550.2 380.7,548.0 380.9,549.2 381.1,548.2 381.4,549.7 381.6,551.5 381.9,550.9 382.1,553.4 382.3,550.0 382.6,550.8 382.8,547.9 383.0,551.2 383.3,550.1 383.5,549.3 383.7,549.9 384.0,549.1 384.2,550.7 384.4,551.8 384.7,552.7 384.9,551.6 385.1,551.6 385.4,549.8 385.6,550.2 385.9,550.8 386.1,551.1 386.3,553.1 386.6,551.2 386.8,549.2 387.0,551.5 387.3,550.4 387.5,548.4" fill="none" stroke="#D95319" stroke-width="0.7"/>
<polyline points="293.6,585.4 293.8,583.9 294.1,586.1 294.3,584.4 294.5,585.4 294.8,585.8 295.0,583.2 295.2,584.5 295.5,585.2 295.7,584.4 296.0,583.7 296.2,584.8 296.4,584.5 296.7,586.3 296.9,586.2 297.1,586.2 297.4,587.3 297.6,588.0 297.8,588.3 298.1,586.7 298.3,586.0 298.5,586.0 298.8,585.5 299.0,587.1 299.2,586.0 299.5,585.3 299.7,584.4 300.0,586.0 300.2,586.1 300.4,588.1 300.7,586.9 300.9,588.6 301.1,588.2 301.4,584.9 301.6,587.9 301.8,585.2 302.1,584.8 302.3,585.5 302.5,584.7 302.8,584.4 303.0,583.6 303.2,584.9 303.5,585.8 303.7,586.2 304.0,586.8 304.2,585.8 304.4,586.4 304.7,584.2 304.9,587.2 305.1,587.2 305.4,587.1 305.6,588.4 305.8,583.9 306.1,587.7 306.3,586.4 306.5,586.2 306.8,583.4 307.0,587.0 307.2,584.4 307.5,585.7 307.7,585.5 308.0,586.0 308.2,584.6 308.4,586.3 308.7,585.6 308.9,584.8 309.1,582.6 309.4,587.2 309.6,583.9 309.8,583.4 310.1,585.0 310.3,584.6 310.5,585.4 310.8,583.1 311.0,584.0 311.3,584.9 311.5,585.2 311.7,585.3 312.0,585.3 312.2,586.1 312.4,582.8 312.7,586.6 312.9,590.0 313.1,586.8 313.4,585.7 313.6,584.7 313.8,585.1 314.1,585.1 314.3,584.5 314.5,583.5 314.8,584.9 315.0,585.3 315.3,582.6 315.5,583.4 315.7,585.5 316.0,582.1 316.2,582.9 316.4,584.9 316.7,586.3 316.9,584.9 317.1,585.9 317.4,586.5 317.6,587.0 317.8,586.2 318.1,583.8 318.3,585.0 318.5,586.6 318.8,584.5 319.0,584.6 319.3,583.6 319.5,582.8 319.7,584.2 320.0,584.7 320.2,584.7 320.4,586.1 320.7,584.3 320.9,582.8 321.1,583.8 321.4,584.6 321.6,585.0 321.8,585.7 322.1,586.0 322.3,585.6 322.5,586.0 322.8,585.6 323.0,586.9 323.3,585.0 323.5,584.6 323.7,586.0 324.0,588.0 324.2,585.7 324.4,583.6 324.7,585.1 324.9,585.3 325.1,585.5 325.4,584.0 325.6,585.5 325.8,583.6 326.1,584.6 326.3,583.3 326.5,584.0 326.8,584.6 327.0,586.4 327.3,586.0 327.5,585.3 327.7,583.9 328.0,583.9 328.2,585.1 328.4,584.1 328.7,583.1 328.9,584.1 329.1,584.8 329.4,585.0 329.6,583.6 329.8,583.4 330.1,585.2 330.3,584.2 330.5,584.9 330.8,585.5 331.0,583.2 331.3,582.9 331.5,584.7 331.7,584.4 332.0,583.7 332.2,584.9 332.4,584.6 332.7,583.6 332.9,586.3 333.1,584.6 333.4,583.4 333.6,583.3 333.8,585.6 334.1,584.3 334.3,585.3 334.5,583.9 334.8,583.3 335.0,583.6 335.3,585.0 335.5,585.2 335.7,583.5 336.0,585.1 336.2,583.9 336.4,583.4 336.7,584.2 336.9,581.2 337.1,583.0 337.4,581.1 337.6,585.6 337.8,587.4 338.1,584.0 338.3,583.3 338.5,584.2 338.8,584.2 339.0,586.5 339.3,585.7 339.5,585.9 339.7,585.0 340.0,583.3 340.2,583.7 340.4,583.5 340.7,584.7 340.9,584.8 341.1,584.2 341.4,584.4 341.6,582.6 341.8,584.6 342.1,581.8 342.3,584.5 342.6,582.8 342.8,584.5 343.0,582.1 343.3,583.1 343.5,583.2 343.7,582.7 344.0,584.3 344.2,585.4 344.4,587.0 344.7,583.4 344.9,584.6 345.1,584.9 345.4,584.3 345.6,581.5 345.8,585.2 346.1,584.0 346.3,584.4 346.6,583.4 346.8,585.9 347.0,585.1 347.3,583.2 347.5,581.7 347.7,581.1 348.0,583.9 348.2,583.8 348.4,583.9 348.7,585.6 348.9,586.2 349.1,583.7 349.4,583.4 349.6,583.8 349.8,582.2 350.1,584.5 350.3,583.3 350.6,583.6 350.8,583.7 351.0,583.1 351.3,583.3 351.5,583.2 351.7,583.2 352.0,581.1 352.2,583.2 352.4,582.2 352.7,582.4 352.9,583.6 353.1,582.6 353.4,584.4 353.6,582.4 353.8,584.2 354.1,584.4 354.3,583.5 354.6,582.5 354.8,582.1 355.0,581.9 355.3,583.3 355.5,584.7 355.7,583.3 356.0,583.1 356.2,584.6 356.4,582.7 356.7,583.0 356.9,584.5 357.1,583.3 357.4,585.1 357.6,585.2 357.8,583.6 358.1,585.5 358.3,584.1 358.6,585.4 358.8,583.2 359.0,584.3 359.3,583.5 359.5,585.4 359.7,584.5 360.0,582.6 360.2,582.6 360.4,585.4 360.7,583.0 360.9,582.1 361.1,583.4 361.4,581.6 361.6,584.1 361.8,583.7 362.1,582.1 362.3,581.3 362.6,581.0 362.8,583.9 363.0,585.8 363.3,583.7 363.5,585.2 363.7,584.2 364.0,585.2 364.2,582.6 364.4,582.1 364.7,582.2 364.9,582.9 365.1,583.1 365.4,583.6 365.6,582.9 365.8,582.8 366.1,582.5 366.3,583.5 366.6,580.9 366.8,582.1 367.0,581.1 367.3,580.8 367.5,583.5 367.7,585.4 368.0,582.4 368.2,583.4 368.4,583.1 368.7,583.5 368.9,583.1 369.1,584.6 369.4,583.8 369.6,583.9 369.8,583.4 370.1,586.2 370.3,583.1 370.6,582.7 370.8,585.1 371.0,584.7 371.3,583.6 371.5,582.5 371.7,582.9 372.0,581.3 372.2,582.4 372.4,584.1 372.7,584.2 372.9,582.5 373.1,583.6 373.4,582.2 373.6,581.4 373.9,581.7 374.1,581.3 374.3,582.6 374.6,582.9 374.8,583.7 375.0,584.0 375.3,585.3 375.5,584.5 375.7,584.8 376.0,585.4 376.2,583.6 376.4,582.6 376.7,583.2 376.9,581.3 377.1,581.2 377.4,581.0 377.6,583.0 377.9,584.8 378.1,582.8 378.3,582.5 378.6,581.8 378.8,582.0 379.0,581.0 379.3,582.5 379.5,581.9 379.7,583.6 380.0,586.0 380.2,584.5 380.4,581.5 380.7,584.4 380.9,582.1 381.1,583.4 381.4,583.5 381.6,583.0 381.9,582.6 382.1,583.9 382.3,583.0 382.6,582.3 382.8,581.5 383.0,583.2 383.3,580.9 383.5,579.7 383.7,578.6 384.0,582.9 384.2,582.6 384.4,585.0 384.7,583.0 384.9,582.1 385.1,583.9 385.4,585.1 385.6,583.2 385.9,582.1 386.1,583.4 386.3,583.2 386.6,586.0 386.8,584.7 387.0,583.1 387.3,582.6 387.5,580.6" fill="none" stroke="#EDB120" stroke-width="0.7"/>
<polyline points="293.6,590.5 293.8,590.3 294.1,590.7 294.3,590.4 294.5,590.0 294.8,590.1 295.0,589.6 295.2,590.6 295.5,590.5 295.7,590.8 296.0,591.0 296.2,590.8 296.4,590.5 296.7,590.3 296.9,590.1 297.1,589.2 297.4,589.6 297.6,591.0 297.8,590.5 298.1,590.8 298.3,590.8 298.5,589.9 298.8,590.4 299.0,591.4 299.2,590.6 299.5,590.6 299.7,591.1 300.0,591.1 300.2,591.0 300.4,590.6 300.7,590.7 300.9,590.5 301.1,589.5 301.4,590.5 301.6,590.8 301.8,590.7 302.1,590.0 302.3,590.6 302.5,589.7 302.8,590.8 303.0,591.1 303.2,590.6 303.5,590.9 303.7,590.9 304.0,590.3 304.2,590.0 304.4,590.2 304.7,590.4 304.9,589.7 305.1,589.9 305.4,590.3 305.6,589.7 305.8,590.6 306.1,590.3 306.3,590.0 306.5,590.2 306.8,590.6 307.0,590.2 307.2,590.6 307.5,590.7 307.7,591.0 308.0,589.9 308.2,590.4 308.4,589.8 308.7,589.9 308.9,590.3 309.1,590.0 309.4,590.1 309.6,590.1 309.8,590.9 310.1,590.5 310.3,589.9 310.5,589.9 310.8,589.7 311.0,589.3 311.3,589.7 311.5,589.1 311.7,590.6 312.0,590.5 312.2,591.6 312.4,590.3 312.7,590.2 312.9,589.4 313.1,590.1 313.4,591.2 313.6,589.9 313.8,590.8 314.1,591.1 314.3,590.6 314.5,590.1 314.8,590.4 315.0,590.2 315.3,591.2 315.5,589.7 315.7,590.1 316.0,590.1 316.2,589.9 316.4,590.0 316.7,590.0 316.9,590.6 317.1,590.4 317.4,590.0 317.6,589.6 317.8,590.1 318.1,590.1 318.3,590.0 318.5,589.8 318.8,590.0 319.0,590.2 319.3,590.4 319.5,589.7 319.7,589.9 320.0,590.0 320.2,588.4 320.4,589.1 320.7,589.4 320.9,589.8 321.1,590.5 321.4,589.7 321.6,590.0 321.8,590.1 322.1,589.6 322.3,589.4 322.5,589.8 322.8,590.0 323.0,589.0 323.3,589.4 323.5,590.4 323.7,589.8 324.0,589.9 324.2,590.0 324.4,589.7 324.7,589.9 324.9,589.0 325.1,589.6 325.4,589.8 325.6,589.4 325.8,590.1 326.1,589.6 326.3,589.9 326.5,589.4 326.8,590.3 327.0,589.9 327.3,590.8 327.5,590.5 327.7,590.2 328.0,589.9 328.2,589.0 328.4,588.8 328.7,590.3 328.9,590.5 329.1,589.6 329.4,589.7 329.6,590.6 329.8,590.0 330.1,590.6 330.3,590.6 330.5,590.9 330.8,590.4 331.0,589.0 331.3,589.5 331.5,589.9 331.7,588.7 332.0,589.8 332.2,590.0 332.4,590.1 332.7,589.8 332.9,590.1 333.1,589.3 333.4,589.9 333.6,589.7 333.8,589.8 334.1,590.3 334.3,590.6 334.5,590.2 334.8,591.2 335.0,590.4 335.3,590.1 335.5,589.9 335.7,590.0 336.0,589.8 336.2,590.1 336.4,589.7 336.7,590.7 336.9,589.7 337.1,590.3 337.4,589.8 337.6,590.1 337.8,590.2 338.1,590.4 338.3,589.4 338.5,590.3 338.8,590.6 339.0,590.1 339.3,589.8 339.5,589.9 339.7,590.4 340.0,590.4 340.2,589.6 340.4,590.3 340.7,589.7 340.9,589.5 341.1,589.7 341.4,590.4 341.6,589.1 341.8,589.5 342.1,589.7 342.3,590.0 342.6,590.4 342.8,590.2 343.0,589.9 343.3,590.3 343.5,589.9 343.7,589.3 344.0,589.4 344.2,589.7 344.4,589.3 344.7,589.2 344.9,589.1 345.1,590.0 345.4,590.8 345.6,589.8 345.8,589.8 346.1,590.0 346.3,589.6 346.6,590.0 346.8,590.2 347.0,589.0 347.3,590.3 347.5,589.6 347.7,589.2 348.0,588.7 348.2,589.3 348.4,589.4 348.7,590.1 348.9,589.9 349.1,590.9 349.4,590.4 349.6,590.0 349.8,589.9 350.1,590.0 350.3,589.3 350.6,590.4 350.8,589.9 351.0,590.0 351.3,589.8 351.5,589.7 351.7,588.8 352.0,589.9 352.2,589.1 352.4,588.8 352.7,589.5 352.9,589.9 353.1,590.4 353.4,590.4 353.6,588.9 353.8,590.5 354.1,589.8 354.3,590.1 354.6,588.9 354.8,589.3 355.0,590.2 355.3,590.1 355.5,589.7 355.7,589.6 356.0,590.1 356.2,590.0 356.4,590.0 356.7,589.5 356.9,589.5 357.1,589.5 357.4,589.9 357.6,589.3 357.8,589.8 358.1,590.1 358.3,590.0 358.6,589.9 358.8,589.9 359.0,590.7 359.3,589.3 359.5,589.2 359.7,588.8 360.0,589.5 360.2,589.2 360.4,589.4 360.7,589.5 360.9,588.7 361.1,589.6 361.4,589.3 361.6,590.4 361.8,589.6 362.1,589.7 362.3,590.1 362.6,590.1 362.8,590.8 363.0,590.5 363.3,589.8 363.5,591.0 363.7,589.5 364.0,589.1 364.2,589.8 364.4,590.4 364.7,590.5 364.9,590.5 365.1,590.3 365.4,588.7 365.6,589.8 365.8,589.3 366.1,588.8 366.3,589.8 366.6,589.8 366.8,589.3 367.0,589.8 367.3,589.0 367.5,588.3 367.7,589.1 368.0,589.8 368.2,589.3 368.4,589.3 368.7,589.8 368.9,589.7 369.1,589.5 369.4,589.3 369.6,588.8 369.8,589.5 370.1,590.1 370.3,590.5 370.6,588.9 370.8,589.5 371.0,589.7 371.3,588.3 371.5,588.5 371.7,588.0 372.0,589.0 372.2,589.7 372.4,589.8 372.7,589.3 372.9,589.2 373.1,589.2 373.4,588.2 373.6,588.3 373.9,589.6 374.1,589.3 374.3,589.1 374.6,589.7 374.8,588.4 375.0,588.6 375.3,588.4 375.5,589.3 375.7,590.0 376.0,589.2 376.2,589.4 376.4,589.7 376.7,589.6 376.9,589.4 377.1,589.3 377.4,589.5 377.6,589.2 377.9,587.9 378.1,588.3 378.3,589.2 378.6,588.3 378.8,589.2 379.0,590.1 379.3,590.3 379.5,590.7 379.7,589.3 380.0,589.9 380.2,590.3 380.4,590.0 380.7,589.7 380.9,590.1 381.1,589.9 381.4,589.5 381.6,589.1 381.9,589.7 382.1,589.2 382.3,589.2 382.6,589.0 382.8,589.5 383.0,590.0 383.3,589.1 383.5,588.9 383.7,589.5 384.0,589.8 384.2,589.1 384.4,588.2 384.7,588.7 384.9,587.8 385.1,588.6 385.4,588.9 385.6,588.9 385.9,588.6 386.1,589.8 386.3,589.4 386.6,588.7 386.8,589.9 387.0,589.4 387.3,588.9 387.5,588.3" fill="none" stroke="#7E2F8E" stroke-width="0.8"/>
<g font-size="3.6" fill="#555" text-anchor="end" style="font-family:'Liberation Sans',sans-serif">
<text x="292.1" y="598.4">0</text>
<text x="292.1" y="590.0">0.2</text>
<text x="292.1" y="581.7">0.4</text>
<text x="292.1" y="573.3">0.6</text>
<text x="292.1" y="565.0">0.8</text>
<text x="292.1" y="556.6">1</text>
<text x="292.1" y="548.3">1.2</text>
<text x="292.1" y="539.9">1.4</text>
<text x="292.1" y="531.6">1.6</text>
<text x="292.1" y="523.2">1.8</text>
</g><g font-size="3.6" fill="#555" text-anchor="middle" style="font-family:'Liberation Sans',sans-serif">
<text x="293.6" y="601.7">0</text>
<text x="303.0" y="601.7">20</text>
<text x="312.4" y="601.7">40</text>
<text x="321.8" y="601.7">60</text>
<text x="331.2" y="601.7">80</text>
<text x="340.6" y="601.7">100</text>
<text x="349.9" y="601.7">120</text>
<text x="359.3" y="601.7">140</text>
<text x="368.7" y="601.7">160</text>
<text x="378.1" y="601.7">180</text>
<text x="387.5" y="601.7">200</text>
<text x="340.6" y="605.7" font-size="4.2">Time(ns)</text>
<text transform="translate(285.1,559.6) rotate(-90)" font-size="4">RMSD(nm)</text>
</g>
<rect x="340.9" y="525.1" width="45.0" height="15.5" fill="#fff" stroke="#666" stroke-width="0.4"/>
<line x1="342" y1="528.5" x2="347" y2="528.5" stroke="#0072BD" stroke-width="0.6"/><text x="348" y="529.5" font-size="2.6" fill="#444" style="font-family:'Liberation Sans',sans-serif">AHR</text>
<line x1="342" y1="532" x2="347" y2="532" stroke="#D95319" stroke-width="0.6"/><text x="348" y="533" font-size="2.6" fill="#444" style="font-family:'Liberation Sans',sans-serif">Geniposide-AHR</text>
<line x1="342" y1="535.5" x2="347" y2="535.5" stroke="#EDB120" stroke-width="0.6"/><text x="348" y="536.5" font-size="2.6" fill="#444" style="font-family:'Liberation Sans',sans-serif">Geniposide-AHR pocket</text>
<line x1="342" y1="539" x2="347" y2="539" stroke="#7E2F8E" stroke-width="0.6"/><text x="348" y="540" font-size="2.6" fill="#444" style="font-family:'Liberation Sans',sans-serif">Geniposide ligand</text>
<rect x="422.8" y="522" width="93.90000000000003" height="74.39999999999998" fill="#fff" stroke="#999" stroke-width="0.5"/>
<polyline points="422.8,537.4 423.0,537.8 423.3,537.1 423.5,538.1 423.7,537.6 424.0,538.3 424.2,537.2 424.4,537.3 424.7,536.9 424.9,537.7 425.2,537.8 425.4,538.4 425.6,539.0 425.9,539.2 426.1,540.1 426.3,540.3 426.6,540.3 426.8,540.8 427.0,541.5 427.3,540.9 427.5,541.8 427.7,542.6 428.0,542.8 428.2,543.2 428.4,543.4 428.7,543.5 428.9,542.6 429.2,543.1 429.4,543.2 429.6,543.0 429.9,542.2 430.1,542.8 430.3,543.1 430.6,541.9 430.8,543.0 431.0,543.0 431.3,542.5 431.5,541.7 431.7,542.9 432.0,544.0 432.2,544.7 432.4,544.9 432.7,544.9 432.9,544.6 433.2,544.6 433.4,544.6 433.6,544.9 433.9,544.3 434.1,544.0 434.3,544.6 434.6,544.9 434.8,544.6 435.0,544.6 435.3,545.2 435.5,545.2 435.7,544.6 436.0,544.8 436.2,545.0 436.4,544.8 436.7,544.8 436.9,544.8 437.2,545.6 437.4,544.4 437.6,544.5 437.9,545.1 438.1,544.4 438.3,544.5 438.6,544.6 438.8,544.2 439.0,543.6 439.3,544.0 439.5,543.8 439.7,543.4 440.0,544.6 440.2,544.8 440.5,544.4 440.7,545.2 440.9,545.0 441.2,544.2 441.4,544.1 441.6,544.2 441.9,545.3 442.1,543.9 442.3,544.2 442.6,544.3 442.8,544.4 443.0,545.4 443.3,545.7 443.5,545.7 443.7,544.4 444.0,545.2 444.2,545.2 444.5,545.3 444.7,545.0 444.9,545.0 445.2,545.1 445.4,545.9 445.6,546.9 445.9,546.0 446.1,545.7 446.3,545.2 446.6,545.6 446.8,546.0 447.0,545.8 447.3,546.6 447.5,546.7 447.7,546.7 448.0,546.2 448.2,545.4 448.5,545.6 448.7,545.6 448.9,546.0 449.2,546.1 449.4,546.5 449.6,546.6 449.9,547.5 450.1,547.4 450.3,547.4 450.6,546.5 450.8,546.2 451.0,546.0 451.3,545.7 451.5,546.4 451.7,546.0 452.0,545.5 452.2,546.2 452.5,545.9 452.7,546.3 452.9,547.1 453.2,546.6 453.4,546.8 453.6,546.4 453.9,546.5 454.1,546.2 454.3,547.1 454.6,545.6 454.8,545.4 455.0,546.0 455.3,546.4 455.5,546.2 455.7,545.8 456.0,545.7 456.2,545.7 456.5,546.7 456.7,546.7 456.9,545.6 457.2,545.7 457.4,546.4 457.6,546.4 457.9,546.7 458.1,546.6 458.3,545.6 458.6,545.9 458.8,545.4 459.0,545.6 459.3,546.4 459.5,546.4 459.7,545.1 460.0,546.0 460.2,546.4 460.5,545.6 460.7,545.8 460.9,546.0 461.2,545.4 461.4,546.6 461.6,546.1 461.9,546.6 462.1,546.9 462.3,546.8 462.6,546.0 462.8,546.2 463.0,547.1 463.3,547.1 463.5,546.0 463.7,545.8 464.0,546.6 464.2,545.5 464.5,546.2 464.7,546.9 464.9,546.6 465.2,546.1 465.4,545.6 465.6,545.7 465.9,546.3 466.1,546.6 466.3,547.0 466.6,546.6 466.8,546.7 467.0,546.3 467.3,546.8 467.5,546.6 467.7,546.7 468.0,546.8 468.2,546.8 468.5,546.7 468.7,546.7 468.9,546.0 469.2,545.9 469.4,546.4 469.6,545.8 469.9,545.6 470.1,545.0 470.3,545.5 470.6,545.7 470.8,545.9 471.0,545.6 471.3,545.3 471.5,545.3 471.8,545.5 472.0,545.2 472.2,545.3 472.5,545.2 472.7,545.7 472.9,545.4 473.2,545.8 473.4,545.8 473.6,545.4 473.9,544.5 474.1,544.6 474.3,545.1 474.6,545.4 474.8,545.0 475.0,544.7 475.3,544.7 475.5,545.3 475.8,545.4 476.0,545.7 476.2,545.8 476.5,546.1 476.7,546.0 476.9,546.8 477.2,546.8 477.4,546.1 477.6,546.4 477.9,546.0 478.1,546.7 478.3,546.5 478.6,546.2 478.8,546.7 479.0,546.8 479.3,545.5 479.5,546.5 479.8,546.8 480.0,546.9 480.2,546.7 480.5,546.7 480.7,546.3 480.9,546.3 481.2,546.8 481.4,547.0 481.6,547.5 481.9,547.7 482.1,547.5 482.3,546.8 482.6,546.8 482.8,546.5 483.0,546.4 483.3,546.8 483.5,546.0 483.8,546.8 484.0,547.1 484.2,547.2 484.5,546.5 484.7,546.8 484.9,547.1 485.2,546.8 485.4,546.3 485.6,546.7 485.9,546.9 486.1,546.4 486.3,546.2 486.6,546.2 486.8,546.9 487.0,546.7 487.3,546.6 487.5,547.5 487.8,546.5 488.0,546.6 488.2,546.9 488.5,545.9 488.7,546.4 488.9,547.0 489.2,546.9 489.4,546.7 489.6,546.5 489.9,546.8 490.1,547.3 490.3,547.4 490.6,547.5 490.8,547.7 491.0,547.4 491.3,547.5 491.5,547.3 491.8,547.7 492.0,547.9 492.2,547.7 492.5,547.7 492.7,547.1 492.9,547.8 493.2,547.6 493.4,547.7 493.6,548.3 493.9,547.7 494.1,547.7 494.3,548.8 494.6,548.0 494.8,547.6 495.0,548.2 495.3,547.4 495.5,547.8 495.8,548.5 496.0,548.1 496.2,548.3 496.5,548.8 496.7,549.3 496.9,548.5 497.2,548.6 497.4,548.1 497.6,548.0 497.9,548.3 498.1,548.5 498.3,547.5 498.6,547.2 498.8,547.4 499.0,548.0 499.3,548.4 499.5,548.3 499.8,547.4 500.0,547.5 500.2,547.8 500.5,548.3 500.7,547.9 500.9,548.1 501.2,547.8 501.4,547.3 501.6,547.0 501.9,547.3 502.1,547.5 502.3,547.3 502.6,546.6 502.8,546.9 503.1,547.7 503.3,546.7 503.5,546.9 503.8,545.6 504.0,546.8 504.2,547.0 504.5,547.2 504.7,547.0 504.9,547.3 505.2,547.8 505.4,548.1 505.6,547.5 505.9,547.4 506.1,547.4 506.3,546.3 506.6,546.5 506.8,546.4 507.1,547.1 507.3,547.0 507.5,547.2 507.8,547.3 508.0,546.9 508.2,546.9 508.5,547.0 508.7,547.2 508.9,547.9 509.2,547.9 509.4,547.4 509.6,547.6 509.9,547.8 510.1,547.5 510.3,547.9 510.6,548.0 510.8,547.3 511.1,547.7 511.3,547.0 511.5,547.2 511.8,547.2 512.0,547.0 512.2,548.3 512.5,547.9 512.7,548.3 512.9,548.1 513.2,547.8 513.4,547.2 513.6,547.5 513.9,546.9 514.1,547.6 514.3,547.6 514.6,547.5 514.8,547.1 515.1,547.4 515.3,547.7 515.5,547.7 515.8,548.1 516.0,547.1 516.2,546.9 516.5,547.0 516.7,547.1" fill="none" stroke="#0072BD" stroke-width="0.9"/>
<polyline points="422.8,543.2 423.0,544.2 423.3,544.1 423.5,543.7 423.7,543.0 424.0,543.4 424.2,544.3 424.4,543.9 424.7,544.6 424.9,543.9 425.2,544.6 425.4,544.2 425.6,545.1 425.9,546.1 426.1,546.9 426.3,547.1 426.6,547.1 426.8,547.1 427.0,547.8 427.3,548.7 427.5,548.7 427.7,549.7 428.0,549.4 428.2,550.0 428.4,549.3 428.7,549.3 428.9,549.6 429.2,550.2 429.4,549.7 429.6,549.5 429.9,549.7 430.1,549.6 430.3,548.7 430.6,549.0 430.8,548.6 431.0,548.0 431.3,549.0 431.5,547.9 431.7,547.9 432.0,548.6 432.2,550.5 432.4,550.7 432.7,549.9 432.9,551.1 433.2,550.0 433.4,549.9 433.6,550.3 433.9,550.3 434.1,550.2 434.3,550.2 434.6,549.7 434.8,550.2 435.0,549.6 435.3,549.4 435.5,549.9 435.7,549.7 436.0,550.1 436.2,550.0 436.4,549.8 436.7,549.1 436.9,549.7 437.2,550.0 437.4,550.0 437.6,550.2 437.9,550.6 438.1,549.5 438.3,550.2 438.6,550.5 438.8,550.7 439.0,550.2 439.3,549.1 439.5,548.8 439.7,549.5 440.0,550.1 440.2,550.5 440.5,551.1 440.7,550.6 440.9,550.8 441.2,550.0 441.4,550.8 441.6,551.4 441.9,552.0 442.1,552.2 442.3,551.4 442.6,551.2 442.8,551.8 443.0,552.2 443.3,551.6 443.5,551.7 443.7,551.5 444.0,551.6 444.2,552.0 444.5,552.5 444.7,551.9 444.9,551.8 445.2,551.7 445.4,551.3 445.6,551.2 445.9,551.8 446.1,551.5 446.3,552.6 446.6,551.8 446.8,551.7 447.0,551.3 447.3,551.1 447.5,551.9 447.7,551.8 448.0,551.2 448.2,551.7 448.5,551.5 448.7,551.8 448.9,551.3 449.2,551.2 449.4,551.7 449.6,552.0 449.9,552.5 450.1,551.3 450.3,551.4 450.6,551.6 450.8,551.5 451.0,551.6 451.3,551.0 451.5,550.8 451.7,551.9 452.0,551.3 452.2,551.0 452.5,551.1 452.7,551.0 452.9,550.2 453.2,550.6 453.4,550.3 453.6,550.3 453.9,551.3 454.1,550.3 454.3,550.6 454.6,551.0 454.8,550.6 455.0,549.9 455.3,551.0 455.5,551.3 455.7,551.0 456.0,551.8 456.2,551.8 456.5,551.4 456.7,550.9 456.9,550.9 457.2,550.8 457.4,550.6 457.6,551.2 457.9,551.4 458.1,551.5 458.3,551.6 458.6,551.0 458.8,550.9 459.0,552.1 459.3,551.5 459.5,551.9 459.7,552.1 460.0,551.1 460.2,550.8 460.5,550.7 460.7,550.9 460.9,550.5 461.2,551.6 461.4,551.1 461.6,551.6 461.9,551.7 462.1,552.1 462.3,550.9 462.6,550.4 462.8,550.5 463.0,551.2 463.3,551.1 463.5,551.5 463.7,551.3 464.0,550.5 464.2,550.1 464.5,550.3 464.7,550.3 464.9,550.7 465.2,550.6 465.4,550.8 465.6,550.5 465.9,550.9 466.1,550.3 466.3,550.6 466.6,550.5 466.8,550.6 467.0,549.9 467.3,549.9 467.5,550.6 467.7,550.9 468.0,550.4 468.2,550.4 468.5,550.6 468.7,550.4 468.9,549.8 469.2,550.3 469.4,549.9 469.6,550.6 469.9,550.7 470.1,550.6 470.3,550.7 470.6,551.0 470.8,551.3 471.0,551.2 471.3,551.2 471.5,551.1 471.8,550.6 472.0,550.7 472.2,550.5 472.5,550.9 472.7,551.0 472.9,551.0 473.2,551.0 473.4,550.9 473.6,551.6 473.9,551.4 474.1,551.5 474.3,551.1 474.6,551.2 474.8,551.9 475.0,551.7 475.3,551.6 475.5,551.8 475.8,551.4 476.0,551.7 476.2,552.5 476.5,552.1 476.7,551.8 476.9,552.4 477.2,552.0 477.4,553.3 477.6,551.7 477.9,552.6 478.1,552.6 478.3,552.5 478.6,552.9 478.8,552.3 479.0,552.6 479.3,552.9 479.5,553.4 479.8,552.3 480.0,551.7 480.2,552.1 480.5,552.0 480.7,551.4 480.9,551.7 481.2,551.5 481.4,551.4 481.6,551.5 481.9,551.7 482.1,551.4 482.3,551.7 482.6,551.9 482.8,552.3 483.0,553.0 483.3,552.8 483.5,552.5 483.8,551.8 484.0,552.1 484.2,553.0 484.5,552.1 484.7,551.6 484.9,551.9 485.2,552.0 485.4,552.1 485.6,552.2 485.9,551.7 486.1,552.5 486.3,552.8 486.6,553.2 486.8,553.0 487.0,553.0 487.3,553.1 487.5,552.7 487.8,552.3 488.0,553.2 488.2,552.9 488.5,553.2 488.7,553.3 488.9,553.3 489.2,553.0 489.4,553.7 489.6,552.7 489.9,553.0 490.1,553.4 490.3,554.0 490.6,553.1 490.8,552.9 491.0,552.8 491.3,553.1 491.5,552.5 491.8,552.4 492.0,552.1 492.2,552.7 492.5,552.7 492.7,553.2 492.9,553.2 493.2,553.4 493.4,553.2 493.6,553.2 493.9,553.1 494.1,553.1 494.3,553.0 494.6,553.2 494.8,553.3 495.0,553.3 495.3,552.7 495.5,552.5 495.8,552.2 496.0,551.5 496.2,552.7 496.5,552.3 496.7,553.0 496.9,552.9 497.2,553.0 497.4,552.6 497.6,551.9 497.9,551.5 498.1,551.9 498.3,551.7 498.6,551.8 498.8,552.6 499.0,551.6 499.3,552.2 499.5,552.4 499.8,552.2 500.0,552.5 500.2,552.5 500.5,551.9 500.7,552.4 500.9,552.5 501.2,552.9 501.4,553.2 501.6,552.4 501.9,552.0 502.1,552.3 502.3,551.5 502.6,552.4 502.8,552.1 503.1,552.5 503.3,552.4 503.5,552.1 503.8,552.9 504.0,552.0 504.2,552.3 504.5,552.4 504.7,552.5 504.9,552.4 505.2,553.0 505.4,553.3 505.6,552.7 505.9,552.8 506.1,552.9 506.3,552.6 506.6,552.0 506.8,552.9 507.1,553.9 507.3,553.3 507.5,553.7 507.8,553.2 508.0,553.3 508.2,553.0 508.5,552.0 508.7,552.6 508.9,553.4 509.2,553.4 509.4,553.4 509.6,553.6 509.9,552.8 510.1,552.6 510.3,552.2 510.6,552.1 510.8,552.5 511.1,552.8 511.3,552.8 511.5,552.6 511.8,552.8 512.0,553.3 512.2,551.7 512.5,551.6 512.7,552.2 512.9,552.5 513.2,552.6 513.4,552.2 513.6,552.4 513.9,553.3 514.1,552.6 514.3,552.2 514.6,552.9 514.8,553.1 515.1,552.7 515.3,553.0 515.5,552.2 515.8,552.0 516.0,553.0 516.2,552.5 516.5,553.2 516.7,553.1" fill="none" stroke="#D95319" stroke-width="0.9"/>
<polyline points="422.8,545.1 423.0,545.0 423.3,545.3 423.5,545.4 423.7,545.7 424.0,545.6 424.2,545.0 424.4,545.3 424.7,545.2 424.9,545.7 425.2,546.0 425.4,546.5 425.6,547.7 425.9,547.3 426.1,547.7 426.3,548.1 426.6,549.4 426.8,550.2 427.0,550.4 427.3,550.6 427.5,550.5 427.7,550.9 428.0,550.9 428.2,551.5 428.4,551.3 428.7,551.3 428.9,551.7 429.2,550.8 429.4,550.9 429.6,550.5 429.9,551.0 430.1,551.1 430.3,550.9 430.6,550.5 430.8,550.0 431.0,549.9 431.3,550.1 431.5,550.3 431.7,550.2 432.0,549.5 432.2,551.7 432.4,551.4 432.7,551.3 432.9,552.0 433.2,551.6 433.4,550.9 433.6,552.1 433.9,551.8 434.1,551.6 434.3,551.8 434.6,551.4 434.8,551.4 435.0,552.1 435.3,551.3 435.5,551.2 435.7,551.0 436.0,550.8 436.2,551.2 436.4,551.4 436.7,552.1 436.9,551.6 437.2,552.0 437.4,552.1 437.6,552.5 437.9,552.5 438.1,552.4 438.3,551.6 438.6,552.8 438.8,553.0 439.0,552.4 439.3,551.8 439.5,551.9 439.7,553.1 440.0,553.8 440.2,552.8 440.5,553.0 440.7,553.3 440.9,552.5 441.2,552.3 441.4,552.6 441.6,552.7 441.9,552.7 442.1,552.2 442.3,552.5 442.6,552.7 442.8,552.7 443.0,553.7 443.3,552.8 443.5,552.7 443.7,552.8 444.0,553.9 444.2,553.7 444.5,553.0 444.7,553.9 444.9,553.5 445.2,552.9 445.4,553.6 445.6,552.6 445.9,552.7 446.1,553.0 446.3,552.9 446.6,552.7 446.8,552.8 447.0,552.4 447.3,553.0 447.5,553.1 447.7,552.5 448.0,552.7 448.2,553.1 448.5,552.4 448.7,552.0 448.9,552.6 449.2,553.1 449.4,552.8 449.6,552.7 449.9,552.7 450.1,551.9 450.3,552.7 450.6,552.0 450.8,552.8 451.0,552.8 451.3,552.2 451.5,551.8 451.7,551.8 452.0,552.0 452.2,552.2 452.5,552.2 452.7,552.1 452.9,552.3 453.2,552.2 453.4,552.1 453.6,552.3 453.9,552.1 454.1,552.1 454.3,551.5 454.6,552.0 454.8,552.5 455.0,552.7 455.3,552.6 455.5,552.2 455.7,552.6 456.0,552.5 456.2,551.9 456.5,553.5 456.7,553.5 456.9,552.9 457.2,552.7 457.4,552.7 457.6,552.9 457.9,552.6 458.1,552.6 458.3,553.0 458.6,551.9 458.8,552.4 459.0,552.9 459.3,552.9 459.5,552.9 459.7,552.9 460.0,554.0 460.2,553.4 460.5,552.5 460.7,553.1 460.9,552.9 461.2,552.3 461.4,552.2 461.6,551.8 461.9,553.0 462.1,552.8 462.3,552.7 462.6,552.3 462.8,551.9 463.0,553.3 463.3,552.2 463.5,552.8 463.7,552.1 464.0,552.8 464.2,552.3 464.5,551.7 464.7,552.0 464.9,551.9 465.2,551.6 465.4,551.8 465.6,551.9 465.9,551.3 466.1,551.3 466.3,551.8 466.6,550.8 466.8,552.0 467.0,551.6 467.3,552.0 467.5,551.9 467.7,551.7 468.0,551.8 468.2,551.7 468.5,552.6 468.7,553.0 468.9,552.2 469.2,552.6 469.4,552.9 469.6,553.1 469.9,552.2 470.1,552.1 470.3,551.8 470.6,552.7 470.8,552.7 471.0,553.2 471.3,552.6 471.5,552.1 471.8,553.0 472.0,552.4 472.2,552.4 472.5,553.0 472.7,553.9 472.9,552.9 473.2,553.2 473.4,553.6 473.6,553.3 473.9,553.2 474.1,552.8 474.3,553.7 474.6,553.1 474.8,552.8 475.0,552.7 475.3,553.4 475.5,553.9 475.8,553.3 476.0,553.5 476.2,553.6 476.5,553.1 476.7,553.6 476.9,554.6 477.2,554.2 477.4,554.6 477.6,553.7 477.9,553.6 478.1,553.9 478.3,553.7 478.6,553.3 478.8,553.5 479.0,553.0 479.3,553.4 479.5,553.1 479.8,552.8 480.0,552.6 480.2,553.5 480.5,553.2 480.7,554.2 480.9,554.2 481.2,554.6 481.4,553.5 481.6,554.0 481.9,553.7 482.1,553.7 482.3,553.6 482.6,553.8 482.8,553.6 483.0,552.9 483.3,553.4 483.5,553.4 483.8,553.2 484.0,553.6 484.2,554.3 484.5,554.2 484.7,553.6 484.9,554.5 485.2,554.4 485.4,553.7 485.6,553.6 485.9,553.9 486.1,553.8 486.3,554.0 486.6,554.7 486.8,555.1 487.0,554.9 487.3,554.2 487.5,554.6 487.8,554.9 488.0,555.0 488.2,555.4 488.5,554.9 488.7,555.2 488.9,554.7 489.2,555.7 489.4,554.9 489.6,555.1 489.9,555.7 490.1,554.8 490.3,554.9 490.6,555.7 490.8,555.4 491.0,554.9 491.3,555.0 491.5,554.5 491.8,554.3 492.0,554.2 492.2,554.3 492.5,553.9 492.7,554.0 492.9,554.1 493.2,555.2 493.4,554.3 493.6,553.8 493.9,554.2 494.1,554.4 494.3,553.4 494.6,554.6 494.8,554.1 495.0,553.0 495.3,554.0 495.5,553.7 495.8,553.0 496.0,553.6 496.2,553.5 496.5,553.3 496.7,553.9 496.9,553.8 497.2,553.5 497.4,553.2 497.6,553.5 497.9,553.6 498.1,554.0 498.3,553.8 498.6,553.2 498.8,553.4 499.0,553.8 499.3,553.9 499.5,552.5 499.8,552.7 500.0,553.0 500.2,554.4 500.5,553.6 500.7,553.4 500.9,552.8 501.2,553.2 501.4,553.5 501.6,553.4 501.9,554.4 502.1,553.6 502.3,553.6 502.6,554.1 502.8,553.4 503.1,553.0 503.3,554.2 503.5,554.3 503.8,554.0 504.0,554.0 504.2,554.2 504.5,554.6 504.7,553.4 504.9,553.5 505.2,554.4 505.4,554.8 505.6,553.7 505.9,553.6 506.1,553.3 506.3,553.6 506.6,554.4 506.8,554.2 507.1,555.1 507.3,554.8 507.5,554.4 507.8,554.1 508.0,554.4 508.2,554.3 508.5,554.0 508.7,553.9 508.9,553.8 509.2,553.9 509.4,554.1 509.6,553.7 509.9,553.9 510.1,554.3 510.3,554.3 510.6,554.1 510.8,554.0 511.1,553.8 511.3,553.9 511.5,553.8 511.8,553.9 512.0,554.4 512.2,553.8 512.5,553.4 512.7,553.5 512.9,553.8 513.2,553.6 513.4,554.2 513.6,554.8 513.9,554.2 514.1,554.4 514.3,553.8 514.6,554.4 514.8,555.2 515.1,554.9 515.3,553.7 515.5,554.2 515.8,554.8 516.0,554.8 516.2,554.3 516.5,554.2 516.7,554.3" fill="none" stroke="#EDB120" stroke-width="0.9"/>
<polyline points="422.8,555.0 423.0,554.6 423.3,554.9 423.5,555.1 423.7,555.3 424.0,555.6 424.2,555.6 424.4,556.0 424.7,556.5 424.9,557.0 425.2,557.4 425.4,557.4 425.6,557.5 425.9,557.5 426.1,558.1 426.3,558.8 426.6,559.1 426.8,559.8 427.0,560.9 427.3,560.6 427.5,561.2 427.7,561.4 428.0,561.8 428.2,560.9 428.4,561.3 428.7,561.7 428.9,562.4 429.2,561.9 429.4,562.2 429.6,561.6 429.9,562.1 430.1,561.7 430.3,561.2 430.6,561.5 430.8,561.2 431.0,561.0 431.3,560.6 431.5,561.0 431.7,560.8 432.0,560.3 432.2,563.0 432.4,563.1 432.7,562.7 432.9,563.0 433.2,563.4 433.4,562.6 433.6,562.5 433.9,562.4 434.1,562.4 434.3,562.6 434.6,563.2 434.8,564.0 435.0,563.3 435.3,563.6 435.5,563.4 435.7,563.2 436.0,563.8 436.2,563.7 436.4,563.0 436.7,563.1 436.9,564.0 437.2,563.8 437.4,563.7 437.6,563.6 437.9,563.5 438.1,563.7 438.3,563.9 438.6,563.6 438.8,564.3 439.0,563.7 439.3,563.7 439.5,564.1 439.7,564.2 440.0,564.0 440.2,564.5 440.5,565.0 440.7,564.2 440.9,563.6 441.2,563.9 441.4,563.9 441.6,563.9 441.9,564.2 442.1,563.8 442.3,563.5 442.6,563.7 442.8,563.4 443.0,563.9 443.3,563.6 443.5,563.8 443.7,563.8 444.0,563.5 444.2,563.4 444.5,563.1 444.7,563.0 444.9,563.6 445.2,562.9 445.4,563.6 445.6,563.3 445.9,563.0 446.1,563.0 446.3,562.8 446.6,562.9 446.8,563.2 447.0,562.7 447.3,562.8 447.5,563.1 447.7,562.9 448.0,562.8 448.2,562.6 448.5,562.9 448.7,562.7 448.9,562.8 449.2,562.2 449.4,562.6 449.6,562.3 449.9,562.6 450.1,562.3 450.3,561.8 450.6,562.5 450.8,562.6 451.0,563.0 451.3,563.1 451.5,563.1 451.7,562.9 452.0,562.6 452.2,562.5 452.5,562.9 452.7,562.9 452.9,563.4 453.2,562.9 453.4,563.0 453.6,563.3 453.9,563.4 454.1,562.9 454.3,562.9 454.6,562.8 454.8,563.1 455.0,563.0 455.3,563.0 455.5,563.5 455.7,563.2 456.0,563.1 456.2,563.2 456.5,562.7 456.7,562.1 456.9,562.1 457.2,562.5 457.4,563.0 457.6,562.9 457.9,562.9 458.1,562.7 458.3,562.2 458.6,562.4 458.8,562.9 459.0,562.1 459.3,562.3 459.5,561.8 459.7,562.4 460.0,561.5 460.2,562.3 460.5,562.2 460.7,561.8 460.9,562.8 461.2,562.6 461.4,562.7 461.6,561.6 461.9,561.6 462.1,562.1 462.3,562.5 462.6,562.7 462.8,562.1 463.0,562.2 463.3,561.8 463.5,562.0 463.7,562.5 464.0,561.5 464.2,561.6 464.5,562.0 464.7,562.1 464.9,561.6 465.2,561.6 465.4,562.3 465.6,561.7 465.9,562.2 466.1,562.0 466.3,562.5 466.6,562.6 466.8,562.2 467.0,562.7 467.3,562.5 467.5,562.4 467.7,562.7 468.0,562.2 468.2,562.3 468.5,562.6 468.7,562.4 468.9,562.2 469.2,562.2 469.4,562.7 469.6,562.6 469.9,562.8 470.1,563.3 470.3,563.3 470.6,562.5 470.8,563.2 471.0,563.0 471.3,562.6 471.5,563.1 471.8,563.2 472.0,563.5 472.2,563.2 472.5,563.7 472.7,563.3 472.9,563.5 473.2,563.3 473.4,563.8 473.6,563.8 473.9,563.1 474.1,563.0 474.3,564.1 474.6,563.0 474.8,563.4 475.0,562.9 475.3,562.7 475.5,563.0 475.8,563.1 476.0,563.7 476.2,563.1 476.5,562.4 476.7,563.2 476.9,562.6 477.2,562.6 477.4,562.4 477.6,563.1 477.9,563.0 478.1,562.8 478.3,562.3 478.6,562.9 478.8,563.0 479.0,563.2 479.3,562.7 479.5,563.3 479.8,563.1 480.0,563.4 480.2,563.2 480.5,562.8 480.7,563.1 480.9,562.8 481.2,563.1 481.4,563.1 481.6,563.1 481.9,563.4 482.1,563.1 482.3,562.9 482.6,563.4 482.8,563.1 483.0,563.2 483.3,563.4 483.5,563.3 483.8,563.1 484.0,563.1 484.2,562.8 484.5,563.2 484.7,563.3 484.9,564.0 485.2,563.9 485.4,563.5 485.6,563.9 485.9,564.0 486.1,563.1 486.3,563.5 486.6,563.9 486.8,564.4 487.0,564.1 487.3,563.0 487.5,563.3 487.8,563.2 488.0,563.1 488.2,563.5 488.5,563.3 488.7,563.3 488.9,563.4 489.2,562.9 489.4,563.4 489.6,563.4 489.9,563.4 490.1,562.7 490.3,563.0 490.6,562.3 490.8,563.1 491.0,563.2 491.3,563.7 491.5,563.3 491.8,562.8 492.0,562.4 492.2,562.7 492.5,562.7 492.7,562.0 492.9,562.3 493.2,562.2 493.4,562.0 493.6,562.4 493.9,561.8 494.1,562.0 494.3,561.7 494.6,562.0 494.8,561.9 495.0,561.5 495.3,561.7 495.5,562.4 495.8,562.2 496.0,562.1 496.2,562.0 496.5,561.9 496.7,562.4 496.9,561.5 497.2,562.1 497.4,561.6 497.6,562.0 497.9,562.1 498.1,562.1 498.3,562.2 498.6,561.9 498.8,561.7 499.0,561.4 499.3,561.3 499.5,562.3 499.8,562.0 500.0,562.0 500.2,562.2 500.5,562.2 500.7,562.3 500.9,562.7 501.2,562.8 501.4,562.2 501.6,562.4 501.9,561.9 502.1,562.4 502.3,562.6 502.6,562.5 502.8,562.4 503.1,562.1 503.3,562.5 503.5,562.2 503.8,562.2 504.0,562.6 504.2,562.5 504.5,562.4 504.7,562.0 504.9,561.8 505.2,561.9 505.4,562.3 505.6,562.0 505.9,562.0 506.1,562.3 506.3,561.9 506.6,562.3 506.8,562.2 507.1,562.4 507.3,562.6 507.5,562.1 507.8,562.5 508.0,562.3 508.2,562.2 508.5,561.8 508.7,562.1 508.9,561.7 509.2,562.0 509.4,562.2 509.6,562.2 509.9,562.1 510.1,562.2 510.3,562.4 510.6,562.3 510.8,562.3 511.1,561.7 511.3,562.2 511.5,562.0 511.8,562.3 512.0,561.9 512.2,562.1 512.5,562.3 512.7,561.9 512.9,561.7 513.2,561.6 513.4,561.8 513.6,562.2 513.9,562.6 514.1,562.8 514.3,562.9 514.6,562.6 514.8,562.8 515.1,562.8 515.3,562.8 515.5,562.9 515.8,563.2 516.0,563.4 516.2,562.4 516.5,562.9 516.7,563.6" fill="none" stroke="#7E2F8E" stroke-width="0.9"/>
<g font-size="3.6" fill="#555" text-anchor="end" style="font-family:'Liberation Sans',sans-serif">
<text x="421.3" y="597.6">0</text>
<text x="421.3" y="582.7">0.5</text>
<text x="421.3" y="567.8">1</text>
<text x="421.3" y="553.0">1.5</text>
<text x="421.3" y="538.1">2</text>
<text x="421.3" y="523.2">2.5</text>
</g><g font-size="3.6" fill="#555" text-anchor="middle" style="font-family:'Liberation Sans',sans-serif">
<text x="422.8" y="600.9">0</text>
<text x="432.2" y="600.9">20</text>
<text x="441.6" y="600.9">40</text>
<text x="451.0" y="600.9">60</text>
<text x="460.4" y="600.9">80</text>
<text x="469.8" y="600.9">100</text>
<text x="479.1" y="600.9">120</text>
<text x="488.5" y="600.9">140</text>
<text x="497.9" y="600.9">160</text>
<text x="507.3" y="600.9">180</text>
<text x="516.7" y="600.9">200</text>
<text x="469.8" y="604.9" font-size="4.2">Time(ns)</text>
<text transform="translate(414.3,559.2) rotate(-90)" font-size="4">Rg(nm)</text>
</g>
<rect x="478.7" y="524.6" width="34.900000000000034" height="8.199999999999932" fill="#fff" stroke="#666" stroke-width="0.4"/>
<line x1="480" y1="527" x2="485" y2="527" stroke="#0072BD" stroke-width="0.6"/><text x="486" y="528" font-size="2.6" fill="#444" style="font-family:'Liberation Sans',sans-serif">Rg</text>
<line x1="480" y1="530.5" x2="485" y2="530.5" stroke="#D95319" stroke-width="0.6"/><text x="486" y="531.5" font-size="2.6" fill="#444" style="font-family:'Liberation Sans',sans-serif">Rg_x</text>
<line x1="496" y1="527" x2="501" y2="527" stroke="#EDB120" stroke-width="0.6"/><text x="502" y="528" font-size="2.6" fill="#444" style="font-family:'Liberation Sans',sans-serif">Rg_y</text>
<line x1="496" y1="530.5" x2="501" y2="530.5" stroke="#7E2F8E" stroke-width="0.6"/><text x="502" y="531.5" font-size="2.6" fill="#444" style="font-family:'Liberation Sans',sans-serif">Rg_z</text>
<text x="723.9" y="59" font-size="7.5" font-weight="bold" text-anchor="middle" fill="#111">A</text>
<g stroke="#222" stroke-width="0.9" fill="none"><path d="M757.8,65.8 V147 H838.8"/>
<line x1="755.8" y1="147.0" x2="757.8" y2="147.0"/>
<line x1="755.8" y1="119.9" x2="757.8" y2="119.9"/>
<line x1="755.8" y1="92.9" x2="757.8" y2="92.9"/>
<line x1="755.8" y1="65.8" x2="757.8" y2="65.8"/>
</g>
<g font-size="5.6" font-weight="bold" text-anchor="end" fill="#222">
<text x="755.3" y="149.0">0.0</text>
<text x="755.3" y="121.9">0.5</text>
<text x="755.3" y="94.9">1.0</text>
<text x="755.3" y="67.8">1.5</text>
</g>
<rect x="764" y="92.9" width="12.8" height="54.1" fill="#7BA2D6"/>
<line x1="770.4" y1="147" x2="770.4" y2="148.8" stroke="#222" stroke-width="0.6"/>
<rect x="782.4" y="89.1" width="12.6" height="57.9" fill="#A58AD6"/>
<line x1="788.7" y1="147" x2="788.7" y2="148.8" stroke="#222" stroke-width="0.6"/>
<g stroke="#333" stroke-width="0.6"><line x1="788.7" y1="89.1" x2="788.7" y2="81.5"/><line x1="785.7" y1="81.5" x2="791.7" y2="81.5"/></g>
<rect x="801" y="82.0" width="12.7" height="65.0" fill="#E891E6"/>
<line x1="807.4" y1="147" x2="807.4" y2="148.8" stroke="#222" stroke-width="0.6"/>
<g stroke="#333" stroke-width="0.6"><line x1="807.4" y1="82.0" x2="807.4" y2="78.8"/><line x1="804.4" y1="78.8" x2="810.4" y2="78.8"/></g>
<text x="807.4" y="78.5" font-size="6" text-anchor="middle" fill="#333">**</text>
<rect x="819.6" y="83.1" width="13.0" height="63.9" fill="#B9DC8A"/>
<line x1="826.1" y1="147" x2="826.1" y2="148.8" stroke="#222" stroke-width="0.6"/>
<g stroke="#333" stroke-width="0.6"><line x1="826.1" y1="83.1" x2="826.1" y2="78.8"/><line x1="823.1" y1="78.8" x2="829.1" y2="78.8"/></g>
<text x="826.1" y="78.5" font-size="6" text-anchor="middle" fill="#333">*</text>
<g font-size="5.6" font-weight="bold" text-anchor="middle" fill="#222">
<text x="769.9" y="157.2">Control</text>
<text x="788.7" y="157.2">25</text>
<text x="807.3" y="157.2">50</text>
<text x="826" y="157.2">100</text>
<text x="846.2" y="157.2">(µg/mL)</text></g>
<text transform="translate(734.2,106.4) rotate(-90)" font-size="5.9" font-weight="bold" text-anchor="middle" fill="#222">Relative mRNA expression</text>
<text transform="translate(744.7,106.4) rotate(-90)" font-size="5.6" font-weight="bold" font-style="italic" text-anchor="middle" fill="#222">AHR/β-actin</text>
<text x="865.6" y="59" font-size="7.5" font-weight="bold" text-anchor="middle" fill="#111">B</text>
<g stroke="#222" stroke-width="0.9" fill="none"><path d="M903,66.4 V147 H983.4"/>
<line x1="901" y1="147.0" x2="903" y2="147.0"/>
<line x1="901" y1="126.8" x2="903" y2="126.8"/>
<line x1="901" y1="106.7" x2="903" y2="106.7"/>
<line x1="901" y1="86.6" x2="903" y2="86.6"/>
<line x1="901" y1="66.4" x2="903" y2="66.4"/>
</g>
<g font-size="5.6" font-weight="bold" text-anchor="end" fill="#222">
<text x="900.5" y="149.0">0</text>
<text x="900.5" y="128.8">1</text>
<text x="900.5" y="108.7">2</text>
<text x="900.5" y="88.6">3</text>
<text x="900.5" y="68.4">4</text>
</g>
<rect x="909" y="126.8" width="12.6" height="20.2" fill="#7BA2D6"/>
<line x1="915.3" y1="147" x2="915.3" y2="148.8" stroke="#222" stroke-width="0.6"/>
<rect x="927.6" y="105.7" width="12.4" height="41.3" fill="#A58AD6"/>
<line x1="933.8" y1="147" x2="933.8" y2="148.8" stroke="#222" stroke-width="0.6"/>
<g stroke="#333" stroke-width="0.6"><line x1="933.8" y1="105.7" x2="933.8" y2="98.2"/><line x1="930.8" y1="98.2" x2="936.8" y2="98.2"/></g>
<text x="933.8" y="97.9" font-size="6" text-anchor="middle" fill="#333">**</text>
<rect x="946.2" y="96.6" width="12.4" height="50.4" fill="#E891E6"/>
<line x1="952.4" y1="147" x2="952.4" y2="148.8" stroke="#222" stroke-width="0.6"/>
<g stroke="#333" stroke-width="0.6"><line x1="952.4" y1="96.6" x2="952.4" y2="86.6"/><line x1="949.4" y1="86.6" x2="955.4" y2="86.6"/></g>
<text x="952.4" y="86.3" font-size="6" text-anchor="middle" fill="#333">**</text>
<rect x="964.4" y="109.7" width="12.9" height="37.3" fill="#B9DC8A"/>
<line x1="970.8" y1="147" x2="970.8" y2="148.8" stroke="#222" stroke-width="0.6"/>
<g stroke="#333" stroke-width="0.6"><line x1="970.8" y1="109.7" x2="970.8" y2="104.5"/><line x1="967.8" y1="104.5" x2="973.8" y2="104.5"/></g>
<text x="970.8" y="104.2" font-size="6" text-anchor="middle" fill="#333">**</text>
<g font-size="5.6" font-weight="bold" text-anchor="middle" fill="#222">
<text x="915" y="157.2">Control</text>
<text x="934" y="157.2">25</text>
<text x="952.5" y="157.2">50</text>
<text x="971" y="157.2">100</text>
<text x="990.5" y="157.2">(µg/mL)</text></g>
<text transform="translate(883,106.4) rotate(-90)" font-size="5.9" font-weight="bold" text-anchor="middle" fill="#222">Relative mRNA expression</text>
<text transform="translate(891,106.4) rotate(-90)" font-size="5.6" font-weight="bold" font-style="italic" text-anchor="middle" fill="#222">FLG/β-actin</text>
<text x="724.3" y="171" font-size="7.5" font-weight="bold" text-anchor="middle" fill="#111">C</text>
<g stroke="#222" stroke-width="0.9" fill="none"><path d="M756.3,179 V260 H837"/>
<line x1="754.3" y1="260.0" x2="756.3" y2="260.0"/>
<line x1="754.3" y1="239.8" x2="756.3" y2="239.8"/>
<line x1="754.3" y1="219.5" x2="756.3" y2="219.5"/>
<line x1="754.3" y1="199.2" x2="756.3" y2="199.2"/>
<line x1="754.3" y1="179.0" x2="756.3" y2="179.0"/>
</g>
<g font-size="5.6" font-weight="bold" text-anchor="end" fill="#222">
<text x="753.8" y="262.0">0</text>
<text x="753.8" y="241.8">1</text>
<text x="753.8" y="221.5">2</text>
<text x="753.8" y="201.2">3</text>
<text x="753.8" y="181.0">4</text>
</g>
<rect x="762.5" y="239.8" width="12.5" height="20.2" fill="#7BA2D6"/>
<line x1="768.8" y1="260" x2="768.8" y2="261.8" stroke="#222" stroke-width="0.6"/>
<rect x="781" y="234.7" width="12.6" height="25.3" fill="#A58AD6"/>
<line x1="787.3" y1="260" x2="787.3" y2="261.8" stroke="#222" stroke-width="0.6"/>
<g stroke="#333" stroke-width="0.6"><line x1="787.3" y1="234.7" x2="787.3" y2="231.2"/><line x1="784.3" y1="231.2" x2="790.3" y2="231.2"/></g>
<rect x="799.7" y="211.4" width="12.5" height="48.6" fill="#E891E6"/>
<line x1="806.0" y1="260" x2="806.0" y2="261.8" stroke="#222" stroke-width="0.6"/>
<g stroke="#333" stroke-width="0.6"><line x1="806.0" y1="211.4" x2="806.0" y2="200.3"/><line x1="803.0" y1="200.3" x2="809.0" y2="200.3"/></g>
<text x="806.0" y="200.0" font-size="6" text-anchor="middle" fill="#333">*</text>
<rect x="818.3" y="227.2" width="12.5" height="32.8" fill="#B9DC8A"/>
<line x1="824.5" y1="260" x2="824.5" y2="261.8" stroke="#222" stroke-width="0.6"/>
<g stroke="#333" stroke-width="0.6"><line x1="824.5" y1="227.2" x2="824.5" y2="224.4"/><line x1="821.5" y1="224.4" x2="827.5" y2="224.4"/></g>
<text x="824.5" y="224.1" font-size="6" text-anchor="middle" fill="#333">**</text>
<g font-size="5.6" font-weight="bold" text-anchor="middle" fill="#222">
<text x="768.6" y="269.8">Control</text>
<text x="787.3" y="269.8">25</text>
<text x="806" y="269.8">50</text>
<text x="824.6" y="269.8">100</text>
<text x="844.4" y="269.8">(µg/mL)</text></g>
<text transform="translate(736.2,219.4) rotate(-90)" font-size="5.9" font-weight="bold" text-anchor="middle" fill="#222">Relative mRNA expression</text>
<text transform="translate(744.5,219.4) rotate(-90)" font-size="5.6" font-weight="bold" font-style="italic" text-anchor="middle" fill="#222">LOR/β-actin</text>
<text x="865.6" y="171" font-size="7.5" font-weight="bold" text-anchor="middle" fill="#111">D</text>
<g stroke="#222" stroke-width="0.9" fill="none"><path d="M904.3,179 V260 H984.7"/>
<line x1="902.3" y1="260.0" x2="904.3" y2="260.0"/>
<line x1="902.3" y1="243.8" x2="904.3" y2="243.8"/>
<line x1="902.3" y1="227.6" x2="904.3" y2="227.6"/>
<line x1="902.3" y1="211.4" x2="904.3" y2="211.4"/>
<line x1="902.3" y1="195.2" x2="904.3" y2="195.2"/>
<line x1="902.3" y1="179.0" x2="904.3" y2="179.0"/>
</g>
<g font-size="5.6" font-weight="bold" text-anchor="end" fill="#222">
<text x="901.8" y="262.0">0.0</text>
<text x="901.8" y="245.8">0.5</text>
<text x="901.8" y="229.6">1.0</text>
<text x="901.8" y="213.4">1.5</text>
<text x="901.8" y="197.2">2.0</text>
<text x="901.8" y="181.0">2.5</text>
</g>
<rect x="910.5" y="227.6" width="12.4" height="32.4" fill="#7BA2D6"/>
<line x1="916.7" y1="260" x2="916.7" y2="261.8" stroke="#222" stroke-width="0.6"/>
<rect x="929" y="215.9" width="12.5" height="44.1" fill="#A58AD6"/>
<line x1="935.2" y1="260" x2="935.2" y2="261.8" stroke="#222" stroke-width="0.6"/>
<g stroke="#333" stroke-width="0.6"><line x1="935.2" y1="215.9" x2="935.2" y2="208.2"/><line x1="932.2" y1="208.2" x2="938.2" y2="208.2"/></g>
<rect x="947.5" y="199.7" width="12.6" height="60.3" fill="#E891E6"/>
<line x1="953.8" y1="260" x2="953.8" y2="261.8" stroke="#222" stroke-width="0.6"/>
<g stroke="#333" stroke-width="0.6"><line x1="953.8" y1="199.7" x2="953.8" y2="197.5"/><line x1="950.8" y1="197.5" x2="956.8" y2="197.5"/></g>
<text x="953.8" y="197.2" font-size="6" text-anchor="middle" fill="#333">***</text>
<rect x="966.3" y="202.3" width="12.4" height="57.7" fill="#B9DC8A"/>
<line x1="972.5" y1="260" x2="972.5" y2="261.8" stroke="#222" stroke-width="0.6"/>
<g stroke="#333" stroke-width="0.6"><line x1="972.5" y1="202.3" x2="972.5" y2="191.3"/><line x1="969.5" y1="191.3" x2="975.5" y2="191.3"/></g>
<text x="972.5" y="191.0" font-size="6" text-anchor="middle" fill="#333">*</text>
<g font-size="5.6" font-weight="bold" text-anchor="middle" fill="#222">
<text x="916.4" y="269.8">Control</text>
<text x="935" y="269.8">25</text>
<text x="953.6" y="269.8">50</text>
<text x="972.2" y="269.8">100</text>
<text x="992.3" y="269.8">(µg/mL)</text></g>
<text transform="translate(880.8,219.4) rotate(-90)" font-size="5.9" font-weight="bold" text-anchor="middle" fill="#222">Relative mRNA expression</text>
<text transform="translate(888.6,219.4) rotate(-90)" font-size="5.6" font-weight="bold" font-style="italic" text-anchor="middle" fill="#222">IVL/β-actin</text>
<rect x="734.7" y="302.7" width="272.5" height="136" fill="#d4d4d4"/>
<rect x="734.7" y="302.7" width="90.3" height="67.3" fill="#03030C"/>
<rect x="826.5" y="302.7" width="89.5" height="67.3" fill="#040A05"/>
<rect x="918" y="302.7" width="89.2" height="67.3" fill="#040B05"/>
<rect x="734.7" y="371.7" width="90.3" height="67.0" fill="#03030C"/>
<rect x="826.5" y="371.7" width="89.5" height="67.0" fill="#040A05"/>
<rect x="918" y="371.7" width="89.2" height="67.0" fill="#050A06"/>
<defs><clipPath id="mc"><rect x="734.7" y="302.7" width="90.3" height="67.3"/><rect x="826.5" y="302.7" width="89.5" height="67.3"/><rect x="918" y="302.7" width="89.2" height="67.3"/><rect x="734.7" y="371.7" width="90.3" height="67.0"/><rect x="826.5" y="371.7" width="89.5" height="67.0"/><rect x="918" y="371.7" width="89.2" height="67.0"/></clipPath>
<linearGradient id="gb1" x1="0" y1="0" x2="0" y2="1"><stop offset="0" stop-color="#30FF30" stop-opacity="0"/><stop offset="0.35" stop-color="#30E830" stop-opacity="0.9"/><stop offset="0.65" stop-color="#30E030" stop-opacity="0.9"/><stop offset="1" stop-color="#20A020" stop-opacity="0"/></linearGradient>
<linearGradient id="bb1" x1="0" y1="0" x2="0" y2="1"><stop offset="0" stop-color="#0A1070" stop-opacity="0.25"/><stop offset="0.8" stop-color="#1020B0" stop-opacity="0.5"/><stop offset="1" stop-color="#1020C0" stop-opacity="0.2"/></linearGradient>
</defs>
<g clip-path="url(#mc)">
<rect x="734.7" y="337.0" width="90.3" height="13.0" fill="url(#bb1)"/>
<path fill="#141E80"  d="M806.3 339.5h0.9v0.9h-0.9zM793.7 346.3h0.9v0.9h-0.9zM736.1 345.3h0.9v0.9h-0.9zM751.9 341.8h0.9v0.9h-0.9zM794.5 344.5h0.9v0.9h-0.9zM798.6 342.8h0.9v0.9h-0.9zM821.2 348.6h0.9v0.9h-0.9zM823.2 343.8h0.9v0.9h-0.9zM791.5 347.9h0.9v0.9h-0.9zM803.2 339.9h0.9v0.9h-0.9zM751.9 347.4h0.9v0.9h-0.9zM764.4 342.5h0.9v0.9h-0.9zM742.8 345.9h0.9v0.9h-0.9zM812.9 341.0h0.9v0.9h-0.9zM816.7 348.3h0.9v0.9h-0.9zM789.2 344.1h0.9v0.9h-0.9zM738.2 349.7h0.9v0.9h-0.9zM788.6 342.5h0.9v0.9h-0.9zM799.7 339.0h0.9v0.9h-0.9zM760.0 349.2h0.9v0.9h-0.9zM797.1 345.9h0.9v0.9h-0.9zM798.0 349.7h0.9v0.9h-0.9zM763.5 350.0h0.9v0.9h-0.9zM774.5 348.5h0.9v0.9h-0.9zM757.8 337.6h0.9v0.9h-0.9zM795.9 341.3h0.9v0.9h-0.9zM787.4 342.8h0.9v0.9h-0.9zM798.9 349.5h0.9v0.9h-0.9zM750.0 344.4h0.9v0.9h-0.9zM823.4 344.5h0.9v0.9h-0.9zM737.5 348.8h0.9v0.9h-0.9zM798.7 345.8h0.9v0.9h-0.9zM806.2 337.8h0.9v0.9h-0.9zM756.1 340.3h0.9v0.9h-0.9zM799.2 340.9h0.9v0.9h-0.9zM806.2 349.1h0.9v0.9h-0.9zM818.9 347.4h0.9v0.9h-0.9zM737.3 348.2h0.9v0.9h-0.9zM805.8 340.3h0.9v0.9h-0.9zM820.4 339.3h0.9v0.9h-0.9zM811.0 349.1h0.9v0.9h-0.9zM780.1 346.1h0.9v0.9h-0.9zM759.0 344.7h0.9v0.9h-0.9zM777.7 342.8h0.9v0.9h-0.9zM790.5 349.3h0.9v0.9h-0.9zM805.1 337.9h0.9v0.9h-0.9zM755.2 347.0h0.9v0.9h-0.9zM766.8 346.3h0.9v0.9h-0.9zM782.5 340.6h0.9v0.9h-0.9zM816.2 342.8h0.9v0.9h-0.9zM814.8 340.2h0.9v0.9h-0.9zM800.3 342.1h0.9v0.9h-0.9zM817.0 349.7h0.9v0.9h-0.9zM796.6 341.1h0.9v0.9h-0.9zM781.2 345.8h0.9v0.9h-0.9zM824.1 349.3h0.9v0.9h-0.9zM771.3 341.1h0.9v0.9h-0.9zM792.4 346.3h0.9v0.9h-0.9zM757.9 343.9h0.9v0.9h-0.9zM752.3 343.6h0.9v0.9h-0.9zM738.8 349.4h0.9v0.9h-0.9zM761.4 337.7h0.9v0.9h-0.9zM777.8 349.8h0.9v0.9h-0.9zM775.8 341.3h0.9v0.9h-0.9zM795.0 344.5h0.9v0.9h-0.9zM801.0 341.8h0.9v0.9h-0.9zM802.7 341.1h0.9v0.9h-0.9zM738.3 338.8h0.9v0.9h-0.9zM773.1 346.3h0.9v0.9h-0.9zM783.6 339.1h0.9v0.9h-0.9zM768.4 344.8h0.9v0.9h-0.9zM791.0 347.8h0.9v0.9h-0.9zM743.5 348.8h0.9v0.9h-0.9zM797.4 342.4h0.9v0.9h-0.9zM774.3 348.1h0.9v0.9h-0.9zM814.2 342.4h0.9v0.9h-0.9z"/>
<path fill="#1828B0"  d="M776.7 345.1h0.9v0.9h-0.9zM751.4 345.1h0.9v0.9h-0.9zM781.6 346.5h0.9v0.9h-0.9zM770.9 348.6h0.9v0.9h-0.9zM753.6 349.2h0.9v0.9h-0.9zM750.7 345.7h0.9v0.9h-0.9zM792.8 339.9h0.9v0.9h-0.9zM789.0 343.5h0.9v0.9h-0.9zM821.3 344.8h0.9v0.9h-0.9zM785.2 348.6h0.9v0.9h-0.9zM736.2 342.2h0.9v0.9h-0.9zM740.2 340.9h0.9v0.9h-0.9zM786.4 340.1h0.9v0.9h-0.9zM815.2 349.8h0.9v0.9h-0.9zM816.0 348.8h0.9v0.9h-0.9zM806.1 348.7h0.9v0.9h-0.9zM791.1 343.6h0.9v0.9h-0.9zM789.7 339.2h0.9v0.9h-0.9zM769.8 347.5h0.9v0.9h-0.9zM802.4 338.1h0.9v0.9h-0.9zM816.5 346.7h0.9v0.9h-0.9zM815.2 342.9h0.9v0.9h-0.9zM817.3 348.9h0.9v0.9h-0.9zM754.0 344.0h0.9v0.9h-0.9zM791.5 344.4h0.9v0.9h-0.9zM796.5 341.2h0.9v0.9h-0.9zM750.8 337.5h0.9v0.9h-0.9zM765.9 347.1h0.9v0.9h-0.9zM790.2 347.7h0.9v0.9h-0.9zM806.6 349.5h0.9v0.9h-0.9zM766.2 339.3h0.9v0.9h-0.9zM784.4 347.8h0.9v0.9h-0.9zM806.9 340.8h0.9v0.9h-0.9zM797.0 349.5h0.9v0.9h-0.9zM785.3 342.7h0.9v0.9h-0.9zM811.5 349.7h0.9v0.9h-0.9zM786.4 341.2h0.9v0.9h-0.9zM822.2 345.2h0.9v0.9h-0.9zM807.0 345.7h0.9v0.9h-0.9zM797.1 338.9h0.9v0.9h-0.9zM800.7 340.0h0.9v0.9h-0.9zM757.3 341.2h0.9v0.9h-0.9zM774.1 343.6h0.9v0.9h-0.9zM791.7 346.5h0.9v0.9h-0.9zM780.4 347.7h0.9v0.9h-0.9zM744.3 338.3h0.9v0.9h-0.9zM740.3 349.6h0.9v0.9h-0.9zM803.8 342.9h0.9v0.9h-0.9zM781.2 344.2h0.9v0.9h-0.9zM791.5 343.9h0.9v0.9h-0.9zM805.0 348.3h0.9v0.9h-0.9zM804.0 347.8h0.9v0.9h-0.9zM800.0 339.0h0.9v0.9h-0.9zM777.0 337.5h0.9v0.9h-0.9zM820.0 346.8h0.9v0.9h-0.9zM794.3 345.8h0.9v0.9h-0.9zM769.9 350.0h0.9v0.9h-0.9zM757.4 349.1h0.9v0.9h-0.9zM780.6 349.7h0.9v0.9h-0.9zM777.3 340.7h0.9v0.9h-0.9zM772.7 345.3h0.9v0.9h-0.9zM767.7 342.4h0.9v0.9h-0.9zM741.3 349.1h0.9v0.9h-0.9zM789.2 339.9h0.9v0.9h-0.9zM782.4 340.0h0.9v0.9h-0.9zM815.3 348.0h0.9v0.9h-0.9zM785.7 346.0h0.9v0.9h-0.9zM795.8 345.6h0.9v0.9h-0.9zM817.9 344.2h0.9v0.9h-0.9zM742.2 345.7h0.9v0.9h-0.9zM741.6 341.4h0.9v0.9h-0.9zM767.0 347.4h0.9v0.9h-0.9zM745.3 347.2h0.9v0.9h-0.9zM815.5 341.9h0.9v0.9h-0.9zM767.7 343.4h0.9v0.9h-0.9zM769.7 341.1h0.9v0.9h-0.9zM781.3 345.5h0.9v0.9h-0.9z"/>
<path fill="#2030E0"  d="M775.5 345.7h0.9v0.9h-0.9zM742.9 348.2h0.9v0.9h-0.9zM738.5 349.8h0.9v0.9h-0.9zM776.6 344.3h0.9v0.9h-0.9zM824.8 350.0h0.9v0.9h-0.9zM760.8 339.0h0.9v0.9h-0.9zM742.6 343.0h0.9v0.9h-0.9zM743.8 338.8h0.9v0.9h-0.9zM753.9 342.2h0.9v0.9h-0.9zM807.2 342.7h0.9v0.9h-0.9zM753.7 343.8h0.9v0.9h-0.9zM792.7 339.6h0.9v0.9h-0.9zM754.0 342.0h0.9v0.9h-0.9zM751.8 347.5h0.9v0.9h-0.9zM752.5 349.5h0.9v0.9h-0.9zM798.3 342.0h0.9v0.9h-0.9zM737.9 337.8h0.9v0.9h-0.9zM792.1 344.8h0.9v0.9h-0.9zM784.0 347.5h0.9v0.9h-0.9zM801.3 347.2h0.9v0.9h-0.9zM817.3 343.3h0.9v0.9h-0.9zM824.4 348.9h0.9v0.9h-0.9zM778.1 341.6h0.9v0.9h-0.9zM779.6 346.2h0.9v0.9h-0.9zM752.6 344.2h0.9v0.9h-0.9zM779.5 348.5h0.9v0.9h-0.9zM779.3 342.8h0.9v0.9h-0.9zM775.8 338.0h0.9v0.9h-0.9zM793.9 348.2h0.9v0.9h-0.9zM775.7 346.4h0.9v0.9h-0.9zM768.7 345.8h0.9v0.9h-0.9zM793.5 341.3h0.9v0.9h-0.9zM808.6 346.5h0.9v0.9h-0.9zM754.0 349.1h0.9v0.9h-0.9zM823.0 345.4h0.9v0.9h-0.9zM763.6 349.2h0.9v0.9h-0.9zM781.3 347.4h0.9v0.9h-0.9zM782.3 342.5h0.9v0.9h-0.9zM792.4 345.3h0.9v0.9h-0.9zM772.1 349.6h0.9v0.9h-0.9zM773.9 348.3h0.9v0.9h-0.9zM811.6 346.2h0.9v0.9h-0.9zM755.7 347.5h0.9v0.9h-0.9zM818.0 341.5h0.9v0.9h-0.9zM809.8 344.1h0.9v0.9h-0.9zM746.1 343.9h0.9v0.9h-0.9zM736.3 341.2h0.9v0.9h-0.9zM751.4 341.3h0.9v0.9h-0.9zM735.9 347.1h0.9v0.9h-0.9zM751.1 344.5h0.9v0.9h-0.9zM781.0 337.7h0.9v0.9h-0.9zM807.1 347.2h0.9v0.9h-0.9zM780.2 349.8h0.9v0.9h-0.9zM758.0 349.2h0.9v0.9h-0.9zM815.7 348.9h0.9v0.9h-0.9zM798.0 347.7h0.9v0.9h-0.9zM736.8 346.3h0.9v0.9h-0.9zM824.6 346.5h0.9v0.9h-0.9zM741.6 346.1h0.9v0.9h-0.9zM789.9 338.8h0.9v0.9h-0.9zM785.3 342.4h0.9v0.9h-0.9zM738.6 340.6h0.9v0.9h-0.9zM769.9 349.1h0.9v0.9h-0.9zM739.2 349.9h0.9v0.9h-0.9zM782.0 349.4h0.9v0.9h-0.9zM777.0 349.8h0.9v0.9h-0.9zM787.3 344.1h0.9v0.9h-0.9zM782.6 350.0h0.9v0.9h-0.9zM767.1 342.2h0.9v0.9h-0.9zM823.2 349.2h0.9v0.9h-0.9zM765.7 347.6h0.9v0.9h-0.9zM741.4 339.9h0.9v0.9h-0.9zM773.0 342.0h0.9v0.9h-0.9zM768.0 346.7h0.9v0.9h-0.9zM764.1 345.5h0.9v0.9h-0.9zM796.6 342.6h0.9v0.9h-0.9zM742.1 342.6h0.9v0.9h-0.9zM817.6 349.4h0.9v0.9h-0.9zM763.4 343.8h0.9v0.9h-0.9zM806.7 345.5h0.9v0.9h-0.9zM785.5 340.9h0.9v0.9h-0.9z"/>
<rect x="734.7" y="333.6" width="90.3" height="3.8" fill="url(#gb1)" opacity="1.0"/>
<path fill="#2A9A2A" opacity="0.80" d="M824.2 335.5h1v0.8h-1zM753.2 335.6h1v0.8h-1zM822.3 334.7h1v0.8h-1zM787.4 336.8h1v0.8h-1zM744.5 335.0h1v0.8h-1zM754.9 335.0h1v0.8h-1zM750.3 336.4h1v0.8h-1zM778.3 335.1h1v0.8h-1zM782.3 335.8h1v0.8h-1zM824.1 336.2h1v0.8h-1zM748.9 335.0h1v0.8h-1zM792.2 337.0h1v0.8h-1zM808.9 334.8h1v0.8h-1zM772.4 336.8h1v0.8h-1zM762.8 335.3h1v0.8h-1zM767.2 336.2h1v0.8h-1zM809.6 336.2h1v0.8h-1zM768.8 336.3h1v0.8h-1zM785.6 335.7h1v0.8h-1zM824.2 336.5h1v0.8h-1z"/>
<path fill="#34C834" opacity="0.80" d="M815.9 334.8h1v0.8h-1zM747.7 336.4h1v0.8h-1zM781.8 336.4h1v0.8h-1zM798.6 336.8h1v0.8h-1zM821.2 336.1h1v0.8h-1zM798.8 336.5h1v0.8h-1zM750.9 334.7h1v0.8h-1zM756.0 336.3h1v0.8h-1zM784.2 336.6h1v0.8h-1zM820.3 336.5h1v0.8h-1zM735.7 335.7h1v0.8h-1zM806.6 336.3h1v0.8h-1zM758.1 336.7h1v0.8h-1zM799.4 334.8h1v0.8h-1zM777.0 336.9h1v0.8h-1zM809.3 335.1h1v0.8h-1z"/>
<path fill="#48F048" opacity="0.80" d="M822.0 336.2h1v0.8h-1zM740.5 335.9h1v0.8h-1zM742.3 334.8h1v0.8h-1zM756.9 335.1h1v0.8h-1zM765.2 336.9h1v0.8h-1zM779.3 335.9h1v0.8h-1zM809.3 336.2h1v0.8h-1zM807.5 336.6h1v0.8h-1zM772.7 335.0h1v0.8h-1zM745.1 336.2h1v0.8h-1zM758.2 336.7h1v0.8h-1zM765.6 335.9h1v0.8h-1zM783.0 335.0h1v0.8h-1zM734.8 336.6h1v0.8h-1zM812.1 335.3h1v0.8h-1zM782.2 335.0h1v0.8h-1zM762.3 335.7h1v0.8h-1zM770.3 335.7h1v0.8h-1z"/>
<rect x="817" y="366" width="5" height="1.8" fill="#701818"/>
<rect x="826.5" y="337.0" width="89.5" height="12.0" fill="url(#bb1)"/>
<path fill="#141E80"  d="M861.6 346.0h0.9v0.9h-0.9zM844.4 346.6h0.9v0.9h-0.9zM856.2 347.5h0.9v0.9h-0.9zM901.4 345.3h0.9v0.9h-0.9zM846.8 340.3h0.9v0.9h-0.9zM856.2 343.5h0.9v0.9h-0.9zM882.6 340.9h0.9v0.9h-0.9zM876.7 345.0h0.9v0.9h-0.9zM852.3 348.1h0.9v0.9h-0.9zM877.8 347.5h0.9v0.9h-0.9zM875.5 339.0h0.9v0.9h-0.9zM898.4 337.7h0.9v0.9h-0.9zM850.1 345.1h0.9v0.9h-0.9zM871.5 343.3h0.9v0.9h-0.9zM888.7 344.7h0.9v0.9h-0.9zM853.9 343.3h0.9v0.9h-0.9zM877.2 348.2h0.9v0.9h-0.9zM911.6 337.1h0.9v0.9h-0.9zM853.3 342.5h0.9v0.9h-0.9zM858.4 345.3h0.9v0.9h-0.9zM829.3 348.1h0.9v0.9h-0.9zM868.8 341.0h0.9v0.9h-0.9zM909.1 348.1h0.9v0.9h-0.9zM844.6 345.7h0.9v0.9h-0.9zM905.3 338.5h0.9v0.9h-0.9zM904.3 346.5h0.9v0.9h-0.9zM833.6 341.2h0.9v0.9h-0.9zM890.1 340.8h0.9v0.9h-0.9zM879.3 341.3h0.9v0.9h-0.9zM909.4 346.0h0.9v0.9h-0.9zM830.6 345.4h0.9v0.9h-0.9zM849.0 347.3h0.9v0.9h-0.9zM852.0 346.9h0.9v0.9h-0.9zM851.5 344.9h0.9v0.9h-0.9zM906.8 348.9h0.9v0.9h-0.9zM909.7 344.4h0.9v0.9h-0.9zM873.1 348.6h0.9v0.9h-0.9zM896.9 347.2h0.9v0.9h-0.9zM842.6 340.2h0.9v0.9h-0.9zM850.0 347.3h0.9v0.9h-0.9zM897.3 341.4h0.9v0.9h-0.9zM854.3 338.3h0.9v0.9h-0.9zM882.1 344.6h0.9v0.9h-0.9zM841.9 341.6h0.9v0.9h-0.9zM845.9 348.8h0.9v0.9h-0.9zM839.2 343.2h0.9v0.9h-0.9zM864.5 339.0h0.9v0.9h-0.9zM845.8 342.7h0.9v0.9h-0.9zM875.7 340.4h0.9v0.9h-0.9zM845.7 344.0h0.9v0.9h-0.9zM851.1 337.7h0.9v0.9h-0.9zM833.9 348.0h0.9v0.9h-0.9zM895.5 344.6h0.9v0.9h-0.9zM861.8 341.4h0.9v0.9h-0.9zM840.0 345.3h0.9v0.9h-0.9zM838.7 346.4h0.9v0.9h-0.9zM891.4 346.0h0.9v0.9h-0.9zM845.8 338.3h0.9v0.9h-0.9zM847.5 345.7h0.9v0.9h-0.9zM864.8 343.2h0.9v0.9h-0.9zM832.1 343.4h0.9v0.9h-0.9zM855.6 341.6h0.9v0.9h-0.9zM849.9 346.0h0.9v0.9h-0.9zM863.3 343.5h0.9v0.9h-0.9zM907.9 338.2h0.9v0.9h-0.9zM913.9 340.2h0.9v0.9h-0.9zM847.0 346.2h0.9v0.9h-0.9zM857.5 348.0h0.9v0.9h-0.9zM912.8 347.5h0.9v0.9h-0.9zM874.3 341.4h0.9v0.9h-0.9zM837.8 338.7h0.9v0.9h-0.9zM835.6 346.4h0.9v0.9h-0.9zM849.0 346.5h0.9v0.9h-0.9zM886.4 341.3h0.9v0.9h-0.9zM910.0 348.9h0.9v0.9h-0.9zM890.3 339.7h0.9v0.9h-0.9zM837.3 342.5h0.9v0.9h-0.9zM839.6 340.5h0.9v0.9h-0.9z"/>
<path fill="#1828B0"  d="M881.6 342.0h0.9v0.9h-0.9zM874.8 342.1h0.9v0.9h-0.9zM889.9 340.6h0.9v0.9h-0.9zM864.7 344.5h0.9v0.9h-0.9zM895.1 347.5h0.9v0.9h-0.9zM897.2 346.0h0.9v0.9h-0.9zM828.2 342.5h0.9v0.9h-0.9zM884.7 339.5h0.9v0.9h-0.9zM907.3 344.9h0.9v0.9h-0.9zM856.0 348.4h0.9v0.9h-0.9zM838.6 348.2h0.9v0.9h-0.9zM892.5 343.1h0.9v0.9h-0.9zM868.4 340.1h0.9v0.9h-0.9zM877.5 340.5h0.9v0.9h-0.9zM839.5 348.7h0.9v0.9h-0.9zM868.6 343.4h0.9v0.9h-0.9zM903.0 343.4h0.9v0.9h-0.9zM877.2 348.2h0.9v0.9h-0.9zM907.1 346.6h0.9v0.9h-0.9zM893.8 342.2h0.9v0.9h-0.9zM832.7 339.8h0.9v0.9h-0.9zM886.1 347.9h0.9v0.9h-0.9zM897.4 339.8h0.9v0.9h-0.9zM906.6 347.4h0.9v0.9h-0.9zM901.5 342.8h0.9v0.9h-0.9zM888.8 348.5h0.9v0.9h-0.9zM865.9 344.7h0.9v0.9h-0.9zM867.8 346.8h0.9v0.9h-0.9zM876.3 345.8h0.9v0.9h-0.9zM885.4 347.1h0.9v0.9h-0.9zM896.3 340.4h0.9v0.9h-0.9zM870.3 341.2h0.9v0.9h-0.9zM871.2 338.2h0.9v0.9h-0.9zM870.9 343.7h0.9v0.9h-0.9zM907.7 345.1h0.9v0.9h-0.9zM832.0 343.4h0.9v0.9h-0.9zM847.1 341.6h0.9v0.9h-0.9zM881.2 338.3h0.9v0.9h-0.9zM884.7 338.6h0.9v0.9h-0.9zM888.7 347.8h0.9v0.9h-0.9zM905.8 344.0h0.9v0.9h-0.9zM903.7 341.0h0.9v0.9h-0.9zM833.0 346.3h0.9v0.9h-0.9zM890.5 341.8h0.9v0.9h-0.9zM840.2 348.5h0.9v0.9h-0.9zM828.3 342.4h0.9v0.9h-0.9zM854.4 343.6h0.9v0.9h-0.9zM846.7 342.1h0.9v0.9h-0.9zM860.8 342.5h0.9v0.9h-0.9zM851.5 340.3h0.9v0.9h-0.9zM869.0 340.4h0.9v0.9h-0.9zM848.0 339.3h0.9v0.9h-0.9zM864.3 340.2h0.9v0.9h-0.9zM828.6 343.2h0.9v0.9h-0.9zM870.9 345.3h0.9v0.9h-0.9zM857.6 348.1h0.9v0.9h-0.9zM895.5 345.7h0.9v0.9h-0.9zM900.7 348.0h0.9v0.9h-0.9zM871.9 342.3h0.9v0.9h-0.9zM826.6 344.8h0.9v0.9h-0.9zM847.9 344.3h0.9v0.9h-0.9zM875.6 345.6h0.9v0.9h-0.9zM900.9 348.7h0.9v0.9h-0.9zM882.1 344.3h0.9v0.9h-0.9zM855.6 340.6h0.9v0.9h-0.9zM866.9 347.0h0.9v0.9h-0.9zM831.3 341.6h0.9v0.9h-0.9zM900.7 345.1h0.9v0.9h-0.9zM898.2 339.8h0.9v0.9h-0.9zM864.0 345.7h0.9v0.9h-0.9zM875.1 344.2h0.9v0.9h-0.9zM851.9 343.2h0.9v0.9h-0.9zM895.0 348.8h0.9v0.9h-0.9z"/>
<path fill="#2030E0"  d="M911.1 345.0h0.9v0.9h-0.9zM839.1 339.3h0.9v0.9h-0.9zM862.9 338.9h0.9v0.9h-0.9zM862.4 346.3h0.9v0.9h-0.9zM872.1 347.2h0.9v0.9h-0.9zM881.2 340.3h0.9v0.9h-0.9zM871.3 340.1h0.9v0.9h-0.9zM914.8 344.6h0.9v0.9h-0.9zM901.3 340.9h0.9v0.9h-0.9zM848.4 345.2h0.9v0.9h-0.9zM867.9 339.8h0.9v0.9h-0.9zM907.9 348.9h0.9v0.9h-0.9zM880.3 339.8h0.9v0.9h-0.9zM842.6 348.9h0.9v0.9h-0.9zM885.4 342.3h0.9v0.9h-0.9zM883.9 338.2h0.9v0.9h-0.9zM888.2 346.9h0.9v0.9h-0.9zM870.0 349.0h0.9v0.9h-0.9zM873.5 343.7h0.9v0.9h-0.9zM855.2 338.6h0.9v0.9h-0.9zM832.6 348.2h0.9v0.9h-0.9zM898.6 341.2h0.9v0.9h-0.9zM871.1 348.4h0.9v0.9h-0.9zM841.9 348.0h0.9v0.9h-0.9zM891.5 342.3h0.9v0.9h-0.9zM847.6 346.0h0.9v0.9h-0.9zM859.8 346.0h0.9v0.9h-0.9zM883.8 339.2h0.9v0.9h-0.9zM871.8 347.7h0.9v0.9h-0.9zM847.6 343.8h0.9v0.9h-0.9zM890.5 345.1h0.9v0.9h-0.9zM879.2 339.2h0.9v0.9h-0.9zM888.3 347.5h0.9v0.9h-0.9zM870.3 346.9h0.9v0.9h-0.9zM839.4 343.9h0.9v0.9h-0.9zM830.0 341.4h0.9v0.9h-0.9zM915.7 346.9h0.9v0.9h-0.9zM848.1 344.0h0.9v0.9h-0.9zM859.1 342.6h0.9v0.9h-0.9zM902.0 343.1h0.9v0.9h-0.9zM866.5 348.9h0.9v0.9h-0.9zM850.0 343.2h0.9v0.9h-0.9zM895.0 346.6h0.9v0.9h-0.9zM844.8 341.9h0.9v0.9h-0.9zM862.8 343.2h0.9v0.9h-0.9zM882.9 345.1h0.9v0.9h-0.9zM913.8 342.1h0.9v0.9h-0.9zM908.8 341.1h0.9v0.9h-0.9zM886.2 348.6h0.9v0.9h-0.9zM889.3 344.9h0.9v0.9h-0.9zM868.5 345.5h0.9v0.9h-0.9zM859.0 345.2h0.9v0.9h-0.9zM890.6 346.3h0.9v0.9h-0.9zM859.6 342.0h0.9v0.9h-0.9zM841.0 347.9h0.9v0.9h-0.9zM897.8 343.2h0.9v0.9h-0.9zM856.4 346.9h0.9v0.9h-0.9zM889.8 345.6h0.9v0.9h-0.9zM827.7 345.3h0.9v0.9h-0.9zM913.4 339.9h0.9v0.9h-0.9zM852.1 346.6h0.9v0.9h-0.9zM854.2 347.3h0.9v0.9h-0.9zM888.6 344.9h0.9v0.9h-0.9z"/>
<rect x="826.5" y="328.6" width="89.5" height="9.6" fill="url(#gb1)" opacity="0.55"/>
<path fill="#2A9A2A" opacity="0.44" d="M837.3 332.9h1v0.8h-1zM859.2 332.6h1v0.8h-1zM832.3 336.4h1v0.8h-1zM885.3 334.7h1v0.8h-1zM842.2 331.2h1v0.8h-1zM862.5 335.2h1v0.8h-1zM883.6 333.1h1v0.8h-1zM907.5 332.9h1v0.8h-1zM856.5 335.4h1v0.8h-1zM842.4 331.6h1v0.8h-1zM857.9 333.6h1v0.8h-1zM871.5 333.4h1v0.8h-1zM874.6 336.7h1v0.8h-1zM889.7 332.1h1v0.8h-1zM887.1 336.7h1v0.8h-1zM871.7 334.4h1v0.8h-1zM915.4 335.4h1v0.8h-1zM874.5 336.2h1v0.8h-1zM851.5 334.9h1v0.8h-1zM903.9 336.0h1v0.8h-1zM881.7 336.4h1v0.8h-1zM905.0 335.4h1v0.8h-1zM886.3 333.6h1v0.8h-1zM868.2 331.8h1v0.8h-1zM892.4 333.2h1v0.8h-1zM857.5 335.2h1v0.8h-1zM832.2 333.5h1v0.8h-1zM866.0 336.7h1v0.8h-1zM888.7 335.0h1v0.8h-1zM906.9 336.7h1v0.8h-1zM845.2 333.2h1v0.8h-1zM861.8 335.5h1v0.8h-1zM891.9 335.7h1v0.8h-1zM911.0 336.4h1v0.8h-1zM836.5 335.7h1v0.8h-1zM852.8 335.7h1v0.8h-1zM863.5 331.3h1v0.8h-1zM912.8 333.5h1v0.8h-1zM829.1 331.7h1v0.8h-1zM830.6 333.5h1v0.8h-1zM853.3 335.4h1v0.8h-1zM830.9 336.0h1v0.8h-1zM854.6 333.9h1v0.8h-1zM893.6 333.9h1v0.8h-1zM862.9 336.8h1v0.8h-1zM880.0 333.2h1v0.8h-1zM881.0 334.5h1v0.8h-1zM831.2 331.6h1v0.8h-1zM903.5 333.4h1v0.8h-1zM900.9 333.0h1v0.8h-1zM831.6 335.6h1v0.8h-1zM893.9 334.5h1v0.8h-1zM914.5 336.5h1v0.8h-1zM886.1 334.3h1v0.8h-1zM876.6 336.5h1v0.8h-1zM835.9 335.5h1v0.8h-1zM869.5 336.9h1v0.8h-1zM888.9 332.4h1v0.8h-1zM891.9 334.4h1v0.8h-1zM867.3 333.9h1v0.8h-1zM893.9 331.6h1v0.8h-1zM877.3 334.3h1v0.8h-1z"/>
<path fill="#34C834" opacity="0.44" d="M910.1 332.5h1v0.8h-1zM877.1 331.9h1v0.8h-1zM851.0 332.4h1v0.8h-1zM833.5 332.1h1v0.8h-1zM861.9 331.3h1v0.8h-1zM837.1 331.4h1v0.8h-1zM893.9 332.9h1v0.8h-1zM897.4 335.4h1v0.8h-1zM907.9 331.1h1v0.8h-1zM846.8 333.3h1v0.8h-1zM885.3 335.9h1v0.8h-1zM836.2 336.9h1v0.8h-1zM912.7 332.3h1v0.8h-1zM839.8 334.8h1v0.8h-1zM884.1 332.3h1v0.8h-1zM905.9 336.1h1v0.8h-1zM901.5 335.1h1v0.8h-1zM886.1 333.5h1v0.8h-1zM847.1 334.6h1v0.8h-1zM872.6 331.2h1v0.8h-1zM866.5 334.6h1v0.8h-1zM909.9 331.9h1v0.8h-1zM892.4 336.9h1v0.8h-1zM848.9 335.8h1v0.8h-1zM876.2 335.7h1v0.8h-1zM897.8 331.9h1v0.8h-1zM835.5 331.2h1v0.8h-1zM914.9 332.2h1v0.8h-1zM856.9 332.9h1v0.8h-1zM910.7 334.7h1v0.8h-1zM863.0 331.9h1v0.8h-1zM864.5 335.9h1v0.8h-1zM867.2 336.6h1v0.8h-1zM893.0 334.6h1v0.8h-1zM849.0 333.5h1v0.8h-1zM899.9 336.1h1v0.8h-1zM834.4 333.2h1v0.8h-1zM891.2 335.0h1v0.8h-1zM883.2 333.8h1v0.8h-1zM832.5 333.8h1v0.8h-1zM841.4 334.9h1v0.8h-1zM857.9 334.2h1v0.8h-1zM871.9 331.7h1v0.8h-1zM838.1 331.5h1v0.8h-1zM866.9 334.3h1v0.8h-1zM840.4 336.8h1v0.8h-1zM890.3 331.9h1v0.8h-1zM855.9 333.9h1v0.8h-1zM905.9 336.7h1v0.8h-1zM871.3 336.4h1v0.8h-1zM859.4 333.6h1v0.8h-1zM858.6 333.6h1v0.8h-1zM873.7 334.3h1v0.8h-1zM846.4 331.6h1v0.8h-1zM879.6 336.8h1v0.8h-1zM850.7 335.8h1v0.8h-1zM899.8 335.7h1v0.8h-1zM860.3 333.7h1v0.8h-1zM837.5 336.2h1v0.8h-1zM829.3 333.6h1v0.8h-1zM886.9 336.6h1v0.8h-1zM878.9 332.2h1v0.8h-1zM841.2 333.1h1v0.8h-1zM873.0 333.3h1v0.8h-1zM901.9 333.1h1v0.8h-1zM832.2 335.9h1v0.8h-1zM890.6 333.6h1v0.8h-1zM846.1 332.2h1v0.8h-1z"/>
<path fill="#48F048" opacity="0.44" d="M915.7 332.2h1v0.8h-1zM869.8 333.5h1v0.8h-1zM910.5 336.2h1v0.8h-1zM866.2 336.0h1v0.8h-1zM827.4 332.3h1v0.8h-1zM827.5 334.2h1v0.8h-1zM898.4 336.0h1v0.8h-1zM914.7 331.6h1v0.8h-1zM893.0 334.3h1v0.8h-1zM905.3 332.9h1v0.8h-1zM842.9 333.1h1v0.8h-1zM904.1 331.8h1v0.8h-1zM870.5 332.4h1v0.8h-1zM884.6 336.6h1v0.8h-1zM897.9 334.1h1v0.8h-1zM832.3 336.2h1v0.8h-1zM848.1 335.8h1v0.8h-1zM895.5 334.3h1v0.8h-1zM842.8 333.3h1v0.8h-1zM851.4 334.6h1v0.8h-1zM842.7 331.8h1v0.8h-1zM844.1 337.0h1v0.8h-1zM867.4 334.0h1v0.8h-1zM878.3 332.7h1v0.8h-1zM852.1 336.1h1v0.8h-1zM863.3 331.8h1v0.8h-1zM875.4 331.6h1v0.8h-1zM868.1 332.9h1v0.8h-1zM880.7 336.8h1v0.8h-1zM915.3 333.4h1v0.8h-1zM884.7 335.2h1v0.8h-1zM885.2 332.3h1v0.8h-1zM892.9 332.5h1v0.8h-1zM868.4 331.1h1v0.8h-1zM902.6 331.6h1v0.8h-1zM862.9 334.7h1v0.8h-1zM840.3 335.9h1v0.8h-1zM913.0 334.9h1v0.8h-1zM849.8 331.7h1v0.8h-1zM871.0 334.1h1v0.8h-1zM887.4 331.5h1v0.8h-1zM882.4 334.3h1v0.8h-1zM883.7 331.1h1v0.8h-1zM892.5 333.5h1v0.8h-1zM896.4 333.6h1v0.8h-1zM837.1 332.9h1v0.8h-1zM832.9 331.7h1v0.8h-1zM837.1 332.9h1v0.8h-1zM863.6 334.2h1v0.8h-1zM888.2 333.3h1v0.8h-1zM876.6 336.9h1v0.8h-1zM902.3 331.2h1v0.8h-1zM840.1 336.7h1v0.8h-1zM898.6 331.6h1v0.8h-1zM881.1 331.7h1v0.8h-1zM878.6 336.4h1v0.8h-1zM888.2 333.2h1v0.8h-1z"/>
<rect x="908" y="366" width="5" height="1.8" fill="#701818"/>
<rect x="918" y="334.5" width="89.2" height="12.5" fill="url(#bb1)"/>
<path fill="#141E80"  d="M982.8 339.4h0.9v0.9h-0.9zM919.8 342.6h0.9v0.9h-0.9zM944.1 339.3h0.9v0.9h-0.9zM961.3 339.5h0.9v0.9h-0.9zM987.1 339.4h0.9v0.9h-0.9zM968.5 340.5h0.9v0.9h-0.9zM927.1 342.9h0.9v0.9h-0.9zM923.5 343.9h0.9v0.9h-0.9zM955.2 342.0h0.9v0.9h-0.9zM968.1 337.6h0.9v0.9h-0.9zM994.6 346.4h0.9v0.9h-0.9zM1003.4 335.4h0.9v0.9h-0.9zM947.9 340.5h0.9v0.9h-0.9zM933.7 337.8h0.9v0.9h-0.9zM960.7 345.0h0.9v0.9h-0.9zM939.3 343.8h0.9v0.9h-0.9zM934.5 339.0h0.9v0.9h-0.9zM988.5 342.6h0.9v0.9h-0.9zM986.1 339.2h0.9v0.9h-0.9zM923.8 346.2h0.9v0.9h-0.9zM958.5 340.8h0.9v0.9h-0.9zM942.4 346.5h0.9v0.9h-0.9zM934.5 340.5h0.9v0.9h-0.9zM945.4 338.3h0.9v0.9h-0.9zM925.3 338.9h0.9v0.9h-0.9zM962.9 338.0h0.9v0.9h-0.9zM993.5 341.8h0.9v0.9h-0.9zM1002.2 346.8h0.9v0.9h-0.9zM986.0 341.1h0.9v0.9h-0.9zM936.9 335.3h0.9v0.9h-0.9zM959.5 338.3h0.9v0.9h-0.9zM945.1 335.8h0.9v0.9h-0.9zM966.2 341.8h0.9v0.9h-0.9zM994.1 345.9h0.9v0.9h-0.9zM963.4 346.9h0.9v0.9h-0.9zM933.2 344.5h0.9v0.9h-0.9zM918.1 342.2h0.9v0.9h-0.9zM975.2 346.7h0.9v0.9h-0.9zM961.7 342.0h0.9v0.9h-0.9zM990.2 345.2h0.9v0.9h-0.9zM990.7 339.9h0.9v0.9h-0.9zM923.8 343.9h0.9v0.9h-0.9zM1005.6 345.9h0.9v0.9h-0.9zM1005.9 343.5h0.9v0.9h-0.9zM979.9 342.4h0.9v0.9h-0.9zM979.2 346.5h0.9v0.9h-0.9zM1000.7 346.2h0.9v0.9h-0.9zM987.1 340.3h0.9v0.9h-0.9zM964.6 342.1h0.9v0.9h-0.9zM984.4 339.2h0.9v0.9h-0.9zM969.8 339.1h0.9v0.9h-0.9zM955.0 341.2h0.9v0.9h-0.9zM960.3 346.6h0.9v0.9h-0.9zM1007.0 342.5h0.9v0.9h-0.9zM986.3 336.2h0.9v0.9h-0.9zM1003.2 346.0h0.9v0.9h-0.9zM922.1 344.3h0.9v0.9h-0.9zM922.9 341.9h0.9v0.9h-0.9zM961.4 343.1h0.9v0.9h-0.9zM1005.7 337.3h0.9v0.9h-0.9zM977.9 344.6h0.9v0.9h-0.9zM941.1 343.4h0.9v0.9h-0.9zM953.5 346.9h0.9v0.9h-0.9zM984.6 343.0h0.9v0.9h-0.9zM997.7 343.9h0.9v0.9h-0.9zM989.9 341.3h0.9v0.9h-0.9zM949.5 344.8h0.9v0.9h-0.9zM991.9 340.9h0.9v0.9h-0.9zM950.0 342.6h0.9v0.9h-0.9zM951.4 343.8h0.9v0.9h-0.9zM940.3 338.2h0.9v0.9h-0.9zM948.1 345.9h0.9v0.9h-0.9zM1006.0 338.9h0.9v0.9h-0.9zM938.2 340.7h0.9v0.9h-0.9zM970.0 336.9h0.9v0.9h-0.9zM994.9 336.3h0.9v0.9h-0.9zM919.9 344.2h0.9v0.9h-0.9zM946.8 341.8h0.9v0.9h-0.9zM940.2 339.8h0.9v0.9h-0.9zM959.8 342.3h0.9v0.9h-0.9z"/>
<path fill="#1828B0"  d="M938.8 341.7h0.9v0.9h-0.9zM983.0 346.5h0.9v0.9h-0.9zM964.5 336.6h0.9v0.9h-0.9zM934.5 342.5h0.9v0.9h-0.9zM992.0 344.1h0.9v0.9h-0.9zM1005.0 345.5h0.9v0.9h-0.9zM986.7 339.4h0.9v0.9h-0.9zM955.0 346.9h0.9v0.9h-0.9zM951.8 339.7h0.9v0.9h-0.9zM919.2 342.2h0.9v0.9h-0.9zM965.0 342.6h0.9v0.9h-0.9zM1004.8 341.8h0.9v0.9h-0.9zM989.3 342.2h0.9v0.9h-0.9zM973.2 340.7h0.9v0.9h-0.9zM973.7 340.1h0.9v0.9h-0.9zM996.8 343.0h0.9v0.9h-0.9zM949.0 342.8h0.9v0.9h-0.9zM1000.3 342.3h0.9v0.9h-0.9zM969.2 343.6h0.9v0.9h-0.9zM926.0 342.2h0.9v0.9h-0.9zM940.7 346.1h0.9v0.9h-0.9zM993.0 342.2h0.9v0.9h-0.9zM1000.0 335.4h0.9v0.9h-0.9zM948.6 345.1h0.9v0.9h-0.9zM999.3 346.4h0.9v0.9h-0.9zM968.8 346.5h0.9v0.9h-0.9zM961.9 340.9h0.9v0.9h-0.9zM942.3 338.4h0.9v0.9h-0.9zM994.9 342.6h0.9v0.9h-0.9zM924.2 336.1h0.9v0.9h-0.9zM965.0 346.5h0.9v0.9h-0.9zM998.5 339.3h0.9v0.9h-0.9zM975.8 344.3h0.9v0.9h-0.9zM956.6 337.1h0.9v0.9h-0.9zM957.0 337.5h0.9v0.9h-0.9zM969.1 344.7h0.9v0.9h-0.9zM975.9 344.1h0.9v0.9h-0.9zM924.5 341.0h0.9v0.9h-0.9zM937.7 345.8h0.9v0.9h-0.9zM958.0 340.7h0.9v0.9h-0.9zM958.4 340.1h0.9v0.9h-0.9zM1005.1 345.1h0.9v0.9h-0.9zM982.6 346.6h0.9v0.9h-0.9zM977.7 341.5h0.9v0.9h-0.9zM938.2 344.9h0.9v0.9h-0.9zM999.4 336.2h0.9v0.9h-0.9zM991.3 345.5h0.9v0.9h-0.9zM980.9 342.8h0.9v0.9h-0.9zM942.5 342.9h0.9v0.9h-0.9zM962.2 338.1h0.9v0.9h-0.9zM972.0 341.8h0.9v0.9h-0.9zM960.3 340.1h0.9v0.9h-0.9zM990.5 342.9h0.9v0.9h-0.9zM948.4 341.5h0.9v0.9h-0.9zM923.6 345.6h0.9v0.9h-0.9zM949.5 346.9h0.9v0.9h-0.9zM968.1 340.6h0.9v0.9h-0.9zM919.4 340.0h0.9v0.9h-0.9zM997.1 344.8h0.9v0.9h-0.9zM976.8 344.2h0.9v0.9h-0.9z"/>
<path fill="#2030E0"  d="M982.1 339.8h0.9v0.9h-0.9zM942.8 342.3h0.9v0.9h-0.9zM932.3 345.7h0.9v0.9h-0.9zM972.4 342.7h0.9v0.9h-0.9zM965.7 343.8h0.9v0.9h-0.9zM1001.5 340.6h0.9v0.9h-0.9zM1002.7 337.2h0.9v0.9h-0.9zM976.6 336.5h0.9v0.9h-0.9zM1006.2 340.0h0.9v0.9h-0.9zM920.6 342.9h0.9v0.9h-0.9zM979.1 345.7h0.9v0.9h-0.9zM962.5 338.5h0.9v0.9h-0.9zM961.4 342.8h0.9v0.9h-0.9zM947.9 344.3h0.9v0.9h-0.9zM1005.1 346.6h0.9v0.9h-0.9zM961.7 343.1h0.9v0.9h-0.9zM972.7 343.4h0.9v0.9h-0.9zM925.7 342.4h0.9v0.9h-0.9zM920.8 337.2h0.9v0.9h-0.9zM969.7 344.8h0.9v0.9h-0.9zM918.1 336.4h0.9v0.9h-0.9zM964.9 340.3h0.9v0.9h-0.9zM958.6 339.0h0.9v0.9h-0.9zM964.6 339.3h0.9v0.9h-0.9zM947.4 344.5h0.9v0.9h-0.9zM949.8 346.2h0.9v0.9h-0.9zM952.5 337.6h0.9v0.9h-0.9zM987.8 340.4h0.9v0.9h-0.9zM984.1 341.9h0.9v0.9h-0.9zM936.3 345.9h0.9v0.9h-0.9zM1001.1 340.4h0.9v0.9h-0.9zM930.6 344.4h0.9v0.9h-0.9zM935.2 337.6h0.9v0.9h-0.9zM996.7 344.5h0.9v0.9h-0.9zM986.0 342.5h0.9v0.9h-0.9zM945.6 344.8h0.9v0.9h-0.9zM968.7 339.8h0.9v0.9h-0.9zM932.5 338.2h0.9v0.9h-0.9zM999.5 339.0h0.9v0.9h-0.9zM970.1 337.9h0.9v0.9h-0.9zM943.3 336.9h0.9v0.9h-0.9zM957.5 336.7h0.9v0.9h-0.9zM938.9 345.5h0.9v0.9h-0.9zM956.0 342.8h0.9v0.9h-0.9zM935.5 338.8h0.9v0.9h-0.9zM989.7 346.8h0.9v0.9h-0.9zM979.1 345.2h0.9v0.9h-0.9zM934.6 344.2h0.9v0.9h-0.9zM982.8 336.2h0.9v0.9h-0.9zM986.6 345.1h0.9v0.9h-0.9zM920.0 338.0h0.9v0.9h-0.9zM938.4 343.8h0.9v0.9h-0.9zM1002.9 343.4h0.9v0.9h-0.9zM956.6 344.1h0.9v0.9h-0.9zM967.5 343.7h0.9v0.9h-0.9zM967.2 339.5h0.9v0.9h-0.9zM982.8 340.1h0.9v0.9h-0.9zM924.3 339.5h0.9v0.9h-0.9zM927.4 346.6h0.9v0.9h-0.9zM954.6 341.1h0.9v0.9h-0.9zM941.0 345.1h0.9v0.9h-0.9zM954.7 339.9h0.9v0.9h-0.9zM958.6 341.9h0.9v0.9h-0.9zM958.6 340.8h0.9v0.9h-0.9zM1005.4 340.4h0.9v0.9h-0.9zM919.5 341.3h0.9v0.9h-0.9zM970.7 344.4h0.9v0.9h-0.9zM1006.0 337.6h0.9v0.9h-0.9zM947.0 344.5h0.9v0.9h-0.9zM1006.4 342.9h0.9v0.9h-0.9zM944.8 344.2h0.9v0.9h-0.9zM945.8 345.9h0.9v0.9h-0.9zM925.6 345.1h0.9v0.9h-0.9zM941.6 342.1h0.9v0.9h-0.9zM920.5 345.4h0.9v0.9h-0.9zM936.8 344.3h0.9v0.9h-0.9zM973.3 337.8h0.9v0.9h-0.9zM991.8 346.2h0.9v0.9h-0.9zM933.3 340.6h0.9v0.9h-0.9zM937.3 346.0h0.9v0.9h-0.9zM982.1 336.0h0.9v0.9h-0.9zM942.3 343.9h0.9v0.9h-0.9zM942.0 337.2h0.9v0.9h-0.9z"/>
<rect x="918" y="328.5" width="89.2" height="21.5" fill="#30B030" opacity="0.22"/>
<rect x="918" y="326.1" width="89.2" height="9.6" fill="url(#gb1)" opacity="0.45"/>
<path fill="#2A9A2A" opacity="0.36" d="M988.3 333.9h1v0.8h-1zM920.0 330.3h1v0.8h-1zM989.0 332.2h1v0.8h-1zM992.5 328.9h1v0.8h-1zM970.8 332.0h1v0.8h-1zM927.0 332.3h1v0.8h-1zM930.5 329.7h1v0.8h-1zM952.2 333.4h1v0.8h-1zM1004.4 329.9h1v0.8h-1zM999.8 332.5h1v0.8h-1zM934.6 329.9h1v0.8h-1zM982.0 331.5h1v0.8h-1zM951.1 330.5h1v0.8h-1zM970.9 334.0h1v0.8h-1zM968.4 329.9h1v0.8h-1zM985.9 332.8h1v0.8h-1zM991.6 329.4h1v0.8h-1zM952.0 329.0h1v0.8h-1zM921.3 329.2h1v0.8h-1zM935.0 329.2h1v0.8h-1zM975.1 329.5h1v0.8h-1zM965.8 330.8h1v0.8h-1zM935.2 330.5h1v0.8h-1zM966.3 334.1h1v0.8h-1zM981.0 333.9h1v0.8h-1zM929.7 333.2h1v0.8h-1zM974.1 330.2h1v0.8h-1zM994.5 334.4h1v0.8h-1zM950.6 332.7h1v0.8h-1zM948.3 328.5h1v0.8h-1zM918.2 330.5h1v0.8h-1zM1006.4 332.3h1v0.8h-1zM978.2 334.3h1v0.8h-1zM994.4 330.7h1v0.8h-1zM975.2 328.7h1v0.8h-1zM920.7 329.5h1v0.8h-1zM991.5 330.6h1v0.8h-1zM978.4 334.3h1v0.8h-1zM919.0 331.4h1v0.8h-1zM949.9 334.5h1v0.8h-1zM961.1 329.3h1v0.8h-1zM997.4 333.0h1v0.8h-1zM936.6 332.4h1v0.8h-1zM928.5 329.1h1v0.8h-1zM950.5 330.7h1v0.8h-1zM1004.9 332.1h1v0.8h-1zM940.4 330.4h1v0.8h-1zM989.2 334.0h1v0.8h-1zM951.7 329.2h1v0.8h-1zM974.9 333.9h1v0.8h-1zM940.7 333.1h1v0.8h-1zM942.8 332.9h1v0.8h-1zM975.0 333.3h1v0.8h-1zM935.1 329.2h1v0.8h-1zM988.7 332.1h1v0.8h-1zM958.4 332.1h1v0.8h-1zM995.4 331.9h1v0.8h-1zM991.6 329.1h1v0.8h-1zM918.1 331.8h1v0.8h-1zM996.8 328.9h1v0.8h-1zM954.8 331.6h1v0.8h-1zM927.5 329.3h1v0.8h-1zM965.5 332.0h1v0.8h-1zM1001.6 329.8h1v0.8h-1zM999.2 331.3h1v0.8h-1z"/>
<path fill="#34C834" opacity="0.36" d="M954.9 330.8h1v0.8h-1zM959.8 331.7h1v0.8h-1zM958.6 330.9h1v0.8h-1zM1004.6 331.8h1v0.8h-1zM945.6 333.7h1v0.8h-1zM919.2 329.4h1v0.8h-1zM975.0 329.2h1v0.8h-1zM937.3 331.2h1v0.8h-1zM948.0 332.0h1v0.8h-1zM919.6 329.8h1v0.8h-1zM947.8 334.2h1v0.8h-1zM934.5 332.3h1v0.8h-1zM1001.4 328.8h1v0.8h-1zM981.8 329.6h1v0.8h-1zM977.7 332.3h1v0.8h-1zM961.9 330.8h1v0.8h-1zM921.0 329.6h1v0.8h-1zM968.7 331.5h1v0.8h-1zM960.3 328.7h1v0.8h-1zM997.2 332.0h1v0.8h-1zM952.2 332.7h1v0.8h-1zM984.1 333.7h1v0.8h-1zM930.8 330.9h1v0.8h-1zM972.1 329.6h1v0.8h-1zM993.7 329.7h1v0.8h-1zM981.9 329.9h1v0.8h-1zM955.5 330.4h1v0.8h-1zM945.9 332.9h1v0.8h-1zM1004.2 329.7h1v0.8h-1zM932.5 328.7h1v0.8h-1zM934.3 332.9h1v0.8h-1zM926.8 328.7h1v0.8h-1zM991.5 332.6h1v0.8h-1zM965.4 329.3h1v0.8h-1zM987.1 332.3h1v0.8h-1zM971.7 331.6h1v0.8h-1zM923.2 329.3h1v0.8h-1zM943.9 331.2h1v0.8h-1zM961.2 330.9h1v0.8h-1zM931.4 329.4h1v0.8h-1zM971.7 333.1h1v0.8h-1zM978.2 329.8h1v0.8h-1zM927.7 328.7h1v0.8h-1zM936.4 328.8h1v0.8h-1zM1000.4 334.2h1v0.8h-1zM988.9 328.7h1v0.8h-1zM995.2 330.0h1v0.8h-1zM985.7 330.5h1v0.8h-1zM980.1 332.9h1v0.8h-1zM991.7 331.5h1v0.8h-1zM980.7 332.1h1v0.8h-1zM1004.5 330.9h1v0.8h-1zM951.4 331.0h1v0.8h-1zM975.7 330.6h1v0.8h-1zM993.3 330.8h1v0.8h-1zM996.3 330.6h1v0.8h-1zM936.0 330.2h1v0.8h-1zM921.1 331.0h1v0.8h-1zM990.1 329.0h1v0.8h-1zM926.7 329.1h1v0.8h-1zM931.9 334.5h1v0.8h-1zM977.7 329.4h1v0.8h-1zM945.6 331.1h1v0.8h-1zM1006.1 333.5h1v0.8h-1zM949.4 329.9h1v0.8h-1zM982.2 333.2h1v0.8h-1z"/>
<path fill="#48F048" opacity="0.36" d="M935.1 333.7h1v0.8h-1zM979.0 332.7h1v0.8h-1zM996.5 334.4h1v0.8h-1zM1006.3 329.0h1v0.8h-1zM1001.8 331.1h1v0.8h-1zM959.4 333.9h1v0.8h-1zM937.1 328.9h1v0.8h-1zM990.6 332.8h1v0.8h-1zM923.1 328.7h1v0.8h-1zM932.6 331.3h1v0.8h-1zM946.7 330.1h1v0.8h-1zM993.3 332.7h1v0.8h-1zM922.3 328.7h1v0.8h-1zM962.6 331.5h1v0.8h-1zM982.6 329.0h1v0.8h-1zM993.3 332.2h1v0.8h-1zM921.3 328.7h1v0.8h-1zM993.5 332.1h1v0.8h-1zM943.4 330.3h1v0.8h-1zM988.0 332.7h1v0.8h-1zM934.6 330.9h1v0.8h-1zM986.3 329.2h1v0.8h-1zM972.0 334.3h1v0.8h-1zM969.5 333.8h1v0.8h-1zM992.9 332.4h1v0.8h-1zM982.5 333.6h1v0.8h-1zM979.1 329.4h1v0.8h-1zM977.9 332.9h1v0.8h-1zM967.4 332.0h1v0.8h-1zM978.8 334.4h1v0.8h-1zM989.7 330.9h1v0.8h-1zM953.6 329.0h1v0.8h-1zM944.3 330.7h1v0.8h-1zM937.0 328.6h1v0.8h-1zM972.0 328.8h1v0.8h-1zM947.9 329.4h1v0.8h-1zM959.9 333.9h1v0.8h-1zM960.0 330.3h1v0.8h-1zM946.6 332.8h1v0.8h-1zM930.5 331.8h1v0.8h-1zM946.3 329.5h1v0.8h-1zM986.7 332.2h1v0.8h-1zM993.5 333.3h1v0.8h-1zM1004.7 330.7h1v0.8h-1zM998.0 334.2h1v0.8h-1zM975.6 331.3h1v0.8h-1zM954.9 331.6h1v0.8h-1zM979.5 331.9h1v0.8h-1zM922.2 329.5h1v0.8h-1zM968.3 330.2h1v0.8h-1zM947.6 333.6h1v0.8h-1zM986.6 332.0h1v0.8h-1zM959.2 330.0h1v0.8h-1zM932.2 333.5h1v0.8h-1zM933.9 333.0h1v0.8h-1zM932.7 329.9h1v0.8h-1z"/>
<rect x="999.2" y="366" width="5" height="1.8" fill="#701818"/>
<rect x="734.7" y="405.5" width="90.3" height="15.0" fill="url(#bb1)"/>
<path fill="#141E80"  d="M764.2 415.6h0.9v0.9h-0.9zM819.8 418.7h0.9v0.9h-0.9zM763.3 413.0h0.9v0.9h-0.9zM769.2 410.0h0.9v0.9h-0.9zM736.1 417.9h0.9v0.9h-0.9zM800.1 418.2h0.9v0.9h-0.9zM750.2 420.4h0.9v0.9h-0.9zM807.4 408.9h0.9v0.9h-0.9zM780.7 407.4h0.9v0.9h-0.9zM788.4 418.6h0.9v0.9h-0.9zM755.2 407.7h0.9v0.9h-0.9zM785.7 411.8h0.9v0.9h-0.9zM768.8 411.5h0.9v0.9h-0.9zM761.5 411.9h0.9v0.9h-0.9zM737.4 414.5h0.9v0.9h-0.9zM782.2 406.6h0.9v0.9h-0.9zM808.7 419.0h0.9v0.9h-0.9zM768.6 420.0h0.9v0.9h-0.9zM778.9 417.6h0.9v0.9h-0.9zM814.5 406.0h0.9v0.9h-0.9zM759.4 416.9h0.9v0.9h-0.9zM824.3 412.1h0.9v0.9h-0.9zM810.6 407.1h0.9v0.9h-0.9zM764.0 416.5h0.9v0.9h-0.9zM822.4 410.6h0.9v0.9h-0.9zM810.2 418.8h0.9v0.9h-0.9zM767.9 416.5h0.9v0.9h-0.9zM796.2 415.3h0.9v0.9h-0.9zM735.0 413.4h0.9v0.9h-0.9zM824.3 413.3h0.9v0.9h-0.9zM797.1 408.4h0.9v0.9h-0.9zM755.1 406.3h0.9v0.9h-0.9zM740.6 412.7h0.9v0.9h-0.9zM758.2 410.7h0.9v0.9h-0.9zM742.8 415.8h0.9v0.9h-0.9zM743.7 420.0h0.9v0.9h-0.9zM799.5 415.1h0.9v0.9h-0.9zM737.2 417.2h0.9v0.9h-0.9zM772.0 415.1h0.9v0.9h-0.9zM804.3 412.9h0.9v0.9h-0.9zM823.4 415.9h0.9v0.9h-0.9zM790.9 420.0h0.9v0.9h-0.9zM755.8 410.7h0.9v0.9h-0.9zM767.9 420.0h0.9v0.9h-0.9zM809.4 415.1h0.9v0.9h-0.9zM739.2 417.2h0.9v0.9h-0.9zM740.7 411.9h0.9v0.9h-0.9zM814.2 412.7h0.9v0.9h-0.9zM790.3 416.7h0.9v0.9h-0.9zM760.1 415.4h0.9v0.9h-0.9zM797.4 413.6h0.9v0.9h-0.9zM753.5 405.8h0.9v0.9h-0.9zM747.1 412.0h0.9v0.9h-0.9zM814.4 419.7h0.9v0.9h-0.9zM820.7 414.8h0.9v0.9h-0.9zM786.2 413.5h0.9v0.9h-0.9zM776.1 407.7h0.9v0.9h-0.9zM741.9 413.7h0.9v0.9h-0.9zM784.7 409.7h0.9v0.9h-0.9zM791.8 407.3h0.9v0.9h-0.9zM788.1 411.3h0.9v0.9h-0.9zM753.4 410.4h0.9v0.9h-0.9zM760.8 417.9h0.9v0.9h-0.9zM757.9 416.6h0.9v0.9h-0.9zM747.5 417.8h0.9v0.9h-0.9zM799.7 410.8h0.9v0.9h-0.9zM784.6 411.0h0.9v0.9h-0.9zM742.4 410.8h0.9v0.9h-0.9zM753.0 410.2h0.9v0.9h-0.9zM784.3 418.0h0.9v0.9h-0.9zM790.8 413.2h0.9v0.9h-0.9zM749.6 419.3h0.9v0.9h-0.9zM778.7 411.8h0.9v0.9h-0.9zM774.1 417.0h0.9v0.9h-0.9zM820.5 417.7h0.9v0.9h-0.9zM823.9 406.3h0.9v0.9h-0.9zM808.6 411.6h0.9v0.9h-0.9zM736.5 409.8h0.9v0.9h-0.9zM759.4 415.8h0.9v0.9h-0.9zM780.7 410.0h0.9v0.9h-0.9zM793.0 408.6h0.9v0.9h-0.9zM742.3 415.3h0.9v0.9h-0.9z"/>
<path fill="#1828B0"  d="M776.0 414.3h0.9v0.9h-0.9zM738.8 413.2h0.9v0.9h-0.9zM737.6 408.0h0.9v0.9h-0.9zM801.2 412.0h0.9v0.9h-0.9zM756.9 417.5h0.9v0.9h-0.9zM771.9 415.3h0.9v0.9h-0.9zM795.6 412.5h0.9v0.9h-0.9zM814.1 412.8h0.9v0.9h-0.9zM805.6 415.5h0.9v0.9h-0.9zM765.7 417.8h0.9v0.9h-0.9zM800.2 416.9h0.9v0.9h-0.9zM782.9 415.7h0.9v0.9h-0.9zM802.6 416.2h0.9v0.9h-0.9zM816.7 407.3h0.9v0.9h-0.9zM782.4 406.9h0.9v0.9h-0.9zM819.1 409.0h0.9v0.9h-0.9zM764.8 413.5h0.9v0.9h-0.9zM755.3 411.1h0.9v0.9h-0.9zM792.8 416.1h0.9v0.9h-0.9zM822.4 417.4h0.9v0.9h-0.9zM802.1 418.0h0.9v0.9h-0.9zM759.2 415.1h0.9v0.9h-0.9zM740.2 417.5h0.9v0.9h-0.9zM815.4 420.4h0.9v0.9h-0.9zM776.4 410.4h0.9v0.9h-0.9zM755.2 410.7h0.9v0.9h-0.9zM736.6 419.1h0.9v0.9h-0.9zM800.8 416.2h0.9v0.9h-0.9zM765.3 407.9h0.9v0.9h-0.9zM776.2 406.3h0.9v0.9h-0.9zM792.4 419.0h0.9v0.9h-0.9zM791.1 420.3h0.9v0.9h-0.9zM776.4 419.4h0.9v0.9h-0.9zM735.7 412.3h0.9v0.9h-0.9zM770.4 409.0h0.9v0.9h-0.9zM772.9 418.4h0.9v0.9h-0.9zM823.0 410.3h0.9v0.9h-0.9zM815.6 411.8h0.9v0.9h-0.9zM782.0 411.4h0.9v0.9h-0.9zM749.0 415.6h0.9v0.9h-0.9zM789.5 412.3h0.9v0.9h-0.9zM808.6 414.7h0.9v0.9h-0.9zM764.4 418.0h0.9v0.9h-0.9zM760.6 419.3h0.9v0.9h-0.9zM749.4 407.3h0.9v0.9h-0.9zM737.3 414.7h0.9v0.9h-0.9zM817.4 419.7h0.9v0.9h-0.9zM766.9 410.4h0.9v0.9h-0.9zM783.0 407.5h0.9v0.9h-0.9zM735.0 415.4h0.9v0.9h-0.9zM754.9 410.3h0.9v0.9h-0.9zM742.2 418.4h0.9v0.9h-0.9zM777.7 408.8h0.9v0.9h-0.9zM747.1 409.2h0.9v0.9h-0.9zM796.3 418.4h0.9v0.9h-0.9zM807.5 410.6h0.9v0.9h-0.9zM739.8 417.9h0.9v0.9h-0.9zM823.8 411.8h0.9v0.9h-0.9zM786.1 407.7h0.9v0.9h-0.9zM801.5 418.9h0.9v0.9h-0.9zM810.5 415.8h0.9v0.9h-0.9zM748.6 406.3h0.9v0.9h-0.9zM802.2 411.7h0.9v0.9h-0.9zM765.9 420.0h0.9v0.9h-0.9zM744.9 407.1h0.9v0.9h-0.9zM810.1 420.3h0.9v0.9h-0.9zM819.2 416.3h0.9v0.9h-0.9zM763.9 413.1h0.9v0.9h-0.9zM784.1 415.0h0.9v0.9h-0.9zM784.6 416.9h0.9v0.9h-0.9zM761.2 415.7h0.9v0.9h-0.9zM782.0 409.9h0.9v0.9h-0.9zM788.9 416.3h0.9v0.9h-0.9zM790.0 411.9h0.9v0.9h-0.9zM787.6 420.2h0.9v0.9h-0.9zM790.3 418.1h0.9v0.9h-0.9zM801.7 416.0h0.9v0.9h-0.9zM784.2 416.8h0.9v0.9h-0.9zM773.3 420.2h0.9v0.9h-0.9zM749.7 414.9h0.9v0.9h-0.9zM799.0 409.8h0.9v0.9h-0.9zM775.2 416.4h0.9v0.9h-0.9zM749.5 412.8h0.9v0.9h-0.9zM813.2 408.8h0.9v0.9h-0.9zM788.8 411.5h0.9v0.9h-0.9zM813.0 407.2h0.9v0.9h-0.9zM755.6 413.9h0.9v0.9h-0.9zM789.0 411.5h0.9v0.9h-0.9zM756.1 420.3h0.9v0.9h-0.9zM774.3 413.4h0.9v0.9h-0.9zM781.9 415.3h0.9v0.9h-0.9zM739.5 412.2h0.9v0.9h-0.9zM756.4 413.0h0.9v0.9h-0.9zM744.6 419.7h0.9v0.9h-0.9zM756.5 410.1h0.9v0.9h-0.9zM764.8 420.5h0.9v0.9h-0.9z"/>
<path fill="#2030E0"  d="M775.8 417.0h0.9v0.9h-0.9zM747.1 415.9h0.9v0.9h-0.9zM751.8 412.2h0.9v0.9h-0.9zM766.8 414.4h0.9v0.9h-0.9zM758.3 418.4h0.9v0.9h-0.9zM789.0 420.1h0.9v0.9h-0.9zM774.6 418.8h0.9v0.9h-0.9zM753.1 419.4h0.9v0.9h-0.9zM761.1 413.7h0.9v0.9h-0.9zM806.2 418.7h0.9v0.9h-0.9zM785.5 409.4h0.9v0.9h-0.9zM800.9 419.2h0.9v0.9h-0.9zM759.5 408.1h0.9v0.9h-0.9zM800.8 407.6h0.9v0.9h-0.9zM765.2 408.6h0.9v0.9h-0.9zM774.0 415.9h0.9v0.9h-0.9zM818.8 419.5h0.9v0.9h-0.9zM742.9 410.5h0.9v0.9h-0.9zM756.6 418.2h0.9v0.9h-0.9zM758.5 408.5h0.9v0.9h-0.9zM821.4 420.0h0.9v0.9h-0.9zM810.7 418.9h0.9v0.9h-0.9zM785.9 407.9h0.9v0.9h-0.9zM795.7 416.8h0.9v0.9h-0.9zM816.0 417.5h0.9v0.9h-0.9zM797.5 419.6h0.9v0.9h-0.9zM739.6 417.0h0.9v0.9h-0.9zM795.0 416.1h0.9v0.9h-0.9zM821.4 418.5h0.9v0.9h-0.9zM767.5 405.9h0.9v0.9h-0.9zM811.7 418.0h0.9v0.9h-0.9zM808.3 418.0h0.9v0.9h-0.9zM788.4 419.1h0.9v0.9h-0.9zM739.7 409.1h0.9v0.9h-0.9zM810.5 420.4h0.9v0.9h-0.9zM789.3 409.2h0.9v0.9h-0.9zM780.8 411.5h0.9v0.9h-0.9zM769.4 407.8h0.9v0.9h-0.9zM816.5 420.4h0.9v0.9h-0.9zM817.9 411.2h0.9v0.9h-0.9zM806.3 407.6h0.9v0.9h-0.9zM782.2 419.7h0.9v0.9h-0.9zM745.2 417.4h0.9v0.9h-0.9zM734.8 420.1h0.9v0.9h-0.9zM737.4 416.1h0.9v0.9h-0.9zM796.7 418.7h0.9v0.9h-0.9zM756.8 409.6h0.9v0.9h-0.9zM739.3 413.0h0.9v0.9h-0.9zM807.7 411.4h0.9v0.9h-0.9zM756.7 413.3h0.9v0.9h-0.9zM799.2 419.9h0.9v0.9h-0.9zM745.6 419.8h0.9v0.9h-0.9zM814.3 413.3h0.9v0.9h-0.9zM750.1 417.5h0.9v0.9h-0.9zM792.8 418.3h0.9v0.9h-0.9zM779.1 406.7h0.9v0.9h-0.9zM817.1 418.7h0.9v0.9h-0.9zM812.9 420.2h0.9v0.9h-0.9zM790.4 407.7h0.9v0.9h-0.9zM741.9 413.6h0.9v0.9h-0.9zM774.5 407.5h0.9v0.9h-0.9zM809.4 416.1h0.9v0.9h-0.9zM773.7 418.8h0.9v0.9h-0.9zM785.2 413.5h0.9v0.9h-0.9zM737.3 418.4h0.9v0.9h-0.9zM757.0 416.2h0.9v0.9h-0.9zM813.2 416.9h0.9v0.9h-0.9zM756.5 408.5h0.9v0.9h-0.9zM767.5 419.8h0.9v0.9h-0.9zM757.0 416.5h0.9v0.9h-0.9zM767.8 413.9h0.9v0.9h-0.9zM774.4 419.3h0.9v0.9h-0.9zM775.7 410.0h0.9v0.9h-0.9zM796.9 410.6h0.9v0.9h-0.9zM768.3 413.8h0.9v0.9h-0.9zM799.6 410.1h0.9v0.9h-0.9zM823.4 414.7h0.9v0.9h-0.9zM736.3 415.9h0.9v0.9h-0.9zM742.9 416.9h0.9v0.9h-0.9zM824.7 408.3h0.9v0.9h-0.9zM735.2 420.3h0.9v0.9h-0.9zM777.3 415.4h0.9v0.9h-0.9zM788.8 412.3h0.9v0.9h-0.9zM777.4 418.3h0.9v0.9h-0.9zM765.0 411.3h0.9v0.9h-0.9zM812.4 411.4h0.9v0.9h-0.9zM750.6 414.7h0.9v0.9h-0.9zM822.2 416.6h0.9v0.9h-0.9zM788.0 419.5h0.9v0.9h-0.9zM752.8 414.6h0.9v0.9h-0.9zM796.8 410.8h0.9v0.9h-0.9zM787.6 417.8h0.9v0.9h-0.9z"/>
<rect x="734.7" y="399.9" width="90.3" height="6.4" fill="url(#gb1)" opacity="1.0"/>
<path fill="#2A9A2A" opacity="0.80" d="M757.1 404.6h1v0.8h-1zM746.3 403.5h1v0.8h-1zM817.9 404.3h1v0.8h-1zM757.6 403.1h1v0.8h-1zM744.2 403.5h1v0.8h-1zM745.4 402.4h1v0.8h-1zM751.4 401.8h1v0.8h-1zM789.5 403.2h1v0.8h-1zM767.6 401.5h1v0.8h-1zM777.7 405.3h1v0.8h-1zM750.8 403.5h1v0.8h-1zM760.8 404.2h1v0.8h-1zM813.6 402.2h1v0.8h-1zM766.5 403.8h1v0.8h-1zM757.6 402.0h1v0.8h-1zM764.9 402.9h1v0.8h-1zM772.0 403.9h1v0.8h-1zM735.4 404.5h1v0.8h-1zM821.0 403.3h1v0.8h-1zM819.6 401.8h1v0.8h-1zM795.6 401.9h1v0.8h-1zM750.7 402.7h1v0.8h-1zM760.6 402.0h1v0.8h-1zM782.1 404.5h1v0.8h-1zM743.2 404.4h1v0.8h-1z"/>
<path fill="#34C834" opacity="0.80" d="M758.5 404.6h1v0.8h-1zM790.9 403.3h1v0.8h-1zM775.6 404.6h1v0.8h-1zM770.8 402.0h1v0.8h-1zM782.1 402.9h1v0.8h-1zM804.5 401.5h1v0.8h-1zM773.1 404.6h1v0.8h-1zM761.6 405.3h1v0.8h-1zM801.4 402.1h1v0.8h-1zM804.0 402.4h1v0.8h-1zM807.0 403.9h1v0.8h-1zM782.1 403.9h1v0.8h-1zM792.1 403.8h1v0.8h-1zM771.8 404.9h1v0.8h-1zM804.4 404.3h1v0.8h-1zM757.1 401.9h1v0.8h-1zM757.1 403.9h1v0.8h-1zM763.5 402.8h1v0.8h-1zM822.4 403.3h1v0.8h-1zM772.4 403.7h1v0.8h-1zM757.9 401.7h1v0.8h-1zM787.6 404.4h1v0.8h-1zM819.3 404.4h1v0.8h-1zM791.4 404.9h1v0.8h-1zM757.8 403.4h1v0.8h-1zM782.1 404.5h1v0.8h-1zM816.2 403.9h1v0.8h-1zM760.5 405.1h1v0.8h-1zM748.7 403.0h1v0.8h-1zM766.6 404.3h1v0.8h-1zM767.6 402.8h1v0.8h-1zM791.8 402.1h1v0.8h-1zM755.9 404.0h1v0.8h-1zM762.7 405.3h1v0.8h-1z"/>
<path fill="#48F048" opacity="0.80" d="M748.0 404.2h1v0.8h-1zM798.2 404.9h1v0.8h-1zM785.4 402.6h1v0.8h-1zM773.8 404.8h1v0.8h-1zM780.9 402.1h1v0.8h-1zM788.6 403.2h1v0.8h-1zM736.9 405.1h1v0.8h-1zM767.9 401.6h1v0.8h-1zM794.6 401.7h1v0.8h-1zM740.8 402.4h1v0.8h-1zM814.2 405.4h1v0.8h-1zM762.1 404.3h1v0.8h-1zM773.5 404.0h1v0.8h-1zM804.0 404.7h1v0.8h-1zM793.5 402.8h1v0.8h-1zM816.2 405.4h1v0.8h-1zM759.9 401.6h1v0.8h-1zM740.9 402.7h1v0.8h-1zM795.5 404.8h1v0.8h-1zM768.9 403.5h1v0.8h-1zM784.5 403.9h1v0.8h-1zM796.0 401.7h1v0.8h-1zM776.9 402.3h1v0.8h-1zM811.0 402.5h1v0.8h-1zM796.4 402.2h1v0.8h-1zM770.8 401.9h1v0.8h-1zM822.7 405.0h1v0.8h-1zM810.6 405.2h1v0.8h-1zM772.9 403.4h1v0.8h-1zM756.6 403.6h1v0.8h-1zM800.0 403.5h1v0.8h-1z"/>
<rect x="817" y="434.7" width="5" height="1.8" fill="#701818"/>
<rect x="826.5" y="405.5" width="89.5" height="12.5" fill="url(#bb1)"/>
<path fill="#141E80"  d="M839.0 413.1h0.9v0.9h-0.9zM861.4 416.4h0.9v0.9h-0.9zM865.2 413.6h0.9v0.9h-0.9zM880.3 413.0h0.9v0.9h-0.9zM830.3 410.8h0.9v0.9h-0.9zM894.8 413.0h0.9v0.9h-0.9zM896.4 413.4h0.9v0.9h-0.9zM861.6 405.7h0.9v0.9h-0.9zM857.2 414.8h0.9v0.9h-0.9zM863.4 409.2h0.9v0.9h-0.9zM897.6 413.4h0.9v0.9h-0.9zM842.6 417.6h0.9v0.9h-0.9zM872.0 412.8h0.9v0.9h-0.9zM850.4 409.4h0.9v0.9h-0.9zM893.4 414.2h0.9v0.9h-0.9zM882.2 414.6h0.9v0.9h-0.9zM859.2 415.6h0.9v0.9h-0.9zM882.9 410.0h0.9v0.9h-0.9zM845.0 415.7h0.9v0.9h-0.9zM894.7 410.5h0.9v0.9h-0.9zM879.1 417.5h0.9v0.9h-0.9zM865.7 409.8h0.9v0.9h-0.9zM853.1 416.4h0.9v0.9h-0.9zM827.8 412.7h0.9v0.9h-0.9zM873.3 410.9h0.9v0.9h-0.9zM878.9 415.0h0.9v0.9h-0.9zM850.4 414.5h0.9v0.9h-0.9zM874.1 411.4h0.9v0.9h-0.9zM856.8 415.0h0.9v0.9h-0.9zM841.8 408.7h0.9v0.9h-0.9zM830.9 415.8h0.9v0.9h-0.9zM835.7 417.3h0.9v0.9h-0.9zM909.9 414.5h0.9v0.9h-0.9zM854.4 415.3h0.9v0.9h-0.9zM901.8 412.6h0.9v0.9h-0.9zM852.5 414.5h0.9v0.9h-0.9zM883.8 408.7h0.9v0.9h-0.9zM880.6 410.1h0.9v0.9h-0.9zM903.0 409.7h0.9v0.9h-0.9zM876.0 410.0h0.9v0.9h-0.9zM854.2 407.4h0.9v0.9h-0.9zM892.8 411.5h0.9v0.9h-0.9zM915.8 407.5h0.9v0.9h-0.9zM897.3 417.8h0.9v0.9h-0.9zM891.4 410.6h0.9v0.9h-0.9zM855.4 408.8h0.9v0.9h-0.9zM887.9 416.3h0.9v0.9h-0.9zM874.4 416.3h0.9v0.9h-0.9zM911.7 408.8h0.9v0.9h-0.9zM885.6 407.1h0.9v0.9h-0.9zM878.9 415.5h0.9v0.9h-0.9zM856.3 409.1h0.9v0.9h-0.9zM838.8 412.5h0.9v0.9h-0.9zM837.0 414.5h0.9v0.9h-0.9zM874.0 407.9h0.9v0.9h-0.9zM868.7 414.1h0.9v0.9h-0.9zM863.1 415.5h0.9v0.9h-0.9zM867.1 410.3h0.9v0.9h-0.9zM830.1 410.1h0.9v0.9h-0.9zM906.0 408.5h0.9v0.9h-0.9zM901.2 416.7h0.9v0.9h-0.9zM827.1 411.5h0.9v0.9h-0.9zM904.7 409.7h0.9v0.9h-0.9zM842.2 416.6h0.9v0.9h-0.9zM865.8 409.8h0.9v0.9h-0.9zM883.4 409.9h0.9v0.9h-0.9zM915.9 416.3h0.9v0.9h-0.9zM914.6 414.4h0.9v0.9h-0.9zM892.8 414.9h0.9v0.9h-0.9zM869.4 407.3h0.9v0.9h-0.9zM895.7 410.8h0.9v0.9h-0.9zM864.7 414.0h0.9v0.9h-0.9zM862.9 417.9h0.9v0.9h-0.9zM889.7 409.8h0.9v0.9h-0.9z"/>
<path fill="#1828B0"  d="M896.8 413.3h0.9v0.9h-0.9zM875.2 417.5h0.9v0.9h-0.9zM887.5 408.1h0.9v0.9h-0.9zM881.2 412.2h0.9v0.9h-0.9zM870.3 412.4h0.9v0.9h-0.9zM913.2 411.9h0.9v0.9h-0.9zM894.1 406.5h0.9v0.9h-0.9zM881.6 413.1h0.9v0.9h-0.9zM881.5 416.5h0.9v0.9h-0.9zM830.2 414.7h0.9v0.9h-0.9zM849.0 417.6h0.9v0.9h-0.9zM867.3 417.4h0.9v0.9h-0.9zM871.5 417.8h0.9v0.9h-0.9zM906.7 416.9h0.9v0.9h-0.9zM829.1 414.3h0.9v0.9h-0.9zM859.0 415.6h0.9v0.9h-0.9zM832.2 410.6h0.9v0.9h-0.9zM829.1 414.3h0.9v0.9h-0.9zM875.0 407.4h0.9v0.9h-0.9zM840.4 413.0h0.9v0.9h-0.9zM914.8 416.1h0.9v0.9h-0.9zM842.3 407.9h0.9v0.9h-0.9zM860.5 416.0h0.9v0.9h-0.9zM913.2 407.6h0.9v0.9h-0.9zM910.8 417.3h0.9v0.9h-0.9zM834.7 416.0h0.9v0.9h-0.9zM896.5 414.6h0.9v0.9h-0.9zM879.8 414.1h0.9v0.9h-0.9zM833.3 412.3h0.9v0.9h-0.9zM867.5 406.1h0.9v0.9h-0.9zM832.7 408.6h0.9v0.9h-0.9zM874.7 409.7h0.9v0.9h-0.9zM908.2 409.8h0.9v0.9h-0.9zM843.2 409.2h0.9v0.9h-0.9zM880.2 414.4h0.9v0.9h-0.9zM834.1 407.2h0.9v0.9h-0.9zM839.6 417.7h0.9v0.9h-0.9zM827.0 411.9h0.9v0.9h-0.9zM828.0 412.6h0.9v0.9h-0.9zM871.2 416.2h0.9v0.9h-0.9zM893.9 416.0h0.9v0.9h-0.9zM908.7 414.2h0.9v0.9h-0.9zM853.4 409.4h0.9v0.9h-0.9zM854.4 415.4h0.9v0.9h-0.9zM826.7 409.7h0.9v0.9h-0.9zM862.0 415.0h0.9v0.9h-0.9zM834.7 414.4h0.9v0.9h-0.9zM881.3 413.3h0.9v0.9h-0.9zM915.0 416.9h0.9v0.9h-0.9zM842.0 410.4h0.9v0.9h-0.9zM872.5 417.8h0.9v0.9h-0.9zM832.0 407.7h0.9v0.9h-0.9zM867.7 416.1h0.9v0.9h-0.9zM834.6 411.1h0.9v0.9h-0.9zM884.3 417.6h0.9v0.9h-0.9zM908.8 408.4h0.9v0.9h-0.9zM859.2 416.6h0.9v0.9h-0.9zM837.8 410.5h0.9v0.9h-0.9zM866.8 413.7h0.9v0.9h-0.9zM909.5 411.3h0.9v0.9h-0.9zM845.2 415.6h0.9v0.9h-0.9zM845.5 409.4h0.9v0.9h-0.9zM856.8 409.5h0.9v0.9h-0.9zM828.9 411.3h0.9v0.9h-0.9zM874.8 413.1h0.9v0.9h-0.9zM908.7 416.5h0.9v0.9h-0.9zM902.8 409.2h0.9v0.9h-0.9zM855.2 407.0h0.9v0.9h-0.9zM891.0 413.9h0.9v0.9h-0.9zM911.1 407.4h0.9v0.9h-0.9z"/>
<path fill="#2030E0"  d="M860.0 406.5h0.9v0.9h-0.9zM833.1 417.4h0.9v0.9h-0.9zM916.0 413.7h0.9v0.9h-0.9zM884.0 412.6h0.9v0.9h-0.9zM829.8 417.7h0.9v0.9h-0.9zM831.4 410.1h0.9v0.9h-0.9zM841.4 412.9h0.9v0.9h-0.9zM881.1 415.6h0.9v0.9h-0.9zM850.8 413.8h0.9v0.9h-0.9zM903.6 413.3h0.9v0.9h-0.9zM833.6 414.8h0.9v0.9h-0.9zM868.2 415.7h0.9v0.9h-0.9zM854.1 407.4h0.9v0.9h-0.9zM893.1 409.2h0.9v0.9h-0.9zM830.0 412.2h0.9v0.9h-0.9zM901.4 416.6h0.9v0.9h-0.9zM841.9 411.1h0.9v0.9h-0.9zM829.7 409.0h0.9v0.9h-0.9zM902.9 417.7h0.9v0.9h-0.9zM877.2 407.7h0.9v0.9h-0.9zM884.6 416.5h0.9v0.9h-0.9zM866.4 414.6h0.9v0.9h-0.9zM912.4 413.8h0.9v0.9h-0.9zM894.5 409.1h0.9v0.9h-0.9zM855.2 407.1h0.9v0.9h-0.9zM894.0 416.5h0.9v0.9h-0.9zM880.8 410.3h0.9v0.9h-0.9zM844.8 414.2h0.9v0.9h-0.9zM898.0 413.5h0.9v0.9h-0.9zM861.2 417.3h0.9v0.9h-0.9zM831.2 408.2h0.9v0.9h-0.9zM853.2 405.9h0.9v0.9h-0.9zM884.4 406.4h0.9v0.9h-0.9zM833.5 407.8h0.9v0.9h-0.9zM865.2 410.7h0.9v0.9h-0.9zM857.8 408.7h0.9v0.9h-0.9zM859.8 414.3h0.9v0.9h-0.9zM833.0 412.7h0.9v0.9h-0.9zM888.7 416.8h0.9v0.9h-0.9zM834.2 416.9h0.9v0.9h-0.9zM847.2 417.3h0.9v0.9h-0.9zM864.0 408.2h0.9v0.9h-0.9zM849.0 413.2h0.9v0.9h-0.9zM880.1 417.2h0.9v0.9h-0.9zM888.5 415.6h0.9v0.9h-0.9zM875.7 413.6h0.9v0.9h-0.9zM836.5 415.1h0.9v0.9h-0.9zM899.3 414.9h0.9v0.9h-0.9zM847.3 416.4h0.9v0.9h-0.9zM846.8 413.0h0.9v0.9h-0.9zM891.2 414.1h0.9v0.9h-0.9zM909.2 407.8h0.9v0.9h-0.9zM852.6 414.4h0.9v0.9h-0.9zM852.8 411.0h0.9v0.9h-0.9zM882.6 415.6h0.9v0.9h-0.9zM904.6 416.0h0.9v0.9h-0.9zM857.2 413.1h0.9v0.9h-0.9zM881.4 417.2h0.9v0.9h-0.9zM876.7 409.9h0.9v0.9h-0.9zM858.3 405.9h0.9v0.9h-0.9zM831.6 415.9h0.9v0.9h-0.9zM901.4 412.5h0.9v0.9h-0.9zM842.7 416.5h0.9v0.9h-0.9zM854.5 413.3h0.9v0.9h-0.9zM915.5 415.4h0.9v0.9h-0.9zM858.3 417.8h0.9v0.9h-0.9zM875.2 413.0h0.9v0.9h-0.9zM845.1 417.6h0.9v0.9h-0.9zM910.3 410.9h0.9v0.9h-0.9zM826.7 417.7h0.9v0.9h-0.9zM860.2 413.8h0.9v0.9h-0.9zM893.6 407.6h0.9v0.9h-0.9zM875.3 409.2h0.9v0.9h-0.9zM905.6 408.5h0.9v0.9h-0.9zM912.3 411.6h0.9v0.9h-0.9zM854.5 416.3h0.9v0.9h-0.9zM906.5 416.0h0.9v0.9h-0.9zM856.3 412.5h0.9v0.9h-0.9zM834.9 415.5h0.9v0.9h-0.9z"/>
<rect x="826.5" y="396.4" width="89.5" height="10.4" fill="url(#gb1)" opacity="1.0"/>
<path fill="#2A9A2A" opacity="0.80" d="M865.0 400.0h1v0.8h-1zM853.0 403.9h1v0.8h-1zM881.2 402.0h1v0.8h-1zM874.8 404.6h1v0.8h-1zM845.1 403.0h1v0.8h-1zM904.8 404.5h1v0.8h-1zM834.6 401.1h1v0.8h-1zM908.0 399.0h1v0.8h-1zM868.4 404.2h1v0.8h-1zM858.2 404.2h1v0.8h-1zM882.3 401.5h1v0.8h-1zM828.1 402.4h1v0.8h-1zM869.0 400.4h1v0.8h-1zM908.3 399.9h1v0.8h-1zM905.2 399.1h1v0.8h-1zM910.1 403.9h1v0.8h-1zM889.3 404.7h1v0.8h-1zM827.6 401.1h1v0.8h-1zM884.7 404.9h1v0.8h-1zM900.9 400.0h1v0.8h-1zM889.8 404.3h1v0.8h-1zM902.7 403.9h1v0.8h-1zM840.8 404.9h1v0.8h-1zM901.1 405.1h1v0.8h-1zM866.2 401.7h1v0.8h-1zM829.6 404.8h1v0.8h-1zM891.3 405.2h1v0.8h-1zM879.4 401.7h1v0.8h-1zM829.7 400.1h1v0.8h-1zM899.6 399.2h1v0.8h-1zM887.4 400.3h1v0.8h-1zM887.8 403.1h1v0.8h-1zM903.4 402.3h1v0.8h-1zM874.2 400.1h1v0.8h-1zM881.8 402.3h1v0.8h-1zM875.4 405.3h1v0.8h-1zM881.2 402.3h1v0.8h-1zM907.7 404.4h1v0.8h-1zM890.5 403.3h1v0.8h-1zM841.5 400.9h1v0.8h-1zM883.7 399.7h1v0.8h-1zM867.0 403.4h1v0.8h-1zM868.4 405.3h1v0.8h-1zM866.1 402.8h1v0.8h-1zM832.4 402.5h1v0.8h-1zM859.6 399.2h1v0.8h-1zM845.6 405.1h1v0.8h-1zM845.4 404.6h1v0.8h-1zM875.5 403.0h1v0.8h-1zM889.9 402.4h1v0.8h-1zM847.5 404.1h1v0.8h-1zM894.4 403.3h1v0.8h-1zM844.2 400.5h1v0.8h-1zM914.4 400.7h1v0.8h-1zM860.8 405.4h1v0.8h-1zM828.0 399.7h1v0.8h-1zM905.5 400.1h1v0.8h-1zM888.2 402.7h1v0.8h-1zM876.9 405.1h1v0.8h-1zM856.1 401.0h1v0.8h-1zM895.5 403.2h1v0.8h-1zM889.6 404.7h1v0.8h-1zM895.3 402.3h1v0.8h-1zM869.7 404.4h1v0.8h-1zM850.7 401.9h1v0.8h-1zM833.4 401.4h1v0.8h-1zM852.6 403.7h1v0.8h-1zM908.9 399.3h1v0.8h-1z"/>
<path fill="#34C834" opacity="0.80" d="M867.9 405.2h1v0.8h-1zM905.6 400.3h1v0.8h-1zM834.6 401.6h1v0.8h-1zM835.9 404.9h1v0.8h-1zM848.3 399.5h1v0.8h-1zM856.6 405.2h1v0.8h-1zM888.1 403.0h1v0.8h-1zM854.7 401.2h1v0.8h-1zM876.2 403.6h1v0.8h-1zM891.8 401.3h1v0.8h-1zM835.7 401.1h1v0.8h-1zM835.6 399.5h1v0.8h-1zM905.4 404.0h1v0.8h-1zM883.9 403.1h1v0.8h-1zM883.1 403.3h1v0.8h-1zM891.9 402.9h1v0.8h-1zM879.3 403.5h1v0.8h-1zM834.4 399.8h1v0.8h-1zM892.9 400.3h1v0.8h-1zM836.8 399.8h1v0.8h-1zM877.7 399.2h1v0.8h-1zM904.5 403.6h1v0.8h-1zM840.4 403.3h1v0.8h-1zM858.5 404.0h1v0.8h-1zM832.8 402.1h1v0.8h-1zM850.8 405.2h1v0.8h-1zM859.5 403.8h1v0.8h-1zM911.7 402.3h1v0.8h-1zM895.8 400.3h1v0.8h-1zM849.4 405.2h1v0.8h-1zM859.8 399.5h1v0.8h-1zM887.3 402.4h1v0.8h-1zM879.6 399.3h1v0.8h-1zM848.9 402.8h1v0.8h-1zM891.9 400.3h1v0.8h-1zM868.1 401.1h1v0.8h-1zM846.7 399.5h1v0.8h-1zM875.1 402.8h1v0.8h-1zM907.2 403.4h1v0.8h-1zM906.2 402.1h1v0.8h-1zM872.1 400.8h1v0.8h-1zM861.5 401.8h1v0.8h-1zM846.5 399.8h1v0.8h-1zM857.5 400.2h1v0.8h-1zM874.5 402.5h1v0.8h-1zM889.7 404.4h1v0.8h-1zM912.4 400.9h1v0.8h-1zM849.0 403.1h1v0.8h-1zM859.0 402.4h1v0.8h-1zM853.8 402.1h1v0.8h-1zM842.9 402.4h1v0.8h-1zM877.8 403.8h1v0.8h-1zM853.7 401.7h1v0.8h-1zM865.1 399.9h1v0.8h-1zM836.6 402.0h1v0.8h-1zM860.0 405.1h1v0.8h-1zM904.3 399.4h1v0.8h-1zM888.8 404.4h1v0.8h-1zM903.3 403.9h1v0.8h-1zM871.2 401.0h1v0.8h-1zM860.8 402.6h1v0.8h-1zM872.9 399.0h1v0.8h-1zM829.9 402.9h1v0.8h-1zM892.5 403.8h1v0.8h-1zM854.1 404.9h1v0.8h-1zM875.7 402.3h1v0.8h-1zM877.2 404.9h1v0.8h-1zM853.4 405.4h1v0.8h-1zM832.9 402.4h1v0.8h-1zM905.9 402.6h1v0.8h-1zM865.4 405.1h1v0.8h-1zM874.3 401.4h1v0.8h-1zM854.9 400.8h1v0.8h-1z"/>
<path fill="#48F048" opacity="0.80" d="M852.7 402.2h1v0.8h-1zM915.2 404.9h1v0.8h-1zM913.8 403.8h1v0.8h-1zM871.8 401.7h1v0.8h-1zM831.5 400.5h1v0.8h-1zM860.6 405.3h1v0.8h-1zM835.4 401.4h1v0.8h-1zM829.1 401.3h1v0.8h-1zM860.1 400.8h1v0.8h-1zM852.6 400.5h1v0.8h-1zM915.1 404.1h1v0.8h-1zM837.4 405.2h1v0.8h-1zM884.6 405.3h1v0.8h-1zM902.1 401.1h1v0.8h-1zM910.3 404.8h1v0.8h-1zM894.7 404.1h1v0.8h-1zM864.3 402.7h1v0.8h-1zM910.4 401.8h1v0.8h-1zM846.0 403.3h1v0.8h-1zM852.2 401.6h1v0.8h-1zM892.6 405.4h1v0.8h-1zM874.0 403.8h1v0.8h-1zM873.1 403.4h1v0.8h-1zM889.2 402.6h1v0.8h-1zM902.3 401.1h1v0.8h-1zM901.6 402.2h1v0.8h-1zM860.3 401.5h1v0.8h-1zM903.4 400.6h1v0.8h-1zM867.6 402.6h1v0.8h-1zM862.5 402.4h1v0.8h-1zM905.2 405.3h1v0.8h-1zM877.4 401.8h1v0.8h-1zM866.8 405.3h1v0.8h-1zM866.9 402.1h1v0.8h-1zM870.7 401.7h1v0.8h-1zM894.6 405.3h1v0.8h-1zM878.8 400.7h1v0.8h-1zM884.5 402.8h1v0.8h-1zM866.0 401.4h1v0.8h-1zM876.1 400.7h1v0.8h-1zM908.0 404.6h1v0.8h-1zM841.3 401.9h1v0.8h-1zM876.1 405.4h1v0.8h-1zM893.2 401.7h1v0.8h-1zM871.7 403.1h1v0.8h-1zM851.6 402.7h1v0.8h-1zM883.9 403.2h1v0.8h-1zM845.0 403.9h1v0.8h-1zM905.3 399.4h1v0.8h-1zM881.7 404.1h1v0.8h-1zM857.2 399.9h1v0.8h-1zM910.2 399.7h1v0.8h-1zM911.6 401.9h1v0.8h-1zM829.1 400.5h1v0.8h-1zM891.9 404.6h1v0.8h-1zM907.0 404.5h1v0.8h-1zM864.5 402.3h1v0.8h-1zM877.6 402.5h1v0.8h-1zM828.2 402.9h1v0.8h-1zM893.3 402.0h1v0.8h-1zM880.1 400.8h1v0.8h-1zM885.9 399.6h1v0.8h-1z"/>
<rect x="908" y="434.7" width="5" height="1.8" fill="#701818"/>
<rect x="918" y="409.0" width="89.2" height="9.5" fill="url(#bb1)"/>
<path fill="#141E80"  d="M996.7 416.3h0.9v0.9h-0.9zM964.2 416.1h0.9v0.9h-0.9zM985.4 411.0h0.9v0.9h-0.9zM989.1 411.5h0.9v0.9h-0.9zM983.3 416.1h0.9v0.9h-0.9zM967.9 411.1h0.9v0.9h-0.9zM1001.1 414.1h0.9v0.9h-0.9zM1005.5 416.3h0.9v0.9h-0.9zM953.8 415.3h0.9v0.9h-0.9zM944.0 413.8h0.9v0.9h-0.9zM921.5 412.2h0.9v0.9h-0.9zM921.8 418.4h0.9v0.9h-0.9zM992.1 413.6h0.9v0.9h-0.9zM972.5 413.6h0.9v0.9h-0.9zM948.6 415.0h0.9v0.9h-0.9zM954.7 417.9h0.9v0.9h-0.9zM969.2 413.0h0.9v0.9h-0.9zM999.5 411.6h0.9v0.9h-0.9zM943.8 412.0h0.9v0.9h-0.9zM921.3 416.1h0.9v0.9h-0.9zM956.9 410.1h0.9v0.9h-0.9zM1001.4 411.7h0.9v0.9h-0.9zM951.3 413.3h0.9v0.9h-0.9zM929.9 413.2h0.9v0.9h-0.9zM956.3 418.4h0.9v0.9h-0.9zM964.9 414.0h0.9v0.9h-0.9zM968.9 410.7h0.9v0.9h-0.9zM950.7 414.1h0.9v0.9h-0.9zM979.6 413.7h0.9v0.9h-0.9zM921.6 417.3h0.9v0.9h-0.9zM964.3 411.8h0.9v0.9h-0.9zM996.9 414.9h0.9v0.9h-0.9zM921.4 410.7h0.9v0.9h-0.9zM933.7 413.1h0.9v0.9h-0.9zM989.3 412.0h0.9v0.9h-0.9zM993.2 414.3h0.9v0.9h-0.9zM984.4 411.3h0.9v0.9h-0.9zM936.5 416.2h0.9v0.9h-0.9zM939.8 417.0h0.9v0.9h-0.9zM957.7 414.9h0.9v0.9h-0.9zM931.8 411.8h0.9v0.9h-0.9zM984.1 416.0h0.9v0.9h-0.9zM968.8 411.3h0.9v0.9h-0.9zM933.7 410.9h0.9v0.9h-0.9zM994.5 415.1h0.9v0.9h-0.9zM949.8 415.9h0.9v0.9h-0.9zM975.0 409.7h0.9v0.9h-0.9zM992.1 417.5h0.9v0.9h-0.9zM1000.8 417.2h0.9v0.9h-0.9zM997.0 409.5h0.9v0.9h-0.9zM922.1 418.3h0.9v0.9h-0.9zM968.1 414.4h0.9v0.9h-0.9zM975.5 416.5h0.9v0.9h-0.9zM968.4 416.1h0.9v0.9h-0.9zM974.8 417.5h0.9v0.9h-0.9zM933.0 414.2h0.9v0.9h-0.9zM942.2 412.9h0.9v0.9h-0.9zM979.6 416.1h0.9v0.9h-0.9zM982.1 414.9h0.9v0.9h-0.9zM956.9 409.7h0.9v0.9h-0.9zM987.7 411.0h0.9v0.9h-0.9z"/>
<path fill="#1828B0"  d="M975.3 413.6h0.9v0.9h-0.9zM942.5 415.2h0.9v0.9h-0.9zM993.5 412.7h0.9v0.9h-0.9zM968.6 417.6h0.9v0.9h-0.9zM995.1 418.0h0.9v0.9h-0.9zM954.2 418.3h0.9v0.9h-0.9zM965.3 417.0h0.9v0.9h-0.9zM965.8 409.5h0.9v0.9h-0.9zM983.2 411.2h0.9v0.9h-0.9zM933.9 415.2h0.9v0.9h-0.9zM929.0 417.9h0.9v0.9h-0.9zM977.1 414.6h0.9v0.9h-0.9zM955.8 417.9h0.9v0.9h-0.9zM990.5 415.1h0.9v0.9h-0.9zM982.2 416.0h0.9v0.9h-0.9zM982.3 416.5h0.9v0.9h-0.9zM961.2 411.2h0.9v0.9h-0.9zM985.2 411.7h0.9v0.9h-0.9zM993.3 409.6h0.9v0.9h-0.9zM953.9 417.9h0.9v0.9h-0.9zM938.1 410.4h0.9v0.9h-0.9zM967.2 414.6h0.9v0.9h-0.9zM1001.7 417.6h0.9v0.9h-0.9zM932.9 416.7h0.9v0.9h-0.9zM985.1 409.2h0.9v0.9h-0.9zM959.9 418.2h0.9v0.9h-0.9zM1002.8 413.3h0.9v0.9h-0.9zM947.4 410.7h0.9v0.9h-0.9zM929.8 418.2h0.9v0.9h-0.9zM938.8 414.4h0.9v0.9h-0.9zM990.7 415.1h0.9v0.9h-0.9zM993.9 413.6h0.9v0.9h-0.9zM988.0 411.9h0.9v0.9h-0.9zM968.6 413.1h0.9v0.9h-0.9zM962.8 414.8h0.9v0.9h-0.9zM941.8 417.1h0.9v0.9h-0.9zM954.9 411.1h0.9v0.9h-0.9zM941.4 411.0h0.9v0.9h-0.9zM946.1 412.9h0.9v0.9h-0.9zM973.9 412.9h0.9v0.9h-0.9zM992.2 409.2h0.9v0.9h-0.9zM936.6 412.2h0.9v0.9h-0.9zM989.3 415.9h0.9v0.9h-0.9zM932.6 413.6h0.9v0.9h-0.9zM986.9 417.6h0.9v0.9h-0.9zM922.1 411.9h0.9v0.9h-0.9zM927.4 411.8h0.9v0.9h-0.9zM964.5 411.8h0.9v0.9h-0.9zM974.0 410.7h0.9v0.9h-0.9zM938.6 418.4h0.9v0.9h-0.9z"/>
<path fill="#2030E0"  d="M951.7 409.3h0.9v0.9h-0.9zM991.5 416.7h0.9v0.9h-0.9zM1000.2 411.0h0.9v0.9h-0.9zM965.2 412.0h0.9v0.9h-0.9zM918.9 417.9h0.9v0.9h-0.9zM982.1 409.1h0.9v0.9h-0.9zM941.5 416.0h0.9v0.9h-0.9zM976.0 413.6h0.9v0.9h-0.9zM950.6 417.3h0.9v0.9h-0.9zM972.6 410.3h0.9v0.9h-0.9zM937.5 411.5h0.9v0.9h-0.9zM971.9 416.7h0.9v0.9h-0.9zM976.4 414.3h0.9v0.9h-0.9zM955.8 413.8h0.9v0.9h-0.9zM929.6 416.2h0.9v0.9h-0.9zM1006.6 412.6h0.9v0.9h-0.9zM1007.0 410.8h0.9v0.9h-0.9zM984.8 410.1h0.9v0.9h-0.9zM995.2 414.1h0.9v0.9h-0.9zM980.1 414.9h0.9v0.9h-0.9zM992.5 409.5h0.9v0.9h-0.9zM949.3 413.7h0.9v0.9h-0.9zM955.5 417.8h0.9v0.9h-0.9zM982.0 416.4h0.9v0.9h-0.9zM923.5 413.6h0.9v0.9h-0.9zM947.4 413.7h0.9v0.9h-0.9zM999.1 418.2h0.9v0.9h-0.9zM978.7 411.1h0.9v0.9h-0.9zM997.2 411.9h0.9v0.9h-0.9zM945.6 416.9h0.9v0.9h-0.9zM959.3 418.1h0.9v0.9h-0.9zM934.8 415.9h0.9v0.9h-0.9zM982.6 414.9h0.9v0.9h-0.9zM947.7 418.2h0.9v0.9h-0.9zM989.4 415.2h0.9v0.9h-0.9zM968.0 415.2h0.9v0.9h-0.9zM993.6 411.9h0.9v0.9h-0.9zM999.1 418.4h0.9v0.9h-0.9zM961.3 411.8h0.9v0.9h-0.9zM1001.2 415.9h0.9v0.9h-0.9zM958.3 417.2h0.9v0.9h-0.9zM938.6 415.8h0.9v0.9h-0.9zM921.7 414.7h0.9v0.9h-0.9zM981.4 417.8h0.9v0.9h-0.9zM1003.8 417.2h0.9v0.9h-0.9zM1000.2 412.0h0.9v0.9h-0.9zM968.1 416.3h0.9v0.9h-0.9zM933.6 413.7h0.9v0.9h-0.9zM969.3 412.0h0.9v0.9h-0.9zM966.7 411.3h0.9v0.9h-0.9zM920.5 416.3h0.9v0.9h-0.9zM978.8 413.6h0.9v0.9h-0.9zM968.0 414.8h0.9v0.9h-0.9zM1006.2 414.6h0.9v0.9h-0.9zM941.1 418.5h0.9v0.9h-0.9zM941.1 414.8h0.9v0.9h-0.9zM968.4 418.3h0.9v0.9h-0.9zM980.2 412.6h0.9v0.9h-0.9z"/>
<rect x="918" y="396.0" width="89.2" height="25.5" fill="#30B030" opacity="0.22"/>
<path d="M918,402.0 Q962.6,399.0 1007.2,394.0 V405.0 Q962.6,409.0 918,410.0Z" fill="#40C040" opacity="0.3"/>
<rect x="918" y="390.8" width="89.2" height="20.8" fill="url(#gb1)" opacity="0.32"/>
<path fill="#2A9A2A" opacity="0.26" d="M948.5 408.6h1v0.8h-1zM955.1 402.9h1v0.8h-1zM968.2 396.9h1v0.8h-1zM944.7 400.3h1v0.8h-1zM949.4 399.0h1v0.8h-1zM988.2 399.9h1v0.8h-1zM1006.0 405.2h1v0.8h-1zM966.5 404.1h1v0.8h-1zM1006.5 401.8h1v0.8h-1zM1007.1 408.7h1v0.8h-1zM974.1 397.0h1v0.8h-1zM989.9 408.5h1v0.8h-1zM930.1 398.7h1v0.8h-1zM932.7 404.3h1v0.8h-1zM935.1 406.2h1v0.8h-1zM933.8 405.1h1v0.8h-1zM993.0 407.6h1v0.8h-1zM933.8 404.1h1v0.8h-1zM949.8 397.3h1v0.8h-1zM958.9 402.1h1v0.8h-1zM939.3 398.4h1v0.8h-1zM966.5 399.4h1v0.8h-1zM957.1 401.9h1v0.8h-1zM980.6 396.9h1v0.8h-1zM927.6 397.7h1v0.8h-1zM941.5 400.0h1v0.8h-1zM983.0 402.4h1v0.8h-1zM949.6 402.6h1v0.8h-1zM928.6 400.9h1v0.8h-1zM973.3 406.7h1v0.8h-1zM992.1 396.6h1v0.8h-1zM994.8 399.9h1v0.8h-1zM937.6 397.9h1v0.8h-1zM1001.7 399.1h1v0.8h-1zM955.0 396.8h1v0.8h-1zM967.2 399.2h1v0.8h-1zM920.2 397.6h1v0.8h-1zM929.6 398.0h1v0.8h-1zM924.9 402.0h1v0.8h-1zM960.0 408.7h1v0.8h-1zM976.0 396.3h1v0.8h-1zM990.5 396.6h1v0.8h-1zM981.2 399.2h1v0.8h-1zM961.2 399.4h1v0.8h-1zM969.5 397.6h1v0.8h-1zM925.7 407.6h1v0.8h-1zM933.5 405.1h1v0.8h-1zM972.0 401.8h1v0.8h-1zM1003.2 405.0h1v0.8h-1zM986.9 398.2h1v0.8h-1zM964.5 401.7h1v0.8h-1zM1006.0 397.6h1v0.8h-1zM993.9 396.4h1v0.8h-1zM920.3 404.7h1v0.8h-1zM937.4 403.2h1v0.8h-1zM920.6 396.1h1v0.8h-1zM979.9 403.2h1v0.8h-1zM992.4 402.9h1v0.8h-1zM967.2 398.8h1v0.8h-1zM940.8 408.8h1v0.8h-1zM977.9 400.0h1v0.8h-1zM981.8 403.8h1v0.8h-1zM988.9 407.3h1v0.8h-1zM990.9 407.0h1v0.8h-1zM996.1 406.7h1v0.8h-1zM998.1 397.2h1v0.8h-1zM974.0 400.5h1v0.8h-1zM1003.9 408.3h1v0.8h-1zM961.9 404.1h1v0.8h-1zM970.9 397.2h1v0.8h-1zM983.4 399.0h1v0.8h-1zM996.7 405.3h1v0.8h-1zM924.4 405.8h1v0.8h-1zM989.1 406.2h1v0.8h-1zM1000.7 406.4h1v0.8h-1zM999.2 398.6h1v0.8h-1zM966.2 400.2h1v0.8h-1zM936.5 400.6h1v0.8h-1zM946.7 399.9h1v0.8h-1zM926.7 401.3h1v0.8h-1zM923.7 406.6h1v0.8h-1zM940.0 406.9h1v0.8h-1zM940.4 403.1h1v0.8h-1zM946.4 402.7h1v0.8h-1zM954.0 407.5h1v0.8h-1zM1006.2 404.5h1v0.8h-1zM957.2 403.9h1v0.8h-1zM988.2 405.8h1v0.8h-1zM933.9 407.8h1v0.8h-1zM925.4 406.6h1v0.8h-1zM929.7 396.1h1v0.8h-1zM971.0 405.6h1v0.8h-1zM943.9 400.7h1v0.8h-1zM925.7 407.0h1v0.8h-1zM991.9 399.1h1v0.8h-1zM961.3 406.0h1v0.8h-1zM1006.4 407.5h1v0.8h-1zM945.7 400.7h1v0.8h-1zM926.0 404.3h1v0.8h-1zM950.8 396.0h1v0.8h-1zM970.6 397.2h1v0.8h-1zM994.9 404.2h1v0.8h-1zM988.0 407.1h1v0.8h-1zM1005.6 398.7h1v0.8h-1zM959.7 406.1h1v0.8h-1zM961.6 400.6h1v0.8h-1zM940.7 406.8h1v0.8h-1zM987.0 397.6h1v0.8h-1zM957.3 396.8h1v0.8h-1zM922.3 403.0h1v0.8h-1zM921.3 407.8h1v0.8h-1zM962.9 407.8h1v0.8h-1zM991.4 401.3h1v0.8h-1zM940.5 403.9h1v0.8h-1zM984.2 403.1h1v0.8h-1zM959.1 406.9h1v0.8h-1zM979.2 403.2h1v0.8h-1zM954.8 403.6h1v0.8h-1zM984.9 406.9h1v0.8h-1zM943.1 406.9h1v0.8h-1zM1006.1 398.5h1v0.8h-1zM918.9 397.5h1v0.8h-1zM1003.6 405.8h1v0.8h-1zM953.4 403.1h1v0.8h-1zM923.1 398.5h1v0.8h-1zM962.7 404.7h1v0.8h-1zM953.3 404.5h1v0.8h-1zM983.4 406.1h1v0.8h-1zM930.8 398.8h1v0.8h-1zM943.2 397.0h1v0.8h-1z"/>
<path fill="#34C834" opacity="0.26" d="M946.8 409.0h1v0.8h-1zM993.6 408.6h1v0.8h-1zM919.8 398.8h1v0.8h-1zM987.1 404.4h1v0.8h-1zM923.7 396.6h1v0.8h-1zM919.7 398.1h1v0.8h-1zM980.2 398.1h1v0.8h-1zM941.8 407.9h1v0.8h-1zM953.7 403.3h1v0.8h-1zM982.2 401.1h1v0.8h-1zM920.1 396.1h1v0.8h-1zM921.9 399.7h1v0.8h-1zM958.6 405.2h1v0.8h-1zM942.5 402.3h1v0.8h-1zM970.9 398.6h1v0.8h-1zM939.6 408.0h1v0.8h-1zM964.0 396.3h1v0.8h-1zM928.3 402.2h1v0.8h-1zM950.8 403.0h1v0.8h-1zM998.4 407.1h1v0.8h-1zM950.8 400.1h1v0.8h-1zM977.3 404.1h1v0.8h-1zM977.9 396.1h1v0.8h-1zM934.8 398.8h1v0.8h-1zM995.3 408.1h1v0.8h-1zM950.1 398.3h1v0.8h-1zM995.1 402.9h1v0.8h-1zM989.8 402.3h1v0.8h-1zM990.5 406.2h1v0.8h-1zM967.0 405.7h1v0.8h-1zM946.8 403.6h1v0.8h-1zM945.3 401.1h1v0.8h-1zM967.7 407.9h1v0.8h-1zM975.9 400.3h1v0.8h-1zM951.9 396.3h1v0.8h-1zM955.0 398.7h1v0.8h-1zM924.5 408.2h1v0.8h-1zM943.6 403.1h1v0.8h-1zM952.7 406.5h1v0.8h-1zM979.2 404.6h1v0.8h-1zM931.9 402.1h1v0.8h-1zM997.4 408.6h1v0.8h-1zM971.3 402.2h1v0.8h-1zM966.7 401.7h1v0.8h-1zM928.8 397.1h1v0.8h-1zM957.3 407.4h1v0.8h-1zM975.8 399.0h1v0.8h-1zM944.9 406.1h1v0.8h-1zM965.2 399.1h1v0.8h-1zM923.4 402.4h1v0.8h-1zM944.0 398.2h1v0.8h-1zM955.1 403.9h1v0.8h-1zM981.4 408.1h1v0.8h-1zM1000.8 406.0h1v0.8h-1zM958.8 405.1h1v0.8h-1zM978.0 405.7h1v0.8h-1zM989.9 398.3h1v0.8h-1zM988.4 406.8h1v0.8h-1zM937.8 405.7h1v0.8h-1zM969.1 402.8h1v0.8h-1zM919.3 403.0h1v0.8h-1zM997.2 408.6h1v0.8h-1zM932.3 407.2h1v0.8h-1zM931.9 403.6h1v0.8h-1zM992.7 396.4h1v0.8h-1zM975.0 403.0h1v0.8h-1zM971.1 401.8h1v0.8h-1zM995.6 408.7h1v0.8h-1zM971.6 401.0h1v0.8h-1zM950.5 402.4h1v0.8h-1zM928.0 402.5h1v0.8h-1zM949.0 403.0h1v0.8h-1zM992.6 405.8h1v0.8h-1zM1000.5 397.0h1v0.8h-1zM919.9 397.9h1v0.8h-1zM922.1 402.1h1v0.8h-1zM983.9 396.4h1v0.8h-1zM1001.5 399.4h1v0.8h-1zM999.9 402.1h1v0.8h-1zM961.1 399.7h1v0.8h-1zM957.9 402.7h1v0.8h-1zM940.8 398.4h1v0.8h-1zM985.0 405.5h1v0.8h-1zM975.1 406.4h1v0.8h-1zM969.6 405.2h1v0.8h-1zM934.8 403.0h1v0.8h-1zM971.8 398.0h1v0.8h-1zM943.0 396.1h1v0.8h-1zM973.6 396.5h1v0.8h-1zM993.7 403.6h1v0.8h-1zM929.4 408.9h1v0.8h-1zM988.3 398.7h1v0.8h-1zM935.2 407.2h1v0.8h-1zM959.2 402.4h1v0.8h-1zM1004.6 399.0h1v0.8h-1zM1006.8 401.0h1v0.8h-1zM988.4 406.3h1v0.8h-1zM927.5 404.8h1v0.8h-1zM955.6 402.8h1v0.8h-1zM996.7 403.3h1v0.8h-1zM971.2 407.7h1v0.8h-1zM967.1 401.8h1v0.8h-1zM1004.5 404.4h1v0.8h-1zM960.1 398.7h1v0.8h-1zM937.7 398.9h1v0.8h-1zM927.1 407.0h1v0.8h-1zM936.9 406.0h1v0.8h-1zM1001.6 402.4h1v0.8h-1zM994.9 399.8h1v0.8h-1zM963.9 403.3h1v0.8h-1zM940.7 400.6h1v0.8h-1zM967.0 407.0h1v0.8h-1zM968.3 406.0h1v0.8h-1zM944.1 403.8h1v0.8h-1zM937.5 408.5h1v0.8h-1zM991.4 401.5h1v0.8h-1zM1003.3 396.8h1v0.8h-1zM970.7 408.6h1v0.8h-1zM941.4 397.8h1v0.8h-1zM1000.0 398.5h1v0.8h-1zM960.3 402.1h1v0.8h-1zM979.6 397.9h1v0.8h-1zM942.6 397.9h1v0.8h-1zM921.8 404.7h1v0.8h-1zM960.1 401.6h1v0.8h-1zM1003.3 399.6h1v0.8h-1zM1004.6 401.2h1v0.8h-1zM948.3 403.6h1v0.8h-1zM931.9 399.9h1v0.8h-1z"/>
<path fill="#48F048" opacity="0.26" d="M932.5 400.1h1v0.8h-1zM924.2 406.9h1v0.8h-1zM919.5 399.7h1v0.8h-1zM960.4 398.3h1v0.8h-1zM936.9 398.3h1v0.8h-1zM1003.6 397.5h1v0.8h-1zM978.2 396.4h1v0.8h-1zM946.0 400.9h1v0.8h-1zM973.5 397.9h1v0.8h-1zM1005.1 406.8h1v0.8h-1zM950.1 396.2h1v0.8h-1zM949.1 399.5h1v0.8h-1zM962.6 400.1h1v0.8h-1zM937.6 406.4h1v0.8h-1zM977.5 405.9h1v0.8h-1zM979.8 400.7h1v0.8h-1zM957.1 403.7h1v0.8h-1zM981.0 404.4h1v0.8h-1zM962.2 400.8h1v0.8h-1zM954.3 406.9h1v0.8h-1zM934.4 404.6h1v0.8h-1zM988.2 396.6h1v0.8h-1zM932.3 407.3h1v0.8h-1zM936.5 408.7h1v0.8h-1zM958.5 403.2h1v0.8h-1zM992.7 397.8h1v0.8h-1zM927.9 396.9h1v0.8h-1zM1005.8 396.2h1v0.8h-1zM922.9 404.4h1v0.8h-1zM962.2 399.7h1v0.8h-1zM999.3 407.3h1v0.8h-1zM957.7 399.8h1v0.8h-1zM990.5 405.7h1v0.8h-1zM934.6 406.9h1v0.8h-1zM966.6 401.8h1v0.8h-1zM960.2 408.3h1v0.8h-1zM979.9 405.5h1v0.8h-1zM938.1 408.0h1v0.8h-1zM997.7 400.6h1v0.8h-1zM1007.0 402.5h1v0.8h-1zM977.0 396.2h1v0.8h-1zM972.5 408.7h1v0.8h-1zM945.1 402.1h1v0.8h-1zM942.2 399.0h1v0.8h-1zM976.5 405.7h1v0.8h-1zM1004.5 397.5h1v0.8h-1zM1000.9 396.6h1v0.8h-1zM1005.7 403.3h1v0.8h-1zM968.3 399.3h1v0.8h-1zM1000.3 406.0h1v0.8h-1zM932.5 405.2h1v0.8h-1zM918.2 404.6h1v0.8h-1zM983.1 403.1h1v0.8h-1zM924.1 403.3h1v0.8h-1zM925.8 405.5h1v0.8h-1zM971.7 400.4h1v0.8h-1zM981.2 406.9h1v0.8h-1zM924.9 402.2h1v0.8h-1zM943.9 405.5h1v0.8h-1zM937.4 399.1h1v0.8h-1zM969.8 406.4h1v0.8h-1zM976.8 399.2h1v0.8h-1zM997.6 396.0h1v0.8h-1zM998.2 404.4h1v0.8h-1zM933.4 406.5h1v0.8h-1zM969.2 404.7h1v0.8h-1zM943.8 397.3h1v0.8h-1zM968.5 400.5h1v0.8h-1zM935.3 399.9h1v0.8h-1zM951.7 399.4h1v0.8h-1zM984.3 402.5h1v0.8h-1zM955.2 402.1h1v0.8h-1zM956.5 405.6h1v0.8h-1zM937.5 398.6h1v0.8h-1zM952.2 408.8h1v0.8h-1zM999.4 406.6h1v0.8h-1zM954.8 405.0h1v0.8h-1zM934.7 403.9h1v0.8h-1zM922.6 396.6h1v0.8h-1zM975.9 408.8h1v0.8h-1zM961.4 406.0h1v0.8h-1zM986.1 404.4h1v0.8h-1zM962.9 402.5h1v0.8h-1zM974.8 405.0h1v0.8h-1zM1006.0 402.7h1v0.8h-1zM1004.4 396.4h1v0.8h-1zM925.0 403.5h1v0.8h-1zM931.6 399.3h1v0.8h-1zM974.8 403.0h1v0.8h-1zM994.0 400.0h1v0.8h-1zM974.7 406.3h1v0.8h-1zM991.1 398.4h1v0.8h-1zM920.1 398.6h1v0.8h-1zM1004.5 400.5h1v0.8h-1zM936.3 399.6h1v0.8h-1zM924.8 400.8h1v0.8h-1zM924.5 407.7h1v0.8h-1zM919.4 397.5h1v0.8h-1zM972.2 399.3h1v0.8h-1zM985.9 399.5h1v0.8h-1zM979.3 404.9h1v0.8h-1zM1005.0 402.1h1v0.8h-1zM998.7 404.7h1v0.8h-1zM965.3 400.2h1v0.8h-1zM972.2 396.7h1v0.8h-1zM927.4 407.4h1v0.8h-1zM968.7 396.8h1v0.8h-1zM926.1 404.7h1v0.8h-1zM923.3 404.0h1v0.8h-1zM919.5 397.1h1v0.8h-1zM925.2 396.0h1v0.8h-1zM955.9 405.4h1v0.8h-1zM936.9 402.7h1v0.8h-1zM921.7 400.6h1v0.8h-1zM950.2 400.3h1v0.8h-1zM938.5 405.8h1v0.8h-1zM994.4 396.5h1v0.8h-1zM951.5 404.2h1v0.8h-1zM925.1 400.8h1v0.8h-1zM951.5 407.4h1v0.8h-1zM963.9 407.9h1v0.8h-1zM918.9 403.7h1v0.8h-1zM928.7 399.3h1v0.8h-1zM956.8 404.8h1v0.8h-1zM941.9 402.7h1v0.8h-1zM938.8 406.8h1v0.8h-1zM977.7 406.3h1v0.8h-1zM977.6 404.3h1v0.8h-1zM949.1 406.1h1v0.8h-1zM932.7 400.6h1v0.8h-1zM934.3 398.7h1v0.8h-1zM985.6 401.4h1v0.8h-1zM936.8 399.9h1v0.8h-1zM949.6 396.8h1v0.8h-1zM929.5 399.5h1v0.8h-1zM933.8 408.9h1v0.8h-1zM933.1 396.0h1v0.8h-1zM930.9 406.5h1v0.8h-1zM921.3 408.7h1v0.8h-1zM992.4 401.3h1v0.8h-1zM1003.3 400.0h1v0.8h-1zM987.4 400.1h1v0.8h-1zM960.2 403.4h1v0.8h-1zM964.2 398.7h1v0.8h-1zM936.4 401.8h1v0.8h-1zM980.9 400.5h1v0.8h-1z"/>
<rect x="999.2" y="434.7" width="5" height="1.8" fill="#701818"/>
</g>
<g font-size="10.8" text-anchor="middle" fill="#111">
<text x="779.5" y="294.3">FLG</text><text x="870.9" y="294.3">LOR</text><text x="963.4" y="294.3">IVL</text>
<text x="711.2" y="340">Control</text><text x="710.3" y="408.8">GF</text></g>
<g font-size="19.3" fill="#000">
<text x="809.5" y="491.1">Stratum corneum hydration</text>
<text x="809.5" y="513.8">Trans Epidermal Water Loss</text>
<text x="809.5" y="536.4">Erythema index</text>
<text x="809.5" y="559.1">Lactic acid sting test scores</text>
</g>
<path d="M1030.4,494.40000000000003 V478.00000000000006 M1027.0,482.00000000000006 L1030.4,477.40000000000003 L1033.8000000000002,482.00000000000006" stroke="#000" stroke-width="1.15" fill="none"/>
<path d="M1038.1,500.99999999999994 V516.6999999999999 M1034.6999999999998,512.6999999999999 L1038.1,517.3 L1041.5,512.6999999999999" stroke="#000" stroke-width="1.15" fill="none"/>
<path d="M946.2,523.6 V539.3 M942.8000000000001,535.3 L946.2,539.9 L949.6,535.3" stroke="#000" stroke-width="1.15" fill="none"/>
<path d="M1030.2,546.3000000000001 V562.0 M1026.8,558.0 L1030.2,562.6 L1033.6000000000001,558.0" stroke="#000" stroke-width="1.15" fill="none"/>
<path d="M745,539 L745,548 Q735,551 731,556 L737,575 L771,575 L778,556 Q773,551 764,548 L764,539Z" fill="#FFF6EE" stroke="#9A7050" stroke-width="0.5"/>
<path d="M737,561 Q754,566 771,561" fill="none" stroke="#9A7050" stroke-width="0.4"/>
<path d="M731,556 Q726,562 727,568 Q731,572 735,566 L739,552 Q741,545 740,538 L737,532 Q733,534 734,540 Z" fill="#FDEFE2" stroke="#9A7050" stroke-width="0.5"/>
<path d="M778,556 Q783,562 782,568 Q778,572 774,566 L772,554 Q771,546 774,540 L777,537 Q780,540 779,546Z" fill="#FDEFE2" stroke="#9A7050" stroke-width="0.5"/>
<ellipse cx="765.4" cy="469.3" rx="11" ry="10.3" fill="#C98A4E" stroke="#A06A38" stroke-width="0.5"/>
<path d="M770,464 q4,3 0,7 q-4,2 -4,-2 q0,-2 2,-2" fill="none" stroke="#9A6030" stroke-width="0.6"/>
<path d="M723,512 Q720,476 754,474 Q788,476 784.5,512 Q783,524 778,528 L731,528 Q725,524 723,512Z" fill="#C98A4E" stroke="#A06A38" stroke-width="0.5"/>
<path d="M723.5,508 Q721,478 754,476 Q787,478 784,506 L778,504 Q779,487 754,486 Q730,487 730,505Z" fill="#E8949C" stroke="#C87078" stroke-width="0.4"/>
<ellipse cx="726.5" cy="519.5" rx="3.6" ry="4.2" fill="#FDE8D4" stroke="#9A7050" stroke-width="0.4"/><ellipse cx="781.5" cy="519.5" rx="3.6" ry="4.2" fill="#FDE8D4" stroke="#9A7050" stroke-width="0.4"/>
<path d="M730.5,512 Q731,492 754,491 Q777,492 777.5,512 Q777,538 754,541.5 Q731,538 730.5,512Z" fill="#FDEBDA" stroke="#9A7050" stroke-width="0.45"/>
<path d="M730.5,506 Q738,496 752,499 Q744,493 754,491 Q770,492 777.5,506 Q770,497 760,499" fill="#C98A4E" opacity="0.9"/>
<circle cx="739.2" cy="521" r="3.7" fill="#3A2A20"/><circle cx="767" cy="521" r="3.7" fill="#3A2A20"/>
<circle cx="738.2" cy="519.8" r="1" fill="#fff"/><circle cx="766" cy="519.8" r="1" fill="#fff"/>
<path d="M733.5,518 q5.5,-3.5 11,0 M761.5,518 q5.5,-3.5 11,0" stroke="#2A1A10" stroke-width="0.9" fill="none"/>
<path d="M736,509.5 q4,-2 7,-0.5 M764,509 q4,-1.5 7,0.5" stroke="#6A4A30" stroke-width="0.5" fill="none"/>
<path d="M750.5,531.8 q4,2.8 8,0 z" fill="#F06868" stroke="#F06868" stroke-width="0.6"/>
<ellipse cx="767.5" cy="530.5" rx="3" ry="2" fill="#F8B0A8" opacity="0.7"/>
<path d="M735,538 Q732,530 736,526 Q740,526 742,532 L741,540Z" fill="#FDEFE2" stroke="#9A7050" stroke-width="0.45"/>
<rect x="733" y="525" width="7" height="6" rx="1" fill="#fff" stroke="#aaa" stroke-width="0.4" transform="rotate(-20 736.5 528)"/>
<path d="M774,541 Q773,535 776,533 Q780,533 781,538 L780,545Z" fill="#FDEFE2" stroke="#9A7050" stroke-width="0.45"/>
<path d="M775,534 l2,-2 l2,1 l-1,2z" fill="#8A6A50"/>
<rect x="1091.8" y="88.8" width="123.7" height="73.7" rx="9" fill="#92D050"/>
<g font-size="22.2" text-anchor="middle" fill="#000"><text x="1154" y="119.8">Gardeniae</text><text x="1154" y="147.7">Fructus</text></g>
<ellipse cx="1154" cy="239.5" rx="62.2" ry="27.5" fill="#8FAADC"/>
<text x="1130.7" y="247.3" font-size="21.6" fill="#000">AHR</text>
<path d="M1151.4,162.5 H1156.0 V197.6 H1161.0 L1153.7,211.1 L1146.4,197.6 H1151.4Z" fill="#000"/>
<path d="M1151.6,269 H1156.2 V319.3 H1161.2 L1153.9,332.8 L1146.6,319.3 H1151.6Z" fill="#000"/>
<path d="M1148.9,440.6 H1153.5 V488.3 H1159.1 L1151.2,504.8 L1143.3,488.3 H1148.9Z" fill="#000"/>
<path d="M1185.0,252.3 H1188.4 V232.4 H1192.0 L1186.7,221.4 L1181.4,232.4 H1185.0Z" fill="#000"/>
<path d="M1222.7,536.3 H1226.1 V514.6 H1229.7 L1224.4,502.6 L1219.1,514.6 H1222.7Z" fill="#000"/>
<g fill="#FCEBC4"><ellipse cx="1134.2" cy="363.8" rx="48.4" ry="26.7"/><ellipse cx="1191" cy="397.5" rx="42.7" ry="27.5"/><ellipse cx="1120" cy="418.9" rx="45.9" ry="27.5"/></g>
<path d="M1212.4,412.8 H1216.0 V394.2 H1220.0 L1214.2,381.2 L1208.4,394.2 H1212.4Z" fill="#000"/>
<g font-size="22.7" fill="#000"><text x="1134.2" y="373.2" text-anchor="middle">FLG</text><text x="1161.1" y="405.3">LOR</text><text x="1103.1" y="426.7">IVL</text></g>
<text x="1091" y="531.8" font-size="25.3" fill="#000">Skin barrier</text>
<g stroke-width="1.5"><line x1="1030.7" y1="362.7" x2="1034.3" y2="364.5" stroke="#2CB5D8"/><line x1="1034.3" y1="364.5" x2="1037.8" y2="366.3" stroke="#E8553F"/><line x1="1037.8" y1="359.1" x2="1039.6" y2="356.5" stroke="#2CB5D8"/><line x1="1039.6" y1="356.5" x2="1041.4" y2="353.8" stroke="#E8553F"/><line x1="1043.2" y1="360.0" x2="1045.0" y2="354.7" stroke="#2CB5D8"/><line x1="1045.0" y1="354.7" x2="1046.7" y2="349.3" stroke="#E8553F"/><line x1="1048.5" y1="360.9" x2="1050.3" y2="354.0" stroke="#2CB5D8"/><line x1="1050.3" y1="354.0" x2="1052.1" y2="347.0" stroke="#E8553F"/><line x1="1053.9" y1="360.6" x2="1055.7" y2="353.4" stroke="#2CB5D8"/><line x1="1055.7" y1="353.4" x2="1057.4" y2="346.3" stroke="#E8553F"/><line x1="1059.2" y1="358.8" x2="1061.0" y2="352.5" stroke="#2CB5D8"/><line x1="1061.0" y1="352.5" x2="1062.8" y2="346.3" stroke="#E8553F"/><line x1="1064.6" y1="355.6" x2="1066.2" y2="351.3" stroke="#2CB5D8"/><line x1="1066.2" y1="351.3" x2="1067.8" y2="347.0" stroke="#E8553F"/><line x1="1072.1" y1="341.3" x2="1076.8" y2="343.1" stroke="#2CB5D8"/><line x1="1076.8" y1="343.1" x2="1081.5" y2="344.9" stroke="#E8553F"/><line x1="1071.7" y1="334.2" x2="1077.9" y2="336.4" stroke="#2CB5D8"/><line x1="1077.9" y1="336.4" x2="1084.2" y2="338.6" stroke="#E8553F"/><line x1="1071.7" y1="327.1" x2="1078.5" y2="329.3" stroke="#2CB5D8"/><line x1="1078.5" y1="329.3" x2="1085.3" y2="331.5" stroke="#E8553F"/><line x1="1073.5" y1="320.8" x2="1079.0" y2="322.6" stroke="#2CB5D8"/><line x1="1079.0" y1="322.6" x2="1084.5" y2="324.4" stroke="#E8553F"/><line x1="1077.1" y1="317.2" x2="1080.6" y2="317.7" stroke="#2CB5D8"/><line x1="1080.6" y1="317.7" x2="1084.2" y2="318.1" stroke="#E8553F"/><line x1="1087.7" y1="314.6" x2="1089.5" y2="309.4" stroke="#2CB5D8"/><line x1="1089.5" y1="309.4" x2="1091.3" y2="304.2" stroke="#E8553F"/><line x1="1093.1" y1="315.5" x2="1094.9" y2="308.6" stroke="#2CB5D8"/><line x1="1094.9" y1="308.6" x2="1096.7" y2="301.7" stroke="#E8553F"/><line x1="1098.4" y1="315.5" x2="1100.2" y2="308.2" stroke="#2CB5D8"/><line x1="1100.2" y1="308.2" x2="1102.0" y2="301.0" stroke="#E8553F"/><line x1="1103.8" y1="314.6" x2="1105.6" y2="307.7" stroke="#2CB5D8"/><line x1="1105.6" y1="307.7" x2="1107.4" y2="300.8" stroke="#E8553F"/><line x1="1109.1" y1="312.8" x2="1110.9" y2="307.3" stroke="#2CB5D8"/><line x1="1110.9" y1="307.3" x2="1112.7" y2="301.7" stroke="#E8553F"/><line x1="1113.6" y1="309.6" x2="1115.4" y2="306.3" stroke="#2CB5D8"/><line x1="1115.4" y1="306.3" x2="1117.2" y2="303.0" stroke="#E8553F"/><line x1="1116.3" y1="296.7" x2="1121.6" y2="297.6" stroke="#2CB5D8"/><line x1="1121.6" y1="297.6" x2="1127.0" y2="298.5" stroke="#E8553F"/><line x1="1115.4" y1="288.7" x2="1120.3" y2="291.4" stroke="#2CB5D8"/><line x1="1120.3" y1="291.4" x2="1125.2" y2="294.1" stroke="#E8553F"/><line x1="1114.5" y1="284.3" x2="1117.2" y2="286.0" stroke="#2CB5D8"/><line x1="1117.2" y1="286.0" x2="1119.8" y2="287.8" stroke="#E8553F"/></g>
<path d="M1041.4,384.1 C1040.7,381.7 1037.2,374.6 1036.9,369.8 C1036.6,365.1 1037.1,359.5 1039.6,355.6 C1042.1,351.7 1047.6,347.8 1052.1,346.3 C1056.5,344.8 1062.8,346.3 1066.4,346.7 C1069.9,347.0 1070.8,349.3 1073.5,348.4 C1076.2,347.6 1080.4,344.6 1082.4,341.3 C1084.4,338.0 1085.5,333.4 1085.6,328.8 C1085.8,324.2 1082.3,317.8 1083.3,313.7 C1084.2,309.5 1087.9,306.0 1091.3,303.9 C1094.7,301.7 1099.6,300.8 1103.8,300.7 C1108.0,300.5 1112.7,302.9 1116.3,303.0 C1119.8,303.1 1123.0,302.0 1125.2,301.2 C1127.3,300.4 1128.5,298.7 1129.1,298.2" fill="none" stroke="#E8553F" stroke-width="2.3" stroke-linecap="round"/>
<path d="M1027.1,361.8 C1028.6,361.1 1031.9,357.4 1036.0,357.4 C1040.2,357.3 1047.0,361.7 1052.1,361.3 C1057.1,360.8 1062.8,356.8 1066.4,354.7 C1069.9,352.5 1072.6,351.9 1073.5,348.4 C1074.4,345.0 1072.0,338.6 1071.7,334.2 C1071.4,329.7 1069.8,325.1 1071.7,321.7 C1073.6,318.3 1078.8,314.7 1083.3,313.7 C1087.7,312.6 1093.5,315.9 1098.4,315.5 C1103.3,315.0 1109.1,312.9 1112.7,311.0 C1116.3,309.1 1119.1,307.1 1119.8,303.9 C1120.6,300.6 1118.2,295.0 1117.2,291.4 C1116.1,287.8 1113.6,285.2 1113.6,282.5 C1113.6,279.8 1116.6,276.5 1117.2,275.3" fill="none" stroke="#2CB5D8" stroke-width="2.3" stroke-linecap="round"/>
</svg>
</body></html>
